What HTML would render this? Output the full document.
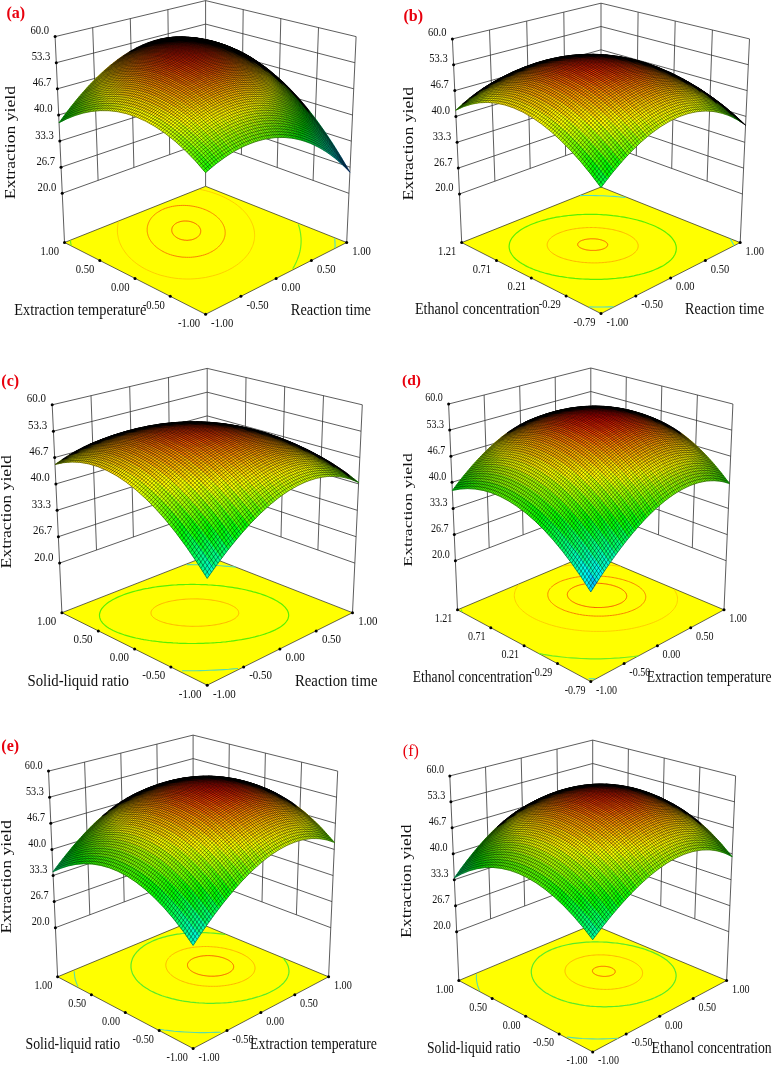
<!DOCTYPE html><html><head><meta charset="utf-8"><title>Response surfaces</title>
<style>html,body{margin:0;padding:0;background:#fff}svg{display:block;will-change:transform}text{font-family:"Liberation Serif",serif;fill:#111}</style></head><body>
<svg width="772" height="1065" viewBox="0 0 772 1065">
<rect width="772" height="1065" fill="#fff"/>
<g>
<path fill="none" stroke="#333" stroke-width=".8" d="M55.1,36.6L205.6,0.6 356.1,36.6M56.3,62.7L205.6,24.1 354.9,62.7M57.4,88.8L205.6,47.6 353.7,88.8M58.6,115L205.6,71.1 352.5,115M59.8,141.1L205.6,94.7 351.3,141.1M61,167.2L205.6,118.2 350.1,167.2M62.2,193.3L205.6,141.7 348.9,193.3M92.7,27.6L98.1,180.4M243.2,9.6L241.4,154.6M130.3,18.6L133.9,167.5M280.8,18.6L277.2,167.5M167.9,9.6L169.7,154.6M318.5,27.6L313.1,180.4M55.1,36.6L64.5,242.5M205.6,0.6L205.6,186.3M356.1,36.6L346.7,242.5"/>
<path fill="#ff0" stroke="#222" stroke-width=".7" d="M64.5,242.5 L205.6,314.3 346.7,242.5 205.6,186.3z"/>
<path fill="none" stroke="#f85a00" stroke-width="1.0" d="M198,225.5L197.7,225.2L197.5,225L197.2,224.7L196.8,224.5L196.5,224.3L196.1,224L195.8,223.8L195.4,223.5L194.9,223.3L194.5,223.1L194,222.8L193.5,222.6L193,222.4L192.4,222.2L191.8,222L191.2,221.8L190.5,221.6L189.9,221.5L189.2,221.3L188.5,221.2L187.7,221.1L187,221.1L186.2,221L185.5,221L184.7,221L183.9,221L183.2,221.1L182.4,221.2L181.7,221.3L181,221.4L180.3,221.6L179.7,221.8L179.1,222L178.5,222.2L177.9,222.4L177.4,222.6L176.9,222.9L176.4,223.1L175.9,223.4L175.5,223.7L175.2,223.9L174.8,224.2L174.5,224.5L174.2,224.8L173.9,225L173.7,225.3L173.4,225.6L173.2,225.8L173,226.1L172.8,226.4L172.7,226.6L172.5,226.9L172.4,227.1L172.3,227.4L172.2,227.6L172.1,227.9L172,228.1L172,228.4L171.9,228.6L171.9,228.8L171.8,229.1L171.8,229.3L171.8,229.5L171.7,229.7L171.7,230L171.7,230.2L171.7,230.4L171.8,230.6L171.8,230.8L171.8,231.1L171.9,231.3L171.9,231.5L171.9,231.7L172,231.9L172.1,232.2L172.2,232.4L172.2,232.6L172.3,232.8L172.4,233.1L172.5,233.3L172.7,233.5L172.8,233.7L172.9,234L173.1,234.2L173.3,234.4L173.4,234.7L173.6,234.9L173.8,235.2L174.1,235.4L174.3,235.6L174.5,235.9L174.8,236.1L175.1,236.4L175.4,236.6L175.8,236.9L176.1,237.2L176.5,237.4L176.9,237.7L177.3,237.9L177.8,238.2L178.3,238.4L178.8,238.6L179.3,238.9L179.9,239.1L180.5,239.3L181.2,239.5L181.8,239.7L182.5,239.8L183.2,239.9L184,240.1L184.7,240.2L185.5,240.2L186.3,240.3L187,240.3L187.8,240.3L188.6,240.2L189.4,240.1L190.1,240L190.9,239.9L191.6,239.8L192.3,239.6L192.9,239.4L193.5,239.2L194.1,239L194.7,238.7L195.2,238.5L195.7,238.2L196.2,238L196.6,237.7L197.1,237.4L197.4,237.1L197.8,236.9L198.1,236.6L198.4,236.3L198.7,236L198.9,235.8L199.1,235.5L199.3,235.2L199.5,234.9L199.7,234.7L199.9,234.4L200,234.2L200.1,233.9L200.2,233.7L200.3,233.4L200.4,233.2L200.5,232.9L200.6,232.7L200.6,232.4L200.6,232.2L200.7,232L200.7,231.7L200.7,231.5L200.7,231.3L200.7,231.1L200.7,230.8L200.7,230.6L200.7,230.4L200.7,230.2L200.6,230L200.6,229.7L200.5,229.5L200.5,229.3L200.4,229.1L200.3,228.9L200.2,228.7L200.1,228.4L200,228.2L199.9,228L199.8,227.8L199.7,227.6L199.5,227.3L199.4,227.1L199.2,226.9L199.1,226.6L198.9,226.4L198.7,226.2L198.5,225.9L198.2,225.7L198,225.5"/>
<path fill="none" stroke="#fa8200" stroke-width="1.0" d="M217.4,217.2L216.7,216.5L215.9,215.9L215.1,215.3L214.2,214.6L213.3,214L212.4,213.4L211.4,212.8L210.3,212.1L209.1,211.5L207.9,210.9L206.7,210.3L205.3,209.7L203.9,209.2L202.4,208.6L200.8,208.1L199.2,207.6L197.5,207.2L195.8,206.8L193.9,206.4L192.1,206.1L190.1,205.8L188.2,205.6L186.2,205.5L184.2,205.4L182.2,205.4L180.2,205.5L178.2,205.6L176.2,205.8L174.3,206.1L172.4,206.4L170.6,206.8L168.8,207.3L167.1,207.8L165.5,208.3L164,208.9L162.6,209.5L161.2,210.2L160,210.9L158.8,211.6L157.7,212.3L156.6,213L155.7,213.7L154.8,214.4L154,215.1L153.3,215.9L152.6,216.6L151.9,217.3L151.4,218L150.8,218.7L150.4,219.4L149.9,220.1L149.5,220.8L149.2,221.5L148.8,222.1L148.6,222.8L148.3,223.4L148.1,224.1L147.9,224.7L147.7,225.3L147.6,226L147.4,226.6L147.3,227.2L147.3,227.8L147.2,228.4L147.2,229L147.2,229.6L147.2,230.2L147.2,230.8L147.2,231.4L147.3,232L147.4,232.6L147.5,233.2L147.6,233.8L147.8,234.4L147.9,235L148.1,235.6L148.3,236.2L148.6,236.8L148.8,237.4L149.1,238L149.4,238.6L149.7,239.3L150.1,239.9L150.5,240.5L150.9,241.2L151.4,241.8L151.9,242.5L152.4,243.2L153,243.8L153.6,244.5L154.3,245.2L155,245.9L155.8,246.6L156.6,247.3L157.5,248L158.5,248.7L159.5,249.4L160.6,250.1L161.8,250.8L163,251.5L164.3,252.2L165.8,252.9L167.3,253.5L168.8,254.1L170.5,254.7L172.2,255.2L174.1,255.7L176,256.1L177.9,256.5L180,256.8L182,257.1L184.2,257.2L186.3,257.3L188.4,257.3L190.6,257.3L192.7,257.1L194.8,256.9L196.9,256.6L198.9,256.2L200.8,255.8L202.7,255.3L204.5,254.8L206.2,254.2L207.8,253.6L209.3,252.9L210.7,252.2L212.1,251.5L213.3,250.7L214.5,250L215.6,249.2L216.6,248.5L217.5,247.7L218.3,247L219.1,246.2L219.8,245.4L220.5,244.7L221.1,243.9L221.6,243.2L222.1,242.5L222.6,241.8L223,241L223.3,240.3L223.7,239.7L224,239L224.2,238.3L224.4,237.6L224.6,237L224.8,236.3L224.9,235.7L225,235.1L225.1,234.4L225.1,233.8L225.2,233.2L225.2,232.6L225.1,232L225.1,231.4L225.1,230.8L225,230.2L224.9,229.6L224.8,229L224.6,228.5L224.5,227.9L224.3,227.3L224.1,226.7L223.9,226.1L223.6,225.6L223.3,225L223.1,224.4L222.7,223.8L222.4,223.2L222,222.6L221.6,222L221.2,221.4L220.8,220.8L220.3,220.2L219.8,219.6L219.2,219L218.6,218.4L218,217.8L217.4,217.2"/>
<path fill="none" stroke="#ffc800" stroke-width="0.9" d="M240,207.4L238.7,206.4L237.4,205.3L236,204.2L234.5,203.2L232.9,202.1L231.2,201.1L229.4,200L227.5,199L225.5,197.9L223.4,196.9L221.2,195.9L218.9,194.9L216.5,194L213.9,193.1L211.2,192.2L208.4,191.4L205.5,190.6L202.5,189.9L199.4,189.3M118.6,221.4L118.3,222.5L118,223.6L117.8,224.7L117.7,225.8L117.6,226.8L117.5,227.9L117.4,228.9L117.4,230L117.4,231L117.4,232.1L117.5,233.1L117.6,234.2L117.8,235.2L118,236.3L118.2,237.3L118.4,238.4L118.7,239.5L119.1,240.6L119.4,241.6L119.8,242.7L120.3,243.8L120.8,245L121.3,246.1L121.9,247.2L122.6,248.4L123.3,249.5L124.1,250.7L124.9,251.9L125.8,253.1L126.8,254.4L127.8,255.6L129,256.9L130.2,258.1L131.6,259.4L133,260.7L134.6,262L136.2,263.3L138,264.6L140,265.9L142,267.2L144.3,268.5L146.6,269.7L149.2,270.9L151.9,272.1L154.7,273.2L157.7,274.3L160.9,275.3L164.2,276.1L167.6,276.9L171.2,277.6L174.9,278.2L178.6,278.6L182.5,278.9L186.3,279L190.2,279L194.1,278.8L197.9,278.5L201.7,278L205.4,277.5L208.9,276.7L212.4,275.9L215.7,275L218.9,274L221.9,272.9L224.7,271.7L227.4,270.5L229.9,269.2L232.3,267.9L234.4,266.5L236.5,265.2L238.4,263.8L240.1,262.4L241.7,261L243.2,259.7L244.5,258.3L245.8,256.9L246.9,255.6L247.9,254.3L248.9,253L249.7,251.7L250.5,250.4L251.1,249.1L251.7,247.9L252.3,246.6L252.8,245.4L253.2,244.2L253.5,243.1L253.8,241.9L254.1,240.8L254.3,239.6L254.4,238.5L254.5,237.4L254.6,236.3L254.6,235.3L254.6,234.2L254.5,233.1L254.4,232.1L254.3,231L254.1,230L253.9,229L253.7,227.9L253.4,226.9L253.1,225.9L252.7,224.9L252.3,223.9L251.9,222.9L251.4,221.9L250.9,220.8L250.4,219.8L249.8,218.8L249.2,217.8L248.5,216.8L247.8,215.8L247,214.7L246.2,213.7L245.3,212.7L244.3,211.6L243.4,210.6L242.3,209.5L241.2,208.5L240,207.4"/>
<path fill="none" stroke="#6ef01e" stroke-width="1.2" d="M70.4,240.3L70.6,242.1L70.9,243.9L71.3,245.8M292.7,268.7L294.1,266.4L295.2,264.2L296.3,262.1L297.2,259.9L298,257.8L298.8,255.8L299.4,253.7L299.9,251.7L300.3,249.7L300.6,247.8L300.8,245.9L301,244L301.1,242.1L301.1,240.3L301.1,238.5L300.9,236.7L300.7,234.9L300.5,233.1L300.2,231.4L299.8,229.6L299.4,227.9L298.9,226.2L298.3,224.5"/>
<path fill="none" stroke="#46dcd2" stroke-width="1.1" d="M335,248L335.1,245.6L335,243.2L334.9,240.8L334.6,238.5"/>
<defs><linearGradient id="a0" gradientUnits="userSpaceOnUse" x1="58.5" x2="213" y1="0" y2="0"><stop offset="0" stop-color="#00f510"/><stop offset=".025" stop-color="#00f510"/><stop offset=".05" stop-color="#0bf500"/><stop offset=".175" stop-color="#82f500"/><stop offset=".3" stop-color="#d1f800"/><stop offset=".425" stop-color="#fcfc00"/><stop offset=".525" stop-color="#fffa00"/><stop offset=".6" stop-color="#fbff00"/><stop offset=".75" stop-color="#c2ff00"/><stop offset=".875" stop-color="#6fff00"/><stop offset=".975" stop-color="#16ff00"/><stop offset="1" stop-color="#16ff00"/></linearGradient><linearGradient id="a1" gradientUnits="userSpaceOnUse" x1="65" x2="219.9" y1="0" y2="0"><stop offset="0" stop-color="#24f900"/><stop offset=".025" stop-color="#25f900"/><stop offset=".15" stop-color="#a1f800"/><stop offset=".275" stop-color="#f5f900"/><stop offset=".45" stop-color="#ffdc00"/><stop offset=".55" stop-color="#ffde00"/><stop offset=".7" stop-color="#fbff00"/><stop offset=".85" stop-color="#9eff00"/><stop offset=".975" stop-color="#2eff00"/><stop offset="1" stop-color="#2eff00"/></linearGradient><linearGradient id="a2" gradientUnits="userSpaceOnUse" x1="71.6" x2="226.8" y1="0" y2="0"><stop offset="0" stop-color="#5bfe00"/><stop offset=".025" stop-color="#5cfe00"/><stop offset=".1" stop-color="#a9fc00"/><stop offset=".2" stop-color="#f7fb00"/><stop offset=".35" stop-color="#feca00"/><stop offset=".475" stop-color="#febd00"/><stop offset=".6" stop-color="#ffcd00"/><stop offset=".725" stop-color="#fff600"/><stop offset=".75" stop-color="#fcff00"/><stop offset=".825" stop-color="#c9ff00"/><stop offset=".975" stop-color="#41ff00"/><stop offset="1" stop-color="#41ff00"/></linearGradient><linearGradient id="a3" gradientUnits="userSpaceOnUse" x1="78.1" x2="233.5" y1="0" y2="0"><stop offset="0" stop-color="#8dff00"/><stop offset=".025" stop-color="#8eff00"/><stop offset=".1" stop-color="#d9ff00"/><stop offset=".15" stop-color="#fffc00"/><stop offset=".3" stop-color="#fcb900"/><stop offset=".45" stop-color="#fba200"/><stop offset=".6" stop-color="#feb600"/><stop offset=".775" stop-color="#fffc00"/><stop offset=".85" stop-color="#caff00"/><stop offset=".975" stop-color="#51ff00"/><stop offset="1" stop-color="#51ff00"/></linearGradient><linearGradient id="a4" gradientUnits="userSpaceOnUse" x1="84.5" x2="240.2" y1="0" y2="0"><stop offset="0" stop-color="#baff00"/><stop offset=".025" stop-color="#bcff00"/><stop offset=".1" stop-color="#fffb00"/><stop offset=".25" stop-color="#f9ab00"/><stop offset=".4" stop-color="#f78a00"/><stop offset=".5" stop-color="#f98d00"/><stop offset=".625" stop-color="#fda900"/><stop offset=".8" stop-color="#fffc00"/><stop offset=".9" stop-color="#acff00"/><stop offset=".975" stop-color="#5cfd00"/><stop offset="1" stop-color="#5bfd00"/></linearGradient><linearGradient id="a5" gradientUnits="userSpaceOnUse" x1="91" x2="246.8" y1="0" y2="0"><stop offset="0" stop-color="#e4ff00"/><stop offset=".025" stop-color="#e5ff00"/><stop offset=".05" stop-color="#feff00"/><stop offset=".075" stop-color="#fe0"/><stop offset=".15" stop-color="#f9bc00"/><stop offset=".225" stop-color="#f39800"/><stop offset=".325" stop-color="#f27b00"/><stop offset=".4" stop-color="#f37000"/><stop offset=".475" stop-color="#f57300"/><stop offset=".625" stop-color="#fb9900"/><stop offset=".825" stop-color="#fcff00"/><stop offset=".975" stop-color="#63fc00"/><stop offset="1" stop-color="#62fc00"/></linearGradient><linearGradient id="a6" gradientUnits="userSpaceOnUse" x1="97.4" x2="253.3" y1="0" y2="0"><stop offset="0" stop-color="#fff700"/><stop offset=".025" stop-color="#fff600"/><stop offset=".125" stop-color="#f1aa00"/><stop offset=".25" stop-color="#ec7400"/><stop offset=".35" stop-color="#ed5a00"/><stop offset=".425" stop-color="#f05600"/><stop offset=".525" stop-color="#f46800"/><stop offset=".65" stop-color="#fa9700"/><stop offset=".825" stop-color="#fffb00"/><stop offset=".875" stop-color="#d5fe00"/><stop offset=".975" stop-color="#66fa00"/><stop offset="1" stop-color="#65fa00"/></linearGradient><linearGradient id="a7" gradientUnits="userSpaceOnUse" x1="103.7" x2="259.7" y1="0" y2="0"><stop offset="0" stop-color="#f6d400"/><stop offset=".025" stop-color="#f6d300"/><stop offset=".1" stop-color="#e79b00"/><stop offset=".225" stop-color="#e46100"/><stop offset=".325" stop-color="#e74600"/><stop offset=".4" stop-color="#ea4100"/><stop offset=".475" stop-color="#ef4a00"/><stop offset=".575" stop-color="#f46a00"/><stop offset=".7" stop-color="#fca700"/><stop offset=".825" stop-color="#fef600"/><stop offset=".85" stop-color="#f0fd00"/><stop offset=".975" stop-color="#64f900"/><stop offset="1" stop-color="#63f900"/></linearGradient><linearGradient id="a8" gradientUnits="userSpaceOnUse" x1="110.1" x2="266.1" y1="0" y2="0"><stop offset="0" stop-color="#dcaa00"/><stop offset=".025" stop-color="#dca900"/><stop offset=".075" stop-color="#d78a00"/><stop offset=".225" stop-color="#da4900"/><stop offset=".375" stop-color="#e42f00"/><stop offset=".45" stop-color="#e93600"/><stop offset=".55" stop-color="#f05500"/><stop offset=".7" stop-color="#fba200"/><stop offset=".825" stop-color="#fdf400"/><stop offset=".85" stop-color="#effc00"/><stop offset=".975" stop-color="#60f700"/><stop offset="1" stop-color="#5ef700"/></linearGradient><linearGradient id="a9" gradientUnits="userSpaceOnUse" x1="116.4" x2="272.3" y1="0" y2="0"><stop offset="0" stop-color="#b67e00"/><stop offset=".025" stop-color="#b67e00"/><stop offset=".25" stop-color="#d22f00"/><stop offset=".325" stop-color="#da2400"/><stop offset=".425" stop-color="#e32700"/><stop offset=".5" stop-color="#ea3a00"/><stop offset=".575" stop-color="#f05a00"/><stop offset=".75" stop-color="#fec200"/><stop offset=".825" stop-color="#fbf500"/><stop offset=".875" stop-color="#cef900"/><stop offset=".975" stop-color="#57f600"/><stop offset="1" stop-color="#55f600"/></linearGradient><linearGradient id="a10" gradientUnits="userSpaceOnUse" x1="122.7" x2="278.5" y1="0" y2="0"><stop offset="0" stop-color="#754900"/><stop offset=".025" stop-color="#774a00"/><stop offset=".075" stop-color="#9b4f00"/><stop offset=".15" stop-color="#b43a00"/><stop offset=".325" stop-color="#d21900"/><stop offset=".45" stop-color="#e12500"/><stop offset=".575" stop-color="#ee5700"/><stop offset=".725" stop-color="#fcb400"/><stop offset=".825" stop-color="#faf900"/><stop offset=".975" stop-color="#4bf400"/><stop offset="1" stop-color="#48f400"/></linearGradient><linearGradient id="a11" gradientUnits="userSpaceOnUse" x1="128.9" x2="284.6" y1="0" y2="0"><stop offset="0" stop-color="#000"/><stop offset=".025" stop-color="#000"/><stop offset=".05" stop-color="#3f2100"/><stop offset=".075" stop-color="#662d00"/><stop offset=".125" stop-color="#8e2d00"/><stop offset=".175" stop-color="#a42400"/><stop offset=".3" stop-color="#c51300"/><stop offset=".425" stop-color="#da1d00"/><stop offset=".55" stop-color="#ea4b00"/><stop offset=".725" stop-color="#fcba00"/><stop offset=".8" stop-color="#faed00"/><stop offset=".825" stop-color="#eff800"/><stop offset=".975" stop-color="#3bf300"/><stop offset="1" stop-color="#37f300"/></linearGradient><linearGradient id="a12" gradientUnits="userSpaceOnUse" x1="135" x2="290.6" y1="0" y2="0"><stop offset="0" stop-color="#000"/><stop offset=".05" stop-color="#000"/><stop offset=".075" stop-color="#0c0500"/><stop offset=".1" stop-color="#3f1500"/><stop offset=".125" stop-color="#5f1a00"/><stop offset=".2" stop-color="#951700"/><stop offset=".3" stop-color="#b90f00"/><stop offset=".425" stop-color="#d41d00"/><stop offset=".55" stop-color="#e85000"/><stop offset=".725" stop-color="#fdc300"/><stop offset=".8" stop-color="#f9f700"/><stop offset=".875" stop-color="#a6f500"/><stop offset=".975" stop-color="#27f200"/><stop offset="1" stop-color="#24f200"/></linearGradient><linearGradient id="a13" gradientUnits="userSpaceOnUse" x1="141.2" x2="296.5" y1="0" y2="0"><stop offset="0" stop-color="#000"/><stop offset=".1" stop-color="#000"/><stop offset=".125" stop-color="#180600"/><stop offset=".175" stop-color="#5e1000"/><stop offset=".225" stop-color="#861000"/><stop offset=".3" stop-color="#aa0f00"/><stop offset=".425" stop-color="#ce2100"/><stop offset=".525" stop-color="#e24a00"/><stop offset=".7" stop-color="#fcbd00"/><stop offset=".775" stop-color="#f9f100"/><stop offset=".8" stop-color="#e8f800"/><stop offset=".875" stop-color="#92f400"/><stop offset=".975" stop-color="#10f100"/><stop offset="1" stop-color="#0cf100"/></linearGradient><linearGradient id="a14" gradientUnits="userSpaceOnUse" x1="147.3" x2="302.3" y1="0" y2="0"><stop offset="0" stop-color="#000"/><stop offset=".15" stop-color="#000"/><stop offset=".2" stop-color="#420a00"/><stop offset=".25" stop-color="#750d00"/><stop offset=".325" stop-color="#a31300"/><stop offset=".425" stop-color="#c72800"/><stop offset=".525" stop-color="#e05600"/><stop offset=".7" stop-color="#fdcc00"/><stop offset=".75" stop-color="#faee00"/><stop offset=".775" stop-color="#eef800"/><stop offset=".85" stop-color="#99f500"/><stop offset=".95" stop-color="#19f100"/><stop offset=".975" stop-color="#00f008"/><stop offset="1" stop-color="#00f00c"/></linearGradient><linearGradient id="a15" gradientUnits="userSpaceOnUse" x1="153.3" x2="308" y1="0" y2="0"><stop offset="0" stop-color="#000"/><stop offset=".2" stop-color="#000"/><stop offset=".25" stop-color="#470a00"/><stop offset=".3" stop-color="#7a1200"/><stop offset=".4" stop-color="#b52800"/><stop offset=".5" stop-color="#d75600"/><stop offset=".675" stop-color="#fdcb00"/><stop offset=".75" stop-color="#f1fa00"/><stop offset=".95" stop-color="#00f005"/><stop offset=".975" stop-color="#00ef23"/><stop offset="1" stop-color="#00ef26"/></linearGradient><linearGradient id="a16" gradientUnits="userSpaceOnUse" x1="159.3" x2="313.6" y1="0" y2="0"><stop offset="0" stop-color="#000"/><stop offset=".25" stop-color="#040100"/><stop offset=".325" stop-color="#6b1700"/><stop offset=".4" stop-color="#a73100"/><stop offset=".5" stop-color="#d46600"/><stop offset=".6" stop-color="#f1a600"/><stop offset=".675" stop-color="#ffe100"/><stop offset=".725" stop-color="#f2fc00"/><stop offset=".925" stop-color="#00f103"/><stop offset=".975" stop-color="#00ef3f"/><stop offset="1" stop-color="#00ef43"/></linearGradient><linearGradient id="a17" gradientUnits="userSpaceOnUse" x1="165.2" x2="319.2" y1="0" y2="0"><stop offset="0" stop-color="#000"/><stop offset=".3" stop-color="#050100"/><stop offset=".375" stop-color="#772900"/><stop offset=".425" stop-color="#a54600"/><stop offset=".525" stop-color="#dc8700"/><stop offset=".65" stop-color="#ffe600"/><stop offset=".675" stop-color="#fff800"/><stop offset=".7" stop-color="#f0ff00"/><stop offset=".9" stop-color="#00f104"/><stop offset=".975" stop-color="#00ee5e"/><stop offset="1" stop-color="#00ee63"/></linearGradient><linearGradient id="a18" gradientUnits="userSpaceOnUse" x1="171.1" x2="324.6" y1="0" y2="0"><stop offset="0" stop-color="#000"/><stop offset=".35" stop-color="#030100"/><stop offset=".4" stop-color="#683200"/><stop offset=".45" stop-color="#a75e00"/><stop offset=".525" stop-color="#d90"/><stop offset=".6" stop-color="#fddb00"/><stop offset=".625" stop-color="#ffed00"/><stop offset=".65" stop-color="#ff0"/><stop offset=".7" stop-color="#ceff00"/><stop offset=".85" stop-color="#19f400"/><stop offset=".875" stop-color="#00f308"/><stop offset=".975" stop-color="#00ed80"/><stop offset="1" stop-color="#00ed85"/></linearGradient><linearGradient id="a19" gradientUnits="userSpaceOnUse" x1="180.7" x2="330" y1="0" y2="0"><stop offset="0" stop-color="#000"/><stop offset=".375" stop-color="#000"/><stop offset=".4" stop-color="#2d1b00"/><stop offset=".425" stop-color="#734800"/><stop offset=".45" stop-color="#a16c00"/><stop offset=".475" stop-color="#c18a00"/><stop offset=".525" stop-color="#ebc000"/><stop offset=".575" stop-color="#fe0"/><stop offset=".6" stop-color="#fffe00"/><stop offset=".675" stop-color="#bf0"/><stop offset=".825" stop-color="#0cf700"/><stop offset=".85" stop-color="#00f512"/><stop offset=".975" stop-color="#00eda6"/><stop offset="1" stop-color="#00ecab"/></linearGradient><linearGradient id="a20" gradientUnits="userSpaceOnUse" x1="194.6" x2="335.2" y1="0" y2="0"><stop offset="0" stop-color="#000"/><stop offset=".4" stop-color="#000"/><stop offset=".425" stop-color="#a07e00"/><stop offset=".45" stop-color="#d9b400"/><stop offset=".475" stop-color="#f9db00"/><stop offset=".5" stop-color="#ffed00"/><stop offset=".525" stop-color="#fffc00"/><stop offset=".575" stop-color="#dcff00"/><stop offset=".675" stop-color="#7fff00"/><stop offset=".775" stop-color="#0ffe00"/><stop offset=".8" stop-color="#00fa0d"/><stop offset=".975" stop-color="#00ebcf"/><stop offset="1" stop-color="#00ebd2"/></linearGradient><linearGradient id="a21" gradientUnits="userSpaceOnUse" x1="208.5" x2="340.4" y1="0" y2="0"><stop offset="0" stop-color="#000"/><stop offset=".425" stop-color="#000"/><stop offset=".45" stop-color="#faff00"/><stop offset=".6" stop-color="#85ff00"/><stop offset=".725" stop-color="#08ff00"/><stop offset=".75" stop-color="#0f1"/><stop offset=".95" stop-color="#00eadd"/><stop offset=".975" stop-color="#00d6e8"/><stop offset="1" stop-color="#00d4e8"/></linearGradient><linearGradient id="a22" gradientUnits="userSpaceOnUse" x1="222.5" x2="345.4" y1="0" y2="0"><stop offset="0" stop-color="#000"/><stop offset=".475" stop-color="#000"/><stop offset=".5" stop-color="#92ff00"/><stop offset=".65" stop-color="#0eff00"/><stop offset=".675" stop-color="#00ff09"/><stop offset=".775" stop-color="#00fe65"/><stop offset=".9" stop-color="#00e8d6"/><stop offset=".925" stop-color="#00dde6"/><stop offset=".975" stop-color="#009de2"/><stop offset="1" stop-color="#009ce2"/></linearGradient><linearGradient id="a23" gradientUnits="userSpaceOnUse" x1="236.5" x2="350.4" y1="0" y2="0"><stop offset="0" stop-color="#000"/><stop offset=".625" stop-color="#000"/><stop offset=".65" stop-color="#00ff36"/><stop offset=".725" stop-color="#0f7"/><stop offset=".775" stop-color="#00e796"/><stop offset=".85" stop-color="#00d8cc"/><stop offset=".875" stop-color="#00cad5"/><stop offset=".975" stop-color="#005dcc"/><stop offset="1" stop-color="#005dcc"/></linearGradient></defs>
<g stroke-width=".7">
<path fill="url(#a0)" stroke="url(#a0)" d="M205.6,172.7Q185.2,147.9 164.7,133Q145.5,119 126.5,113.7Q108.8,108.8 91.2,111.5Q75,113.9 59,122.8L60.6,120.5L62.3,118.2L63.9,116L65.5,113.8Q81.7,105.3 97.9,103.2Q115.6,100.9 133.4,106.2Q152.5,111.8 171.7,126.2Q192.1,141.5 212.5,166.6L210.8,168.1L209.1,169.6L207.3,171.1z"/>
<path fill="url(#a1)" stroke="url(#a1)" d="M212.5,166.6Q192.1,141.5 171.7,126.2Q152.5,111.8 133.4,106.2Q115.6,100.9 97.9,103.2Q81.7,105.3 65.5,113.8L67.2,111.6L68.8,109.5L70.4,107.3L72.1,105.3Q88.3,97.1 104.6,95.4Q122.4,93.5 140.2,99.1Q159.4,105.2 178.6,120Q199.1,135.7 219.4,161.2L217.7,162.5L216,163.8L214.3,165.2z"/>
<path fill="url(#a2)" stroke="url(#a2)" d="M219.4,161.2Q199.1,135.7 178.6,120Q159.4,105.2 140.2,99.1Q122.4,93.5 104.6,95.4Q88.3,97.1 72.1,105.3L73.7,103.2L75.3,101.2L76.9,99.2L78.6,97.3Q94.9,89.5 111.3,88.1Q129.1,86.7 147,92.7Q166.2,99.2 185.4,114.3Q205.9,130.5 226.3,156.3L224.6,157.5L222.9,158.7L221.2,159.9z"/>
<path fill="url(#a3)" stroke="url(#a3)" d="M226.3,156.3Q205.9,130.5 185.4,114.3Q166.2,99.2 147,92.7Q129.1,86.7 111.3,88.1Q94.9,89.5 78.6,97.3L80.2,95.4L81.8,93.5L83.4,91.7L85,89.8Q101.4,82.4 117.9,81.4Q135.8,80.4 153.7,86.8Q173,93.7 192.2,109.3Q212.7,125.8 233,152L231.3,153L229.7,154.1L228,155.2z"/>
<path fill="url(#a4)" stroke="url(#a4)" d="M233,152Q212.7,125.8 192.2,109.3Q173,93.7 153.7,86.8Q135.8,80.4 117.9,81.4Q101.4,82.4 85,89.8L86.6,88.1L88.2,86.3L89.9,84.6L91.5,82.9Q108,75.9 124.5,75.3Q142.4,74.6 160.4,81.5Q179.7,88.8 198.9,104.8Q219.4,121.7 239.7,148.3L238,149.2L236.4,150.1L234.7,151z"/>
<path fill="url(#a5)" stroke="url(#a5)" d="M239.7,148.3Q219.4,121.7 198.9,104.8Q179.7,88.8 160.4,81.5Q142.4,74.6 124.5,75.3Q108,75.9 91.5,82.9L93.1,81.2L94.7,79.6L96.3,78L97.9,76.5Q114.5,69.9 131.1,69.7Q149,69.4 167,76.7Q186.3,84.5 205.6,100.8Q226,118.2 246.3,145.2L244.7,145.9L243,146.7L241.4,147.5z"/>
<path fill="url(#a6)" stroke="url(#a6)" d="M246.3,145.2Q226,118.2 205.6,100.8Q186.3,84.5 167,76.7Q149,69.4 131.1,69.7Q114.5,69.9 97.9,76.5L99.5,74.9L101.1,73.4L102.7,72L104.2,70.5Q120.9,64.4 137.6,64.6Q155.6,64.8 173.6,72.5Q192.9,80.7 212.2,97.4Q232.6,115.2 252.8,142.6L251.2,143.2L249.6,143.8L247.9,144.5z"/>
<path fill="url(#a7)" stroke="url(#a7)" d="M252.8,142.6Q232.6,115.2 212.2,97.4Q192.9,80.7 173.6,72.5Q155.6,64.8 137.6,64.6Q120.9,64.4 104.2,70.5L105.8,69.1L107.4,67.8L109,66.4L110.6,65.1Q127.3,59.4 144,60Q162.1,60.7 180.1,68.7Q199.5,77.4 218.7,94.6Q239.1,112.8 259.2,140.5L257.6,141L256,141.5L254.4,142z"/>
<path fill="url(#a8)" stroke="url(#a8)" d="M259.2,140.5Q239.1,112.8 218.7,94.6Q199.5,77.4 180.1,68.7Q162.1,60.7 144,60Q127.3,59.4 110.6,65.1L112.2,63.9L113.7,62.6L115.3,61.4L116.9,60.2Q133.7,54.9 150.4,55.9Q168.5,57 186.6,65.6Q205.9,74.7 225.1,92.3Q245.5,110.9 265.6,139L264,139.3L262.4,139.7L260.8,140.1z"/>
<path fill="url(#a9)" stroke="url(#a9)" d="M265.6,139Q245.5,110.9 225.1,92.3Q205.9,74.7 186.6,65.6Q168.5,57 150.4,55.9Q133.7,54.9 116.9,60.2L118.5,59.1L120,57.9L121.6,56.8L123.2,55.8Q140,50.9 156.8,52.4Q174.9,53.9 193,62.9Q212.3,72.5 231.5,90.5Q251.8,109.5 271.8,138L270.3,138.2L268.7,138.4L267.2,138.7z"/>
<path fill="url(#a10)" stroke="url(#a10)" d="M271.8,138Q251.8,109.5 231.5,90.5Q212.3,72.5 193,62.9Q174.9,53.9 156.8,52.4Q140,50.9 123.2,55.8L124.7,54.8L126.3,53.8L127.8,52.8L129.4,51.8Q146.3,47.4 163.1,49.3Q181.3,51.4 199.3,60.7Q218.6,70.8 237.8,89.2Q258.1,108.7 278,137.5L276.5,137.5L274.9,137.6L273.4,137.8z"/>
<path fill="url(#a11)" stroke="url(#a11)" d="M278,137.5Q258.1,108.7 237.8,89.2Q218.6,70.8 199.3,60.7Q181.3,51.4 163.1,49.3Q146.3,47.4 129.4,51.8L130.9,50.9L132.5,50.1L134,49.2L135.5,48.4Q152.5,44.4 169.3,46.8Q187.5,49.3 205.6,59.1Q224.9,69.6 244,88.4Q264.2,108.3 284.1,137.5L282.6,137.4L281.1,137.4L279.5,137.4z"/>
<path fill="url(#a12)" stroke="url(#a12)" d="M284.1,137.5Q264.2,108.3 244,88.4Q224.9,69.6 205.6,59.1Q187.5,49.3 169.3,46.8Q152.5,44.4 135.5,48.4L137.1,47.6L138.6,46.8L140.1,46.1L141.7,45.4Q158.7,41.9 175.5,44.7Q193.7,47.7 211.8,57.9Q231.1,68.9 250.1,88.1Q270.3,108.4 290.1,137.9L288.6,137.8L287.1,137.6L285.6,137.5z"/>
<path fill="url(#a13)" stroke="url(#a13)" d="M290.1,137.9Q270.3,108.4 250.1,88.1Q231.1,68.9 211.8,57.9Q193.7,47.7 175.5,44.7Q158.7,41.9 141.7,45.4L143.2,44.7L144.7,44.1L146.2,43.5L147.8,42.9Q164.8,39.9 181.7,43.1Q199.9,46.5 217.9,57.2Q237.2,68.7 256.2,88.3Q276.3,109.1 296,138.9L294.5,138.6L293,138.4L291.6,138.1z"/>
<path fill="url(#a14)" stroke="url(#a14)" d="M296,138.9Q276.3,109.1 256.2,88.3Q237.2,68.7 217.9,57.2Q199.9,46.5 181.7,43.1Q164.8,39.9 147.8,42.9L149.3,42.3L150.8,41.8L152.3,41.3L153.8,40.8Q170.8,38.3 187.7,41.9Q205.9,45.9 224,57Q243.2,68.9 262.1,88.9Q282.2,110.1 301.8,140.3L300.4,139.9L298.9,139.6L297.4,139.2z"/>
<path fill="url(#a15)" stroke="url(#a15)" d="M301.8,140.3Q282.2,110.1 262.1,88.9Q243.2,68.9 224,57Q205.9,45.9 187.7,41.9Q170.8,38.3 153.8,40.8L155.3,40.4L156.8,40L158.3,39.6L159.8,39.2Q176.8,37.1 193.8,41.3Q211.9,45.7 229.9,57.3Q249.1,69.6 268,90.1Q288,111.7 307.5,142.2L306.1,141.7L304.7,141.2L303.2,140.8z"/>
<path fill="url(#a16)" stroke="url(#a16)" d="M307.5,142.2Q288,111.7 268,90.1Q249.1,69.6 229.9,57.3Q211.9,45.7 193.8,41.3Q176.8,37.1 159.8,39.2L161.3,38.9L162.7,38.6L164.2,38.3L165.7,38.1Q182.8,36.5 199.7,41Q217.9,46 235.8,58Q255,70.8 273.8,91.6Q293.7,113.7 313.1,144.5L311.7,143.9L310.3,143.3L308.9,142.8z"/>
<path fill="url(#a17)" stroke="url(#a17)" d="M313.1,144.5Q293.7,113.7 273.8,91.6Q255,70.8 235.8,58Q217.9,46 199.7,41Q182.8,36.5 165.7,38.1L167.2,37.8L168.6,37.6L170.1,37.5L171.6,37.3Q188.7,36.2 205.6,41.3Q223.8,46.7 241.7,59.1Q260.8,72.4 279.5,93.6Q299.4,116.1 318.7,147.3L317.3,146.6L315.9,145.9L314.5,145.2z"/>
<path fill="url(#a18)" stroke="url(#a18)" d="M318.7,147.3Q299.4,116.1 279.5,93.6Q260.8,72.4 241.7,59.1Q223.8,46.7 205.6,41.3Q188.7,36.2 171.6,37.3L173,37.2L174.5,37.1L177.7,37L181.2,37Q197.9,37 214.4,42.9Q232.1,49.2 249.5,62.2Q268.1,76 286.3,97.3Q305.4,119.8 324.1,150.5L322.8,149.6L321.4,148.8L320,148z"/>
<path fill="url(#a19)" stroke="url(#a19)" d="M324.1,150.5Q305.4,119.8 286.3,97.3Q268.1,76 249.5,62.2Q232.1,49.2 214.4,42.9Q197.9,37 181.2,37L184.6,37L188.1,37.2L191.6,37.5L195.1,37.8Q210.9,39.7 226.6,46.8Q243.3,54.4 259.7,67.9Q277.1,82.2 294.1,103Q312,125 329.5,154L328.1,153.1L326.8,152.2L325.5,151.3z"/>
<path fill="url(#a20)" stroke="url(#a20)" d="M329.5,154Q312,125 294.1,103Q277.1,82.2 259.7,67.9Q243.3,54.4 226.6,46.8Q210.9,39.7 195.1,37.8L198.5,38.3L202,38.8L205.5,39.5L209,40.3Q229.2,44.9 249,58.1Q270.3,72.3 291.1,96.2Q313.3,121.7 334.7,158L333.4,157L332.1,156L330.8,155z"/>
<path fill="url(#a21)" stroke="url(#a21)" d="M334.7,158Q313.3,121.7 291.1,96.2Q270.3,72.3 249,58.1Q229.2,44.9 209,40.3L212.5,41.1L216,42.1L219.5,43.2L223,44.3Q241.9,50.9 260.4,65Q280.2,80 299.6,103.4Q320,128.2 339.9,162.4L338.6,161.2L337.3,160.1L336,159.1z"/>
<path fill="url(#a22)" stroke="url(#a22)" d="M339.9,162.4Q320,128.2 299.6,103.4Q280.2,80 260.4,65Q241.9,50.9 223,44.3L226.5,45.6L230,47L233.5,48.5L237,50Q254.6,58.2 271.8,72.9Q290.1,88.5 307.9,111.3Q326.7,135.2 344.9,167.1L343.7,165.9L342.4,164.7L341.1,163.5z"/>
<path fill="url(#a23)" stroke="url(#a23)" d="M344.9,167.1Q326.7,135.2 307.9,111.3Q290.1,88.5 271.8,72.9Q254.6,58.2 237,50L240.5,51.7L244,53.5L247.5,55.4L251.1,57.4Q267.2,67 283.1,82Q299.8,97.8 316.2,119.7Q333.3,142.7 349.9,172.2L348.7,170.9L347.4,169.6L346.2,168.3z"/>
</g>
<path fill="none" stroke="#000" stroke-width="0.42" d="M205.6,172.7Q185.2,147.9 164.7,133Q145.5,119 126.5,113.7Q108.8,108.8 91.2,111.5Q75,113.9 59,122.8M207.7,170.8Q187.3,146 166.8,130.9Q147.6,116.8 128.6,111.4Q110.8,106.4 93.2,108.9Q77,111.3 61,120M209.8,169Q189.4,144 168.9,128.9Q149.7,114.6 130.6,109.1Q112.9,104 95.3,106.4Q79,108.7 62.9,117.3M211.9,167.2Q191.4,142.1 171,126.9Q151.8,112.5 132.7,106.9Q114.9,101.7 97.3,104Q81,106.1 64.9,114.7M213.9,165.5Q193.5,140.3 173.1,124.9Q153.9,110.5 134.7,104.7Q116.9,99.4 99.3,101.6Q83,103.6 66.8,112M216,163.8Q195.6,138.5 175.1,123Q155.9,108.5 136.8,102.6Q119,97.1 101.3,99.2Q85,101.1 68.8,109.5M218.1,162.2Q197.7,136.8 177.2,121.2Q158,106.5 138.8,100.5Q121,94.9 103.3,96.9Q87,98.7 70.8,106.9M220.1,160.7Q199.7,135.2 179.3,119.4Q160,104.6 140.9,98.5Q123,92.8 105.3,94.6Q89,96.3 72.7,104.5M222.2,159.2Q201.8,133.5 181.3,117.7Q162.1,102.7 142.9,96.5Q125.1,90.7 107.3,92.4Q90.9,94 74.7,102M224.2,157.7Q203.9,132 183.4,116Q164.1,100.9 145,94.6Q127.1,88.6 109.3,90.2Q92.9,91.7 76.6,99.6M226.3,156.3Q205.9,130.5 185.4,114.3Q166.2,99.2 147,92.7Q129.1,86.7 111.3,88.1Q94.9,89.5 78.6,97.3M228.3,155Q208,129 187.5,112.8Q168.2,97.5 149,90.9Q131.1,84.7 113.3,86.1Q96.9,87.3 80.5,95M230.3,153.7Q210,127.6 189.5,111.2Q170.3,95.9 151,89.1Q133.1,82.8 115.3,84.1Q98.8,85.2 82.4,92.8M232.4,152.4Q212,126.3 191.5,109.8Q172.3,94.3 153.1,87.4Q135.1,81 117.3,82.1Q100.8,83.1 84.4,90.6M234.4,151.2Q214,125 193.6,108.3Q174.3,92.7 155.1,85.7Q137.1,79.2 119.3,80.2Q102.7,81.1 86.3,88.4M236.4,150.1Q216.1,123.7 195.6,107Q176.3,91.2 157.1,84.1Q139.1,77.4 121.2,78.3Q104.7,79.1 88.2,86.3M238.4,149Q218.1,122.5 197.6,105.6Q178.3,89.8 159.1,82.5Q141.1,75.7 123.2,76.5Q106.7,77.2 90.2,84.2M240.4,148Q220.1,121.4 199.6,104.4Q180.4,88.4 161.1,81Q143.1,74.1 125.2,74.7Q108.6,75.3 92.1,82.2M242.3,147Q222.1,120.3 201.6,103.1Q182.4,87 163.1,79.5Q145.1,72.5 127.2,73Q110.6,73.4 94,80.3M244.3,146Q224.1,119.2 203.6,102Q184.4,85.7 165.1,78.1Q147.1,70.9 129.1,71.3Q112.5,71.6 96,78.3M246.3,145.2Q226,118.2 205.6,100.8Q186.3,84.5 167,76.7Q149,69.4 131.1,69.7Q114.5,69.9 97.9,76.5M248.3,144.3Q228,117.3 207.6,99.8Q188.3,83.3 169,75.4Q151,68 133,68.1Q116.4,68.2 99.8,74.6M250.2,143.5Q230,116.4 209.5,98.7Q190.3,82.1 171,74.1Q153,66.6 135,66.5Q118.3,66.5 101.7,72.9M252.2,142.8Q232,115.5 211.5,97.8Q192.3,81 173,72.9Q154.9,65.2 136.9,65.1Q120.3,64.9 103.6,71.1M254.1,142.1Q233.9,114.7 213.5,96.8Q194.2,80 174.9,71.7Q156.9,63.9 138.9,63.6Q122.2,63.3 105.5,69.4M256,141.5Q235.9,114 215.4,95.9Q196.2,79 176.9,70.5Q158.9,62.7 140.8,62.2Q124.1,61.8 107.4,67.8M258,140.9Q237.8,113.3 217.4,95.1Q198.2,78 178.8,69.4Q160.8,61.4 142.7,60.9Q126,60.3 109.3,66.2M259.9,140.3Q239.7,112.6 219.3,94.3Q200.1,77.1 180.8,68.4Q162.7,60.3 144.7,59.6Q128,58.9 111.2,64.6M261.8,139.8Q241.7,112 221.3,93.6Q202.1,76.3 182.7,67.4Q164.7,59.1 146.6,58.3Q129.9,57.5 113.1,63.1M263.7,139.4Q243.6,111.4 223.2,92.9Q204,75.5 184.7,66.5Q166.6,58.1 148.5,57.1Q131.8,56.2 115,61.6M265.6,139Q245.5,110.9 225.1,92.3Q205.9,74.7 186.6,65.6Q168.5,57 150.4,55.9Q133.7,54.9 116.9,60.2M267.5,138.6Q247.4,110.4 227,91.7Q207.8,74 188.5,64.7Q170.5,56.1 152.4,54.8Q135.6,53.6 118.8,58.8M269.3,138.3Q249.3,110 228.9,91.1Q209.8,73.3 190.4,63.9Q172.4,55.1 154.3,53.7Q137.5,52.4 120.7,57.5M271.2,138Q251.2,109.7 230.8,90.6Q211.7,72.7 192.4,63.1Q174.3,54.2 156.2,52.7Q139.4,51.3 122.5,56.2M273.1,137.8Q253.1,109.3 232.7,90.2Q213.6,72.1 194.3,62.4Q176.2,53.4 158.1,51.7Q141.3,50.2 124.4,55M274.9,137.6Q255,109 234.6,89.7Q215.5,71.6 196.2,61.8Q178.1,52.6 160,50.8Q143.1,49.1 126.3,53.8M276.8,137.5Q256.8,108.8 236.5,89.4Q217.4,71.1 198.1,61.1Q180,51.8 161.8,49.9Q145,48.1 128.1,52.6M278.6,137.4Q258.7,108.6 238.4,89.1Q219.3,70.6 199.9,60.5Q181.9,51.1 163.7,49Q146.9,47.1 130,51.5M280.5,137.4Q260.5,108.5 240.3,88.8Q221.1,70.2 201.8,60Q183.8,50.5 165.6,48.2Q148.8,46.2 131.8,50.4M282.3,137.4Q262.4,108.4 242.1,88.6Q223,69.9 203.7,59.5Q185.6,49.8 167.5,47.5Q150.6,45.3 133.7,49.4M284.1,137.5Q264.2,108.3 244,88.4Q224.9,69.6 205.6,59.1Q187.5,49.3 169.3,46.8Q152.5,44.4 135.5,48.4M285.9,137.6Q266.1,108.3 245.8,88.2Q226.7,69.3 207.4,58.7Q189.4,48.7 171.2,46.1Q154.3,43.6 137.4,47.4M287.7,137.7Q267.9,108.3 247.7,88.1Q228.6,69.1 209.3,58.3Q191.3,48.2 173.1,45.4Q156.2,42.9 139.2,46.5M289.5,137.9Q269.7,108.4 249.5,88.1Q230.4,68.9 211.2,58Q193.1,47.8 174.9,44.9Q158,42.1 141.1,45.7M291.3,138.1Q271.5,108.5 251.3,88.1Q232.3,68.8 213,57.7Q195,47.4 176.8,44.3Q159.9,41.5 142.9,44.9M293,138.4Q273.3,108.7 253.1,88.1Q234.1,68.7 214.8,57.5Q196.8,47 178.6,43.8Q161.7,40.8 144.7,44.1M294.8,138.7Q275.1,108.9 255,88.2Q235.9,68.7 216.7,57.3Q198.6,46.7 180.4,43.4Q163.6,40.2 146.5,43.3M296.6,139Q276.9,109.1 256.8,88.3Q237.8,68.7 218.5,57.2Q200.5,46.4 182.3,42.9Q165.4,39.7 148.4,42.7M298.3,139.4Q278.7,109.4 258.6,88.5Q239.6,68.7 220.3,57.1Q202.3,46.2 184.1,42.6Q167.2,39.2 150.2,42M300.1,139.9Q280.4,109.8 260.3,88.7Q241.4,68.8 222.1,57Q204.1,46 185.9,42.2Q169,38.7 152,41.4M301.8,140.3Q282.2,110.1 262.1,88.9Q243.2,68.9 224,57Q205.9,45.9 187.7,41.9Q170.8,38.3 153.8,40.8M303.5,140.9Q283.9,110.6 263.9,89.2Q245,69.1 225.8,57Q207.7,45.8 189.6,41.7Q172.6,37.9 155.6,40.3M305.2,141.4Q285.7,111 265.7,89.5Q246.8,69.3 227.6,57.1Q209.6,45.7 191.4,41.5Q174.4,37.5 157.4,39.8M306.9,142Q287.4,111.5 267.4,89.9Q248.5,69.5 229.3,57.2Q211.3,45.7 193.2,41.3Q176.2,37.2 159.2,39.4M308.6,142.6Q289.2,112 269.2,90.3Q250.3,69.8 231.1,57.4Q213.1,45.7 194.9,41.2Q178,37 161,38.9M310.3,143.3Q290.9,112.6 270.9,90.8Q252.1,70.1 232.9,57.6Q214.9,45.8 196.7,41.1Q179.8,36.8 162.7,38.6M312,144Q292.6,113.2 272.7,91.3Q253.8,70.5 234.7,57.8Q216.7,45.9 198.5,41Q181.6,36.6 164.5,38.2M313.7,144.8Q294.3,113.9 274.4,91.8Q255.6,70.9 236.4,58.1Q218.5,46 200.3,41Q183.4,36.4 166.3,38M315.4,145.6Q296,114.6 276.1,92.4Q257.3,71.4 238.2,58.4Q220.2,46.2 202.1,41.1Q185.2,36.3 168.1,37.7M317,146.4Q297.7,115.3 277.8,93Q259.1,71.9 239.9,58.7Q222,46.4 203.8,41.1Q186.9,36.3 169.8,37.5M318.7,147.3Q299.4,116.1 279.5,93.6Q260.8,72.4 241.7,59.1Q223.8,46.7 205.6,41.3Q188.7,36.2 171.6,37.3M320.3,148.2Q301,116.9 281.2,94.3Q262.5,73 243.4,59.5Q225.5,47 207.3,41.4Q190.4,36.2 173.3,37.2M321.9,149.1Q302.8,117.9 283.1,95.2Q264.4,73.8 245.4,60.2Q227.6,47.5 209.5,41.7Q192.7,36.4 175.6,37.1M323.6,150.1Q304.8,119.3 285.5,96.8Q267.2,75.5 248.5,61.7Q231,48.8 213.2,42.6Q196.6,36.9 179.8,37M325.2,151.1Q306.8,120.8 287.8,98.4Q269.9,77.2 251.6,63.3Q234.3,50.2 216.8,43.6Q200.5,37.5 183.9,37M326.8,152.2Q308.8,122.3 290.2,100.1Q272.6,79 254.6,65Q237.7,51.7 220.5,44.7Q204.4,38.2 188.1,37.2M328.4,153.3Q310.7,123.9 292.6,101.9Q275.3,80.9 257.7,66.7Q241.1,53.3 224.2,45.9Q208.3,39 192.3,37.5M330,154.4Q312.7,125.5 294.9,103.6Q278,82.8 260.7,68.5Q244.4,54.9 227.8,47.3Q212.2,40 196.5,38M331.6,155.6Q314.6,127.2 297.3,105.5Q280.7,84.8 263.8,70.4Q247.8,56.7 231.5,48.7Q216.2,41.1 200.6,38.6M333.1,156.8Q311.2,119.8 288.6,94.2Q267.3,70.1 245.5,56.3Q225.4,43.4 204.8,39.4M334.7,158Q313.3,121.7 291.1,96.2Q270.3,72.3 249,58.1Q229.2,44.9 209,40.3M336.3,159.3Q315.3,123.6 293.7,98.3Q273.3,74.5 252.4,60.1Q233,46.6 213.2,41.3M337.8,160.6Q317.3,125.6 296.2,100.4Q276.3,76.8 255.9,62.1Q236.8,48.4 217.4,42.5M339.4,161.9Q319.4,127.6 298.7,102.7Q279.2,79.2 259.3,64.2Q240.6,50.3 221.6,43.8M340.9,163.3Q321.4,129.6 301.3,104.9Q282.2,81.6 262.7,66.5Q244.4,52.3 225.8,45.3M342.4,164.7Q323.4,131.7 303.8,107.3Q285.2,84.1 266.1,68.8Q248.2,54.4 230,47M343.9,166.1Q325.4,133.8 306.3,109.6Q288.1,86.7 269.5,71.2Q252,56.7 234.2,48.8M345.4,167.6Q327.4,136 308.8,112.1Q291.1,89.4 272.9,73.8Q255.8,59.1 238.4,50.7M346.9,169.1Q329.4,138.2 311.2,114.6Q294,92.1 276.3,76.4Q259.6,61.6 242.6,52.8M348.4,170.6Q331.3,140.4 313.7,117.1Q296.9,94.9 279.7,79.1Q263.4,64.2 246.8,55M349.9,172.2Q333.3,142.7 316.2,119.7Q299.8,97.8 283.1,82Q267.2,67 251.1,57.4M205.6,172.7Q226.2,154 246.3,145.2Q265.6,136.7 284.1,137.5Q301.8,138.2 318.7,147.3Q334.7,156 349.9,172.2M203.5,170.1Q224.1,151.3 244.2,142.4Q263.5,133.9 282.1,134.5Q299.8,135.1 316.7,144.1Q332.8,152.7 348,168.8M201.4,167.7Q222,148.8 242.1,139.7Q261.4,131.1 280,131.6Q297.8,132.1 314.7,141Q330.8,149.5 346.1,165.5M199.3,165.3Q220,146.3 240.1,137.1Q259.4,128.3 278,128.7Q295.8,129.1 312.7,137.9Q328.9,146.3 344.2,162.2M197.2,162.9Q217.9,143.8 238,134.5Q257.3,125.6 276,125.9Q293.8,126.2 310.8,134.9Q327,143.2 342.3,159M195.1,160.7Q215.8,141.4 235.9,132Q255.3,123 273.9,123.2Q291.8,123.4 308.8,132Q325,140.1 340.4,155.9M193.1,158.4Q213.7,139.1 233.9,129.6Q253.2,120.4 271.9,120.5Q289.8,120.6 306.8,129Q323.1,137.1 338.5,152.8M191,156.3Q211.7,136.8 231.8,127.2Q251.2,117.9 269.9,117.9Q287.8,117.8 304.9,126.2Q321.2,134.2 336.6,149.7M188.9,154.2Q209.6,134.6 229.8,124.8Q249.2,115.5 267.9,115.3Q285.8,115.1 302.9,123.4Q319.2,131.2 334.7,146.7M186.9,152.1Q207.6,132.4 227.7,122.5Q247.1,113 265.9,112.8Q283.8,112.5 300.9,120.6Q317.3,128.4 332.8,143.7M184.8,150.1Q205.5,130.3 225.7,120.3Q245.1,110.7 263.9,110.3Q281.8,109.9 299,117.9Q315.4,125.6 330.9,140.8M182.8,148.1Q203.5,128.2 223.7,118.1Q243.1,108.4 261.9,107.9Q279.8,107.4 297,115.3Q313.4,122.8 329,137.9M180.8,146.2Q201.4,126.2 221.6,116Q241.1,106.1 259.8,105.5Q277.8,104.9 295.1,112.7Q311.5,120.1 327.1,135.1M178.7,144.4Q199.4,124.2 219.6,113.9Q239,103.9 257.9,103.2Q275.9,102.4 293.1,110.1Q309.6,117.4 325.2,132.3M176.7,142.6Q197.4,122.3 217.6,111.9Q237,101.8 255.9,100.9Q273.9,100.1 291.2,107.6Q307.7,114.8 323.3,129.6M174.7,140.9Q195.4,120.5 215.6,109.9Q235,99.7 253.9,98.7Q271.9,97.7 289.2,105.2Q305.7,112.3 321.4,126.9M172.7,139.2Q193.3,118.7 213.6,108Q233,97.7 251.9,96.5Q269.9,95.4 287.3,102.8Q303.8,109.7 319.6,124.3M170.7,137.6Q191.3,117 211.6,106.1Q231,95.7 249.9,94.4Q268,93.2 285.3,100.4Q301.9,107.3 317.7,121.7M168.7,136Q189.3,115.3 209.6,104.3Q229,93.8 247.9,92.4Q266,91 283.4,98.1Q300,104.8 315.8,119.2M166.7,134.5Q187.3,113.6 207.6,102.5Q227,91.9 245.9,90.3Q264.1,88.9 281.5,95.8Q298.1,102.5 313.9,116.7M164.7,133Q185.3,112 205.6,100.8Q225.1,90 244,88.4Q262.1,86.8 279.5,93.6Q296.2,100.1 312,114.3M162.7,131.6Q183.4,110.5 203.6,99.2Q223.1,88.2 242,86.5Q260.2,84.8 277.6,91.5Q294.3,97.9 310.2,111.9M160.8,130.2Q181.4,109 201.6,97.6Q221.1,86.5 240.1,84.6Q258.2,82.8 275.7,89.4Q292.4,95.6 308.3,109.5M158.8,128.9Q179.4,107.6 199.6,96Q219.1,84.8 238.1,82.8Q256.3,80.8 273.8,87.3Q290.5,93.4 306.4,107.2M156.8,127.6Q177.4,106.2 197.7,94.5Q217.2,83.2 236.1,81Q254.3,78.9 271.8,85.3Q288.6,91.3 304.5,105M154.9,126.4Q175.5,104.9 195.7,93Q215.2,81.6 234.2,79.3Q252.4,77.1 269.9,83.3Q286.7,89.2 302.7,102.7M152.9,125.2Q173.5,103.6 193.8,91.6Q213.3,80.1 232.3,77.6Q250.5,75.3 268,81.4Q284.8,87.2 300.8,100.6M151,124.1Q171.6,102.3 191.8,90.2Q211.3,78.6 230.3,76Q248.5,73.6 266.1,79.5Q282.9,85.2 299,98.4M149.1,123Q169.6,101.2 189.9,88.9Q209.4,77.1 228.4,74.4Q246.6,71.9 264.2,77.7Q281,83.2 297.1,96.4M147.2,122Q167.7,100 187.9,87.7Q207.4,75.7 226.5,72.9Q244.7,70.2 262.3,75.9Q279.1,81.3 295.2,94.3M145.2,121Q165.8,98.9 186,86.4Q205.5,74.4 224.5,71.4Q242.8,68.6 260.4,74.1Q277.3,79.4 293.4,92.3M143.3,120.1Q163.9,97.9 184.1,85.3Q203.6,73.1 222.6,70Q240.9,67 258.5,72.4Q275.4,77.6 291.5,90.4M141.4,119.2Q161.9,96.9 182.2,84.1Q201.7,71.8 220.7,68.6Q239,65.5 256.6,70.8Q273.5,75.8 289.7,88.5M139.5,118.4Q160,95.9 180.3,83Q199.8,70.6 218.8,67.3Q237.1,64 254.7,69.2Q271.6,74.1 287.9,86.6M137.7,117.6Q158.1,95 178.3,82Q197.8,69.5 216.9,66Q235.2,62.6 252.9,67.6Q269.8,72.4 286,84.8M135.8,116.8Q156.2,94.1 176.4,81Q195.9,68.3 215,64.7Q233.3,61.2 251,66.1Q267.9,70.7 284.2,83M133.9,116.1Q154.4,93.3 174.6,80.1Q194,67.3 213.1,63.5Q231.4,59.9 249.1,64.6Q266.1,69.1 282.3,81.3M132,115.5Q152.5,92.5 172.7,79.2Q192.2,66.2 211.2,62.3Q229.5,58.6 247.3,63.2Q264.2,67.6 280.5,79.6M130.2,114.9Q150.6,91.8 170.8,78.3Q190.3,65.2 209.3,61.2Q227.6,57.3 245.4,61.8Q262.4,66 278.7,77.9M128.3,114.3Q148.7,91.1 168.9,77.5Q188.4,64.3 207.5,60.1Q225.8,56.1 243.5,60.4Q260.5,64.6 276.9,76.3M126.5,113.7Q146.9,90.5 167,76.7Q186.5,63.4 205.6,59.1Q223.9,54.9 241.7,59.1Q258.7,63.1 275,74.7M124.6,113.3Q145,89.9 165.2,76Q184.6,62.5 203.7,58.1Q222,53.8 239.8,57.8Q256.8,61.7 273.2,73.2M122.8,112.8Q143.2,89.3 163.3,75.3Q182.8,61.7 201.9,57.1Q220.2,52.7 238,56.6Q255,60.4 271.4,71.7M121,112.4Q141.3,88.8 161.5,74.6Q180.9,61 200,56.2Q218.3,51.7 236.1,55.4Q253.2,59 269.6,70.2M119.2,112Q139.5,88.3 159.6,74Q179.1,60.2 198.1,55.4Q216.5,50.7 234.3,54.3Q251.4,57.8 267.8,68.8M117.4,111.7Q137.7,87.9 157.8,73.5Q177.2,59.5 196.3,54.5Q214.6,49.7 232.5,53.2Q249.5,56.5 266,67.5M115.6,111.4Q135.9,87.5 156,72.9Q175.4,58.9 194.5,53.7Q212.8,48.8 230.6,52.1Q247.7,55.3 264.2,66.1M113.8,111.2Q134.1,87.1 154.1,72.5Q173.6,58.3 192.6,53Q211,47.9 228.8,51.1Q245.9,54.2 262.4,64.8M112,111Q132.2,86.8 152.3,72Q171.7,57.7 190.8,52.3Q209.2,47.1 227,50.1Q244.1,53.1 260.6,63.6M110.2,110.8Q130.5,86.6 150.5,71.6Q169.9,57.2 189,51.6Q207.3,46.3 225.2,49.2Q242.3,52 258.8,62.3M108.5,110.7Q128.7,86.3 148.7,71.2Q168.1,56.7 187.2,51Q205.5,45.5 223.4,48.3Q240.5,50.9 257,61.2M106.7,110.6Q126.9,86.1 146.9,70.9Q166.3,56.2 185.4,50.4Q203.7,44.8 221.6,47.4Q238.7,49.9 255.3,60M105,110.6Q125.1,86 145.1,70.6Q164.5,55.8 183.6,49.8Q201.9,44.1 219.8,46.6Q236.9,49 253.5,58.9M103.2,110.6Q123.3,85.8 143.4,70.4Q162.7,55.4 181.8,49.3Q200.1,43.4 218,45.8Q235.1,48 251.7,57.8M101.5,110.6Q121.5,85.9 141.4,70.3Q160.6,55.3 179.6,49Q197.8,42.9 215.6,45Q232.7,46.9 249.3,56.4M99.7,110.7Q119.6,86 139.3,70.4Q158.3,55.3 177.1,48.8Q195.3,42.4 213,44.2Q229.9,45.8 246.4,54.8M98,110.8Q117.6,86.2 137.2,70.6Q156.1,55.4 174.7,48.6Q192.7,42.1 210.3,43.4Q227.2,44.7 243.5,53.3M96.3,110.9Q115.7,86.5 135.1,70.7Q153.8,55.5 172.3,48.5Q190.2,41.7 207.6,42.7Q224.4,43.7 240.6,51.8M94.6,111.1Q113.8,86.8 133,71Q151.6,55.6 169.9,48.4Q187.6,41.5 204.9,42.1Q221.6,42.7 237.8,50.4M92.9,111.3Q111.9,87.1 130.9,71.2Q149.3,55.8 167.5,48.4Q185.1,41.2 202.3,41.5Q218.8,41.8 234.9,49.1M91.2,111.5Q110.1,87.4 128.9,71.5Q147.1,56.1 165.1,48.4Q182.5,41.1 199.6,41Q216,41 232,47.8M89.5,111.8Q108.2,87.8 126.8,71.8Q144.9,56.4 162.7,48.5Q180,41 196.9,40.6Q213.2,40.3 229.1,46.6M87.9,112.1Q106.3,88.2 124.7,72.2Q142.6,56.7 160.3,48.7Q177.5,40.9 194.3,40.2Q210.5,39.6 226.2,45.5M86.2,112.4Q104.5,88.7 122.7,72.6Q140.4,57.1 158,48.8Q174.9,40.9 191.6,39.9Q207.7,38.9 223.4,44.5M84.5,112.8Q102.6,89.2 120.7,73.1Q138.2,57.5 155.6,49.1Q172.4,40.9 189,39.6Q204.9,38.4 220.5,43.5M82.9,113.2Q100.8,89.7 118.6,73.6Q136,57.9 153.2,49.4Q169.9,41 186.3,39.4Q202.1,37.9 217.6,42.6M81.2,113.6Q98.9,90.3 116.6,74.1Q133.8,58.4 150.9,49.7Q167.4,41.2 183.7,39.3Q199.4,37.4 214.7,41.7M79.6,114.1Q97.1,90.9 114.6,74.7Q131.6,59 148.5,50.1Q164.9,41.4 181,39.2Q196.6,37 211.8,41M78,114.6Q101,83.9 123.9,65.5Q146,47.7 167.8,41.5Q188.7,35.5 209,40.3M76.3,115.1Q99.1,84.6 121.8,66.1Q143.7,48.2 165.3,41.7Q185.9,35.4 206.1,39.6M74.7,115.7Q97.2,85.4 119.7,66.8Q141.3,48.8 162.7,41.9Q183.2,35.4 203.2,39.1M73.1,116.3Q95.3,86.1 117.6,67.4Q139,49.4 160.2,42.2Q180.5,35.4 200.4,38.6M71.5,116.9Q93.5,86.9 115.5,68.2Q136.7,50.1 157.7,42.6Q177.8,35.4 197.5,38.1M69.9,117.5Q91.7,87.8 113.4,69Q134.4,50.8 155.2,43Q175.1,35.5 194.6,37.8M68.3,118.2Q89.8,88.6 111.3,69.8Q132.1,51.5 152.7,43.5Q172.4,35.7 191.8,37.5M66.8,118.9Q88,89.5 109.2,70.6Q129.8,52.3 150.1,44Q169.7,36 188.9,37.2M65.2,119.6Q86.2,90.5 107.2,71.5Q127.5,53.1 147.7,44.5Q167,36.3 186.1,37.1M63.6,120.4Q84.4,91.4 105.1,72.4Q125.2,54 145.2,45.1Q164.4,36.6 183.2,37M62.1,121.2Q82.6,92.4 103.1,73.4Q123,54.9 142.7,45.8Q161.7,37 180.4,37M60.5,122Q80.8,93.4 101,74.4Q120.7,55.9 140.2,46.5Q159,37.5 177.5,37M59,122.8Q79,94.5 99,75.4Q118.4,56.9 137.7,47.3Q156.4,38 174.7,37.1"/>
<path fill="none" stroke="#000" stroke-width="0.8" stroke-linejoin="round" d="M174.7,37.1L178.4,37L181.2,37L183.9,37L186.1,37.1L189.5,37.3L191.8,37.5L195.1,37.8L197.5,38.1L200.6,38.6L203.2,39.1L206.2,39.6L209,40.3L211.8,40.9L214.6,41.7L216.6,42.3L220.2,43.4L222.4,44.1L225.8,45.3L228.2,46.2L231.4,47.6L233.9,48.6L237,50L239.7,51.3L242.6,52.8L245.4,54.3L248.3,55.8L251.1,57.4"/>
<circle cx="55.1" cy="36.6" r="1.5"/><circle cx="56.3" cy="62.7" r="1.5"/><circle cx="57.4" cy="88.8" r="1.5"/><circle cx="58.6" cy="115" r="1.5"/><circle cx="59.8" cy="141.1" r="1.5"/><circle cx="61" cy="167.2" r="1.5"/><circle cx="62.2" cy="193.3" r="1.5"/><circle cx="205.6" cy="314.3" r="1.5"/><circle cx="170.3" cy="296.3" r="1.5"/><circle cx="135" cy="278.4" r="1.5"/><circle cx="99.8" cy="260.4" r="1.5"/><circle cx="64.5" cy="242.5" r="1.5"/><circle cx="240.9" cy="296.3" r="1.5"/><circle cx="276.1" cy="278.4" r="1.5"/><circle cx="311.4" cy="260.4" r="1.5"/><circle cx="346.7" cy="242.5" r="1.5"/>
<text transform="translate(49.1,34) scale(0.8880,1)" text-anchor="end" font-size="12.0">60.0</text>
<text transform="translate(50.3,60.1) scale(0.8880,1)" text-anchor="end" font-size="12.0">53.3</text>
<text transform="translate(51.4,86.2) scale(0.8880,1)" text-anchor="end" font-size="12.0">46.7</text>
<text transform="translate(52.6,112.4) scale(0.8880,1)" text-anchor="end" font-size="12.0">40.0</text>
<text transform="translate(53.8,138.5) scale(0.8880,1)" text-anchor="end" font-size="12.0">33.3</text>
<text transform="translate(55,164.6) scale(0.8880,1)" text-anchor="end" font-size="12.0">26.7</text>
<text transform="translate(56.2,190.7) scale(0.8880,1)" text-anchor="end" font-size="12.0">20.0</text>
<text transform="translate(200.1,326.6) scale(0.8880,1)" text-anchor="end" font-size="12.0">-1.00</text>
<text transform="translate(164.8,308.6) scale(0.8880,1)" text-anchor="end" font-size="12.0">-0.50</text>
<text transform="translate(129.5,290.7) scale(0.8880,1)" text-anchor="end" font-size="12.0">0.00</text>
<text transform="translate(94.3,272.7) scale(0.8880,1)" text-anchor="end" font-size="12.0">0.50</text>
<text transform="translate(59,254.8) scale(0.8880,1)" text-anchor="end" font-size="12.0">1.00</text>
<text transform="translate(211.1,326.6) scale(0.8880,1)" text-anchor="start" font-size="12.0">-1.00</text>
<text transform="translate(246.4,308.6) scale(0.8880,1)" text-anchor="start" font-size="12.0">-0.50</text>
<text transform="translate(281.6,290.7) scale(0.8880,1)" text-anchor="start" font-size="12.0">0.00</text>
<text transform="translate(316.9,272.7) scale(0.8880,1)" text-anchor="start" font-size="12.0">0.50</text>
<text transform="translate(352.2,254.8) scale(0.8880,1)" text-anchor="start" font-size="12.0">1.00</text>
<text transform="translate(80.3,314.9) scale(0.8124,1)" text-anchor="middle" font-size="17.7">Extraction temperature</text>
<text transform="translate(330.9,314.9) scale(0.8124,1)" text-anchor="middle" font-size="17.7">Reaction time</text>
<text transform="translate(14.6,142.6) rotate(-90) scale(1.2309,1)" text-anchor="middle" font-size="14.38">Extraction yield</text>
<text x="6.5" y="17.8" font-size="16" font-weight="bold" style="fill:#e8000d">(a)</text>
</g>
<g>
<path fill="none" stroke="#333" stroke-width=".8" d="M452.4,38.9L601,3.2 749.5,38.9M453.6,64.7L601,26.5 748.3,64.7M454.8,90.6L601,49.8 747.2,90.6M455.9,116.4L601,73 746,116.4M457.1,142.3L601,96.3 744.8,142.3M458.3,168.1L601,119.6 743.6,168.1M459.5,194L601,142.8 742.4,194M489.5,30L494.9,181.2M638.1,12.2L636.3,155.6M526.7,21.1L530.2,168.4M675.2,21.1L671.7,168.4M563.8,12.2L565.6,155.6M712.4,30L707.1,181.2M452.4,38.9L461.7,242.6M601,3.2L601,187M749.5,38.9L740.2,242.6"/>
<path fill="#ff0" stroke="#222" stroke-width=".7" d="M461.7,242.6 L601,313.6 740.2,242.6 601,187z"/>
<path fill="none" stroke="#f85a00" stroke-width="1.0" d="M602.3,240.3L601.9,240.1L601.5,240L601.1,239.9L600.7,239.8L600.3,239.7L599.9,239.6L599.5,239.5L599.1,239.4L598.6,239.3L598.2,239.3L597.8,239.2L597.4,239.1L596.9,239.1L596.5,239L596.1,239L595.6,238.9L595.2,238.9L594.8,238.9L594.3,238.8L593.9,238.8L593.4,238.8L593,238.8L592.5,238.8L592.1,238.8L591.6,238.8L591.2,238.8L590.7,238.8L590.3,238.8L589.8,238.9L589.4,238.9L588.9,238.9L588.5,239L588,239L587.6,239.1L587.2,239.1L586.7,239.2L586.3,239.3L585.8,239.4L585.4,239.4L585,239.5L584.5,239.6L584.1,239.7L583.7,239.9L583.3,240L582.9,240.1L582.5,240.2L582.1,240.4L581.7,240.5L581.3,240.7L581,240.8L580.6,241L580.3,241.2L580,241.4L579.7,241.6L579.4,241.7L579.1,241.9L578.9,242.2L578.7,242.4L578.5,242.6L578.3,242.8L578.1,243L578,243.3L577.9,243.5L577.8,243.7L577.7,244L577.7,244.2L577.7,244.4L577.7,244.7L577.7,244.9L577.8,245.1L577.8,245.4L578,245.6L578.1,245.8L578.2,246L578.4,246.3L578.6,246.5L578.8,246.7L579,246.9L579.3,247.1L579.5,247.3L579.8,247.5L580.1,247.7L580.4,247.8L580.7,248L581.1,248.2L581.4,248.3L581.8,248.5L582.1,248.6L582.5,248.8L582.9,248.9L583.3,249L583.7,249.2L584.1,249.3L584.5,249.4L584.9,249.5L585.3,249.6L585.7,249.7L586.1,249.8L586.6,249.9L587,249.9L587.4,250L587.9,250.1L588.3,250.1L588.7,250.2L589.2,250.2L589.6,250.3L590.1,250.3L590.5,250.4L591,250.4L591.4,250.4L591.9,250.4L592.3,250.4L592.8,250.4L593.3,250.4L593.7,250.4L594.2,250.4L594.6,250.4L595.1,250.4L595.6,250.4L596,250.3L596.5,250.3L596.9,250.3L597.4,250.2L597.9,250.1L598.3,250.1L598.8,250L599.2,249.9L599.7,249.9L600.1,249.8L600.6,249.7L601,249.6L601.4,249.5L601.9,249.3L602.3,249.2L602.7,249.1L603.1,248.9L603.5,248.8L603.9,248.6L604.2,248.5L604.6,248.3L604.9,248.1L605.2,248L605.6,247.8L605.8,247.6L606.1,247.4L606.4,247.2L606.6,247L606.8,246.7L607,246.5L607.2,246.3L607.3,246.1L607.4,245.8L607.5,245.6L607.6,245.4L607.6,245.1L607.7,244.9L607.7,244.7L607.6,244.4L607.6,244.2L607.5,244L607.4,243.7L607.3,243.5L607.1,243.3L607,243.1L606.8,242.8L606.6,242.6L606.4,242.4L606.1,242.2L605.9,242L605.6,241.8L605.3,241.7L605,241.5L604.7,241.3L604.4,241.1L604.1,241L603.7,240.8L603.4,240.7L603,240.5L602.6,240.4L602.3,240.3"/>
<path fill="none" stroke="#ffb400" stroke-width="1.0" d="M621.1,231.8L620,231.5L618.8,231.1L617.6,230.8L616.4,230.5L615.2,230.2L614,229.9L612.8,229.6L611.6,229.4L610.3,229.2L609.1,229L607.8,228.8L606.5,228.6L605.3,228.4L604,228.3L602.7,228.1L601.4,228L600.1,227.9L598.8,227.8L597.5,227.7L596.2,227.6L594.9,227.6L593.6,227.6L592.3,227.5L591,227.5L589.6,227.6L588.3,227.6L587,227.6L585.7,227.7L584.3,227.8L583,227.9L581.7,228L580.3,228.1L579,228.2L577.7,228.4L576.4,228.6L575,228.8L573.7,229L572.4,229.2L571.1,229.5L569.8,229.7L568.6,230L567.3,230.3L566,230.6L564.8,231L563.6,231.4L562.4,231.8L561.2,232.2L560.1,232.6L559,233.1L557.9,233.5L556.8,234L555.8,234.5L554.9,235.1L553.9,235.6L553.1,236.2L552.2,236.8L551.4,237.4L550.7,238L550.1,238.7L549.5,239.3L548.9,240L548.5,240.7L548.1,241.4L547.8,242.1L547.5,242.8L547.3,243.5L547.2,244.2L547.2,244.9L547.2,245.6L547.3,246.3L547.5,247L547.8,247.7L548.1,248.4L548.5,249.1L549,249.8L549.5,250.5L550.1,251.1L550.8,251.8L551.5,252.4L552.3,253L553.1,253.6L554,254.2L554.9,254.7L555.8,255.2L556.8,255.8L557.9,256.3L558.9,256.8L560,257.2L561.2,257.7L562.3,258.1L563.5,258.5L564.7,258.9L566,259.2L567.2,259.6L568.5,259.9L569.7,260.2L571,260.5L572.4,260.8L573.7,261.1L575,261.3L576.4,261.5L577.7,261.7L579.1,261.9L580.4,262.1L581.8,262.3L583.2,262.4L584.6,262.5L586,262.6L587.4,262.7L588.8,262.8L590.2,262.8L591.7,262.9L593.1,262.9L594.5,262.9L595.9,262.9L597.4,262.9L598.8,262.8L600.2,262.7L601.7,262.7L603.1,262.6L604.5,262.4L606,262.3L607.4,262.1L608.8,262L610.3,261.8L611.7,261.6L613.1,261.3L614.5,261.1L615.8,260.8L617.2,260.5L618.6,260.1L619.9,259.8L621.2,259.4L622.5,259L623.7,258.6L624.9,258.2L626.1,257.7L627.3,257.2L628.4,256.7L629.5,256.2L630.5,255.6L631.5,255.1L632.4,254.5L633.2,253.9L634,253.2L634.8,252.6L635.4,251.9L636,251.3L636.6,250.6L637,249.9L637.4,249.2L637.7,248.5L637.9,247.8L638.1,247.1L638.2,246.3L638.2,245.6L638.1,244.9L638,244.2L637.7,243.5L637.4,242.8L637.1,242.1L636.7,241.4L636.2,240.7L635.6,240.1L635,239.4L634.4,238.8L633.7,238.2L632.9,237.6L632.1,237L631.3,236.5L630.4,235.9L629.5,235.4L628.5,234.9L627.6,234.4L626.5,233.9L625.5,233.5L624.4,233L623.4,232.6L622.2,232.2L621.1,231.8"/>
<path fill="none" stroke="#5af000" stroke-width="1.2" d="M643.5,221.8L641.4,221.2L639.3,220.6L637.2,220L635.1,219.5L632.9,219L630.7,218.5L628.5,218L626.3,217.6L624.1,217.2L621.9,216.8L619.6,216.5L617.4,216.1L615.1,215.8L612.8,215.6L610.5,215.3L608.2,215.1L605.9,214.9L603.6,214.8L601.3,214.6L599,214.5L596.7,214.4L594.3,214.4L592,214.3L589.6,214.3L587.3,214.4L584.9,214.4L582.6,214.5L580.2,214.6L577.8,214.7L575.5,214.9L573.1,215.1L570.7,215.3L568.4,215.5L566,215.8L563.7,216.1L561.3,216.5L559,216.8L556.6,217.2L554.3,217.7L552,218.1L549.7,218.7L547.4,219.2L545.2,219.8L543,220.4L540.8,221L538.6,221.7L536.5,222.4L534.4,223.2L532.3,224L530.4,224.8L528.4,225.7L526.5,226.6L524.7,227.5L523,228.5L521.3,229.5L519.8,230.6L518.3,231.7L516.9,232.8L515.6,233.9L514.4,235.1L513.3,236.3L512.3,237.5L511.5,238.7L510.8,240L510.2,241.3L509.7,242.6L509.4,243.9L509.2,245.2L509.1,246.5L509.2,247.8L509.4,249.1L509.8,250.4L510.2,251.7L510.9,253L511.6,254.3L512.5,255.5L513.5,256.8L514.6,258L515.9,259.2L517.2,260.3L518.7,261.4L520.2,262.5L521.8,263.6L523.6,264.6L525.4,265.6L527.3,266.6L529.2,267.5L531.3,268.4L533.4,269.3L535.5,270.1L537.7,270.8L539.9,271.6L542.2,272.3L544.6,273L546.9,273.6L549.3,274.2L551.8,274.8L554.2,275.3L556.7,275.8L559.3,276.3L561.8,276.7L564.4,277.1L566.9,277.5L569.5,277.8L572.1,278.1L574.8,278.4L577.4,278.6L580,278.8L582.7,279L585.4,279.1L588.1,279.2L590.8,279.3L593.5,279.3L596.2,279.4L598.9,279.3L601.6,279.3L604.3,279.2L607,279.1L609.8,278.9L612.5,278.7L615.2,278.5L617.9,278.2L620.6,277.9L623.3,277.6L626,277.2L628.6,276.8L631.3,276.3L633.9,275.8L636.5,275.2L639.1,274.7L641.6,274L644.1,273.4L646.5,272.6L648.9,271.9L651.2,271.1L653.5,270.2L655.7,269.3L657.8,268.4L659.8,267.4L661.8,266.4L663.6,265.4L665.4,264.3L667,263.1L668.5,262L669.9,260.8L671.2,259.6L672.3,258.3L673.3,257.1L674.1,255.8L674.9,254.5L675.4,253.1L675.9,251.8L676.1,250.5L676.3,249.2L676.3,247.8L676.2,246.5L675.9,245.2L675.5,243.9L675,242.6L674.3,241.3L673.5,240.1L672.6,238.8L671.7,237.6L670.6,236.5L669.4,235.3L668.1,234.2L666.7,233.1L665.3,232L663.8,231L662.2,230L660.5,229L658.8,228.1L657.1,227.2L655.2,226.3L653.4,225.5L651.5,224.7L649.5,224L647.5,223.2L645.5,222.5L643.5,221.8"/>
<path fill="none" stroke="#50dcc8" stroke-width="1.1" d="M625.4,197.4L621.7,197.1L618,196.7L614.2,196.4L610.5,196.2L606.7,196L602.9,195.8L599.1,195.7L595.4,195.6L591.6,195.5L587.7,195.5L583.9,195.5L580.1,195.6M589.2,306.9L594.1,307L598.9,307L603.8,307L608.7,306.9L613.6,306.7M733.9,245.6L732.9,243.4L731.7,241.3L730.3,239.1"/>
<defs><linearGradient id="b0" gradientUnits="userSpaceOnUse" x1="455.2" x2="608.3" y1="0" y2="0"><stop offset="0" stop-color="#57ff00"/><stop offset=".025" stop-color="#58ff00"/><stop offset=".125" stop-color="#beff00"/><stop offset=".225" stop-color="#feff00"/><stop offset=".3" stop-color="#feea00"/><stop offset=".375" stop-color="#ffe300"/><stop offset=".45" stop-color="#ffe600"/><stop offset=".55" stop-color="#fffb00"/><stop offset=".6" stop-color="#ef0"/><stop offset=".7" stop-color="#b3ff00"/><stop offset=".8" stop-color="#6f0"/><stop offset=".9" stop-color="#07ff00"/><stop offset=".975" stop-color="#00ff3f"/><stop offset="1" stop-color="#00ff3f"/></linearGradient><linearGradient id="b1" gradientUnits="userSpaceOnUse" x1="461.8" x2="615.1" y1="0" y2="0"><stop offset="0" stop-color="#000"/><stop offset=".025" stop-color="#000"/><stop offset=".05" stop-color="#97ff00"/><stop offset=".125" stop-color="#dcf900"/><stop offset=".175" stop-color="#f8f300"/><stop offset=".275" stop-color="#fbd000"/><stop offset=".375" stop-color="#ffc400"/><stop offset=".525" stop-color="#ffd400"/><stop offset=".65" stop-color="#feff00"/><stop offset=".8" stop-color="#93ff00"/><stop offset=".95" stop-color="#0f0"/><stop offset=".975" stop-color="#00ff17"/><stop offset="1" stop-color="#00ff17"/></linearGradient><linearGradient id="b2" gradientUnits="userSpaceOnUse" x1="468.3" x2="621.9" y1="0" y2="0"><stop offset="0" stop-color="#000"/><stop offset=".05" stop-color="#000"/><stop offset=".075" stop-color="#d0ff00"/><stop offset=".1" stop-color="#d6ea00"/><stop offset=".125" stop-color="#eaea00"/><stop offset=".275" stop-color="#f6b200"/><stop offset=".35" stop-color="#faa800"/><stop offset=".45" stop-color="#ffab00"/><stop offset=".55" stop-color="#ffbd00"/><stop offset=".7" stop-color="#fff900"/><stop offset=".725" stop-color="#f6ff00"/><stop offset=".825" stop-color="#a7ff00"/><stop offset=".975" stop-color="#10ff00"/><stop offset="1" stop-color="#10ff00"/></linearGradient><linearGradient id="b3" gradientUnits="userSpaceOnUse" x1="474.9" x2="628.5" y1="0" y2="0"><stop offset="0" stop-color="#000"/><stop offset=".075" stop-color="#000"/><stop offset=".1" stop-color="#adab00"/><stop offset=".125" stop-color="#ccbc00"/><stop offset=".2" stop-color="#e5ac00"/><stop offset=".35" stop-color="#f58d00"/><stop offset=".5" stop-color="#ff9800"/><stop offset=".625" stop-color="#fb0"/><stop offset=".75" stop-color="#fff700"/><stop offset=".775" stop-color="#f6ff00"/><stop offset=".875" stop-color="#9fff00"/><stop offset=".975" stop-color="#37ff00"/><stop offset="1" stop-color="#37ff00"/></linearGradient><linearGradient id="b4" gradientUnits="userSpaceOnUse" x1="481.4" x2="635.1" y1="0" y2="0"><stop offset="0" stop-color="#000"/><stop offset=".1" stop-color="#000"/><stop offset=".125" stop-color="#4c4000"/><stop offset=".15" stop-color="#b08900"/><stop offset=".175" stop-color="#c89100"/><stop offset=".225" stop-color="#dc8a00"/><stop offset=".375" stop-color="#f27200"/><stop offset=".475" stop-color="#fa7800"/><stop offset=".6" stop-color="#ff9a00"/><stop offset=".725" stop-color="#ffd000"/><stop offset=".8" stop-color="#fffc00"/><stop offset=".875" stop-color="#c1ff00"/><stop offset=".975" stop-color="#5bff00"/><stop offset="1" stop-color="#5aff00"/></linearGradient><linearGradient id="b5" gradientUnits="userSpaceOnUse" x1="489" x2="641.7" y1="0" y2="0"><stop offset="0" stop-color="#000"/><stop offset=".125" stop-color="#000"/><stop offset=".15" stop-color="#412e00"/><stop offset=".175" stop-color="#9e6700"/><stop offset=".2" stop-color="#bb7000"/><stop offset=".25" stop-color="#d46e00"/><stop offset=".35" stop-color="#e95900"/><stop offset=".425" stop-color="#f25600"/><stop offset=".55" stop-color="#fb7100"/><stop offset=".725" stop-color="#fb0"/><stop offset=".825" stop-color="#fff600"/><stop offset=".85" stop-color="#f5ff00"/><stop offset=".875" stop-color="#dfff00"/><stop offset=".975" stop-color="#7aff00"/><stop offset="1" stop-color="#7aff00"/></linearGradient><linearGradient id="b6" gradientUnits="userSpaceOnUse" x1="499.7" x2="648.2" y1="0" y2="0"><stop offset="0" stop-color="#000"/><stop offset=".15" stop-color="#000"/><stop offset=".175" stop-color="#7c4500"/><stop offset=".2" stop-color="#a65400"/><stop offset=".225" stop-color="#bc5500"/><stop offset=".275" stop-color="#d24c00"/><stop offset=".4" stop-color="#eb3f00"/><stop offset=".475" stop-color="#f34700"/><stop offset=".575" stop-color="#fb6600"/><stop offset=".725" stop-color="#ffac00"/><stop offset=".85" stop-color="#fff500"/><stop offset=".875" stop-color="#f6ff00"/><stop offset=".975" stop-color="#95ff00"/><stop offset="1" stop-color="#95ff00"/></linearGradient><linearGradient id="b7" gradientUnits="userSpaceOnUse" x1="510.6" x2="654.6" y1="0" y2="0"><stop offset="0" stop-color="#000"/><stop offset=".15" stop-color="#000"/><stop offset=".175" stop-color="#542600"/><stop offset=".2" stop-color="#8e3800"/><stop offset=".225" stop-color="#ab3b00"/><stop offset=".275" stop-color="#c83600"/><stop offset=".375" stop-color="#e22d00"/><stop offset=".475" stop-color="#ef3700"/><stop offset=".55" stop-color="#f64c00"/><stop offset=".775" stop-color="#ffba00"/><stop offset=".875" stop-color="#fff700"/><stop offset=".9" stop-color="#f3ff00"/><stop offset=".975" stop-color="#acff00"/><stop offset="1" stop-color="#acff00"/></linearGradient><linearGradient id="b8" gradientUnits="userSpaceOnUse" x1="521.7" x2="660.9" y1="0" y2="0"><stop offset="0" stop-color="#000"/><stop offset=".15" stop-color="#000"/><stop offset=".175" stop-color="#250d00"/><stop offset=".2" stop-color="#722300"/><stop offset=".225" stop-color="#982800"/><stop offset=".3" stop-color="#c82300"/><stop offset=".4" stop-color="#e12200"/><stop offset=".475" stop-color="#ec2b00"/><stop offset=".575" stop-color="#f64b00"/><stop offset=".775" stop-color="#ffb100"/><stop offset=".9" stop-color="#fffc00"/><stop offset=".975" stop-color="#bfff00"/><stop offset="1" stop-color="#bfff00"/></linearGradient><linearGradient id="b9" gradientUnits="userSpaceOnUse" x1="532.9" x2="667.2" y1="0" y2="0"><stop offset="0" stop-color="#000"/><stop offset=".175" stop-color="#000"/><stop offset=".2" stop-color="#511300"/><stop offset=".225" stop-color="#821900"/><stop offset=".25" stop-color="#9e1b00"/><stop offset=".3" stop-color="#be1900"/><stop offset=".4" stop-color="#dc1a00"/><stop offset=".5" stop-color="#eb2b00"/><stop offset=".6" stop-color="#f55000"/><stop offset=".9" stop-color="#fff300"/><stop offset=".925" stop-color="#f9ff00"/><stop offset=".975" stop-color="#ceff00"/><stop offset="1" stop-color="#ceff00"/></linearGradient><linearGradient id="b10" gradientUnits="userSpaceOnUse" x1="544.3" x2="673.4" y1="0" y2="0"><stop offset="0" stop-color="#000"/><stop offset=".175" stop-color="#000"/><stop offset=".2" stop-color="#290700"/><stop offset=".225" stop-color="#671000"/><stop offset=".25" stop-color="#8b1300"/><stop offset=".3" stop-color="#b31300"/><stop offset=".4" stop-color="#d61700"/><stop offset=".55" stop-color="#ed3a00"/><stop offset=".775" stop-color="#ffa800"/><stop offset=".925" stop-color="#fffd00"/><stop offset=".975" stop-color="#d9ff00"/><stop offset="1" stop-color="#d9ff00"/></linearGradient><linearGradient id="b11" gradientUnits="userSpaceOnUse" x1="555.9" x2="679.5" y1="0" y2="0"><stop offset="0" stop-color="#000"/><stop offset=".2" stop-color="#020000"/><stop offset=".225" stop-color="#450900"/><stop offset=".25" stop-color="#740e00"/><stop offset=".275" stop-color="#910f00"/><stop offset=".35" stop-color="#c01300"/><stop offset=".425" stop-color="#d61c00"/><stop offset=".575" stop-color="#ed4700"/><stop offset=".8" stop-color="#ffb500"/><stop offset=".925" stop-color="#fffa00"/><stop offset=".975" stop-color="#dffe00"/><stop offset="1" stop-color="#dffe00"/></linearGradient><linearGradient id="b12" gradientUnits="userSpaceOnUse" x1="567.7" x2="685.5" y1="0" y2="0"><stop offset="0" stop-color="#000"/><stop offset=".2" stop-color="#000"/><stop offset=".225" stop-color="#1b0400"/><stop offset=".25" stop-color="#560b00"/><stop offset=".275" stop-color="#7c0f00"/><stop offset=".3" stop-color="#961200"/><stop offset=".35" stop-color="#b61700"/><stop offset=".45" stop-color="#d62700"/><stop offset=".6" stop-color="#ed5900"/><stop offset=".825" stop-color="#ffc500"/><stop offset=".925" stop-color="#fefa00"/><stop offset=".975" stop-color="#e0fd00"/><stop offset="1" stop-color="#e0fd00"/></linearGradient><linearGradient id="b13" gradientUnits="userSpaceOnUse" x1="579.7" x2="691.5" y1="0" y2="0"><stop offset="0" stop-color="#000"/><stop offset=".225" stop-color="#000"/><stop offset=".275" stop-color="#600f00"/><stop offset=".325" stop-color="#991900"/><stop offset=".375" stop-color="#b72200"/><stop offset=".45" stop-color="#d13200"/><stop offset=".55" stop-color="#e45100"/><stop offset=".85" stop-color="#ffd800"/><stop offset=".925" stop-color="#fdfc00"/><stop offset=".975" stop-color="#dffc00"/><stop offset="1" stop-color="#dffc00"/></linearGradient><linearGradient id="b14" gradientUnits="userSpaceOnUse" x1="591.8" x2="697.3" y1="0" y2="0"><stop offset="0" stop-color="#000"/><stop offset=".25" stop-color="#000"/><stop offset=".3" stop-color="#661600"/><stop offset=".35" stop-color="#9b2500"/><stop offset=".4" stop-color="#b83300"/><stop offset=".5" stop-color="#d75000"/><stop offset=".75" stop-color="#f7b000"/><stop offset=".85" stop-color="#fee000"/><stop offset=".925" stop-color="#f5fd00"/><stop offset=".975" stop-color="#d7fc00"/><stop offset="1" stop-color="#d7fc00"/></linearGradient><linearGradient id="b15" gradientUnits="userSpaceOnUse" x1="604.2" x2="703.1" y1="0" y2="0"><stop offset="0" stop-color="#000"/><stop offset=".275" stop-color="#000"/><stop offset=".325" stop-color="#682100"/><stop offset=".375" stop-color="#9c3600"/><stop offset=".425" stop-color="#b94900"/><stop offset=".525" stop-color="#d86d00"/><stop offset=".675" stop-color="#efa000"/><stop offset=".875" stop-color="#fef800"/><stop offset=".975" stop-color="#cdfb00"/><stop offset="1" stop-color="#cdfb00"/></linearGradient><linearGradient id="b16" gradientUnits="userSpaceOnUse" x1="616.7" x2="708.8" y1="0" y2="0"><stop offset="0" stop-color="#000"/><stop offset=".3" stop-color="#000"/><stop offset=".35" stop-color="#652e00"/><stop offset=".4" stop-color="#9c4d00"/><stop offset=".475" stop-color="#c46d00"/><stop offset=".575" stop-color="#df8f00"/><stop offset=".85" stop-color="#fdfc00"/><stop offset=".95" stop-color="#c7fc00"/><stop offset="1" stop-color="#befb00"/></linearGradient><linearGradient id="b17" gradientUnits="userSpaceOnUse" x1="629.5" x2="714.4" y1="0" y2="0"><stop offset="0" stop-color="#000"/><stop offset=".325" stop-color="#000"/><stop offset=".35" stop-color="#1b0f00"/><stop offset=".375" stop-color="#5b3500"/><stop offset=".4" stop-color="#824e00"/><stop offset=".425" stop-color="#9b6000"/><stop offset=".475" stop-color="#bc7b00"/><stop offset=".6" stop-color="#e2ad00"/><stop offset=".8" stop-color="#f9fb00"/><stop offset=".95" stop-color="#b2fd00"/><stop offset="1" stop-color="#acfc00"/></linearGradient><linearGradient id="b18" gradientUnits="userSpaceOnUse" x1="642.5" x2="719.9" y1="0" y2="0"><stop offset="0" stop-color="#000"/><stop offset=".375" stop-color="#000"/><stop offset=".425" stop-color="#775800"/><stop offset=".475" stop-color="#ae8700"/><stop offset=".55" stop-color="#d3b100"/><stop offset=".675" stop-color="#efe500"/><stop offset=".725" stop-color="#f1f500"/><stop offset=".825" stop-color="#d3ff00"/><stop offset=".95" stop-color="#9aff00"/><stop offset="1" stop-color="#97fe00"/></linearGradient><linearGradient id="b19" gradientUnits="userSpaceOnUse" x1="655.7" x2="725.3" y1="0" y2="0"><stop offset="0" stop-color="#000"/><stop offset=".425" stop-color="#000"/><stop offset=".45" stop-color="#2f2900"/><stop offset=".475" stop-color="#928500"/><stop offset=".5" stop-color="#b3a600"/><stop offset=".55" stop-color="#d3cc00"/><stop offset=".6" stop-color="#e1e400"/><stop offset=".75" stop-color="#c9fe00"/><stop offset=".95" stop-color="#7cff00"/><stop offset="1" stop-color="#7aff00"/></linearGradient><linearGradient id="b20" gradientUnits="userSpaceOnUse" x1="669.1" x2="730.6" y1="0" y2="0"><stop offset="0" stop-color="#000"/><stop offset=".5" stop-color="#000"/><stop offset=".525" stop-color="#dfff00"/><stop offset=".725" stop-color="#a7ff00"/><stop offset=".95" stop-color="#5aff00"/><stop offset="1" stop-color="#5aff00"/></linearGradient><linearGradient id="b21" gradientUnits="userSpaceOnUse" x1="682.8" x2="735.9" y1="0" y2="0"><stop offset="0" stop-color="#000"/><stop offset=".625" stop-color="#000"/><stop offset=".65" stop-color="#89ff00"/><stop offset=".925" stop-color="#3aff00"/><stop offset="1" stop-color="#35ff00"/></linearGradient><linearGradient id="b22" gradientUnits="userSpaceOnUse" x1="696.8" x2="741" y1="0" y2="0"><stop offset="0" stop-color="#000"/><stop offset=".775" stop-color="#000"/><stop offset=".8" stop-color="#2dff00"/><stop offset=".925" stop-color="#0dff00"/><stop offset="1" stop-color="#0bff00"/></linearGradient><linearGradient id="b23" gradientUnits="userSpaceOnUse" x1="711" x2="746.1" y1="0" y2="0"><stop offset="0" stop-color="#000"/><stop offset="1" stop-color="#000"/></linearGradient></defs>
<g stroke-width=".7">
<path fill="url(#b0)" stroke="url(#b0)" d="M601,187.6Q580.4,159.3 560.7,140.4Q541.2,121.7 522.8,112.1Q504.7,102.8 487.7,102.4Q471.1,102 455.7,110.3L457.3,108.7L459,107.2L460.6,105.7L462.3,104.2Q477.8,95.7 494.4,95.7Q511.5,95.7 529.6,104.7Q548.1,113.9 567.5,132.2Q587.2,150.7 607.8,178.5L606.1,180.7L604.4,183L602.7,185.2z"/>
<path fill="url(#b1)" stroke="url(#b1)" d="M607.8,178.5Q587.2,150.7 567.5,132.2Q548.1,113.9 529.6,104.7Q511.5,95.7 494.4,95.7Q477.8,95.7 462.3,104.2L463.9,102.8L465.6,101.4L467.2,100L468.8,98.7Q484.4,89.8 501.1,89.5Q518.2,89.2 536.4,97.8Q554.9,106.6 574.3,124.6Q594,142.7 614.6,170.1L612.9,172.1L611.2,174.2L609.5,176.4z"/>
<path fill="url(#b2)" stroke="url(#b2)" d="M614.6,170.1Q594,142.7 574.3,124.6Q554.9,106.6 536.4,97.8Q518.2,89.2 501.1,89.5Q484.4,89.8 468.8,98.7L470.5,97.4L472.1,96.1L473.8,94.8L475.4,93.6Q491,84.5 507.7,83.9Q524.9,83.2 543.1,91.5Q561.6,99.9 581.1,117.5Q600.8,135.2 621.4,162.2L619.7,164.1L618,166.1L616.3,168z"/>
<path fill="url(#b3)" stroke="url(#b3)" d="M621.4,162.2Q600.8,135.2 581.1,117.5Q561.6,99.9 543.1,91.5Q524.9,83.2 507.7,83.9Q491,84.5 475.4,93.6L477,92.4L478.6,91.3L480.3,90.2L481.9,89.1Q497.5,79.7 514.3,78.7Q531.5,77.8 549.7,85.7Q568.3,93.8 587.8,110.9Q607.5,128.3 628,154.9L626.4,156.6L624.7,158.4L623,160.3z"/>
<path fill="url(#b4)" stroke="url(#b4)" d="M628,154.9Q607.5,128.3 587.8,110.9Q568.3,93.8 549.7,85.7Q531.5,77.8 514.3,78.7Q497.5,79.7 481.9,89.1L483.5,88L485.1,87L486.8,85.9L489.5,84.3Q505.1,75 521.8,74.1Q538.9,73.1 557,80.8Q575.4,88.6 594.7,105.3Q614.3,122.2 634.6,148.1L633,149.7L631.3,151.4L629.7,153.1z"/>
<path fill="url(#b5)" stroke="url(#b5)" d="M634.6,148.1Q614.3,122.2 594.7,105.3Q575.4,88.6 557,80.8Q538.9,73.1 521.8,74.1Q505.1,75 489.5,84.3L492.1,82.8L494.8,81.2L497.5,79.7L500.2,78.3Q515.5,70.2 531.9,69.8Q548.5,69.4 566.1,77.1Q584,84.9 602.7,101Q621.6,117.3 641.2,141.9L639.6,143.4L637.9,144.9L636.3,146.5z"/>
<path fill="url(#b6)" stroke="url(#b6)" d="M641.2,141.9Q621.6,117.3 602.7,101Q584,84.9 566.1,77.1Q548.5,69.4 531.9,69.8Q515.5,70.2 500.2,78.3L502.9,76.9L505.6,75.5L508.4,74.1L511.1,72.8Q526.1,65.9 542,66.1Q558.2,66.3 575.2,74Q592.5,81.8 610.6,97.3Q628.8,113 647.7,136.3L646.1,137.7L644.4,139.1L642.8,140.5z"/>
<path fill="url(#b7)" stroke="url(#b7)" d="M647.7,136.3Q628.8,113 610.6,97.3Q592.5,81.8 575.2,74Q558.2,66.3 542,66.1Q526.1,65.9 511.1,72.8L513.9,71.6L516.6,70.4L519.4,69.2L522.2,68Q536.8,62.2 552.2,63Q567.9,63.8 584.4,71.5Q601.1,79.3 618.4,94.2Q636,109.2 654.1,131.3L652.5,132.5L650.9,133.7L649.3,135z"/>
<path fill="url(#b8)" stroke="url(#b8)" d="M654.1,131.3Q636,109.2 618.4,94.2Q601.1,79.3 584.4,71.5Q567.9,63.8 552.2,63Q536.8,62.2 522.2,68L525,67L527.8,65.9L530.6,64.9L533.4,63.9Q552.4,57.6 572.7,62.1Q593.4,66.8 615.2,82.8Q637.3,99.1 660.4,126.8L658.8,127.9L657.3,129L655.7,130.1z"/>
<path fill="url(#b9)" stroke="url(#b9)" d="M660.4,126.8Q637.3,99.1 615.2,82.8Q593.4,66.8 572.7,62.1Q552.4,57.6 533.4,63.9L536.3,63L539.1,62.1L542,61.3L544.8,60.5Q563.2,55.5 582.7,60.6Q602.6,65.7 623.5,81.2Q644.7,96.8 666.7,122.9L665.1,123.8L663.6,124.8L662,125.8z"/>
<path fill="url(#b10)" stroke="url(#b10)" d="M666.7,122.9Q644.7,96.8 623.5,81.2Q602.6,65.7 582.7,60.6Q563.2,55.5 544.8,60.5L547.7,59.7L550.6,59L553.5,58.4L556.4,57.8Q574.1,54.2 592.9,59.7Q611.9,65.2 631.8,80.1Q652,95.1 672.9,119.6L671.3,120.3L669.8,121.2L668.2,122z"/>
<path fill="url(#b11)" stroke="url(#b11)" d="M672.9,119.6Q652,95.1 631.8,80.1Q611.9,65.2 592.9,59.7Q574.1,54.2 556.4,57.8L559.4,57.2L562.3,56.7L565.2,56.2L568.2,55.8Q585.2,53.6 603,59.4Q621.2,65.3 640.1,79.6Q659.2,94 679,116.8L677.5,117.4L675.9,118.1L674.4,118.8z"/>
<path fill="url(#b12)" stroke="url(#b12)" d="M679,116.8Q659.2,94 640.1,79.6Q621.2,65.3 603,59.4Q585.2,53.6 568.2,55.8L571.2,55.4L574.2,55.1L577.2,54.9L580.2,54.6Q596.4,53.6 613.3,59.8Q630.5,66 648.4,79.6Q666.4,93.4 685,114.5L683.5,115L682,115.6L680.5,116.2z"/>
<path fill="url(#b13)" stroke="url(#b13)" d="M685,114.5Q666.4,93.4 648.4,79.6Q630.5,66 613.3,59.8Q596.4,53.6 580.2,54.6L583.2,54.5L586.2,54.4L589.3,54.3L592.3,54.3Q607.7,54.4 623.7,60.9Q639.9,67.4 656.6,80.3Q673.6,93.3 691,112.9L689.5,113.2L688,113.6L686.5,114.1z"/>
<path fill="url(#b14)" stroke="url(#b14)" d="M691,112.9Q673.6,93.3 656.6,80.3Q639.9,67.4 623.7,60.9Q607.7,54.4 592.3,54.3L595.4,54.4L598.5,54.5L601.5,54.6L604.7,54.9Q626.4,56.6 649.3,70.7Q672.6,84.9 696.8,111.7L695.4,112L693.9,112.2L692.4,112.5z"/>
<path fill="url(#b15)" stroke="url(#b15)" d="M696.8,111.7Q672.6,84.9 649.3,70.7Q626.4,56.6 604.7,54.9L607.8,55.1L610.9,55.5L614,55.9L617.2,56.3Q637.5,59.4 658.8,73Q680.3,86.8 702.6,111.1L701.2,111.2L699.7,111.4L698.3,111.5z"/>
<path fill="url(#b16)" stroke="url(#b16)" d="M702.6,111.1Q680.3,86.8 658.8,73Q637.5,59.4 617.2,56.3L620.4,56.8L623.6,57.4L626.8,58L630,58.7Q648.7,63 668.2,76Q687.9,89.1 708.3,111.1L706.9,111L705.4,111L704,111.1z"/>
<path fill="url(#b17)" stroke="url(#b17)" d="M708.3,111.1Q687.9,89.1 668.2,76Q648.7,63 630,58.7L633.2,59.5L636.4,60.3L639.7,61.2L643,62.2Q660,67.4 677.7,79.6Q695.5,92 713.9,111.6L712.5,111.4L711.1,111.3L709.7,111.2z"/>
<path fill="url(#b18)" stroke="url(#b18)" d="M713.9,111.6Q695.5,92 677.7,79.6Q660,67.4 643,62.2L646.2,63.2L649.5,64.3L652.8,65.5L656.2,66.7Q671.5,72.5 687.2,83.9Q703.1,95.4 719.4,112.6L718,112.3L716.6,112L715.3,111.8z"/>
<path fill="url(#b19)" stroke="url(#b19)" d="M719.4,112.6Q703.1,95.4 687.2,83.9Q671.5,72.5 656.2,66.7L659.5,68L662.9,69.4L666.2,70.8L669.6,72.3Q696.6,84.8 724.8,114.1L723.5,113.7L722.1,113.3L720.8,112.9z"/>
<path fill="url(#b20)" stroke="url(#b20)" d="M724.8,114.1Q696.6,84.8 669.6,72.3L673,73.9L676.4,75.6L679.9,77.4L683.3,79.2Q706.3,91.6 730.1,116.1L728.8,115.6L727.5,115L726.2,114.5z"/>
<path fill="url(#b21)" stroke="url(#b21)" d="M730.1,116.1Q706.3,91.6 683.3,79.2L686.8,81.1L690.3,83.1L693.7,85.2L697.3,87.3Q716.1,99 735.4,118.7L734.1,118L732.8,117.3L731.5,116.7z"/>
<path fill="url(#b22)" stroke="url(#b22)" d="M735.4,118.7Q716.1,99 697.3,87.3L700.8,89.5L704.3,91.9L707.9,94.3L711.5,96.8Q725.9,107 740.5,121.7L739.2,120.9L738,120.1L736.7,119.4z"/>
<path fill="url(#b23)" stroke="url(#b23)" d="M740.5,121.7Q725.9,107 711.5,96.8L715.1,99.4L718.7,102L722.3,104.8L726,107.7Q735.7,115.4 745.6,125.2L744.3,124.3L743.1,123.4L741.8,122.5z"/>
</g>
<path fill="none" stroke="#000" stroke-width="0.42" d="M601,187.6Q580.4,159.3 560.7,140.4Q541.2,121.7 522.8,112.1Q504.7,102.8 487.7,102.4Q471.1,102 455.7,110.3M603,184.8Q582.4,156.7 562.8,137.9Q543.3,119.3 524.9,109.9Q506.7,100.6 489.7,100.3Q473.1,100.1 457.7,108.4M605.1,182.1Q584.5,154.1 564.8,135.4Q545.3,116.9 526.9,107.6Q508.8,98.5 491.7,98.3Q475.1,98.2 459.6,106.6M607.1,179.4Q586.6,151.6 566.9,133Q547.4,114.6 528.9,105.4Q510.8,96.4 493.8,96.3Q477.1,96.3 461.6,104.8M609.2,176.8Q588.6,149.1 568.9,130.6Q549.4,112.4 531,103.3Q512.8,94.4 495.8,94.4Q479.1,94.5 463.6,103.1M611.2,174.2Q590.6,146.6 570.9,128.3Q551.5,110.2 533,101.2Q514.8,92.4 497.8,92.6Q481.1,92.7 465.6,101.4M613.3,171.7Q592.7,144.3 573,126Q553.5,108 535,99.2Q516.8,90.5 499.8,90.7Q483.1,91 467.5,99.7M615.3,169.3Q594.7,141.9 575,123.8Q555.5,105.9 537,97.2Q518.9,88.6 501.8,88.9Q485.1,89.3 469.5,98.1M617.3,166.8Q596.7,139.6 577,121.7Q557.6,103.9 539.1,95.3Q520.9,86.8 503.8,87.2Q487,87.6 471.5,96.6M619.3,164.5Q598.8,137.4 579.1,119.5Q559.6,101.9 541.1,93.4Q522.9,85 505.8,85.5Q489,86 473.4,95.1M621.4,162.2Q600.8,135.2 581.1,117.5Q561.6,99.9 543.1,91.5Q524.9,83.2 507.7,83.9Q491,84.5 475.4,93.6M623.4,159.9Q602.8,133.1 583.1,115.5Q563.6,98 545.1,89.7Q526.9,81.6 509.7,82.3Q493,83 477.3,92.2M625.4,157.7Q604.8,131 585.1,113.5Q565.6,96.2 547.1,88Q528.9,79.9 511.7,80.7Q494.9,81.5 479.3,90.8M627.4,155.6Q606.8,129 587.1,111.6Q567.6,94.4 549.1,86.3Q530.8,78.3 513.7,79.2Q496.9,80.1 481.2,89.5M629.4,153.5Q608.8,127 589.1,109.7Q569.6,92.6 551.1,84.6Q532.8,76.8 515.7,77.8Q498.8,78.8 483.2,88.2M631.3,151.4Q610.8,125.1 591.1,107.9Q571.6,90.9 553,83Q534.8,75.3 517.6,76.4Q500.8,77.4 485.1,87M633.3,149.4Q612.8,123.2 593.2,106.2Q573.7,89.4 555.2,81.5Q537,73.9 519.8,75Q503,76.1 487.3,85.6M635.3,147.5Q615,121.7 595.5,104.8Q576.3,88.2 557.9,80.4Q539.9,72.7 522.8,73.6Q506.1,74.5 490.5,83.7M637.3,145.6Q617.2,120.2 597.9,103.5Q578.8,87 560.6,79.2Q542.7,71.5 525.8,72.3Q509.2,73 493.7,81.8M639.2,143.7Q619.4,118.7 600.3,102.2Q581.4,86 563.4,78.1Q545.6,70.4 528.8,71Q512.4,71.6 497,80M641.2,141.9Q621.6,117.3 602.7,101Q584,84.9 566.1,77.1Q548.5,69.4 531.9,69.8Q515.5,70.2 500.2,78.3M643.1,140.2Q623.7,115.9 605,99.9Q586.5,83.9 568.8,76.1Q551.4,68.4 534.9,68.6Q518.7,68.8 503.5,76.6M645.1,138.5Q625.9,114.6 607.4,98.7Q589.1,83 571.6,75.2Q554.3,67.5 537.9,67.5Q521.9,67.5 506.7,74.9M647,136.9Q628.1,113.4 609.8,97.7Q591.7,82.1 574.3,74.3Q557.2,66.6 541,66.4Q525,66.3 510,73.4M649,135.3Q630.2,112.2 612.1,96.7Q594.2,81.3 577.1,73.5Q560.1,65.8 544,65.4Q528.2,65.1 513.3,71.8M650.9,133.7Q632.4,111 614.5,95.7Q596.8,80.5 579.8,72.7Q563.1,65 547.1,64.5Q531.4,63.9 516.6,70.4M652.8,132.2Q634.5,109.9 616.9,94.8Q599.4,79.8 582.6,72Q566,64.3 550.2,63.6Q534.7,62.9 520,69M654.7,130.8Q636.7,108.8 619.2,93.9Q601.9,79.1 585.3,71.3Q568.9,63.6 553.3,62.7Q537.9,61.9 523.3,67.6M656.6,129.4Q632.9,100.7 610.2,84.1Q587.8,67.7 566.7,63.4Q546,59.1 526.7,66.3M658.5,128.1Q635.1,99.8 612.7,83.4Q590.6,67.2 569.7,62.7Q549.2,58.3 530,65.1M660.4,126.8Q637.3,99.1 615.2,82.8Q593.4,66.8 572.7,62.1Q552.4,57.6 533.4,63.9M662.3,125.6Q639.5,98.3 617.7,82.3Q596.1,66.4 575.7,61.6Q555.6,56.9 536.8,62.8M664.2,124.4Q641.7,97.6 620.2,81.8Q598.9,66.1 578.7,61.1Q558.9,56.3 540.3,61.8M666.1,123.3Q643.9,97 622.7,81.3Q601.7,65.8 581.7,60.7Q562.1,55.7 543.7,60.8M667.9,122.2Q646.1,96.4 625.2,80.9Q604.5,65.6 584.8,60.4Q565.4,55.2 547.1,59.9M669.8,121.2Q648.3,95.9 627.7,80.6Q607.2,65.4 587.8,60Q568.7,54.8 550.6,59M671.6,120.2Q650.5,95.4 630.1,80.3Q610,65.3 590.8,59.8Q571.9,54.4 554.1,58.2M673.5,119.3Q652.7,95 632.6,80Q612.8,65.2 593.9,59.6Q575.2,54.1 557.6,57.5M675.3,118.4Q654.9,94.6 635.1,79.8Q615.6,65.2 596.9,59.5Q578.5,53.9 561.1,56.9M677.2,117.5Q657,94.3 637.6,79.7Q618.4,65.2 600,59.4Q581.9,53.7 564.7,56.3M679,116.8Q659.2,94 640.1,79.6Q621.2,65.3 603,59.4Q585.2,53.6 568.2,55.8M680.8,116Q661.4,93.7 642.6,79.5Q624,65.5 606.1,59.4Q588.5,53.5 571.8,55.4M682.6,115.4Q663.5,93.6 645.1,79.5Q626.8,65.7 609.2,59.6Q591.9,53.5 575.4,55M684.4,114.7Q665.7,93.4 647.5,79.6Q629.6,65.9 612.3,59.7Q595.2,53.6 579,54.7M686.2,114.2Q667.8,93.3 650,79.7Q632.4,66.3 615.4,60Q598.6,53.7 582.6,54.5M688,113.6Q670,93.3 652.5,79.9Q635.2,66.6 618.5,60.2Q602,53.9 586.2,54.4M689.8,113.2Q672.1,93.3 655,80.1Q638,67 621.6,60.6Q605.4,54.2 589.9,54.3M691.5,112.7Q674.3,93.4 657.5,80.4Q640.8,67.5 624.7,61Q608.8,54.6 593.5,54.3M693.3,112.3Q676.4,93.5 659.9,80.7Q643.6,68.1 627.8,61.5Q612.2,55 597.2,54.4M695.1,112Q670.3,84.5 646.5,70.1Q623.1,55.9 600.9,54.6M696.8,111.7Q672.6,84.9 649.3,70.7Q626.4,56.6 604.7,54.9M698.6,111.5Q674.9,85.4 652.2,71.3Q629.7,57.4 608.4,55.2M700.3,111.3Q677.2,86 655,72Q633.1,58.2 612.2,55.6M702,111.2Q679.5,86.5 657.8,72.7Q636.4,59.1 615.9,56.1M703.7,111.1Q681.8,87.2 660.6,73.5Q639.7,60.1 619.7,56.7M705.4,111Q684.1,87.9 663.5,74.4Q643.1,61.1 623.6,57.4M707.2,111.1Q686.4,88.6 666.3,75.3Q646.5,62.2 627.4,58.2M708.8,111.1Q688.7,89.4 669.2,76.3Q649.8,63.4 631.3,59M710.5,111.2Q691,90.2 672,77.4Q653.2,64.7 635.1,60M712.2,111.4Q693.3,91.1 674.8,78.5Q656.6,66 639,61M713.9,111.6Q695.5,92 677.7,79.6Q660,67.4 643,62.2M715.5,111.8Q697.8,93 680.6,80.8Q663.5,68.8 646.9,63.4M717.2,112.1Q700.1,94 683.4,82.1Q666.9,70.4 650.9,64.8M718.8,112.4Q702.4,95.1 686.3,83.5Q670.3,72 654.8,66.2M720.5,112.8Q704.6,96.2 689.1,84.9Q673.8,73.7 658.8,67.7M722.1,113.3Q706.9,97.3 692,86.3Q677.3,75.4 662.9,69.4M723.7,113.7Q694.7,83.4 666.9,71.1M725.4,114.3Q697.6,85.4 671,73M727,114.8Q700.5,87.4 675.1,74.9M728.6,115.5Q703.4,89.5 679.2,77M730.1,116.1Q706.3,91.6 683.3,79.2M731.7,116.8Q709.2,93.8 687.5,81.5M733.3,117.6Q712.2,96 691.6,83.9M734.9,118.4Q715.1,98.3 695.9,86.4M736.4,119.2Q718,100.6 700.1,89.1M738,120.1Q721,102.9 704.3,91.9M739.5,121Q723.9,105.3 708.6,94.8M741,122Q726.8,107.8 712.9,97.8M742.5,123Q729.8,110.3 717.2,101M744.1,124.1Q732.8,112.8 721.6,104.3M745.6,125.2Q735.7,115.4 726,107.7M601,187.6Q621.5,159.7 641.2,141.9Q660.6,124.4 679,116.8Q697,109.3 713.9,111.6Q730.4,113.8 745.6,125.2M598.9,184.7Q619.5,157 639.1,139.4Q658.6,121.9 676.9,114.4Q695,107.1 711.9,109.4Q728.4,111.7 743.6,123.3M596.8,182Q617.4,154.4 637.1,136.9Q656.5,119.5 674.9,112.2Q693,104.9 709.9,107.4Q726.4,109.7 741.6,121.4M594.8,179.3Q615.4,151.8 635,134.4Q654.5,117.2 672.9,109.9Q691,102.8 707.9,105.3Q724.4,107.8 739.7,119.5M592.7,176.6Q613.3,149.3 633,132Q652.4,114.9 670.8,107.7Q688.9,100.7 705.9,103.3Q722.4,105.9 737.7,117.7M590.7,174Q611.3,146.8 631,129.6Q650.4,112.6 668.8,105.6Q686.9,98.6 703.9,101.4Q720.4,104 735.7,115.9M588.7,171.4Q609.2,144.3 628.9,127.3Q648.4,110.4 666.8,103.5Q684.9,96.6 701.9,99.5Q718.4,102.2 733.8,114.2M586.6,168.9Q607.2,141.9 626.9,125Q646.4,108.2 664.8,101.4Q682.9,94.7 699.9,97.6Q716.5,100.5 731.8,112.5M584.6,166.4Q605.2,139.6 624.9,122.8Q644.3,106.1 662.8,99.4Q680.9,92.8 697.9,95.8Q714.5,98.7 729.9,110.8M582.6,164Q603.1,137.3 622.8,120.6Q642.3,104 660.8,97.4Q678.9,90.9 695.9,94Q712.5,97 727.9,109.2M580.6,161.6Q601.1,135 620.8,118.4Q640.3,102 658.8,95.5Q676.9,89.1 693.9,92.3Q710.6,95.4 726,107.7M578.6,159.3Q598.9,133 618.5,116.6Q637.8,100.4 656.1,93.8Q674.2,87.4 691.1,90.4Q707.6,93.4 723,105.3M576.5,157Q596.8,131.1 616.1,114.8Q635.3,98.8 653.5,92.2Q671.4,85.8 688.2,88.6Q704.7,91.4 720,103M574.5,154.7Q594.6,129.2 613.8,113.1Q632.8,97.2 650.9,90.7Q668.7,84.2 685.4,86.9Q701.8,89.5 717,100.8M572.6,152.5Q592.4,127.4 611.5,111.4Q630.3,95.7 648.3,89.1Q665.9,82.7 682.6,85.2Q698.8,87.6 714,98.6M570.6,150.4Q590.2,125.6 609.1,109.8Q627.8,94.2 645.6,87.7Q663.2,81.2 679.7,83.5Q695.9,85.8 711,96.4M568.6,148.3Q588.1,123.8 606.8,108.2Q625.3,92.8 643,86.2Q660.4,79.8 676.8,81.9Q692.9,84 707.9,94.3M566.6,146.3Q585.9,122.1 604.5,106.7Q622.9,91.4 640.4,84.9Q657.6,78.4 674,80.3Q689.9,82.2 704.9,92.2M564.6,144.3Q583.7,120.4 602.1,105.2Q620.4,90.1 637.8,83.5Q654.9,77 671.1,78.8Q687,80.5 701.8,90.2M562.7,142.3Q581.6,118.8 599.8,103.8Q617.9,88.8 635.1,82.2Q652.1,75.7 668.2,77.3Q684,78.9 698.8,88.3M560.7,140.4Q579.4,117.3 597.5,102.4Q615.4,87.6 632.5,81Q649.3,74.5 665.3,75.9Q681,77.3 695.7,86.3M558.7,138.5Q577.3,115.7 595.2,101Q612.9,86.4 629.8,79.8Q646.5,73.3 662.4,74.5Q678,75.8 692.6,84.5M556.8,136.7Q575.1,114.3 592.9,99.7Q610.4,85.3 627.2,78.6Q643.8,72.1 659.5,73.2Q674.9,74.3 689.5,82.7M554.9,134.9Q573,112.9 590.5,98.4Q607.9,84.2 624.6,77.5Q641,71 656.6,71.9Q671.9,72.8 686.4,80.9M552.9,133.2Q576.8,104.3 599.7,88.6Q622.1,73.2 643.3,71Q664,68.8 683.3,79.2M551,131.6Q574.6,103 597.2,87.6Q619.5,72.3 640.5,69.9Q661,67.5 680.1,77.5M549.1,129.9Q572.4,101.9 594.8,86.5Q616.8,71.4 637.6,68.9Q658,66.3 677,75.9M547.2,128.4Q570.3,100.7 592.4,85.6Q614.2,70.6 634.8,67.9Q655,65.2 673.8,74.3M545.2,126.8Q568.1,99.7 590,84.6Q611.5,69.8 631.9,66.9Q651.9,64.1 670.6,72.8M543.3,125.3Q565.9,98.6 587.5,83.7Q608.9,69 629.1,66Q648.9,63.1 667.4,71.4M541.4,123.9Q563.7,97.6 585.1,82.9Q606.2,68.4 626.2,65.2Q645.8,62.1 664.2,70M539.5,122.5Q561.6,96.7 582.7,82.1Q603.5,67.7 623.4,64.4Q642.8,61.2 661,68.6M537.7,121.2Q559.4,95.8 580.3,81.4Q600.9,67.1 620.5,63.7Q639.7,60.3 657.8,67.3M535.8,119.9Q557.2,94.9 577.9,80.7Q598.2,66.6 617.6,63Q636.6,59.5 654.6,66.1M533.9,118.6Q555.1,94.1 575.4,80Q595.6,66 614.7,62.3Q633.6,58.7 651.3,64.9M532,117.4Q552.9,93.4 573,79.4Q592.9,65.6 611.8,61.7Q630.5,58 648,63.8M530.2,116.3Q550.8,92.7 570.6,78.8Q590.2,65.2 609,61.2Q627.4,57.3 644.8,62.7M528.3,115.2Q548.6,92 568.2,78.3Q587.6,64.8 606.1,60.7Q624.3,56.7 641.5,61.7M526.5,114.1Q546.5,91.4 565.8,77.9Q584.9,64.5 603.2,60.3Q621.1,56.1 638.2,60.8M524.7,113.1Q544.3,90.8 563.4,77.5Q582.2,64.3 600.3,59.9Q618,55.6 634.9,59.9M522.8,112.1Q542.2,90.3 561,77.1Q579.5,64 597.3,59.6Q614.9,55.2 631.5,59.1M521,111.2Q540.1,89.8 558.6,76.8Q576.9,63.9 594.4,59.3Q611.7,54.8 628.2,58.4M519.2,110.3Q538,89.4 556.2,76.5Q574.2,63.8 591.5,59.1Q608.6,54.4 624.8,57.7M517.4,109.5Q535.9,89 553.8,76.3Q571.5,63.7 588.6,58.9Q605.4,54.2 621.5,57M515.6,108.7Q533.7,88.6 551.4,76.1Q568.8,63.7 585.7,58.8Q602.2,53.9 618.1,56.5M513.8,108Q531.6,88.3 549,75.9Q566.2,63.7 582.7,58.7Q599.1,53.8 614.7,56M512,107.3Q529.5,88.1 546.6,75.9Q563.5,63.8 579.8,58.7Q595.9,53.7 611.3,55.5M510.2,106.7Q527.4,87.8 544.2,75.8Q560.8,63.9 576.8,58.7Q592.7,53.6 607.9,55.1M508.4,106.1Q533.7,78.5 558,65.7Q581.9,53.1 604.4,54.8M506.7,105.5Q531.5,78.6 555.3,65.9Q578.8,53.3 601,54.6M504.9,105Q529.3,78.7 552.6,66.1Q575.7,53.6 597.5,54.4M503.1,104.5Q527,78.9 550,66.3Q572.6,53.9 594,54.3M501.4,104.1Q524.8,79.1 547.3,66.7Q569.5,54.3 590.6,54.3M499.7,103.7Q522.5,79.4 544.6,67Q566.3,54.8 587,54.3M497.9,103.4Q520.3,79.7 541.9,67.4Q563.2,55.3 583.5,54.5M496.2,103.1Q518.1,80.1 539.2,67.9Q560.1,55.9 580,54.7M494.5,102.9Q515.9,80.5 536.5,68.4Q556.9,56.6 576.4,54.9M492.8,102.7Q513.6,80.9 533.8,69Q553.8,57.3 572.9,55.2M491.1,102.6Q511.4,81.4 531.1,69.6Q550.6,58 569.3,55.7M489.4,102.5Q509.2,81.9 528.4,70.3Q547.4,58.8 565.7,56.1M487.7,102.4Q507,82.5 525.7,71Q544.2,59.7 562.1,56.7M486,102.4Q504.8,83.1 523,71.8Q541.1,60.6 558.5,57.4M484.4,102.4Q502.6,83.8 520.3,72.7Q537.9,61.6 554.8,58.1M482.7,102.5Q500.4,84.5 517.6,73.5Q534.7,62.7 551.2,58.9M481,102.6Q498.2,85.2 514.9,74.5Q531.5,63.8 547.5,59.8M479.4,102.8Q496,86 512.2,75.5Q528.2,65 543.8,60.7M477.8,103Q493.8,86.8 509.5,76.5Q525,66.3 540.1,61.8M476.1,103.2Q491.6,87.7 506.8,77.6Q521.8,67.6 536.4,62.9M474.5,103.5Q504.3,73.8 532.7,64.2M472.9,103.8Q501.5,75.4 528.9,65.5M471.3,104.2Q498.8,77 525.2,66.9M469.7,104.6Q496.1,78.6 521.4,68.4M468.1,105.1Q493.3,80.3 517.6,69.9M466.5,105.6Q490.6,82.1 513.8,71.6M464.9,106.1Q487.8,83.9 510,73.4M463.4,106.7Q485.1,85.7 506.1,75.3M461.8,107.3Q482.3,87.5 502.3,77.2M460.3,108Q479.6,89.4 498.4,79.3M458.7,108.7Q476.8,91.4 494.5,81.4M457.2,109.5Q474.1,93.4 490.6,83.7M455.7,110.3Q471.3,95.4 486.6,86"/>
<path fill="none" stroke="#000" stroke-width="0.8" stroke-linejoin="round" d="M486.6,86L489.3,84.5L491.6,83.1L493.7,81.8L495.9,80.6L498,79.4L500.2,78.3L502.3,77.2L504.6,76L506.7,74.9L508.9,73.9L511.1,72.8L513.3,71.8L515.5,70.8L517.6,69.9L520,69L522.2,68L524.4,67.2L526.7,66.3L528.9,65.5L531.2,64.7L533.4,63.9L535.7,63.2L538,62.5L540.1,61.8L542.5,61.1L544.8,60.5L547.1,59.9L549.5,59.3L551.8,58.8L554.1,58.2L556.4,57.8L558.8,57.3L561.1,56.9L563.5,56.5L565.8,56.1L568.2,55.8L570.6,55.5L573,55.2L575.4,55L577.8,54.8L580.2,54.6L582.6,54.5L585,54.4L587.4,54.3L589.9,54.3L592.3,54.3L594.8,54.3L597.2,54.4L599.7,54.5L602.1,54.7L604.4,54.8L606.7,55L609,55.3L611.3,55.5L613.6,55.8L615.8,56.1L618.1,56.5L620.4,56.8L622.6,57.2L624.8,57.7L627.1,58.1L629.3,58.6L631.5,59.1L633.8,59.6L636,60.2L638.2,60.8L640.3,61.4L642.6,62.1L644.8,62.7L647,63.4L649.1,64.2L651.3,64.9L653.5,65.7L655.6,66.5L657.8,67.3L660,68.2L662.1,69.1L664.2,69.9L666.4,70.9L668.5,71.8L670.6,72.8L672.7,73.8L674.9,74.8L677,75.9L679.1,77L681.2,78.1L683.3,79.2L685.3,80.3L687.4,81.5L689.5,82.7L691.6,83.9L693.6,85.1L695.7,86.3L697.8,87.6L699.8,88.9L701.8,90.2L703.9,91.6L705.9,92.9L707.9,94.3L710,95.7L712,97.1L714,98.6L716,100L718,101.5L720.1,103.1L723.1,105.4L726,107.7"/>
<circle cx="452.4" cy="38.9" r="1.5"/><circle cx="453.6" cy="64.7" r="1.5"/><circle cx="454.8" cy="90.6" r="1.5"/><circle cx="455.9" cy="116.4" r="1.5"/><circle cx="457.1" cy="142.3" r="1.5"/><circle cx="458.3" cy="168.1" r="1.5"/><circle cx="459.5" cy="194" r="1.5"/><circle cx="601" cy="313.6" r="1.5"/><circle cx="566.1" cy="295.9" r="1.5"/><circle cx="531.3" cy="278.1" r="1.5"/><circle cx="496.5" cy="260.4" r="1.5"/><circle cx="461.7" cy="242.6" r="1.5"/><circle cx="635.8" cy="295.9" r="1.5"/><circle cx="670.6" cy="278.1" r="1.5"/><circle cx="705.4" cy="260.4" r="1.5"/><circle cx="740.2" cy="242.6" r="1.5"/>
<text transform="translate(446.5,36.3) scale(0.8764,1)" text-anchor="end" font-size="12.0">60.0</text>
<text transform="translate(447.7,62.1) scale(0.8764,1)" text-anchor="end" font-size="12.0">53.3</text>
<text transform="translate(448.8,88) scale(0.8764,1)" text-anchor="end" font-size="12.0">46.7</text>
<text transform="translate(450,113.8) scale(0.8764,1)" text-anchor="end" font-size="12.0">40.0</text>
<text transform="translate(451.2,139.7) scale(0.8764,1)" text-anchor="end" font-size="12.0">33.3</text>
<text transform="translate(452.4,165.5) scale(0.8764,1)" text-anchor="end" font-size="12.0">26.7</text>
<text transform="translate(453.6,191.4) scale(0.8764,1)" text-anchor="end" font-size="12.0">20.0</text>
<text transform="translate(595.5,325.9) scale(0.8764,1)" text-anchor="end" font-size="12.0">-0.79</text>
<text transform="translate(560.7,308.2) scale(0.8764,1)" text-anchor="end" font-size="12.0">-0.29</text>
<text transform="translate(525.9,290.4) scale(0.8764,1)" text-anchor="end" font-size="12.0">0.21</text>
<text transform="translate(491.1,272.7) scale(0.8764,1)" text-anchor="end" font-size="12.0">0.71</text>
<text transform="translate(456.3,254.9) scale(0.8764,1)" text-anchor="end" font-size="12.0">1.21</text>
<text transform="translate(606.4,325.9) scale(0.8764,1)" text-anchor="start" font-size="12.0">-1.00</text>
<text transform="translate(641.2,308.2) scale(0.8764,1)" text-anchor="start" font-size="12.0">-0.50</text>
<text transform="translate(676,290.4) scale(0.8764,1)" text-anchor="start" font-size="12.0">0.00</text>
<text transform="translate(710.8,272.7) scale(0.8764,1)" text-anchor="start" font-size="12.0">0.50</text>
<text transform="translate(745.6,254.9) scale(0.8764,1)" text-anchor="start" font-size="12.0">1.00</text>
<text transform="translate(477.3,314.2) scale(0.8017,1)" text-anchor="middle" font-size="17.7">Ethanol concentration</text>
<text transform="translate(724.6,314.2) scale(0.8017,1)" text-anchor="middle" font-size="17.7">Reaction time</text>
<text transform="translate(412.8,143.7) rotate(-90) scale(1.2472,1)" text-anchor="middle" font-size="14.19">Extraction yield</text>
<text x="403.5" y="20.5" font-size="16" font-weight="bold" style="fill:#e8000d">(b)</text>
</g>
<g>
<path fill="none" stroke="#333" stroke-width=".8" d="M52.2,404.8L207.2,368.4 362.3,404.8M53.4,431.2L207.2,392.2 361,431.2M54.7,457.5L207.2,415.9 359.8,457.5M55.9,483.9L207.2,439.7 358.6,483.9M57.1,510.3L207.2,463.4 357.3,510.3M58.4,536.7L207.2,487.2 356.1,536.7M59.6,563.1L207.2,510.9 354.9,563.1M91,395.7L96.5,550M246,377.5L244.1,523.9M129.7,386.6L133.4,537M284.7,386.6L281,537M168.5,377.5L170.3,523.9M323.5,395.7L317.9,550M52.2,404.8L61.9,612.7M207.2,368.4L207.2,555.9M362.3,404.8L352.5,612.7"/>
<path fill="#ff0" stroke="#222" stroke-width=".7" d="M61.9,612.7 L207.2,685.2 352.5,612.7 207.2,555.9z"/>
<path fill="none" stroke="#ffb400" stroke-width="1.0" d="M219.8,601.5L218.7,601.3L217.6,601L216.5,600.8L215.4,600.6L214.2,600.4L213.1,600.3L212,600.1L210.9,599.9L209.8,599.8L208.8,599.7L207.7,599.6L206.6,599.5L205.5,599.4L204.4,599.3L203.4,599.2L202.3,599.1L201.2,599.1L200.2,599L199.1,599L198,598.9L197,598.9L195.9,598.9L194.9,598.9L193.8,598.9L192.7,598.9L191.6,598.9L190.6,598.9L189.5,599L188.4,599L187.3,599.1L186.2,599.1L185.1,599.2L184,599.3L182.9,599.4L181.8,599.5L180.7,599.6L179.5,599.7L178.4,599.9L177.2,600L176.1,600.2L174.9,600.4L173.8,600.6L172.6,600.8L171.4,601L170.3,601.3L169.1,601.5L167.9,601.8L166.7,602.1L165.6,602.4L164.4,602.8L163.3,603.1L162.2,603.5L161.1,603.9L160,604.4L158.9,604.8L157.9,605.3L157,605.8L156.1,606.3L155.2,606.9L154.4,607.5L153.7,608.1L153,608.7L152.5,609.3L152,609.9L151.6,610.6L151.3,611.2L151.1,611.9L151,612.6L151,613.3L151.1,613.9L151.3,614.6L151.6,615.3L152,615.9L152.5,616.5L153.1,617.2L153.8,617.8L154.6,618.3L155.4,618.9L156.3,619.4L157.3,619.9L158.3,620.4L159.3,620.9L160.4,621.3L161.5,621.7L162.6,622.1L163.8,622.5L165,622.8L166.2,623.2L167.4,623.5L168.6,623.7L169.8,624L171,624.2L172.2,624.5L173.4,624.7L174.6,624.9L175.8,625.1L177,625.2L178.2,625.4L179.3,625.5L180.5,625.6L181.7,625.8L182.8,625.9L184,625.9L185.1,626L186.3,626.1L187.4,626.2L188.6,626.2L189.7,626.3L190.8,626.3L191.9,626.3L193.1,626.3L194.2,626.3L195.3,626.3L196.4,626.3L197.6,626.3L198.7,626.3L199.8,626.2L200.9,626.2L202.1,626.1L203.2,626.1L204.4,626L205.5,625.9L206.7,625.8L207.8,625.7L209,625.6L210.2,625.5L211.4,625.4L212.6,625.2L213.7,625L214.9,624.9L216.2,624.7L217.4,624.4L218.6,624.2L219.8,624L221,623.7L222.2,623.4L223.4,623.1L224.6,622.8L225.8,622.5L227,622.1L228.1,621.7L229.3,621.3L230.4,620.9L231.4,620.4L232.4,619.9L233.4,619.4L234.3,618.9L235.2,618.3L235.9,617.7L236.6,617.1L237.2,616.5L237.7,615.9L238.1,615.2L238.4,614.6L238.7,613.9L238.8,613.2L238.7,612.6L238.6,611.9L238.4,611.3L238.1,610.6L237.7,610L237.2,609.3L236.6,608.7L236,608.1L235.2,607.5L234.4,607L233.6,606.5L232.7,606L231.7,605.5L230.7,605L229.7,604.6L228.7,604.1L227.6,603.7L226.5,603.4L225.4,603L224.3,602.7L223.2,602.3L222.1,602.1L221,601.8L219.8,601.5"/>
<path fill="none" stroke="#5af000" stroke-width="1.2" d="M246.3,590L244,589.5L241.7,589L239.4,588.6L237.1,588.2L234.8,587.8L232.5,587.4L230.2,587.1L227.9,586.8L225.7,586.5L223.4,586.2L221.2,585.9L219,585.7L216.7,585.5L214.5,585.3L212.3,585.1L210.1,585L207.9,584.9L205.7,584.7L203.5,584.6L201.2,584.6L199,584.5L196.8,584.5L194.6,584.4L192.4,584.4L190.2,584.4L187.9,584.5L185.7,584.5L183.4,584.6L181.2,584.6L178.9,584.7L176.6,584.9L174.3,585L172,585.2L169.7,585.4L167.3,585.6L164.9,585.8L162.6,586.1L160.2,586.4L157.8,586.7L155.4,587L152.9,587.4L150.5,587.8L148,588.3L145.6,588.7L143.1,589.2L140.6,589.8L138.1,590.4L135.7,591L133.2,591.7L130.8,592.4L128.4,593.1L126,593.9L123.6,594.8L121.3,595.7L119,596.6L116.8,597.6L114.7,598.7L112.6,599.8L110.7,600.9L108.9,602.1L107.2,603.3L105.6,604.6L104.2,605.9L102.9,607.3L101.8,608.7L100.9,610.1L100.3,611.5L99.8,613L99.5,614.4L99.5,615.9L99.7,617.4L100.1,618.8L100.7,620.3L101.6,621.7L102.7,623.1L104,624.4L105.5,625.7L107.1,627L109,628.2L110.9,629.3L113.1,630.5L115.3,631.5L117.6,632.5L120.1,633.4L122.6,634.3L125.1,635.2L127.7,635.9L130.4,636.7L133.1,637.3L135.8,638L138.5,638.5L141.2,639.1L143.9,639.6L146.6,640L149.3,640.5L152,640.9L154.7,641.2L157.3,641.5L160,641.8L162.6,642.1L165.2,642.3L167.8,642.6L170.4,642.7L173,642.9L175.5,643L178.1,643.2L180.6,643.3L183.1,643.4L185.6,643.4L188.1,643.5L190.6,643.5L193.1,643.5L195.6,643.5L198.1,643.4L200.6,643.4L203.1,643.3L205.6,643.2L208.1,643.1L210.6,643L213.1,642.8L215.6,642.7L218.1,642.5L220.7,642.3L223.2,642L225.8,641.8L228.4,641.5L231,641.2L233.6,640.8L236.2,640.4L238.9,640L241.5,639.6L244.2,639.1L246.8,638.6L249.5,638.1L252.2,637.5L254.8,636.9L257.4,636.2L260.1,635.5L262.6,634.7L265.2,633.9L267.7,633L270.1,632.1L272.4,631.1L274.7,630.1L276.8,629L278.8,627.9L280.7,626.7L282.4,625.5L283.9,624.2L285.3,622.9L286.4,621.5L287.3,620.1L288,618.7L288.4,617.3L288.7,615.8L288.6,614.4L288.4,613L287.9,611.5L287.2,610.1L286.3,608.8L285.2,607.4L283.9,606.1L282.5,604.8L280.9,603.6L279.2,602.4L277.4,601.3L275.5,600.2L273.5,599.1L271.4,598.1L269.3,597.2L267.1,596.3L264.8,595.4L262.6,594.6L260.3,593.8L258,593.1L255.7,592.4L253.3,591.8L251,591.1L248.7,590.6L246.3,590"/>
<path fill="none" stroke="#5adcaa" stroke-width="1.1" d="M235.7,567.1L231.9,566.7L228.2,566.4L224.4,566.1L220.6,565.8L216.9,565.5L213.1,565.3L209.4,565.1L205.6,565L201.8,564.8L198.1,564.7L194.3,564.7L190.5,564.6L186.7,564.6M182,670.8L186.7,670.8L191.4,670.8L196.1,670.7L200.7,670.6L205.4,670.5L210,670.3L214.7,670.1L219.3,669.9L224,669.6L228.7,669.3L233.3,668.9L238,668.5"/>
<defs><linearGradient id="c0" gradientUnits="userSpaceOnUse" x1="54.5" x2="214.8" y1="0" y2="0"><stop offset="0" stop-color="#8fbd00"/><stop offset=".025" stop-color="#8fbd00"/><stop offset=".075" stop-color="#ccdf00"/><stop offset=".125" stop-color="#ebe500"/><stop offset=".275" stop-color="#fbd400"/><stop offset=".375" stop-color="#ffdf00"/><stop offset=".475" stop-color="#fffa00"/><stop offset=".525" stop-color="#eaff00"/><stop offset=".6" stop-color="#b8ff00"/><stop offset=".675" stop-color="#7aff00"/><stop offset=".8" stop-color="#00ff07"/><stop offset=".975" stop-color="#00fdc7"/><stop offset="1" stop-color="#00fdc7"/></linearGradient><linearGradient id="c1" gradientUnits="userSpaceOnUse" x1="61.5" x2="221.9" y1="0" y2="0"><stop offset="0" stop-color="#000"/><stop offset=".025" stop-color="#000"/><stop offset=".05" stop-color="#a2af00"/><stop offset=".075" stop-color="#cbca00"/><stop offset=".15" stop-color="#e7c500"/><stop offset=".275" stop-color="#f7ba00"/><stop offset=".4" stop-color="#ffc900"/><stop offset=".55" stop-color="#fffc00"/><stop offset=".575" stop-color="#f3ff00"/><stop offset=".7" stop-color="#90ff00"/><stop offset=".825" stop-color="#0cff00"/><stop offset=".85" stop-color="#00ff0f"/><stop offset=".975" stop-color="#00fd9a"/><stop offset="1" stop-color="#00fd9a"/></linearGradient><linearGradient id="c2" gradientUnits="userSpaceOnUse" x1="68.4" x2="228.9" y1="0" y2="0"><stop offset="0" stop-color="#000"/><stop offset=".05" stop-color="#000"/><stop offset=".075" stop-color="#a19500"/><stop offset=".1" stop-color="#c2aa00"/><stop offset=".125" stop-color="#d2ae00"/><stop offset=".2" stop-color="#e8a600"/><stop offset=".3" stop-color="#f5a200"/><stop offset=".425" stop-color="#ffb400"/><stop offset=".5" stop-color="#ffca00"/><stop offset=".6" stop-color="#fff700"/><stop offset=".625" stop-color="#f7ff00"/><stop offset=".75" stop-color="#8bff00"/><stop offset=".875" stop-color="#0f0"/><stop offset=".975" stop-color="#00fe70"/><stop offset="1" stop-color="#00fe70"/></linearGradient><linearGradient id="c3" gradientUnits="userSpaceOnUse" x1="75.3" x2="235.8" y1="0" y2="0"><stop offset="0" stop-color="#000"/><stop offset=".075" stop-color="#000"/><stop offset=".1" stop-color="#917700"/><stop offset=".125" stop-color="#b88d00"/><stop offset=".15" stop-color="#cb9200"/><stop offset=".225" stop-color="#e48f00"/><stop offset=".325" stop-color="#f38d00"/><stop offset=".475" stop-color="#ffa900"/><stop offset=".575" stop-color="#ffcf00"/><stop offset=".65" stop-color="#fff700"/><stop offset=".675" stop-color="#f6ff00"/><stop offset=".775" stop-color="#9bff00"/><stop offset=".9" stop-color="#0eff00"/><stop offset=".925" stop-color="#00ff0f"/><stop offset=".975" stop-color="#00ff48"/><stop offset="1" stop-color="#00ff48"/></linearGradient><linearGradient id="c4" gradientUnits="userSpaceOnUse" x1="82.2" x2="242.7" y1="0" y2="0"><stop offset="0" stop-color="#000"/><stop offset=".1" stop-color="#000"/><stop offset=".125" stop-color="#805c00"/><stop offset=".15" stop-color="#ae7400"/><stop offset=".2" stop-color="#d17c00"/><stop offset=".375" stop-color="#f47c00"/><stop offset=".525" stop-color="#ffa300"/><stop offset=".6" stop-color="#ffc200"/><stop offset=".7" stop-color="#fffb00"/><stop offset=".8" stop-color="#a8ff00"/><stop offset=".95" stop-color="#00ff06"/><stop offset=".975" stop-color="#0f2"/><stop offset="1" stop-color="#00ff23"/></linearGradient><linearGradient id="c5" gradientUnits="userSpaceOnUse" x1="88.9" x2="249.5" y1="0" y2="0"><stop offset="0" stop-color="#000"/><stop offset=".125" stop-color="#000"/><stop offset=".15" stop-color="#6a4300"/><stop offset=".175" stop-color="#a15e00"/><stop offset=".225" stop-color="#ca6900"/><stop offset=".3" stop-color="#e26300"/><stop offset=".4" stop-color="#f26700"/><stop offset=".55" stop-color="#ff9700"/><stop offset=".75" stop-color="#faff00"/><stop offset=".85" stop-color="#97ff00"/><stop offset=".975" stop-color="#0f0"/><stop offset="1" stop-color="#0f0"/></linearGradient><linearGradient id="c6" gradientUnits="userSpaceOnUse" x1="99.5" x2="256.3" y1="0" y2="0"><stop offset="0" stop-color="#000"/><stop offset=".125" stop-color="#000"/><stop offset=".15" stop-color="#351e00"/><stop offset=".175" stop-color="#884700"/><stop offset=".2" stop-color="#ab5100"/><stop offset=".25" stop-color="#cc5200"/><stop offset=".4" stop-color="#ef5400"/><stop offset=".475" stop-color="#f76800"/><stop offset=".575" stop-color="#ff9200"/><stop offset=".65" stop-color="#ffb400"/><stop offset=".775" stop-color="#fdff00"/><stop offset=".875" stop-color="#9aff00"/><stop offset=".975" stop-color="#25ff00"/><stop offset="1" stop-color="#25ff00"/></linearGradient><linearGradient id="c7" gradientUnits="userSpaceOnUse" x1="110.8" x2="263" y1="0" y2="0"><stop offset="0" stop-color="#000"/><stop offset=".15" stop-color="#060300"/><stop offset=".175" stop-color="#713100"/><stop offset=".2" stop-color="#9c3d00"/><stop offset=".25" stop-color="#c44100"/><stop offset=".325" stop-color="#de3f00"/><stop offset=".4" stop-color="#eb4500"/><stop offset=".5" stop-color="#f76200"/><stop offset=".575" stop-color="#fd8600"/><stop offset=".675" stop-color="#ffb400"/><stop offset=".8" stop-color="#fdff00"/><stop offset=".875" stop-color="#b5ff00"/><stop offset=".975" stop-color="#46ff00"/><stop offset="1" stop-color="#46ff00"/></linearGradient><linearGradient id="c8" gradientUnits="userSpaceOnUse" x1="122.4" x2="269.6" y1="0" y2="0"><stop offset="0" stop-color="#000"/><stop offset=".15" stop-color="#000"/><stop offset=".175" stop-color="#541f00"/><stop offset=".2" stop-color="#8b2d00"/><stop offset=".225" stop-color="#a83100"/><stop offset=".3" stop-color="#d13200"/><stop offset=".45" stop-color="#ef4500"/><stop offset=".675" stop-color="#ffa900"/><stop offset=".825" stop-color="#faff00"/><stop offset=".975" stop-color="#64ff00"/><stop offset="1" stop-color="#64ff00"/></linearGradient><linearGradient id="c9" gradientUnits="userSpaceOnUse" x1="134.1" x2="276.1" y1="0" y2="0"><stop offset="0" stop-color="#000"/><stop offset=".15" stop-color="#000"/><stop offset=".175" stop-color="#310f00"/><stop offset=".2" stop-color="#752000"/><stop offset=".225" stop-color="#9a2700"/><stop offset=".25" stop-color="#b02900"/><stop offset=".325" stop-color="#d32b00"/><stop offset=".475" stop-color="#ef4600"/><stop offset=".675" stop-color="#ffa100"/><stop offset=".825" stop-color="#fff600"/><stop offset=".85" stop-color="#f5ff00"/><stop offset=".975" stop-color="#7eff00"/><stop offset="1" stop-color="#7eff00"/></linearGradient><linearGradient id="c10" gradientUnits="userSpaceOnUse" x1="145.9" x2="282.6" y1="0" y2="0"><stop offset="0" stop-color="#000"/><stop offset=".15" stop-color="#000"/><stop offset=".175" stop-color="#0a0300"/><stop offset=".2" stop-color="#5b1600"/><stop offset=".225" stop-color="#881e00"/><stop offset=".25" stop-color="#a32100"/><stop offset=".325" stop-color="#cc2600"/><stop offset=".45" stop-color="#e83b00"/><stop offset=".525" stop-color="#f15400"/><stop offset=".675" stop-color="#fd9b00"/><stop offset=".85" stop-color="#fffc00"/><stop offset=".975" stop-color="#94ff00"/><stop offset="1" stop-color="#94ff00"/></linearGradient><linearGradient id="c11" gradientUnits="userSpaceOnUse" x1="158" x2="289" y1="0" y2="0"><stop offset="0" stop-color="#000"/><stop offset=".175" stop-color="#000"/><stop offset=".225" stop-color="#731800"/><stop offset=".25" stop-color="#941d00"/><stop offset=".325" stop-color="#c52400"/><stop offset=".425" stop-color="#e03500"/><stop offset=".575" stop-color="#f46a00"/><stop offset=".85" stop-color="#fff400"/><stop offset=".875" stop-color="#f9ff00"/><stop offset=".975" stop-color="#a6ff00"/><stop offset="1" stop-color="#a6ff00"/></linearGradient><linearGradient id="c12" gradientUnits="userSpaceOnUse" x1="170.3" x2="295.3" y1="0" y2="0"><stop offset="0" stop-color="#000"/><stop offset=".175" stop-color="#000"/><stop offset=".2" stop-color="#120400"/><stop offset=".225" stop-color="#571200"/><stop offset=".25" stop-color="#811a00"/><stop offset=".275" stop-color="#9c1f00"/><stop offset=".35" stop-color="#c72a00"/><stop offset=".45" stop-color="#e03f00"/><stop offset=".7" stop-color="#fba300"/><stop offset=".875" stop-color="#fffe00"/><stop offset=".975" stop-color="#b4ff00"/><stop offset="1" stop-color="#b4ff00"/></linearGradient><linearGradient id="c13" gradientUnits="userSpaceOnUse" x1="182.7" x2="301.5" y1="0" y2="0"><stop offset="0" stop-color="#000"/><stop offset=".2" stop-color="#000"/><stop offset=".25" stop-color="#681800"/><stop offset=".3" stop-color="#a22500"/><stop offset=".375" stop-color="#c83400"/><stop offset=".45" stop-color="#dc4700"/><stop offset=".675" stop-color="#f79a00"/><stop offset=".875" stop-color="#fffb00"/><stop offset=".975" stop-color="#beff00"/><stop offset="1" stop-color="#beff00"/></linearGradient><linearGradient id="c14" gradientUnits="userSpaceOnUse" x1="195.3" x2="307.7" y1="0" y2="0"><stop offset="0" stop-color="#000"/><stop offset=".225" stop-color="#050100"/><stop offset=".25" stop-color="#451300"/><stop offset=".275" stop-color="#732000"/><stop offset=".3" stop-color="#912900"/><stop offset=".375" stop-color="#c03d00"/><stop offset=".475" stop-color="#dc5900"/><stop offset=".725" stop-color="#f9b400"/><stop offset=".875" stop-color="#fffc00"/><stop offset=".975" stop-color="#c3ff00"/><stop offset="1" stop-color="#c3ff00"/></linearGradient><linearGradient id="c15" gradientUnits="userSpaceOnUse" x1="208.2" x2="313.8" y1="0" y2="0"><stop offset="0" stop-color="#000"/><stop offset=".225" stop-color="#000"/><stop offset=".25" stop-color="#130700"/><stop offset=".275" stop-color="#511c00"/><stop offset=".3" stop-color="#792b00"/><stop offset=".325" stop-color="#943500"/><stop offset=".4" stop-color="#c14f00"/><stop offset=".5" stop-color="#dc6f00"/><stop offset=".7" stop-color="#f4b100"/><stop offset=".875" stop-color="#feff00"/><stop offset=".95" stop-color="#d0ff00"/><stop offset="1" stop-color="#c5fe00"/></linearGradient><linearGradient id="c16" gradientUnits="userSpaceOnUse" x1="221.2" x2="319.8" y1="0" y2="0"><stop offset="0" stop-color="#000"/><stop offset=".25" stop-color="#000"/><stop offset=".275" stop-color="#190b00"/><stop offset=".3" stop-color="#552600"/><stop offset=".325" stop-color="#7b3800"/><stop offset=".35" stop-color="#954600"/><stop offset=".425" stop-color="#c16400"/><stop offset=".525" stop-color="#dc8300"/><stop offset=".65" stop-color="#edaa00"/><stop offset=".85" stop-color="#fdfb00"/><stop offset=".95" stop-color="#cbff00"/><stop offset="1" stop-color="#c1fe00"/></linearGradient><linearGradient id="c17" gradientUnits="userSpaceOnUse" x1="234.5" x2="325.7" y1="0" y2="0"><stop offset="0" stop-color="#000"/><stop offset=".275" stop-color="#000"/><stop offset=".3" stop-color="#120a00"/><stop offset=".325" stop-color="#512d00"/><stop offset=".35" stop-color="#794400"/><stop offset=".4" stop-color="#a76200"/><stop offset=".475" stop-color="#c98000"/><stop offset=".575" stop-color="#e0a000"/><stop offset=".825" stop-color="#f9f900"/><stop offset=".95" stop-color="#c1ff00"/><stop offset="1" stop-color="#bbfe00"/></linearGradient><linearGradient id="c18" gradientUnits="userSpaceOnUse" x1="248" x2="331.5" y1="0" y2="0"><stop offset="0" stop-color="#000"/><stop offset=".325" stop-color="#000"/><stop offset=".35" stop-color="#422b00"/><stop offset=".375" stop-color="#714b00"/><stop offset=".4" stop-color="#8f6100"/><stop offset=".475" stop-color="#be8a00"/><stop offset=".575" stop-color="#dbb000"/><stop offset=".775" stop-color="#f3f400"/><stop offset=".95" stop-color="#b4ff00"/><stop offset="1" stop-color="#afff00"/></linearGradient><linearGradient id="c19" gradientUnits="userSpaceOnUse" x1="261.6" x2="337.2" y1="0" y2="0"><stop offset="0" stop-color="#000"/><stop offset=".35" stop-color="#000"/><stop offset=".375" stop-color="#0b0900"/><stop offset=".4" stop-color="#594600"/><stop offset=".425" stop-color="#826800"/><stop offset=".45" stop-color="#9b7f00"/><stop offset=".525" stop-color="#c5ab00"/><stop offset=".65" stop-color="#e3db00"/><stop offset=".725" stop-color="#e2ed00"/><stop offset=".95" stop-color="#a0fd00"/><stop offset="1" stop-color="#9efe00"/></linearGradient><linearGradient id="c20" gradientUnits="userSpaceOnUse" x1="275.6" x2="342.8" y1="0" y2="0"><stop offset="0" stop-color="#000"/><stop offset=".425" stop-color="#000"/><stop offset=".45" stop-color="#5b5500"/><stop offset=".475" stop-color="#888100"/><stop offset=".525" stop-color="#b3b100"/><stop offset=".575" stop-color="#c5ca00"/><stop offset=".7" stop-color="#c4e600"/><stop offset=".95" stop-color="#8afc00"/><stop offset="1" stop-color="#89fd00"/></linearGradient><linearGradient id="c21" gradientUnits="userSpaceOnUse" x1="289.7" x2="348.3" y1="0" y2="0"><stop offset="0" stop-color="#000"/><stop offset=".5" stop-color="#000"/><stop offset=".525" stop-color="#677a00"/><stop offset=".55" stop-color="#86a100"/><stop offset=".6" stop-color="#9bc500"/><stop offset=".75" stop-color="#99eb00"/><stop offset=".95" stop-color="#70fc00"/><stop offset="1" stop-color="#70fc00"/></linearGradient><linearGradient id="c22" gradientUnits="userSpaceOnUse" x1="304" x2="353.8" y1="0" y2="0"><stop offset="0" stop-color="#000"/><stop offset=".6" stop-color="#000"/><stop offset=".625" stop-color="#78cc00"/><stop offset=".775" stop-color="#70f100"/><stop offset=".925" stop-color="#55fe00"/><stop offset="1" stop-color="#53ff00"/></linearGradient><linearGradient id="c23" gradientUnits="userSpaceOnUse" x1="318.6" x2="359.1" y1="0" y2="0"><stop offset="0" stop-color="#000"/><stop offset=".75" stop-color="#000"/><stop offset=".775" stop-color="#4aff00"/><stop offset=".925" stop-color="#30ff00"/><stop offset="1" stop-color="#30ff00"/></linearGradient></defs>
<g stroke-width=".7">
<path fill="url(#c0)" stroke="url(#c0)" d="M207.2,578.4Q186,544 165.4,519.7Q145.2,495.9 125.8,481.9Q106.9,468.2 88.8,463.9Q71.4,459.8 55,464.5L56.8,463.2L58.5,462L60.2,460.8L62,459.6Q78.5,454.5 95.9,458Q113.9,461.7 132.8,474.7Q152.3,488 172.5,511.1Q193.1,534.7 214.3,568.2L212.6,570.7L210.8,573.2L209,575.8z"/>
<path fill="url(#c1)" stroke="url(#c1)" d="M214.3,568.2Q193.1,534.7 172.5,511.1Q152.3,488 132.8,474.7Q113.9,461.7 95.9,458Q78.5,454.5 62,459.6L63.7,458.5L65.5,457.3L67.2,456.2L68.9,455.2Q85.4,449.5 102.9,452.5Q121,455.6 139.9,468Q159.4,480.7 179.5,503Q200.2,525.9 221.4,558.6L219.6,560.9L217.9,563.3L216.1,565.8z"/>
<path fill="url(#c2)" stroke="url(#c2)" d="M221.4,558.6Q200.2,525.9 179.5,503Q159.4,480.7 139.9,468Q121,455.6 102.9,452.5Q85.4,449.5 68.9,455.2L70.6,454.1L72.4,453.1L74.1,452.1L75.8,451.2Q92.4,445 109.9,447.5Q128,450 146.9,461.7Q166.4,473.8 186.6,495.4Q207.2,517.5 228.4,549.4L226.6,551.7L224.9,554L223.1,556.3z"/>
<path fill="url(#c3)" stroke="url(#c3)" d="M228.4,549.4Q207.2,517.5 186.6,495.4Q166.4,473.8 146.9,461.7Q128,450 109.9,447.5Q92.4,445 75.8,451.2L77.5,450.2L79.2,449.3L80.9,448.4L82.7,447.6Q99.3,441 116.8,442.9Q134.9,444.9 153.8,456Q173.3,467.4 193.5,488.2Q214.2,509.7 235.3,540.8L233.6,542.9L231.9,545.1L230.1,547.2z"/>
<path fill="url(#c4)" stroke="url(#c4)" d="M235.3,540.8Q214.2,509.7 193.5,488.2Q173.3,467.4 153.8,456Q134.9,444.9 116.8,442.9Q99.3,441 82.7,447.6L84.4,446.7L86.1,445.9L87.8,445.1L89.4,444.4Q106.1,437.4 123.6,438.8Q141.8,440.2 160.7,450.7Q180.2,461.4 200.4,481.6Q221.1,502.3 242.2,532.7L240.5,534.7L238.8,536.7L237.1,538.7z"/>
<path fill="url(#c5)" stroke="url(#c5)" d="M242.2,532.7Q221.1,502.3 200.4,481.6Q180.2,461.4 160.7,450.7Q141.8,440.2 123.6,438.8Q106.1,437.4 89.4,444.4L91.6,443.5L94.3,442.3L97.2,441.2L100,440.1Q116.3,433.7 133.5,435.3Q151.3,437 169.8,447.1Q188.8,457.4 208.4,476.7Q228.5,496.4 249,525.1L247.3,527L245.6,528.9L243.9,530.8z"/>
<path fill="url(#c6)" stroke="url(#c6)" d="M249,525.1Q228.5,496.4 208.4,476.7Q188.8,457.4 169.8,447.1Q151.3,437 133.5,435.3Q116.3,433.7 100,440.1L102.8,439L105.6,438L108.5,436.9L111.3,435.9Q127.3,430.5 144.1,432.4Q161.3,434.3 179.2,444.1Q197.7,454.2 216.6,472.4Q236,491 255.8,518.1L254.1,519.8L252.4,521.5L250.7,523.3z"/>
<path fill="url(#c7)" stroke="url(#c7)" d="M255.8,518.1Q236,491 216.6,472.4Q197.7,454.2 179.2,444.1Q161.3,434.3 144.1,432.4Q127.3,430.5 111.3,435.9L114.2,435L117.1,434L120,433.1L122.9,432.3Q138.4,427.7 154.7,429.9Q171.4,432.2 188.8,441.7Q206.5,451.4 224.8,468.6Q243.5,486.2 262.5,511.6L260.8,513.1L259.1,514.7L257.4,516.4z"/>
<path fill="url(#c8)" stroke="url(#c8)" d="M262.5,511.6Q243.5,486.2 224.8,468.6Q206.5,451.4 188.8,441.7Q171.4,432.2 154.7,429.9Q138.4,427.7 122.9,432.3L125.8,431.4L128.7,430.6L131.6,429.9L134.6,429.1Q154.9,424.1 176.2,430.3Q198.3,436.8 221.2,455.2Q244.9,474.2 269.1,505.6L267.4,507L265.8,508.5L264.1,510z"/>
<path fill="url(#c9)" stroke="url(#c9)" d="M269.1,505.6Q244.9,474.2 221.2,455.2Q198.3,436.8 176.2,430.3Q154.9,424.1 134.6,429.1L137.5,428.4L140.5,427.7L143.5,427.1L146.4,426.5Q166.1,422.6 186.6,429Q207.9,435.5 229.9,453Q252.5,470.9 275.6,500.1L274,501.5L272.4,502.8L270.7,504.2z"/>
<path fill="url(#c10)" stroke="url(#c10)" d="M275.6,500.1Q252.5,470.9 229.9,453Q207.9,435.5 186.6,429Q166.1,422.6 146.4,426.5L149.4,425.9L152.5,425.4L155.5,424.9L158.5,424.4Q177.4,421.6 197.2,428.1Q217.5,434.8 238.5,451.2Q260.1,468.2 282.1,495.3L280.5,496.4L278.9,497.6L277.2,498.9z"/>
<path fill="url(#c11)" stroke="url(#c11)" d="M282.1,495.3Q260.1,468.2 238.5,451.2Q217.5,434.8 197.2,428.1Q177.4,421.6 158.5,424.4L161.6,424L164.6,423.6L167.7,423.2L170.8,422.9Q188.9,421.2 207.8,427.7Q227.2,434.5 247.1,450Q267.6,465.9 288.5,490.9L286.9,492L285.3,493L283.7,494.1z"/>
<path fill="url(#c12)" stroke="url(#c12)" d="M288.5,490.9Q267.6,465.9 247.1,450Q227.2,434.5 207.8,427.7Q188.9,421.2 170.8,422.9L173.9,422.6L177,422.4L180.1,422.2L183.2,422Q200.5,421.3 218.5,427.9Q236.9,434.7 255.8,449.3Q275.1,464.2 294.8,487.2L293.2,488L291.7,489L290.1,489.9z"/>
<path fill="url(#c13)" stroke="url(#c13)" d="M294.8,487.2Q275.1,464.2 255.8,449.3Q236.9,434.7 218.5,427.9Q200.5,421.3 183.2,422L186.3,421.9L189.5,421.9L192.7,421.8L195.8,421.8Q212.3,422 229.2,428.6Q246.6,435.5 264.4,449.1Q282.6,463 301,483.9L299.5,484.7L297.9,485.5L296.4,486.3z"/>
<path fill="url(#c14)" stroke="url(#c14)" d="M301,483.9Q282.6,463 264.4,449.1Q246.6,435.5 229.2,428.6Q212.3,422 195.8,421.8L199,421.9L202.2,422L205.5,422.1L208.7,422.3Q232.1,423.8 256.4,438.1Q281.5,453 307.2,481.3L305.7,481.9L304.1,482.5L302.6,483.2z"/>
<path fill="url(#c15)" stroke="url(#c15)" d="M307.2,481.3Q281.5,453 256.4,438.1Q232.1,423.8 208.7,422.3L211.9,422.5L215.2,422.8L218.4,423.1L221.7,423.5Q243.6,426.1 266.2,439.7Q289.5,453.7 313.3,479.2L311.8,479.7L310.2,480.2L308.7,480.7z"/>
<path fill="url(#c16)" stroke="url(#c16)" d="M313.3,479.2Q289.5,453.7 266.2,439.7Q243.6,426.1 221.7,423.5L225,423.9L228.3,424.4L231.7,424.9L235,425.5Q255.3,429.1 276.1,441.8Q297.5,455 319.3,477.6L317.8,478L316.3,478.3L314.8,478.7z"/>
<path fill="url(#c17)" stroke="url(#c17)" d="M319.3,477.6Q297.5,455 276.1,441.8Q255.3,429.1 235,425.5L238.3,426.1L241.7,426.8L245.1,427.5L248.5,428.3Q267,432.6 286,444.5Q305.4,456.7 325.2,476.7L323.7,476.9L322.2,477.1L320.7,477.3z"/>
<path fill="url(#c18)" stroke="url(#c18)" d="M325.2,476.7Q305.4,456.7 286,444.5Q267,432.6 248.5,428.3L251.9,429.1L255.3,430L258.7,430.9L262.1,431.9Q278.9,436.8 295.9,447.8Q313.3,458.9 331,476.3L329.5,476.3L328.1,476.4L326.6,476.5z"/>
<path fill="url(#c19)" stroke="url(#c19)" d="M331,476.3Q313.3,458.9 295.9,447.8Q278.9,436.8 262.1,431.9L265.6,432.9L269.1,434L272.6,435.2L276.1,436.4Q306,447.1 336.7,476.4L335.3,476.3L333.8,476.3L332.4,476.2z"/>
<path fill="url(#c20)" stroke="url(#c20)" d="M336.7,476.4Q306,447.1 276.1,436.4L279.6,437.7L283.1,439L286.6,440.4L290.2,441.9Q316,452.7 342.3,477.1L340.9,476.9L339.5,476.7L338.1,476.5z"/>
<path fill="url(#c21)" stroke="url(#c21)" d="M342.3,477.1Q316,452.7 290.2,441.9L293.8,443.4L297.3,445L300.9,446.7L304.5,448.4Q326,458.7 347.8,478.4L346.5,478L345.1,477.7L343.7,477.4z"/>
<path fill="url(#c22)" stroke="url(#c22)" d="M347.8,478.4Q326,458.7 304.5,448.4L308.2,450.1L311.8,452L315.5,453.9L319.1,455.9Q336.1,465.2 353.3,480.2L351.9,479.7L350.6,479.2L349.2,478.8z"/>
<path fill="url(#c23)" stroke="url(#c23)" d="M353.3,480.2Q336.1,465.2 319.1,455.9L322.8,457.9L326.5,460L330.2,462.2L333.9,464.5Q346.2,472 358.6,482.5L357.3,481.9L356,481.3L354.6,480.7z"/>
</g>
<path fill="none" stroke="#000" stroke-width="0.42" d="M207.2,578.4Q186,544 165.4,519.7Q145.2,495.9 125.8,481.9Q106.9,468.2 88.8,463.9Q71.4,459.8 55,464.5M209.4,575.3Q188.2,541.2 167.5,517.1Q147.3,493.5 127.9,479.7Q109,466.2 91,462.1Q73.5,458.2 57.1,463M211.5,572.2Q190.3,538.4 169.6,514.5Q149.5,491.1 130,477.5Q111.1,464.3 93.1,460.3Q75.6,456.5 59.2,461.5M213.6,569.2Q192.4,535.6 171.8,511.9Q151.6,488.8 132.1,475.4Q113.2,462.3 95.2,458.6Q77.8,455 61.3,460.1M215.8,566.3Q194.6,532.9 173.9,509.4Q153.7,486.5 134.3,473.3Q115.4,460.5 97.3,456.9Q79.9,453.4 63.4,458.7M217.9,563.3Q196.7,530.2 176,507Q155.8,484.3 136.4,471.3Q117.5,458.6 99.4,455.2Q81.9,451.9 65.5,457.3M220,560.5Q198.8,527.6 178.1,504.6Q158,482.1 138.5,469.3Q119.6,456.8 101.5,453.6Q84,450.5 67.5,456M222.1,557.6Q200.9,525 180.2,502.2Q160.1,479.9 140.6,467.3Q121.7,455.1 103.6,452Q86.1,449.1 69.6,454.8M224.2,554.9Q203,522.5 182.4,499.9Q162.2,477.8 142.7,465.4Q123.8,453.3 105.7,450.5Q88.2,447.7 71.7,453.5M226.3,552.1Q205.1,520 184.5,497.6Q164.3,475.8 144.8,463.5Q125.9,451.7 107.8,449Q90.3,446.3 73.7,452.3M228.4,549.4Q207.2,517.5 186.6,495.4Q166.4,473.8 146.9,461.7Q128,450 109.9,447.5Q92.4,445 75.8,451.2M230.5,546.8Q209.3,515.1 188.6,493.2Q168.5,471.8 149,459.9Q130,448.4 111.9,446.1Q94.4,443.8 77.9,450M232.6,544.2Q211.4,512.7 190.7,491Q170.6,469.9 151.1,458.2Q132.1,446.9 114,444.7Q96.5,442.5 79.9,448.9M234.6,541.7Q213.5,510.4 192.8,488.9Q172.6,468 153.1,456.5Q134.2,445.4 116.1,443.3Q98.6,441.4 82,447.9M236.7,539.2Q215.6,508.2 194.9,486.9Q174.7,466.1 155.2,454.9Q136.3,443.9 118.1,442Q100.6,440.2 84,446.9M238.8,536.7Q217.6,505.9 197,484.9Q176.8,464.3 157.3,453.3Q138.3,442.5 120.2,440.8Q102.7,439.1 86.1,445.9M240.8,534.3Q219.7,503.8 199,482.9Q178.9,462.6 159.3,451.7Q140.4,441.1 122.3,439.6Q104.7,438.1 88.1,445M242.9,531.9Q221.8,501.6 201.1,481Q180.9,460.9 161.4,450.2Q142.5,439.8 124.3,438.4Q106.8,437 90.1,444.1M244.9,529.6Q224,499.8 203.5,479.5Q183.5,459.6 164.1,449Q145.3,438.8 127.2,437.3Q109.8,435.9 93.2,442.8M247,527.3Q226.2,498 205.9,478Q186.1,458.5 166.9,448Q148.3,437.9 130.4,436.3Q113.1,434.8 96.6,441.4M249,525.1Q228.5,496.4 208.4,476.7Q188.8,457.4 169.8,447.1Q151.3,437 133.5,435.3Q116.3,433.7 100,440.1M251.1,523Q230.8,494.7 210.9,475.3Q191.4,456.4 172.6,446.1Q154.3,436.1 136.7,434.4Q119.6,432.7 103.4,438.8M253.1,520.8Q233,493.1 213.3,474Q194.1,455.4 175.4,445.2Q157.3,435.3 139.8,433.5Q122.9,431.7 106.8,437.5M255.1,518.8Q235.3,491.6 215.8,472.8Q196.8,454.5 178.3,444.4Q160.3,434.6 143,432.7Q126.2,430.8 110.2,436.3M257.1,516.7Q237.5,490 218.2,471.6Q199.4,453.6 181.1,443.6Q163.3,433.9 146.2,431.8Q129.5,429.9 113.6,435.2M259.1,514.7Q239.7,488.6 220.7,470.4Q202.1,452.7 184,442.8Q166.4,433.2 149.4,431.1Q132.9,429 117.1,434M261.1,512.8Q242,487.2 223.2,469.3Q204.8,451.9 186.9,442.1Q169.4,432.6 152.6,430.4Q136.2,428.2 120.5,433M263.1,510.9Q244.2,485.8 225.6,468.3Q207.4,451.1 189.7,441.4Q172.5,432 155.8,429.7Q139.6,427.4 124,431.9M265.1,509.1Q246.4,484.5 228.1,467.2Q210.1,450.4 192.6,440.8Q175.5,431.4 159,429Q142.9,426.7 127.5,430.9M267.1,507.3Q242.6,475.2 218.6,455.9Q195.4,437.2 173.1,430.8Q151.5,424.7 131,430M269.1,505.6Q244.9,474.2 221.2,455.2Q198.3,436.8 176.2,430.3Q154.9,424.1 134.6,429.1M271,503.9Q247.2,473.1 223.8,454.5Q201.2,436.3 179.3,429.9Q158.2,423.6 138.1,428.3M273,502.3Q249.4,472.1 226.4,453.8Q204,436 182.4,429.4Q161.6,423.1 141.7,427.5M275,500.7Q251.7,471.2 229,453.2Q206.9,435.6 185.6,429.1Q165,422.7 145.3,426.7M276.9,499.1Q254,470.3 231.6,452.6Q209.8,435.3 188.7,428.7Q168.3,422.4 148.8,426M278.9,497.6Q256.3,469.5 234.2,452Q212.7,435.1 191.9,428.5Q171.7,422 152.5,425.4M280.8,496.2Q258.6,468.7 236.8,451.5Q215.6,434.9 195,428.2Q175.2,421.8 156.1,424.8M282.7,494.8Q260.8,467.9 239.4,451.1Q218.5,434.7 198.2,428Q178.6,421.5 159.7,424.2M284.7,493.5Q263.1,467.2 242,450.7Q221.4,434.6 201.4,427.9Q182,421.4 163.4,423.7M286.6,492.2Q265.4,466.6 244.6,450.3Q224.3,434.5 204.6,427.8Q185.5,421.2 167.1,423.3M288.5,490.9Q267.6,465.9 247.1,450Q227.2,434.5 207.8,427.7Q188.9,421.2 170.8,422.9M290.4,489.7Q269.9,465.4 249.7,449.7Q230.1,434.5 211,427.7Q192.4,421.1 174.5,422.6M292.3,488.6Q272.1,464.9 252.3,449.5Q233,434.6 214.2,427.8Q195.9,421.2 178.2,422.3M294.2,487.5Q274.4,464.4 254.9,449.3Q235.9,434.7 217.4,427.9Q199.4,421.2 182,422.1M296.1,486.5Q276.6,463.9 257.5,449.2Q238.8,434.8 220.6,428Q202.9,421.4 185.7,421.9M297.9,485.5Q278.9,463.6 260.1,449.1Q241.8,435 223.8,428.2Q206.4,421.6 189.5,421.9M299.8,484.5Q281.1,463.2 262.7,449.1Q244.7,435.3 227.1,428.5Q209.9,421.8 193.3,421.8M301.7,483.6Q283.3,462.9 265.3,449.1Q247.6,435.6 230.3,428.8Q213.5,422.1 197.1,421.8M303.5,482.8Q285.6,462.7 267.9,449.1Q250.5,435.9 233.6,429.1Q217,422.4 201,421.9M305.4,482Q287.8,462.5 270.4,449.2Q253.5,436.3 236.8,429.5Q220.6,422.8 204.8,422.1M307.2,481.3Q281.5,453 256.4,438.1Q232.1,423.8 208.7,422.3M309,480.6Q283.9,453.1 259.3,438.6Q235.6,424.5 212.6,422.6M310.8,480Q286.3,453.4 262.3,439Q239,425.1 216.5,422.9M312.7,479.4Q288.7,453.6 265.2,439.5Q242.5,425.9 220.4,423.4M314.5,478.8Q291.1,453.9 268.2,440.1Q245.9,426.7 224.4,423.8M316.3,478.3Q293.5,454.3 271.1,440.7Q249.4,427.5 228.3,424.4M318.1,477.9Q295.9,454.7 274.1,441.4Q252.9,428.4 232.3,425M319.8,477.5Q298.3,455.1 277.1,442.1Q256.4,429.4 236.3,425.7M321.6,477.2Q300.7,455.6 280,442.8Q259.9,430.4 240.3,426.5M323.4,476.9Q303,456.1 283,443.7Q263.5,431.5 244.4,427.3M325.2,476.7Q305.4,456.7 286,444.5Q267,432.6 248.5,428.3M326.9,476.5Q307.8,457.3 289,445.4Q270.6,433.8 252.5,429.3M328.7,476.3Q310.2,458 291.9,446.4Q274.1,435.1 256.6,430.3M330.4,476.3Q312.5,458.7 294.9,447.4Q277.7,436.4 260.8,431.5M332.1,476.2Q314.9,459.4 297.9,448.5Q281.3,437.8 264.9,432.7M333.8,476.3Q317.3,460.2 300.9,449.6Q284.9,439.2 269.1,434M335.5,476.3Q319.6,461 303.9,450.8Q288.5,440.7 273.3,435.4M337.2,476.4Q307,447.6 277.5,436.9M338.9,476.6Q310,449.3 281.7,438.5M340.6,476.8Q313,451 285.9,440.2M342.3,477.1Q316,452.7 290.2,441.9M344,477.4Q319,454.5 294.5,443.7M345.6,477.8Q322,456.3 298.8,445.7M347.3,478.2Q325,458.1 303.1,447.7M348.9,478.7Q328.1,460 307.4,449.8M350.6,479.2Q331.1,461.9 311.8,452M352.2,479.8Q334.1,463.9 316.2,454.3M353.8,480.4Q337.1,465.9 320.6,456.7M355.4,481.1Q340.2,467.9 325,459.2M357,481.8Q343.2,469.9 329.5,461.8M358.6,482.5Q346.2,472 333.9,464.5M207.2,578.4Q228.8,546.9 249,525.1Q269.5,503 288.5,490.9Q307.6,478.8 325.2,476.7Q342.7,474.6 358.6,482.5M205.1,574.9Q226.7,543.7 246.9,522.2Q267.4,500.3 286.4,488.4Q305.5,476.5 323.1,474.6Q340.6,472.7 356.5,480.8M203,571.5Q224.6,540.6 244.8,519.3Q265.2,497.6 284.2,485.9Q303.4,474.2 321,472.5Q338.5,470.8 354.5,479.1M200.8,568.2Q222.4,537.5 242.6,516.4Q263.1,495 282.1,483.5Q301.2,472 318.9,470.5Q336.4,469 352.4,477.4M198.7,564.9Q220.3,534.4 240.5,513.6Q261,492.4 280,481.2Q299.1,469.8 316.8,468.5Q334.3,467.2 350.3,475.8M196.6,561.7Q218.2,531.5 238.4,510.8Q258.9,489.9 277.9,478.8Q297,467.7 314.7,466.6Q332.2,465.5 348.3,474.3M194.5,558.5Q216.1,528.5 236.3,508.1Q256.8,487.4 275.8,476.6Q295,465.7 312.6,464.7Q330.2,463.8 346.2,472.7M192.4,555.4Q214,525.6 234.2,505.4Q254.7,485 273.7,474.3Q292.9,463.6 310.5,462.9Q328.1,462.1 344.2,471.3M190.3,552.4Q211.9,522.8 232.1,502.8Q252.6,482.6 271.6,472.2Q290.8,461.7 308.4,461.1Q326,460.5 342.1,469.8M188.2,549.3Q209.8,520 230,500.3Q250.5,480.3 269.5,470Q288.7,459.7 306.4,459.4Q324,459 340.1,468.4M186.1,546.4Q207.7,517.3 227.9,497.8Q248.4,478 267.5,467.9Q286.6,457.9 304.3,457.7Q321.9,457.5 338,467.1M184,543.5Q205.6,514.6 225.8,495.3Q246.3,475.7 265.4,465.9Q284.5,456 302.2,456Q319.9,456 336,465.8M181.9,540.6Q203.5,512 223.7,492.9Q244.2,473.6 263.3,463.9Q282.5,454.3 300.2,454.4Q317.8,454.6 333.9,464.5M179.8,537.8Q201.2,509.7 221.3,490.9Q241.6,471.9 260.5,462.3Q279.6,452.8 297.2,452.8Q314.7,452.9 330.8,462.5M177.7,535.1Q199,507.5 218.8,488.9Q239,470.2 257.8,460.8Q276.7,451.3 294.2,451.3Q311.6,451.3 327.6,460.7M175.6,532.4Q196.7,505.2 216.4,487Q236.4,468.6 255,459.3Q273.8,449.9 291.1,449.8Q308.5,449.7 324.4,458.8M173.6,529.7Q194.4,503.1 214,485.2Q233.8,467 252.3,457.8Q270.9,448.6 288.1,448.4Q305.3,448.2 321.2,457M171.5,527.1Q192.2,501 211.5,483.3Q231.2,465.5 249.5,456.4Q268,447.2 285.1,447Q302.2,446.7 318,455.2M169.5,524.6Q189.9,498.9 209.1,481.5Q228.6,464 246.8,455Q265.1,446 282.1,445.6Q299.1,445.2 314.7,453.5M167.4,522.1Q187.7,496.9 206.7,479.8Q226,462.5 244,453.7Q262.2,444.7 279.1,444.3Q295.9,443.8 311.5,451.8M165.4,519.7Q185.4,494.9 204.3,478.1Q223.4,461.1 241.3,452.4Q259.3,443.5 276,443Q292.8,442.5 308.3,450.2M163.3,517.3Q183.2,493 201.8,476.5Q220.8,459.8 238.5,451.1Q256.3,442.4 273,441.8Q289.6,441.1 305,448.6M161.3,515Q180.9,491.1 199.4,474.9Q218.1,458.5 235.7,449.9Q253.4,441.3 269.9,440.6Q286.4,439.8 301.7,447M159.3,512.7Q178.7,489.3 197,473.3Q215.5,457.2 233,448.7Q250.5,440.2 266.9,439.4Q283.3,438.6 298.5,445.5M157.3,510.5Q176.5,487.5 194.6,471.8Q212.9,456 230.2,447.6Q247.6,439.2 263.8,438.3Q280.1,437.4 295.2,444M155.2,508.3Q174.2,485.8 192.2,470.4Q210.3,454.8 227.5,446.5Q244.7,438.2 260.8,437.2Q276.9,436.2 291.9,442.6M153.2,506.2Q178.3,476.7 201.6,459.6Q225.2,442.3 246.9,437.7Q268.7,433.1 288.6,441.2M151.2,504.1Q176,475.2 199.1,458.4Q222.4,441.3 244,436.7Q265.5,432.1 285.3,439.9M149.2,502.1Q173.8,473.7 196.5,457.2Q219.6,440.4 241,435.8Q262.4,431.1 281.9,438.6M147.2,500.1Q171.5,472.4 194,456.1Q216.9,439.6 238,434.9Q259.2,430.2 278.6,437.4M145.2,498.2Q169.2,471 191.5,455Q214.1,438.8 235,434.1Q256,429.4 275.3,436.1M143.3,496.3Q166.9,469.7 189,454Q211.3,438.1 232,433.3Q252.8,428.5 271.9,435M141.3,494.5Q164.7,468.5 186.4,453Q208.5,437.3 229,432.6Q249.6,427.8 268.5,433.9M139.3,492.8Q162.4,467.3 183.9,452.1Q205.7,436.7 226,431.9Q246.4,427 265.2,432.8M137.4,491.1Q160.1,466.1 181.4,451.2Q203,436 223,431.2Q243.2,426.3 261.8,431.8M135.4,489.4Q157.9,465 178.9,450.3Q200.2,435.5 220,430.6Q239.9,425.7 258.4,430.8M133.5,487.8Q155.6,463.9 176.4,449.5Q197.4,434.9 217,430Q236.7,425.1 255,429.9M131.5,486.2Q153.4,462.9 173.9,448.7Q194.6,434.4 214,429.5Q233.5,424.5 251.5,429M129.6,484.7Q151.1,461.9 171.3,448Q191.8,433.9 211,429Q230.2,424 248.1,428.2M127.7,483.3Q148.9,461 168.8,447.3Q189,433.5 208,428.5Q226.9,423.5 244.6,427.4M125.8,481.9Q146.7,460.1 166.3,446.7Q186.2,433.2 204.9,428.1Q223.7,423.1 241.2,426.7M123.8,480.5Q144.4,459.3 163.8,446.1Q183.5,432.8 201.9,427.8Q220.4,422.7 237.7,426M121.9,479.2Q142.2,458.5 161.3,445.6Q180.7,432.5 198.9,427.5Q217.1,422.4 234.2,425.4M120,477.9Q140,457.7 158.8,445.1Q177.9,432.3 195.8,427.2Q213.8,422.1 230.7,424.8M118.1,476.7Q137.8,457 156.3,444.6Q175.1,432.1 192.8,427Q210.5,421.8 227.2,424.2M116.3,475.6Q135.6,456.4 153.8,444.2Q172.3,431.9 189.7,426.8Q207.2,421.6 223.7,423.8M114.4,474.5Q133.3,455.7 151.3,443.8Q169.5,431.8 186.7,426.6Q203.9,421.5 220.2,423.3M112.5,473.4Q131.1,455.2 148.8,443.5Q166.7,431.7 183.6,426.5Q200.6,421.4 216.6,423M110.6,472.4Q128.9,454.6 146.3,443.2Q163.9,431.6 180.5,426.5Q197.3,421.3 213.1,422.6M108.8,471.4Q126.8,454.2 143.8,443Q161.1,431.6 177.5,426.5Q193.9,421.3 209.5,422.4M106.9,470.5Q133.5,445.3 158,433.2Q182.9,420.9 205.9,422.1M105.1,469.6Q131.1,445.1 155.2,433.2Q179.7,421.1 202.3,422M103.3,468.8Q128.7,445 152.4,433.3Q176.4,421.4 198.7,421.9M101.4,468Q126.4,444.9 149.7,433.4Q173.2,421.7 195,421.8M99.6,467.3Q124,444.9 146.9,433.5Q169.9,422 191.4,421.8M97.8,466.6Q121.7,444.9 144,433.7Q166.7,422.4 187.7,421.9M96,466Q119.4,444.9 141.2,434Q163.4,422.8 184,422M94.2,465.4Q117,445 138.4,434.2Q160.1,423.3 180.4,422.2M92.4,464.9Q114.7,445.2 135.6,434.6Q156.8,423.8 176.7,422.4M90.6,464.4Q112.4,445.3 132.8,434.9Q153.5,424.4 172.9,422.7M88.8,463.9Q110,445.5 130,435.3Q150.2,425 169.2,423.1M87.1,463.5Q107.7,445.8 127.2,435.8Q146.9,425.7 165.4,423.5M85.3,463.2Q105.4,446.1 124.4,436.3Q143.6,426.4 161.7,424M83.6,462.9Q103.1,446.4 121.5,436.8Q140.2,427.1 157.9,424.5M81.8,462.6Q100.8,446.8 118.7,437.4Q136.9,427.9 154.1,425.1M80.1,462.4Q98.4,447.2 115.9,438Q133.5,428.8 150.2,425.8M78.4,462.2Q96.1,447.6 113,438.7Q130.1,429.7 146.4,426.5M76.6,462.1Q93.8,448.1 110.2,439.4Q126.8,430.6 142.5,427.3M74.9,462Q91.5,448.6 107.4,440.2Q123.4,431.6 138.7,428.1M73.2,462Q89.2,449.2 104.5,441Q120,432.7 134.8,429.1M71.5,462Q102.5,437.5 130.8,430.1M69.8,462.1Q99.5,438.7 126.9,431.1M68.2,462.2Q96.6,440 123,432.3M66.5,462.3Q93.7,441.3 119,433.5M64.8,462.5Q90.8,442.6 115,434.7M63.2,462.7Q87.9,444 111,436.1M61.5,463Q84.9,445.4 106.9,437.5M59.9,463.3Q82,446.8 102.8,439M58.2,463.6Q79.1,448.3 98.8,440.6M56.6,464Q76.1,449.8 94.6,442.2M55,464.5Q73.2,451.3 90.5,443.9"/>
<path fill="none" stroke="#000" stroke-width="0.8" stroke-linejoin="round" d="M90.5,443.9L93.2,442.8L95.5,441.9L97.7,441L100,440.1L102.2,439.2L104.5,438.4L106.8,437.5L109,436.7L111.3,435.9L113.6,435.2L115.9,434.4L118.2,433.7L120.3,433L122.9,432.3L125.2,431.6L127.5,430.9L129.9,430.3L132.2,429.7L134.6,429.1L136.9,428.5L139.3,428L141.7,427.5L143.8,427L146.4,426.5L148.8,426L151.3,425.6L153.7,425.2L156.1,424.8L158.5,424.4L160.9,424.1L163.4,423.7L165.8,423.4L168.3,423.2L170.8,422.9L173.2,422.7L175.7,422.5L178.2,422.3L180.7,422.2L183.2,422L185.7,421.9L188.2,421.9L190.8,421.8L193.3,421.8L195.8,421.8L198.4,421.9L201,421.9L203.5,422L205.9,422.1L208.3,422.3L210.7,422.4L213.1,422.6L215.4,422.8L217.8,423.1L220.2,423.3L222.5,423.6L224.9,423.9L227,424.2L229.6,424.6L231.9,425L234.2,425.4L236.6,425.8L238.9,426.2L241.2,426.7L243.5,427.2L245.7,427.6L248.1,428.2L250.4,428.7L252.7,429.3L255,429.9L257.2,430.5L259.4,431.1L261.8,431.8L264,432.5L266.3,433.2L268.5,433.9L270.8,434.6L273,435.4L275.3,436.1L277.5,436.9L279.7,437.8L281.9,438.6L284.2,439.5L286.4,440.3L288.6,441.2L290.8,442.2L293,443.1L295.2,444L297.4,445L299.6,446L301.7,447L303.9,448.1L306.1,449.1L308.3,450.2L310.4,451.2L312.6,452.4L314.7,453.5L316.9,454.7L319,455.8L321.2,457L323.3,458.2L325.4,459.4L327.6,460.7L329.7,461.9L331.8,463.2L333.9,464.5L333.9,464.5"/>
<circle cx="52.2" cy="404.8" r="1.5"/><circle cx="53.4" cy="431.2" r="1.5"/><circle cx="54.7" cy="457.5" r="1.5"/><circle cx="55.9" cy="483.9" r="1.5"/><circle cx="57.1" cy="510.3" r="1.5"/><circle cx="58.4" cy="536.7" r="1.5"/><circle cx="59.6" cy="563.1" r="1.5"/><circle cx="207.2" cy="685.2" r="1.5"/><circle cx="170.9" cy="667.1" r="1.5"/><circle cx="134.6" cy="649" r="1.5"/><circle cx="98.3" cy="630.9" r="1.5"/><circle cx="61.9" cy="612.7" r="1.5"/><circle cx="243.6" cy="667.1" r="1.5"/><circle cx="279.9" cy="649" r="1.5"/><circle cx="316.2" cy="630.9" r="1.5"/><circle cx="352.5" cy="612.7" r="1.5"/>
<text transform="translate(46,402.2) scale(0.9145,1)" text-anchor="end" font-size="12.0">60.0</text>
<text transform="translate(47.3,428.6) scale(0.9145,1)" text-anchor="end" font-size="12.0">53.3</text>
<text transform="translate(48.5,454.9) scale(0.9145,1)" text-anchor="end" font-size="12.0">46.7</text>
<text transform="translate(49.7,481.3) scale(0.9145,1)" text-anchor="end" font-size="12.0">40.0</text>
<text transform="translate(51,507.7) scale(0.9145,1)" text-anchor="end" font-size="12.0">33.3</text>
<text transform="translate(52.2,534.1) scale(0.9145,1)" text-anchor="end" font-size="12.0">26.7</text>
<text transform="translate(53.4,560.5) scale(0.9145,1)" text-anchor="end" font-size="12.0">20.0</text>
<text transform="translate(201.6,697.5) scale(0.9145,1)" text-anchor="end" font-size="12.0">-1.00</text>
<text transform="translate(165.2,679.4) scale(0.9145,1)" text-anchor="end" font-size="12.0">-0.50</text>
<text transform="translate(128.9,661.3) scale(0.9145,1)" text-anchor="end" font-size="12.0">0.00</text>
<text transform="translate(92.6,643.2) scale(0.9145,1)" text-anchor="end" font-size="12.0">0.50</text>
<text transform="translate(56.3,625) scale(0.9145,1)" text-anchor="end" font-size="12.0">1.00</text>
<text transform="translate(212.9,697.5) scale(0.9145,1)" text-anchor="start" font-size="12.0">-1.00</text>
<text transform="translate(249.2,679.4) scale(0.9145,1)" text-anchor="start" font-size="12.0">-0.50</text>
<text transform="translate(285.5,661.3) scale(0.9145,1)" text-anchor="start" font-size="12.0">0.00</text>
<text transform="translate(321.9,643.2) scale(0.9145,1)" text-anchor="start" font-size="12.0">0.50</text>
<text transform="translate(358.2,625) scale(0.9145,1)" text-anchor="start" font-size="12.0">1.00</text>
<text transform="translate(78.2,685.8) scale(0.8366,1)" text-anchor="middle" font-size="17.7">Solid-liquid ratio</text>
<text transform="translate(336.2,685.8) scale(0.8366,1)" text-anchor="middle" font-size="17.7">Reaction time</text>
<text transform="translate(10.6,511.8) rotate(-90) scale(1.1952,1)" text-anchor="middle" font-size="14.81">Extraction yield</text>
<text x="1.3" y="385.5" font-size="16" font-weight="bold" style="fill:#e8000d">(c)</text>
</g>
<g>
<path fill="none" stroke="#333" stroke-width=".8" d="M448.6,404L590.8,368 732.9,404M449.7,430.1L590.8,391.5 731.8,430.1M450.9,456.2L590.8,415 730.7,456.2M452,482.3L590.8,438.5 729.5,482.3M453.1,508.4L590.8,462 728.4,508.4M454.3,534.6L590.8,485.5 727.3,534.6M455.4,560.7L590.8,509 726.1,560.7M484.1,395L489.2,547.8M626.3,377L624.6,521.9M519.7,386L523.1,534.8M661.8,386L658.5,534.8M555.2,377L556.9,521.9M697.4,395L692.3,547.8M448.6,404L457.5,609.8M590.8,368L590.8,553.6M732.9,404L724,609.8"/>
<path fill="#ff0" stroke="#222" stroke-width=".7" d="M457.5,609.8 L590.8,681.6 724,609.8 590.8,553.6z"/>
<path fill="none" stroke="#f85a00" stroke-width="1.0" d="M615.8,586.4L615,586.1L614.3,585.9L613.5,585.7L612.7,585.4L612,585.2L611.2,585L610.4,584.8L609.5,584.7L608.7,584.5L607.9,584.3L607.1,584.2L606.2,584L605.4,583.9L604.5,583.8L603.7,583.7L602.8,583.6L601.9,583.5L601,583.4L600.2,583.4L599.3,583.3L598.4,583.3L597.5,583.2L596.6,583.2L595.7,583.2L594.8,583.2L593.9,583.2L593,583.2L592.1,583.2L591.2,583.3L590.3,583.3L589.4,583.4L588.4,583.5L587.5,583.6L586.6,583.7L585.7,583.8L584.8,583.9L583.9,584.1L583,584.3L582.2,584.4L581.3,584.6L580.4,584.8L579.6,585L578.7,585.3L577.9,585.5L577.1,585.8L576.3,586.1L575.5,586.4L574.8,586.7L574.1,587L573.4,587.4L572.7,587.7L572.1,588.1L571.5,588.5L570.9,588.9L570.4,589.3L569.9,589.7L569.5,590.1L569,590.5L568.7,591L568.4,591.4L568.1,591.9L567.8,592.4L567.6,592.8L567.5,593.3L567.4,593.8L567.3,594.3L567.3,594.7L567.4,595.2L567.5,595.7L567.6,596.2L567.8,596.7L568,597.1L568.2,597.6L568.5,598L568.8,598.5L569.2,598.9L569.6,599.4L570.1,599.8L570.5,600.2L571,600.6L571.6,601L572.1,601.4L572.7,601.8L573.4,602.1L574,602.5L574.7,602.8L575.3,603.2L576.1,603.5L576.8,603.8L577.5,604.1L578.3,604.4L579.1,604.6L579.9,604.9L580.7,605.1L581.5,605.4L582.3,605.6L583.2,605.8L584,606L584.9,606.2L585.8,606.4L586.7,606.5L587.6,606.7L588.5,606.8L589.4,607L590.3,607.1L591.2,607.2L592.2,607.3L593.1,607.3L594,607.4L595,607.5L595.9,607.5L596.9,607.5L597.8,607.5L598.8,607.5L599.8,607.5L600.7,607.5L601.7,607.5L602.6,607.4L603.6,607.4L604.5,607.3L605.5,607.2L606.4,607.1L607.4,607L608.3,606.9L609.2,606.7L610.2,606.5L611.1,606.4L612,606.2L612.9,606L613.8,605.8L614.6,605.5L615.5,605.3L616.3,605L617.1,604.7L617.9,604.4L618.7,604.1L619.4,603.8L620.1,603.5L620.8,603.1L621.5,602.8L622.1,602.4L622.7,602L623.3,601.6L623.8,601.2L624.3,600.8L624.7,600.3L625.1,599.9L625.5,599.5L625.8,599L626.1,598.5L626.3,598.1L626.5,597.6L626.6,597.1L626.7,596.7L626.7,596.2L626.7,595.7L626.7,595.2L626.6,594.8L626.4,594.3L626.3,593.8L626,593.4L625.8,592.9L625.4,592.5L625.1,592L624.7,591.6L624.3,591.2L623.9,590.8L623.4,590.4L622.9,590L622.3,589.6L621.8,589.2L621.2,588.9L620.6,588.5L619.9,588.2L619.3,587.8L618.6,587.5L617.9,587.2L617.2,586.9L616.5,586.7L615.8,586.4"/>
<path fill="none" stroke="#fa8200" stroke-width="1.0" d="M627.3,581.1L626.1,580.7L624.9,580.3L623.6,579.9L622.3,579.5L621.1,579.2L619.8,578.9L618.5,578.6L617.1,578.3L615.8,578L614.5,577.8L613.1,577.5L611.8,577.3L610.4,577.1L609,576.9L607.6,576.7L606.2,576.6L604.8,576.4L603.4,576.3L602,576.2L600.6,576.1L599.1,576L597.7,576L596.2,575.9L594.8,575.9L593.3,575.9L591.9,575.9L590.4,575.9L588.9,576L587.4,576L586,576.1L584.5,576.2L583,576.3L581.5,576.5L580,576.6L578.6,576.8L577.1,577L575.6,577.3L574.2,577.5L572.7,577.8L571.3,578.1L569.9,578.4L568.5,578.8L567.1,579.2L565.7,579.6L564.4,580L563.1,580.4L561.8,580.9L560.6,581.4L559.4,581.9L558.2,582.5L557.1,583.1L556,583.7L555,584.3L554.1,584.9L553.2,585.6L552.3,586.3L551.6,587L550.9,587.7L550.2,588.4L549.6,589.1L549.2,589.9L548.7,590.7L548.4,591.4L548.1,592.2L547.9,593L547.8,593.8L547.8,594.6L547.8,595.4L547.9,596.2L548.1,597L548.3,597.7L548.6,598.5L549,599.3L549.5,600.1L550,600.8L550.6,601.6L551.2,602.3L551.9,603L552.7,603.7L553.5,604.4L554.4,605.1L555.3,605.7L556.2,606.3L557.2,607L558.3,607.6L559.4,608.1L560.5,608.7L561.7,609.2L562.9,609.8L564.1,610.3L565.4,610.8L566.7,611.2L568,611.7L569.4,612.1L570.8,612.5L572.2,612.9L573.6,613.2L575,613.6L576.5,613.9L578,614.2L579.5,614.5L581,614.7L582.5,615L584,615.2L585.6,615.4L587.1,615.5L588.7,615.7L590.3,615.8L591.9,615.9L593.5,616L595.1,616.1L596.7,616.1L598.3,616.1L599.9,616.1L601.5,616.1L603.1,616.1L604.7,616L606.3,615.9L607.9,615.8L609.5,615.6L611.1,615.5L612.7,615.3L614.3,615.1L615.8,614.9L617.4,614.6L618.9,614.3L620.4,614L621.9,613.7L623.4,613.4L624.8,613L626.3,612.6L627.7,612.2L629,611.7L630.4,611.2L631.7,610.7L632.9,610.2L634.1,609.7L635.3,609.1L636.4,608.5L637.5,607.9L638.5,607.3L639.5,606.6L640.4,606L641.2,605.3L642,604.6L642.7,603.8L643.3,603.1L643.9,602.4L644.4,601.6L644.8,600.8L645.2,600.1L645.4,599.3L645.6,598.5L645.7,597.7L645.8,596.9L645.7,596.2L645.6,595.4L645.4,594.6L645.1,593.8L644.8,593.1L644.4,592.3L643.9,591.6L643.4,590.9L642.8,590.1L642.1,589.4L641.4,588.8L640.7,588.1L639.9,587.4L639,586.8L638.1,586.2L637.2,585.6L636.2,585L635.2,584.5L634.2,583.9L633.1,583.4L632,582.9L630.8,582.4L629.7,581.9L628.5,581.5L627.3,581.1"/>
<path fill="none" stroke="#ffc800" stroke-width="0.9" d="M620.6,566.5L618.4,566.2L616.2,565.9L614,565.6L611.7,565.4L609.4,565.1L607.2,564.9L604.9,564.7L602.6,564.6L600.3,564.5L598,564.4L595.6,564.3L593.3,564.2L591,564.2L588.6,564.2L586.2,564.2L583.8,564.3L581.4,564.4L579,564.5L576.6,564.6L574.2,564.8L571.8,565L569.4,565.3L567,565.6L564.6,565.9L562.1,566.2M519.2,584L518.2,585.3L517.3,586.5L516.5,587.8L515.8,589.1L515.3,590.4L514.9,591.7L514.6,593L514.4,594.3L514.3,595.7L514.4,597L514.6,598.3L514.9,599.6L515.4,601L515.9,602.3L516.6,603.6L517.4,604.8L518.2,606.1L519.2,607.4L520.3,608.6L521.5,609.8L522.8,611L524.2,612.1L525.7,613.3L527.3,614.4L528.9,615.5L530.6,616.5L532.4,617.5L534.3,618.5L536.3,619.5L538.3,620.4L540.3,621.3L542.5,622.1L544.7,622.9L546.9,623.7L549.2,624.5L551.6,625.2L554,625.9L556.4,626.5L558.9,627.1L561.4,627.7L564,628.2L566.5,628.7L569.1,629.1L571.8,629.5L574.4,629.9L577.1,630.2L579.8,630.5L582.5,630.8L585.3,631L588,631.1L590.8,631.3L593.5,631.4L596.3,631.4L599.1,631.4L601.8,631.4L604.6,631.4L607.4,631.2L610.1,631.1L612.9,630.9L615.6,630.7L618.3,630.4L621,630.1L623.7,629.8L626.4,629.4L629,629L631.6,628.5L634.2,628L636.8,627.4L639.3,626.9L641.7,626.2L644.2,625.6L646.5,624.8L648.8,624.1L651.1,623.3L653.3,622.5L655.4,621.6L657.5,620.7L659.5,619.7L661.4,618.8L663.2,617.8L664.9,616.7L666.6,615.6L668.1,614.5L669.6,613.4L670.9,612.2L672.1,611L673.2,609.8L674.2,608.5L675,607.3L675.8,606L676.4,604.7L676.9,603.4L677.2,602.1L677.4,600.8L677.5,599.5L677.5,598.2L677.4,596.9L677.1,595.6L676.7,594.4L676.1,593.1L675.5,591.8L674.8,590.6L673.9,589.4"/>
<path fill="none" stroke="#6ef01e" stroke-width="1.2" d="M461.1,609.5L462.1,611.7M538.7,653.4L543.2,654.3L547.8,655.1L552.4,655.8L557.1,656.4L561.9,657L566.6,657.5L571.4,657.9L576.2,658.2L581,658.5L585.9,658.7L590.7,658.8L595.6,658.8L600.4,658.8L605.3,658.7L610.1,658.5L614.9,658.2L619.7,657.9L624.4,657.5L629.1,657L633.8,656.5L638.4,655.8"/>
<path fill="none" stroke="#46dcd2" stroke-width="1.1" d="M588.7,678.8L595.1,678.8"/>
<defs><linearGradient id="d0" gradientUnits="userSpaceOnUse" x1="451.9" x2="597.8" y1="0" y2="0"><stop offset="0" stop-color="#00f315"/><stop offset=".025" stop-color="#00f315"/><stop offset=".05" stop-color="#00f305"/><stop offset=".075" stop-color="#0bf300"/><stop offset=".2" stop-color="#47f500"/><stop offset=".325" stop-color="#5af900"/><stop offset=".4" stop-color="#54fb00"/><stop offset=".475" stop-color="#40fd00"/><stop offset=".6" stop-color="#02ff00"/><stop offset=".675" stop-color="#00ff2a"/><stop offset=".775" stop-color="#00ff73"/><stop offset=".925" stop-color="#00fcfb"/><stop offset=".975" stop-color="#00c1fb"/><stop offset="1" stop-color="#00c1fb"/></linearGradient><linearGradient id="d1" gradientUnits="userSpaceOnUse" x1="458.1" x2="604.2" y1="0" y2="0"><stop offset="0" stop-color="#18f600"/><stop offset=".025" stop-color="#18f600"/><stop offset=".1" stop-color="#4df400"/><stop offset=".175" stop-color="#72f500"/><stop offset=".25" stop-color="#88f700"/><stop offset=".325" stop-color="#8ff900"/><stop offset=".425" stop-color="#85fc00"/><stop offset=".5" stop-color="#6dff00"/><stop offset=".575" stop-color="#49ff00"/><stop offset=".675" stop-color="#06ff00"/><stop offset=".725" stop-color="#00ff1d"/><stop offset=".825" stop-color="#00fe6e"/><stop offset=".975" stop-color="#00f6fc"/><stop offset="1" stop-color="#00f6fc"/></linearGradient><linearGradient id="d2" gradientUnits="userSpaceOnUse" x1="464.2" x2="610.6" y1="0" y2="0"><stop offset="0" stop-color="#47f900"/><stop offset=".025" stop-color="#47f900"/><stop offset=".1" stop-color="#7df600"/><stop offset=".2" stop-color="#abf700"/><stop offset=".3" stop-color="#c0f900"/><stop offset=".375" stop-color="#bffc00"/><stop offset=".475" stop-color="#abff00"/><stop offset=".55" stop-color="#8bff00"/><stop offset=".625" stop-color="#5fff00"/><stop offset=".75" stop-color="#00ff03"/><stop offset=".85" stop-color="#00ff58"/><stop offset=".975" stop-color="#00fcd6"/><stop offset="1" stop-color="#00fcd6"/></linearGradient><linearGradient id="d3" gradientUnits="userSpaceOnUse" x1="470.4" x2="616.9" y1="0" y2="0"><stop offset="0" stop-color="#75ff00"/><stop offset=".025" stop-color="#76ff00"/><stop offset=".1" stop-color="#aaf900"/><stop offset=".2" stop-color="#d9f800"/><stop offset=".275" stop-color="#ecfa00"/><stop offset=".375" stop-color="#f0fc00"/><stop offset=".475" stop-color="#dbff00"/><stop offset=".6" stop-color="#a0ff00"/><stop offset=".7" stop-color="#59ff00"/><stop offset=".8" stop-color="#00ff02"/><stop offset=".975" stop-color="#00fdad"/><stop offset="1" stop-color="#00fdad"/></linearGradient><linearGradient id="d4" gradientUnits="userSpaceOnUse" x1="476.5" x2="623.2" y1="0" y2="0"><stop offset="0" stop-color="#9eff00"/><stop offset=".025" stop-color="#9fff00"/><stop offset=".075" stop-color="#c7fe00"/><stop offset=".175" stop-color="#faf900"/><stop offset=".25" stop-color="#fbe800"/><stop offset=".35" stop-color="#fde300"/><stop offset=".5" stop-color="#fffe00"/><stop offset=".6" stop-color="#ceff00"/><stop offset=".675" stop-color="#9bff00"/><stop offset=".825" stop-color="#13ff00"/><stop offset=".85" stop-color="#00ff07"/><stop offset=".975" stop-color="#00fe86"/><stop offset="1" stop-color="#00fe86"/></linearGradient><linearGradient id="d5" gradientUnits="userSpaceOnUse" x1="482.6" x2="629.4" y1="0" y2="0"><stop offset="0" stop-color="#c3ff00"/><stop offset=".025" stop-color="#c4ff00"/><stop offset=".1" stop-color="#feff00"/><stop offset=".2" stop-color="#fdd600"/><stop offset=".325" stop-color="#fec400"/><stop offset=".45" stop-color="#ffd100"/><stop offset=".575" stop-color="#fff900"/><stop offset=".6" stop-color="#f9ff00"/><stop offset=".7" stop-color="#b3ff00"/><stop offset=".775" stop-color="#71ff00"/><stop offset=".875" stop-color="#08ff00"/><stop offset=".9" stop-color="#00ff12"/><stop offset=".975" stop-color="#00fe62"/><stop offset="1" stop-color="#00fe63"/></linearGradient><linearGradient id="d6" gradientUnits="userSpaceOnUse" x1="488.7" x2="635.6" y1="0" y2="0"><stop offset="0" stop-color="#e5ff00"/><stop offset=".025" stop-color="#e6ff00"/><stop offset=".05" stop-color="#fbfe00"/><stop offset=".175" stop-color="#fbc100"/><stop offset=".325" stop-color="#ffa800"/><stop offset=".475" stop-color="#ffb900"/><stop offset=".55" stop-color="#ffd000"/><stop offset=".65" stop-color="#fffe00"/><stop offset=".775" stop-color="#9f0"/><stop offset=".9" stop-color="#13ff00"/><stop offset=".925" stop-color="#00ff0a"/><stop offset=".975" stop-color="#00ff40"/><stop offset="1" stop-color="#00ff41"/></linearGradient><linearGradient id="d7" gradientUnits="userSpaceOnUse" x1="494.7" x2="641.7" y1="0" y2="0"><stop offset="0" stop-color="#f3f000"/><stop offset=".025" stop-color="#f3ef00"/><stop offset=".1" stop-color="#f0c000"/><stop offset=".175" stop-color="#f4a400"/><stop offset=".325" stop-color="#fc8c00"/><stop offset=".5" stop-color="#ffa400"/><stop offset=".6" stop-color="#ffc900"/><stop offset=".7" stop-color="#ff0"/><stop offset=".825" stop-color="#8cff00"/><stop offset=".95" stop-color="#00ff05"/><stop offset=".975" stop-color="#00ff21"/><stop offset="1" stop-color="#0f2"/></linearGradient><linearGradient id="d8" gradientUnits="userSpaceOnUse" x1="500.7" x2="647.7" y1="0" y2="0"><stop offset="0" stop-color="#ccb900"/><stop offset=".025" stop-color="#cab700"/><stop offset=".125" stop-color="#e59900"/><stop offset=".275" stop-color="#f47300"/><stop offset=".375" stop-color="#fb6f00"/><stop offset=".55" stop-color="#ff9c00"/><stop offset=".625" stop-color="#ffbc00"/><stop offset=".725" stop-color="#fff600"/><stop offset=".75" stop-color="#f5ff00"/><stop offset=".825" stop-color="#adff00"/><stop offset=".975" stop-color="#00ff05"/><stop offset="1" stop-color="#00ff06"/></linearGradient><linearGradient id="d9" gradientUnits="userSpaceOnUse" x1="506.6" x2="653.7" y1="0" y2="0"><stop offset="0" stop-color="#000"/><stop offset=".025" stop-color="#000"/><stop offset=".075" stop-color="#ad7a00"/><stop offset=".125" stop-color="#d17c00"/><stop offset=".325" stop-color="#f25000"/><stop offset=".425" stop-color="#fa5800"/><stop offset=".5" stop-color="#ff7000"/><stop offset=".625" stop-color="#ffa600"/><stop offset=".775" stop-color="#fcff00"/><stop offset=".875" stop-color="#94ff00"/><stop offset=".975" stop-color="#18ff00"/><stop offset="1" stop-color="#17ff00"/></linearGradient><linearGradient id="d10" gradientUnits="userSpaceOnUse" x1="512.6" x2="659.7" y1="0" y2="0"><stop offset="0" stop-color="#000"/><stop offset=".075" stop-color="#000"/><stop offset=".1" stop-color="#814c00"/><stop offset=".125" stop-color="#ab5c00"/><stop offset=".175" stop-color="#cc5600"/><stop offset=".275" stop-color="#e53d00"/><stop offset=".35" stop-color="#ef3600"/><stop offset=".425" stop-color="#f63e00"/><stop offset=".525" stop-color="#fe5f00"/><stop offset=".7" stop-color="#fb0"/><stop offset=".8" stop-color="#feff00"/><stop offset=".875" stop-color="#aeff00"/><stop offset=".975" stop-color="#3f0"/><stop offset="1" stop-color="#31ff00"/></linearGradient><linearGradient id="d11" gradientUnits="userSpaceOnUse" x1="518.4" x2="665.5" y1="0" y2="0"><stop offset="0" stop-color="#000"/><stop offset=".1" stop-color="#000"/><stop offset=".15" stop-color="#8d3a00"/><stop offset=".175" stop-color="#ac3c00"/><stop offset=".225" stop-color="#ca3300"/><stop offset=".325" stop-color="#e32300"/><stop offset=".4" stop-color="#ee2400"/><stop offset=".5" stop-color="#f83d00"/><stop offset=".575" stop-color="#fe6200"/><stop offset=".725" stop-color="#ffba00"/><stop offset=".825" stop-color="#fbff00"/><stop offset=".975" stop-color="#49ff00"/><stop offset="1" stop-color="#47ff00"/></linearGradient><linearGradient id="d12" gradientUnits="userSpaceOnUse" x1="524.3" x2="671.3" y1="0" y2="0"><stop offset="0" stop-color="#000"/><stop offset=".15" stop-color="#000"/><stop offset=".175" stop-color="#661e00"/><stop offset=".2" stop-color="#942400"/><stop offset=".25" stop-color="#be1f00"/><stop offset=".325" stop-color="#d91400"/><stop offset=".4" stop-color="#e71400"/><stop offset=".475" stop-color="#f12300"/><stop offset=".55" stop-color="#f94000"/><stop offset=".725" stop-color="#ffac00"/><stop offset=".825" stop-color="#fff400"/><stop offset=".85" stop-color="#f3ff00"/><stop offset=".975" stop-color="#5cfe00"/><stop offset="1" stop-color="#59fe00"/></linearGradient><linearGradient id="d13" gradientUnits="userSpaceOnUse" x1="533.2" x2="677" y1="0" y2="0"><stop offset="0" stop-color="#000"/><stop offset=".15" stop-color="#000"/><stop offset=".175" stop-color="#120400"/><stop offset=".2" stop-color="#661200"/><stop offset=".225" stop-color="#901300"/><stop offset=".275" stop-color="#ba0e00"/><stop offset=".4" stop-color="#e10a00"/><stop offset=".475" stop-color="#ed1900"/><stop offset=".55" stop-color="#f63700"/><stop offset=".75" stop-color="#ffb500"/><stop offset=".85" stop-color="#feff00"/><stop offset=".975" stop-color="#69fc00"/><stop offset="1" stop-color="#67fc00"/></linearGradient><linearGradient id="d14" gradientUnits="userSpaceOnUse" x1="544.5" x2="682.7" y1="0" y2="0"><stop offset="0" stop-color="#000"/><stop offset=".175" stop-color="#000"/><stop offset=".2" stop-color="#450700"/><stop offset=".225" stop-color="#7a0900"/><stop offset=".275" stop-color="#ae0500"/><stop offset=".35" stop-color="#d00200"/><stop offset=".45" stop-color="#e60f00"/><stop offset=".575" stop-color="#f74400"/><stop offset=".85" stop-color="#fefc00"/><stop offset=".975" stop-color="#72fb00"/><stop offset="1" stop-color="#71fb00"/></linearGradient><linearGradient id="d15" gradientUnits="userSpaceOnUse" x1="555.9" x2="688.2" y1="0" y2="0"><stop offset="0" stop-color="#000"/><stop offset=".175" stop-color="#000"/><stop offset=".2" stop-color="#210200"/><stop offset=".225" stop-color="#610300"/><stop offset=".25" stop-color="#880200"/><stop offset=".3" stop-color="#b20000"/><stop offset=".35" stop-color="#c90100"/><stop offset=".45" stop-color="#e31200"/><stop offset=".6" stop-color="#f85600"/><stop offset=".85" stop-color="#fcf900"/><stop offset=".975" stop-color="#77fa00"/><stop offset="1" stop-color="#76fa00"/></linearGradient><linearGradient id="d16" gradientUnits="userSpaceOnUse" x1="567.5" x2="693.7" y1="0" y2="0"><stop offset="0" stop-color="#000"/><stop offset=".2" stop-color="#020000"/><stop offset=".225" stop-color="#430200"/><stop offset=".25" stop-color="#730200"/><stop offset=".3" stop-color="#a70100"/><stop offset=".4" stop-color="#d40c00"/><stop offset=".525" stop-color="#ed3700"/><stop offset=".675" stop-color="#fe9000"/><stop offset=".85" stop-color="#fafb00"/><stop offset=".975" stop-color="#79f800"/><stop offset="1" stop-color="#79f800"/></linearGradient><linearGradient id="d17" gradientUnits="userSpaceOnUse" x1="579.3" x2="699.2" y1="0" y2="0"><stop offset="0" stop-color="#000"/><stop offset=".2" stop-color="#000"/><stop offset=".225" stop-color="#1d0100"/><stop offset=".25" stop-color="#590300"/><stop offset=".275" stop-color="#800500"/><stop offset=".3" stop-color="#9b0700"/><stop offset=".35" stop-color="#bb0c00"/><stop offset=".5" stop-color="#e73900"/><stop offset=".65" stop-color="#fb8d00"/><stop offset=".825" stop-color="#faf000"/><stop offset=".85" stop-color="#f0f900"/><stop offset=".975" stop-color="#76f700"/><stop offset="1" stop-color="#76f700"/></linearGradient><linearGradient id="d18" gradientUnits="userSpaceOnUse" x1="591.2" x2="704.5" y1="0" y2="0"><stop offset="0" stop-color="#000"/><stop offset=".225" stop-color="#000"/><stop offset=".275" stop-color="#6a0a00"/><stop offset=".3" stop-color="#8b0f00"/><stop offset=".35" stop-color="#b41900"/><stop offset=".475" stop-color="#e04100"/><stop offset=".65" stop-color="#fb9b00"/><stop offset=".825" stop-color="#f7f900"/><stop offset=".975" stop-color="#70f500"/><stop offset="1" stop-color="#70f500"/></linearGradient><linearGradient id="d19" gradientUnits="userSpaceOnUse" x1="603.3" x2="709.8" y1="0" y2="0"><stop offset="0" stop-color="#000"/><stop offset=".25" stop-color="#040100"/><stop offset=".275" stop-color="#4a0d00"/><stop offset=".3" stop-color="#781700"/><stop offset=".325" stop-color="#962000"/><stop offset=".375" stop-color="#bb3000"/><stop offset=".5" stop-color="#e56500"/><stop offset=".65" stop-color="#fcaf00"/><stop offset=".8" stop-color="#f8f900"/><stop offset=".975" stop-color="#66f400"/><stop offset="1" stop-color="#66f400"/></linearGradient><linearGradient id="d20" gradientUnits="userSpaceOnUse" x1="615.5" x2="714.9" y1="0" y2="0"><stop offset="0" stop-color="#000"/><stop offset=".25" stop-color="#000"/><stop offset=".275" stop-color="#0e0400"/><stop offset=".3" stop-color="#591c00"/><stop offset=".325" stop-color="#852c00"/><stop offset=".375" stop-color="#b54600"/><stop offset=".425" stop-color="#cf5e00"/><stop offset=".5" stop-color="#e68000"/><stop offset=".65" stop-color="#fec700"/><stop offset=".75" stop-color="#faf300"/><stop offset=".775" stop-color="#f1f900"/><stop offset=".95" stop-color="#68f300"/><stop offset=".975" stop-color="#58f300"/><stop offset="1" stop-color="#58f300"/></linearGradient><linearGradient id="d21" gradientUnits="userSpaceOnUse" x1="627.8" x2="720" y1="0" y2="0"><stop offset="0" stop-color="#000"/><stop offset=".275" stop-color="#000"/><stop offset=".3" stop-color="#0b0500"/><stop offset=".325" stop-color="#673200"/><stop offset=".35" stop-color="#944c00"/><stop offset=".4" stop-color="#c26c00"/><stop offset=".5" stop-color="#e99c00"/><stop offset=".625" stop-color="#ffd800"/><stop offset=".725" stop-color="#f5fc00"/><stop offset=".95" stop-color="#53f200"/><stop offset=".975" stop-color="#45f200"/><stop offset="1" stop-color="#45f200"/></linearGradient><linearGradient id="d22" gradientUnits="userSpaceOnUse" x1="640.3" x2="725.1" y1="0" y2="0"><stop offset="0" stop-color="#000"/><stop offset=".325" stop-color="#000"/><stop offset=".35" stop-color="#7a4e00"/><stop offset=".375" stop-color="#ab7100"/><stop offset=".4" stop-color="#c58700"/><stop offset=".475" stop-color="#ebb400"/><stop offset=".575" stop-color="#ffe500"/><stop offset=".65" stop-color="#fbff00"/><stop offset=".95" stop-color="#39f200"/><stop offset="1" stop-color="#2ef100"/></linearGradient><linearGradient id="d23" gradientUnits="userSpaceOnUse" x1="652.9" x2="730" y1="0" y2="0"><stop offset="0" stop-color="#000"/><stop offset=".35" stop-color="#000"/><stop offset=".375" stop-color="#ffcf00"/><stop offset=".55" stop-color="#fbff00"/><stop offset=".725" stop-color="#a7ff00"/><stop offset=".95" stop-color="#1bf200"/><stop offset="1" stop-color="#14f100"/></linearGradient></defs>
<g stroke-width=".7">
<path fill="url(#d0)" stroke="url(#d0)" d="M590.8,591.9Q571.6,561.1 552.6,539.3Q534.4,518.4 516.6,506.1Q499.6,494.2 483.1,490.4Q467.4,486.8 452.4,490.4L453.9,488.3L455.5,486.2L457,484.2L458.6,482.2Q473.7,478.2 489.5,481.6Q506,485.2 523.1,496.8Q540.9,508.9 559.1,529.6Q578.1,551.1 597.3,581.8L595.6,584.3L594,586.8L592.4,589.4z"/>
<path fill="url(#d1)" stroke="url(#d1)" d="M597.3,581.8Q578.1,551.1 559.1,529.6Q540.9,508.9 523.1,496.8Q506,485.2 489.5,481.6Q473.7,478.2 458.6,482.2L460.1,480.2L461.7,478.2L463.2,476.3L464.7,474.4Q479.9,470.2 495.8,473.3Q512.3,476.6 529.4,487.9Q547.3,499.8 565.5,520.3Q584.5,541.6 603.7,572L602.1,574.4L600.5,576.8L598.9,579.3z"/>
<path fill="url(#d2)" stroke="url(#d2)" d="M603.7,572Q584.5,541.6 565.5,520.3Q547.3,499.8 529.4,487.9Q512.3,476.6 495.8,473.3Q479.9,470.2 464.7,474.4L466.3,472.5L467.8,470.7L469.4,468.9L470.9,467.1Q486.2,462.6 502,465.4Q518.6,468.4 535.8,479.5Q553.6,491.1 571.9,511.4Q590.9,532.5 610.1,562.7L608.5,565L606.9,567.3L605.3,569.6z"/>
<path fill="url(#d3)" stroke="url(#d3)" d="M610.1,562.7Q590.9,532.5 571.9,511.4Q553.6,491.1 535.8,479.5Q518.6,468.4 502,465.4Q486.2,462.6 470.9,467.1L472.4,465.3L474,463.6L475.5,461.9L477,460.2Q492.3,455.4 508.2,458Q524.9,460.8 542.1,471.6Q560,482.9 578.2,503Q597.2,523.9 616.4,553.9L614.8,556.1L613.2,558.3L611.7,560.5z"/>
<path fill="url(#d4)" stroke="url(#d4)" d="M616.4,553.9Q597.2,523.9 578.2,503Q560,482.9 542.1,471.6Q524.9,460.8 508.2,458Q492.3,455.4 477,460.2L478.5,458.6L480.1,456.9L481.6,455.4L483.1,453.8Q498.5,448.7 514.4,451.1Q531.1,453.6 548.3,464.2Q566.2,475.3 584.5,495.1Q603.5,515.7 622.7,545.5L621.1,547.6L619.6,549.7L618,551.8z"/>
<path fill="url(#d5)" stroke="url(#d5)" d="M622.7,545.5Q603.5,515.7 584.5,495.1Q566.2,475.3 548.3,464.2Q531.1,453.6 514.4,451.1Q498.5,448.7 483.1,453.8L484.6,452.3L486.1,450.8L487.7,449.3L489.2,447.9Q504.6,442.5 520.6,444.6Q537.3,446.8 554.5,457.2Q572.5,468 590.8,487.7Q609.8,508 628.9,537.7L627.4,539.6L625.8,541.5L624.2,543.5z"/>
<path fill="url(#d6)" stroke="url(#d6)" d="M628.9,537.7Q609.8,508 590.8,487.7Q572.5,468 554.5,457.2Q537.3,446.8 520.6,444.6Q504.6,442.5 489.2,447.9L490.7,446.4L492.2,445.1L493.7,443.7L495.2,442.4Q510.7,436.8 526.7,438.6Q543.5,440.6 560.7,450.7Q578.7,461.3 597,480.7Q615.9,500.9 635.1,530.3L633.5,532.1L632,533.9L630.5,535.8z"/>
<path fill="url(#d7)" stroke="url(#d7)" d="M635.1,530.3Q615.9,500.9 597,480.7Q578.7,461.3 560.7,450.7Q543.5,440.6 526.7,438.6Q510.7,436.8 495.2,442.4L496.7,441.1L498.2,439.8L499.7,438.6L501.2,437.4Q516.7,431.5 532.7,433.2Q549.6,434.9 566.8,444.8Q584.8,455.1 603.1,474.3Q622.1,494.2 641.2,523.4L639.7,525.1L638.1,526.8L636.6,528.5z"/>
<path fill="url(#d8)" stroke="url(#d8)" d="M641.2,523.4Q622.1,494.2 603.1,474.3Q584.8,455.1 566.8,444.8Q549.6,434.9 532.7,433.2Q516.7,431.5 501.2,437.4L502.7,436.2L504.2,435.1L505.7,434L507.1,432.9Q522.7,426.8 538.8,428.2Q555.6,429.6 572.9,439.3Q590.9,449.4 609.2,468.3Q628.1,488 647.2,517L645.7,518.5L644.2,520.1L642.7,521.7z"/>
<path fill="url(#d9)" stroke="url(#d9)" d="M647.2,517Q628.1,488 609.2,468.3Q590.9,449.4 572.9,439.3Q555.6,429.6 538.8,428.2Q522.7,426.8 507.1,432.9L508.6,431.8L510.1,430.8L511.6,429.8L513.1,428.9Q528.7,422.5 544.8,423.7Q561.6,424.9 578.9,434.3Q596.9,444.2 615.2,462.9Q634.2,482.3 653.2,511.1L651.7,512.5L650.2,514L648.7,515.5z"/>
<path fill="url(#d10)" stroke="url(#d10)" d="M653.2,511.1Q634.2,482.3 615.2,462.9Q596.9,444.2 578.9,434.3Q561.6,424.9 544.8,423.7Q528.7,422.5 513.1,428.9L514.5,428L516,427.1L517.5,426.2L518.9,425.4Q534.6,418.8 550.7,419.7Q567.6,420.6 584.9,429.9Q602.9,439.5 621.2,458Q640.1,477.2 659.2,505.7L657.7,507L656.2,508.3L654.7,509.7z"/>
<path fill="url(#d11)" stroke="url(#d11)" d="M659.2,505.7Q640.1,477.2 621.2,458Q602.9,439.5 584.9,429.9Q567.6,420.6 550.7,419.7Q534.6,418.8 518.9,425.4L520.4,424.6L521.9,423.8L523.3,423.1L524.8,422.3Q540.4,415.5 556.6,416.2Q573.5,416.9 590.8,425.9Q608.8,435.3 627.1,453.6Q646,472.5 665,500.8L663.6,502L662.1,503.2L660.6,504.4z"/>
<path fill="url(#d12)" stroke="url(#d12)" d="M665,500.8Q646,472.5 627.1,453.6Q608.8,435.3 590.8,425.9Q573.5,416.9 556.6,416.2Q540.4,415.5 524.8,422.3L526.2,421.7L528.1,420.8L530.9,419.6L533.7,418.5Q549.1,412.3 564.9,413.4Q581.5,414.5 598.4,423.4Q616,432.8 633.8,450.6Q652.3,469.1 670.8,496.5L669.4,497.5L667.9,498.6L666.5,499.7z"/>
<path fill="url(#d13)" stroke="url(#d13)" d="M670.8,496.5Q652.3,469.1 633.8,450.6Q616,432.8 598.4,423.4Q581.5,414.5 564.9,413.4Q549.1,412.3 533.7,418.5L536.5,417.4L539.3,416.3L542.1,415.3L545,414.4Q559.9,409.5 575.2,411.3Q591.2,413.1 607.4,422.2Q624.3,431.7 641.3,448.9Q658.9,466.7 676.5,492.6L675.1,493.5L673.7,494.5L672.2,495.5z"/>
<path fill="url(#d14)" stroke="url(#d14)" d="M676.5,492.6Q658.9,466.7 641.3,448.9Q624.3,431.7 607.4,422.2Q591.2,413.1 575.2,411.3Q559.9,409.5 545,414.4L547.8,413.5L550.7,412.6L553.6,411.8L556.4,411Q570.8,407.4 585.5,409.9Q600.8,412.4 616.4,421.6Q632.5,431.2 648.7,447.8Q665.4,464.9 682.2,489.3L680.8,490.1L679.3,490.9L677.9,491.8z"/>
<path fill="url(#d15)" stroke="url(#d15)" d="M682.2,489.3Q665.4,464.9 648.7,447.8Q632.5,431.2 616.4,421.6Q600.8,412.4 585.5,409.9Q570.8,407.4 556.4,411L559.3,410.3L562.2,409.7L565.1,409.1L568,408.5Q586.6,405.2 605.6,412Q625.5,419.1 645.7,437.2Q666.7,456 687.7,486.6L686.3,487.2L685,487.9L683.6,488.6z"/>
<path fill="url(#d16)" stroke="url(#d16)" d="M687.7,486.6Q666.7,456 645.7,437.2Q625.5,419.1 605.6,412Q586.6,405.2 568,408.5L571,408L573.9,407.6L576.8,407.2L579.8,406.9Q597.5,405.1 615.6,412.4Q634.5,420.1 653.6,437.6Q673.4,455.7 693.2,484.3L691.9,484.8L690.5,485.4L689.1,485.9z"/>
<path fill="url(#d17)" stroke="url(#d17)" d="M693.2,484.3Q673.4,455.7 653.6,437.6Q634.5,420.1 615.6,412.4Q597.5,405.1 579.8,406.9L582.8,406.6L585.7,406.4L588.7,406.3L591.7,406.2Q608.5,405.8 625.7,413.6Q643.5,421.7 661.5,438.5Q680.1,456 698.7,482.6L697.3,483L696,483.4L694.6,483.8z"/>
<path fill="url(#d18)" stroke="url(#d18)" d="M698.7,482.6Q680.1,456 661.5,438.5Q643.5,421.7 625.7,413.6Q608.5,405.8 591.7,406.2L594.7,406.1L597.7,406.2L600.7,406.3L603.8,406.4Q619.7,407.4 635.8,415.5Q652.5,424 669.3,440.1Q686.7,456.8 704,481.4L702.7,481.7L701.3,482L700,482.3z"/>
<path fill="url(#d19)" stroke="url(#d19)" d="M704,481.4Q686.7,456.8 669.3,440.1Q652.5,424 635.8,415.5Q619.7,407.4 603.8,406.4L606.8,406.6L609.8,406.9L612.9,407.3L616,407.7Q630.9,409.8 645.9,418.3Q661.5,427 677.1,442.3Q693.2,458.1 709.3,480.8L708,480.9L706.6,481L705.3,481.2z"/>
<path fill="url(#d20)" stroke="url(#d20)" d="M709.3,480.8Q693.2,458.1 677.1,442.3Q661.5,427 645.9,418.3Q630.9,409.8 616,407.7L619,408.2L622.1,408.7L625.2,409.3L628.3,410Q649.3,414.9 670.4,432Q692.5,449.8 714.4,480.7L713.2,480.7L711.9,480.7L710.6,480.7z"/>
<path fill="url(#d21)" stroke="url(#d21)" d="M714.4,480.7Q692.5,449.8 670.4,432Q649.3,414.9 628.3,410L631.4,410.8L634.5,411.6L637.7,412.5L640.8,413.5Q660,419.7 679.4,436.1Q699.5,453.2 719.5,481.1L718.3,481L717,480.9L715.7,480.8z"/>
<path fill="url(#d22)" stroke="url(#d22)" d="M719.5,481.1Q699.5,453.2 679.4,436.1Q660,419.7 640.8,413.5L644,414.5L647.1,415.6L650.3,416.8L653.4,418.1Q670.9,425.3 688.4,440.9Q706.5,457.1 724.6,482.1L723.3,481.8L722.1,481.6L720.8,481.3z"/>
<path fill="url(#d23)" stroke="url(#d23)" d="M724.6,482.1Q706.5,457.1 688.4,440.9Q670.9,425.3 653.4,418.1L656.6,419.5L659.8,420.9L663,422.4L666.2,424Q681.8,431.9 697.4,446.5Q713.5,461.6 729.5,483.6L728.3,483.2L727,482.8L725.8,482.4z"/>
</g>
<path fill="none" stroke="#000" stroke-width="0.42" d="M590.8,591.9Q571.6,561.1 552.6,539.3Q534.4,518.4 516.6,506.1Q499.6,494.2 483.1,490.4Q467.4,486.8 452.4,490.4M592.7,588.8Q573.5,558.1 554.6,536.4Q536.4,515.5 518.6,503.2Q501.5,491.5 485,487.7Q469.3,484.2 454.2,487.9M594.7,585.8Q575.5,555.1 556.5,533.4Q538.3,512.6 520.5,500.4Q503.4,488.7 486.9,485.1Q471.2,481.6 456.1,485.4M596.6,582.8Q577.4,552.1 558.5,530.5Q540.2,509.8 522.4,497.7Q505.4,486.1 488.8,482.5Q473.1,479.1 457.9,483M598.5,579.8Q579.3,549.2 560.4,527.7Q542.2,507 524.3,495Q507.3,483.4 490.7,479.9Q475,476.6 459.8,480.6M600.5,576.8Q581.3,546.3 562.3,524.9Q544.1,504.2 526.2,492.3Q509.2,480.8 492.6,477.4Q476.8,474.2 461.7,478.2M602.4,573.9Q583.2,543.4 564.2,522.1Q546,501.5 528.2,489.6Q511.1,478.3 494.5,474.9Q478.7,471.8 463.5,475.9M604.3,571.1Q585.1,540.6 566.2,519.4Q547.9,498.9 530.1,487.1Q513,475.7 496.4,472.5Q480.6,469.4 465.4,473.7M606.2,568.2Q587.1,537.9 568.1,516.7Q549.8,496.2 532,484.5Q514.9,473.3 498.3,470.1Q482.4,467.1 467.2,471.4M608.2,565.5Q589,535.2 570,514Q551.7,493.7 533.9,482Q516.7,470.8 500.1,467.7Q484.3,464.8 469,469.2M610.1,562.7Q590.9,532.5 571.9,511.4Q553.6,491.1 535.8,479.5Q518.6,468.4 502,465.4Q486.2,462.6 470.9,467.1M612,560Q592.8,529.8 573.8,508.8Q555.5,488.6 537.7,477.1Q520.5,466.1 503.9,463.2Q488,460.4 472.7,465M613.9,557.4Q594.7,527.2 575.7,506.3Q557.4,486.2 539.5,474.7Q522.4,463.8 505.7,460.9Q489.9,458.2 474.6,462.9M615.8,554.8Q596.6,524.7 577.6,503.8Q559.3,483.7 541.4,472.4Q524.3,461.5 507.6,458.7Q491.7,456.1 476.4,460.9M617.7,552.2Q598.5,522.2 579.5,501.4Q561.2,481.4 543.3,470.1Q526.1,459.3 509.5,456.6Q493.6,454 478.2,458.9M619.6,549.7Q600.4,519.7 581.4,499Q563.1,479 545.2,467.8Q528,457.1 511.3,454.5Q495.4,452 480.1,456.9M621.4,547.2Q602.3,517.3 583.3,496.6Q565,476.8 547.1,465.6Q529.9,455 513.2,452.4Q497.3,450 481.9,455M623.3,544.7Q604.1,514.9 585.2,494.3Q566.9,474.5 548.9,463.5Q531.7,452.9 515,450.4Q499.1,448.1 483.7,453.2M625.2,542.3Q606,512.6 587,492.1Q568.7,472.3 550.8,461.3Q533.6,450.8 516.9,448.4Q500.9,446.2 485.5,451.4M627.1,540Q607.9,510.3 588.9,489.8Q570.6,470.2 552.7,459.3Q535.5,448.8 518.7,446.5Q502.8,444.3 487.4,449.6M628.9,537.7Q609.8,508 590.8,487.7Q572.5,468 554.5,457.2Q537.3,446.8 520.6,444.6Q504.6,442.5 489.2,447.9M630.8,535.4Q611.6,505.8 592.6,485.5Q574.3,466 556.4,455.2Q539.2,444.9 522.4,442.8Q506.4,440.7 491,446.2M632.6,533.2Q613.5,503.7 594.5,483.4Q576.2,464 558.2,453.3Q541,443 524.2,441Q508.2,439 492.8,444.5M634.5,531Q615.3,501.6 596.3,481.4Q578,462 560.1,451.4Q542.8,441.2 526.1,439.2Q510.1,437.3 494.6,442.9M636.3,528.9Q617.2,499.5 598.2,479.4Q579.9,460 561.9,449.5Q544.7,439.4 527.9,437.5Q511.9,435.7 496.4,441.4M638.1,526.8Q619,497.5 600,477.4Q581.7,458.2 563.7,447.7Q546.5,437.7 529.7,435.8Q513.7,434.1 498.2,439.8M640,524.7Q620.9,495.5 601.9,475.5Q583.6,456.3 565.6,445.9Q548.3,436 531.5,434.2Q515.5,432.5 500,438.4M641.8,522.7Q622.7,493.5 603.7,473.7Q585.4,454.5 567.4,444.2Q550.2,434.3 533.4,432.6Q517.3,431 501.8,436.9M643.6,520.8Q624.5,491.6 605.5,471.8Q587.2,452.8 569.2,442.5Q552,432.7 535.2,431.1Q519.1,429.6 503.6,435.5M645.4,518.8Q626.3,489.8 607.3,470.1Q589.1,451 571.1,440.9Q553.8,431.1 537,429.6Q520.9,428.2 505.4,434.2M647.2,517Q628.1,488 609.2,468.3Q590.9,449.4 572.9,439.3Q555.6,429.6 538.8,428.2Q522.7,426.8 507.1,432.9M649,515.2Q630,486.2 611,466.6Q592.7,447.8 574.7,437.7Q557.4,428.1 540.6,426.8Q524.5,425.4 508.9,431.6M650.8,513.4Q631.8,484.5 612.8,465Q594.5,446.2 576.5,436.3Q559.2,426.7 542.4,425.4Q526.3,424.2 510.7,430.4M652.6,511.6Q633.6,482.9 614.6,463.4Q596.3,444.7 578.3,434.8Q561,425.3 544.2,424.1Q528.1,422.9 512.5,429.3M654.4,510Q635.4,481.2 616.4,461.9Q598.1,443.2 580.1,433.4Q562.8,424 545.9,422.8Q529.8,421.7 514.2,428.1M656.2,508.3Q637.1,479.7 618.2,460.4Q599.9,441.8 581.9,432Q564.6,422.7 547.7,421.6Q531.6,420.6 516,427.1M658,506.7Q638.9,478.1 620,458.9Q601.7,440.4 583.7,430.7Q566.4,421.5 549.5,420.4Q533.4,419.5 517.8,426M659.7,505.2Q640.7,476.7 621.7,457.5Q603.5,439 585.4,429.4Q568.2,420.3 551.3,419.3Q535.1,418.4 519.5,425M661.5,503.7Q642.5,475.2 623.5,456.1Q605.3,437.7 587.2,428.2Q569.9,419.1 553,418.2Q536.9,417.4 521.3,424.1M663.3,502.2Q644.2,473.8 625.3,454.8Q607,436.5 589,427.1Q571.7,418 554.8,417.2Q538.7,416.4 523,423.2M665,500.8Q646,472.5 627.1,453.6Q608.8,435.3 590.8,425.9Q573.5,416.9 556.6,416.2Q540.4,415.5 524.8,422.3M666.8,499.5Q647.8,471.2 628.8,452.3Q610.6,434.1 592.5,424.8Q575.2,415.9 558.3,415.3Q542.2,414.6 526.5,421.5M668.5,498.1Q649.7,470.2 630.9,451.5Q612.7,433.4 594.8,424.1Q577.7,415.2 560.9,414.4Q544.8,413.6 529.2,420.3M670.2,496.9Q651.6,469.4 633.1,450.8Q615.2,432.9 597.5,423.6Q580.6,414.6 563.9,413.6Q548,412.6 532.6,418.9M671.9,495.7Q653.6,468.6 635.3,450.2Q617.7,432.5 600.2,423.1Q583.4,414.1 567,412.9Q551.3,411.7 535.9,417.6M673.7,494.5Q655.6,467.8 637.6,449.7Q620.1,432.2 602.9,422.8Q586.3,413.7 570.1,412.2Q554.5,410.8 539.3,416.3M675.4,493.4Q657.6,467.1 639.8,449.2Q622.6,431.9 605.6,422.4Q589.2,413.3 573.1,411.6Q557.7,410 542.7,415.1M677.1,492.3Q659.5,466.5 642,448.8Q625.1,431.6 608.3,422.1Q592.1,413 576.2,411.1Q561,409.2 546.1,414M678.8,491.2Q661.5,465.9 644.2,448.4Q627.5,431.4 611,421.9Q595,412.8 579.3,410.6Q564.3,408.5 549.5,412.9M680.5,490.3Q663.5,465.4 646.5,448Q630,431.3 613.7,421.8Q597.9,412.6 582.4,410.2Q567.5,407.9 553,411.9M682.2,489.3Q665.4,464.9 648.7,447.8Q632.5,431.2 616.4,421.6Q600.8,412.4 585.5,409.9Q570.8,407.4 556.4,411M683.8,488.4Q662,456.6 640.1,437.3Q619.2,418.8 598.6,412.1Q579,405.8 559.9,410.2M685.5,487.6Q664,456.3 642.5,437.2Q621.9,418.9 601.6,412Q582.3,405.5 563.4,409.4M687.2,486.8Q666,456.1 644.9,437.2Q624.6,419 604.6,412Q585.5,405.3 566.9,408.7M688.8,486.1Q668.1,455.9 647.3,437.2Q627.3,419.2 607.6,412Q588.8,405.1 570.4,408.1M690.5,485.4Q670.1,455.8 649.6,437.3Q630,419.5 610.6,412.1Q592,405.1 573.9,407.6M692.1,484.7Q672.1,455.7 652,437.4Q632.7,419.8 613.6,412.3Q595.3,405.1 577.4,407.1M693.8,484.1Q674.1,455.7 654.4,437.6Q635.4,420.2 616.6,412.5Q598.6,405.1 581,406.8M695.4,483.6Q676.1,455.8 656.7,437.9Q638.1,420.6 619.6,412.8Q601.9,405.3 584.5,406.5M697,483.1Q678.1,455.8 659.1,438.2Q640.8,421.1 622.6,413.2Q605.2,405.5 588.1,406.3M698.7,482.6Q680.1,456 661.5,438.5Q643.5,421.7 625.7,413.6Q608.5,405.8 591.7,406.2M700.3,482.2Q682.1,456.2 663.8,438.9Q646.2,422.3 628.7,414.1Q611.9,406.2 595.3,406.1M701.9,481.8Q684,456.4 666.2,439.4Q648.9,423 631.7,414.7Q615.2,406.7 598.9,406.2M703.5,481.5Q686,456.7 668.5,439.9Q651.6,423.7 634.8,415.3Q618.5,407.2 602.6,406.3M705.1,481.3Q688,457 670.9,440.5Q654.3,424.5 637.8,416Q621.9,407.8 606.2,406.6M706.6,481Q690,457.4 673.2,441.1Q657,425.4 640.8,416.8Q625.2,408.5 609.8,406.9M708.2,480.9Q691.9,457.8 675.6,441.8Q659.7,426.3 643.9,417.7Q628.6,409.3 613.5,407.3M709.8,480.8Q693.9,458.3 677.9,442.5Q662.4,427.3 646.9,418.6Q632,410.1 617.2,407.9M711.3,480.7Q688.2,448 665,429.8Q642.8,412.4 620.9,408.5M712.9,480.7Q690.3,448.9 667.7,430.9Q646,413.6 624.6,409.2M714.4,480.7Q692.5,449.8 670.4,432Q649.3,414.9 628.3,410M716,480.8Q694.6,450.7 673.1,433.1Q652.5,416.2 632.1,410.9M717.5,480.9Q696.7,451.8 675.8,434.3Q655.7,417.6 635.8,411.9M719,481.1Q698.8,452.8 678.5,435.6Q659,419.1 639.6,413.1M720.5,481.3Q700.9,453.9 681.2,437Q662.2,420.7 643.3,414.3M722.1,481.6Q703,455.1 683.9,438.4Q665.5,422.4 647.1,415.6M723.6,481.9Q705.1,456.3 686.6,439.9Q668.7,424.1 650.9,417.1M725,482.2Q707.2,457.5 689.3,441.5Q672,425.9 654.7,418.6M726.5,482.7Q709.3,458.8 692,443.1Q675.3,427.9 658.5,420.3M728,483.1Q711.4,460.2 694.7,444.8Q678.5,429.8 662.4,422.1M729.5,483.6Q713.5,461.6 697.4,446.5Q681.8,431.9 666.2,424M590.8,591.9Q610.6,560.3 628.9,537.7Q647.7,514.6 665,500.8Q682.6,486.9 698.7,482.6Q714.8,478.3 729.5,483.6M588.8,588.8Q608.6,557.2 627,534.7Q645.7,511.6 663.1,498Q680.6,484.1 696.8,479.9Q712.9,475.7 727.6,481.1M586.9,585.8Q606.7,554.2 625,531.7Q643.8,508.8 661.2,495.2Q678.7,481.4 694.9,477.2Q711,473.1 725.7,478.6M584.9,582.8Q604.7,551.3 623.1,528.9Q641.9,505.9 659.2,492.4Q676.8,478.7 693,474.6Q709.1,470.6 723.9,476.1M583,579.8Q602.8,548.4 621.2,526Q639.9,503.2 657.3,489.7Q674.9,476.1 691.1,472.1Q707.3,468.1 722,473.7M581.1,576.9Q600.9,545.5 619.2,523.3Q638,500.5 655.4,487.1Q673,473.5 689.2,469.6Q705.4,465.7 720.2,471.4M579.1,574.1Q598.9,542.7 617.3,520.5Q636.1,497.8 653.5,484.5Q671.1,471 687.3,467.2Q703.5,463.3 718.3,469.1M577.2,571.3Q597,540 615.4,517.9Q634.2,495.2 651.6,482Q669.2,468.6 685.4,464.8Q701.6,461 716.4,466.8M575.3,568.5Q595.1,537.3 613.5,515.2Q632.3,492.6 649.7,479.5Q667.3,466.1 683.5,462.4Q699.8,458.7 714.6,464.6M573.4,565.8Q593.2,534.7 611.5,512.7Q630.3,490.1 647.8,477Q665.4,463.8 681.6,460.1Q697.9,456.5 712.7,462.5M571.5,563.1Q591.2,532.1 609.6,510.1Q628.4,487.7 645.9,474.6Q663.5,461.5 679.7,457.9Q696,454.3 710.9,460.4M569.6,560.5Q589.3,529.6 607.7,507.7Q626.5,485.3 644,472.3Q661.6,459.2 677.9,455.7Q694.2,452.2 709,458.3M567.7,558Q587.4,527.1 605.8,505.2Q624.6,482.9 642.1,470Q659.7,457 676,453.5Q692.3,450.1 707.2,456.3M565.8,555.5Q585.5,524.6 603.9,502.9Q622.7,480.6 640.2,467.8Q657.8,454.8 674.1,451.5Q690.4,448.1 705.4,454.4M563.9,553Q583.6,522.2 602,500.5Q620.8,478.4 638.3,465.6Q656,452.7 672.2,449.4Q688.6,446.1 703.5,452.5M562,550.6Q581.8,519.9 600.1,498.3Q618.9,476.2 636.4,463.5Q654.1,450.6 670.4,447.4Q686.7,444.2 701.7,450.7M560.1,548.3Q579.9,517.6 598.3,496.1Q617.1,474 634.5,461.4Q652.2,448.6 668.5,445.5Q684.9,442.3 699.9,448.8M558.2,546Q578,515.4 596.4,493.9Q615.2,471.9 632.7,459.4Q650.3,446.7 666.7,443.6Q683,440.5 698,447.1M556.4,543.7Q576.1,513.2 594.5,491.8Q613.3,469.9 630.8,457.4Q648.5,444.7 664.8,441.7Q681.2,438.7 696.2,445.4M554.5,541.5Q574.2,511 592.6,489.7Q611.4,467.9 628.9,455.4Q646.6,442.9 663,439.9Q679.3,437 694.4,443.7M552.6,539.3Q572.4,509 590.8,487.7Q609.6,465.9 627.1,453.6Q644.7,441.1 661.1,438.2Q677.5,435.3 692.5,442.1M550.8,537.2Q570.5,506.9 588.9,485.7Q607.7,464 625.2,451.7Q642.9,439.3 659.3,436.5Q675.7,433.7 690.7,440.6M548.9,535.2Q568.7,504.9 587,483.8Q605.8,462.1 623.3,449.9Q641,437.6 657.4,434.9Q673.8,432.1 688.9,439.1M547.1,533.2Q566.8,503 585.2,481.9Q604,460.3 621.5,448.2Q639.2,435.9 655.6,433.3Q672,430.6 687.1,437.6M545.3,531.2Q565,501.1 583.4,480.1Q602.1,458.6 619.6,446.5Q637.4,434.3 653.8,431.7Q670.2,429.1 685.3,436.2M543.4,529.3Q563.1,499.2 581.5,478.3Q600.3,456.9 617.8,444.9Q635.5,432.7 651.9,430.2Q668.4,427.7 683.5,434.8M541.6,527.4Q561.3,497.4 579.7,476.5Q598.5,455.2 616,443.3Q633.7,431.2 650.1,428.8Q666.6,426.3 681.7,433.5M539.8,525.6Q559.5,495.7 577.8,474.9Q596.6,453.6 614.1,441.7Q631.9,429.7 648.3,427.3Q664.7,425 679.9,432.2M538,523.8Q557.6,494 576,473.2Q594.8,452 612.3,440.2Q630,428.3 646.5,426Q662.9,423.7 678.1,431M536.2,522.1Q555.8,492.3 574.2,471.6Q593,450.5 610.5,438.8Q628.2,426.9 644.6,424.7Q661.1,422.4 676.3,429.8M534.4,520.4Q554,490.7 572.4,470.1Q591.2,449 608.7,437.4Q626.4,425.6 642.8,423.4Q659.3,421.2 674.5,428.7M532.6,518.7Q552.2,489.1 570.6,468.6Q589.3,447.6 606.9,436Q624.6,424.3 641,422.2Q657.5,420.1 672.7,427.6M530.8,517.2Q550.4,487.6 568.8,467.1Q587.5,446.2 605.1,434.7Q622.8,423.1 639.2,421Q655.7,419 670.9,426.5M529,515.6Q548.6,486.1 567,465.7Q585.7,444.9 603.2,433.5Q621,421.9 637.4,419.9Q653.9,417.9 669.2,425.5M527.2,514.1Q546.8,484.7 565.2,464.4Q583.9,443.6 601.5,432.2Q619.2,420.7 635.6,418.8Q652.2,416.9 667.4,424.6M525.4,512.7Q545,483.4 563.3,463.2Q582,442.6 599.4,431.2Q617.1,419.8 633.5,417.8Q650,415.9 665.2,423.5M523.7,511.2Q543,482.4 561.1,462.3Q579.6,441.9 597,430.5Q614.5,419.1 630.8,416.9Q647.2,414.8 662.3,422.1M521.9,509.9Q541,481.4 559,461.5Q577.3,441.2 594.5,429.9Q611.9,418.4 628.1,416.1Q644.3,413.8 659.4,420.7M520.1,508.6Q539.1,480.4 556.9,460.7Q575,440.6 592,429.3Q609.3,417.9 625.3,415.4Q641.5,412.9 656.4,419.4M518.4,507.3Q537.1,479.5 554.7,460Q572.7,440.1 589.6,428.8Q606.7,417.3 622.6,414.7Q638.6,412 653.5,418.1M516.6,506.1Q535.2,478.6 552.6,459.3Q570.4,439.6 587.1,428.3Q604,416.9 619.9,414Q635.7,411.1 650.5,416.9M514.9,504.9Q533.2,477.8 550.5,458.7Q568.1,439.1 584.7,427.9Q601.4,416.4 617.1,413.4Q632.9,410.4 647.5,415.8M513.2,503.7Q531.3,477 548.4,458.1Q565.8,438.7 582.2,427.5Q598.8,416 614.4,412.9Q630,409.6 644.6,414.7M511.5,502.6Q529.4,476.3 546.3,457.5Q563.5,438.4 579.8,427.1Q596.2,415.7 611.6,412.4Q627.1,409 641.6,413.7M509.7,501.6Q527.4,475.6 544.2,457Q561.2,438.1 577.3,426.8Q593.6,415.4 608.9,411.9Q624.2,408.4 638.6,412.8M508,500.6Q525.5,474.9 542.1,456.5Q558.9,437.8 574.9,426.6Q591,415.2 606.1,411.5Q621.4,407.8 635.6,411.9M506.3,499.6Q523.6,474.3 540,456.1Q556.7,437.6 572.4,426.4Q588.4,415 603.4,411.2Q618.5,407.4 632.6,411.1M504.6,498.7Q521.7,473.7 537.9,455.7Q554.4,437.4 570,426.2Q585.8,414.9 600.6,410.9Q615.6,406.9 629.6,410.3M502.9,497.8Q525.5,464.9 546.5,444.1Q568,422.9 587.9,414.3Q608.1,405.5 626.6,409.6M501.2,496.9Q523.5,464.5 544.3,444Q565.5,422.9 585.3,414.2Q605.2,405.3 623.6,409M499.6,496.1Q521.6,464.2 542.1,443.8Q563.1,423 582.6,414.1Q602.3,405.2 620.5,408.4M497.9,495.4Q519.6,464 539.9,443.8Q560.6,423.1 579.9,414.1Q599.5,405.1 617.5,407.9M496.2,494.7Q517.7,463.7 537.7,443.7Q558.2,423.3 577.3,414.2Q596.6,405 614.5,407.5M494.6,494Q515.7,463.5 535.5,443.7Q555.7,423.5 574.6,414.3Q593.7,405.1 611.4,407.1M492.9,493.4Q513.8,463.4 533.3,443.8Q553.3,423.7 572,414.5Q590.8,405.1 608.4,406.8M491.3,492.8Q511.8,463.3 531.1,443.9Q550.8,424 569.3,414.7Q588,405.3 605.3,406.5M489.6,492.2Q509.9,463.2 529,444Q548.4,424.4 566.6,415Q585.1,405.4 602.3,406.3M488,491.7Q508,463.1 526.8,444.2Q546,424.8 564,415.3Q582.2,405.7 599.2,406.2M486.4,491.2Q506.1,463.2 524.6,444.4Q543.5,425.2 561.3,415.6Q579.3,406 596.1,406.1M484.8,490.8Q504.1,463.2 522.4,444.6Q541.1,425.7 558.7,416.1Q576.4,406.3 593,406.1M483.1,490.4Q502.2,463.3 520.3,444.9Q538.7,426.2 556,416.5Q573.5,406.7 590,406.2M481.5,490.1Q500.3,463.4 518.1,445.3Q536.2,426.8 553.3,417Q570.6,407.2 586.9,406.3M479.9,489.7Q498.4,463.6 516,445.6Q533.8,427.4 550.7,417.6Q567.7,407.7 583.8,406.5M478.3,489.5Q496.6,463.8 513.8,446.1Q531.4,428 548,418.2Q564.8,408.3 580.7,406.8M476.8,489.2Q494.7,464 511.7,446.5Q529,428.7 545.4,418.9Q561.9,408.9 577.6,407.1M475.2,489Q492.8,464.3 509.5,447Q526.5,429.5 542.7,419.6Q559,409.6 574.5,407.5M473.6,488.9Q490.9,464.6 507.4,447.6Q524.1,430.2 540,420.3Q556.1,410.4 571.3,408M472,488.7Q489.1,465 505.2,448.2Q521.7,431.1 537.4,421.2Q553.2,411.1 568.2,408.5M470.5,488.6Q487.2,465.3 503.1,448.8Q519.3,431.9 534.7,422Q550.3,412 565.1,409.1M468.9,488.6Q485.3,465.8 501,449.5Q516.9,432.8 532.1,422.9Q547.4,412.9 562,409.7M467.4,488.6Q483.5,466.2 498.9,450.2Q514.5,433.8 529.4,423.9Q544.5,413.9 558.8,410.4M465.9,488.6Q489.6,455.7 511.9,436.4Q534.6,416.7 555.7,411.2M464.3,488.7Q487.7,456.4 509.5,437.4Q531.8,417.9 552.5,412.1M462.8,488.8Q485.7,457.2 507.1,438.4Q529,419.1 549.4,413M461.3,488.9Q483.7,458.1 504.7,439.4Q526.1,420.4 546.2,414M459.8,489.1Q481.7,459 502.3,440.5Q523.3,421.7 543.1,415M458.3,489.3Q479.7,459.9 499.9,441.7Q520.5,423.1 539.9,416.1M456.8,489.5Q477.8,460.8 497.6,442.9Q517.7,424.5 536.7,417.3M455.3,489.8Q475.8,461.8 495.2,444.1Q514.9,426 533.6,418.5M453.8,490.1Q473.9,462.8 492.8,445.4Q512.1,427.5 530.4,419.8M452.4,490.4Q471.9,463.9 490.4,446.7Q509.3,429.1 527.2,421.2"/>
<path fill="none" stroke="#000" stroke-width="0.8" stroke-linejoin="round" d="M527.2,421.2L529.2,420.3L531.4,419.4L533.6,418.5L535.7,417.7L537.8,416.9L539.9,416.1L542,415.4L544.1,414.7L546.2,414L548.3,413.3L550.4,412.7L552.5,412.1L554.6,411.5L556.7,411L558.7,410.5L560.9,410L563,409.5L565.1,409.1L567.2,408.7L569.3,408.3L571.3,408L573.4,407.7L575.5,407.4L577.6,407.1L579.6,406.9L581.7,406.7L583.8,406.5L585.8,406.4L587.9,406.3L590,406.2L592,406.2L594.1,406.1L596.1,406.1L598.2,406.2L600.2,406.2L602.3,406.3L604.3,406.4L606.3,406.6L608.4,406.8L610.4,407L612.4,407.2L614.5,407.5L616.5,407.8L618.5,408.1L620.5,408.4L622.6,408.8L624.6,409.2L626.6,409.6L628.6,410.1L630.6,410.6L632.6,411.1L634.6,411.6L638.3,412.7L640.6,413.4L643.3,414.3L645.9,415.2L648.4,416.1L650.5,416.9L653.4,418.1L656,419.2L658.4,420.2L661.1,421.5L663.7,422.7L666.2,424L666.2,424"/>
<circle cx="448.6" cy="404" r="1.5"/><circle cx="449.7" cy="430.1" r="1.5"/><circle cx="450.9" cy="456.2" r="1.5"/><circle cx="452" cy="482.3" r="1.5"/><circle cx="453.1" cy="508.4" r="1.5"/><circle cx="454.3" cy="534.6" r="1.5"/><circle cx="455.4" cy="560.7" r="1.5"/><circle cx="590.8" cy="681.6" r="1.5"/><circle cx="557.5" cy="663.6" r="1.5"/><circle cx="524.1" cy="645.7" r="1.5"/><circle cx="490.8" cy="627.8" r="1.5"/><circle cx="457.5" cy="609.8" r="1.5"/><circle cx="624.1" cy="663.6" r="1.5"/><circle cx="657.4" cy="645.7" r="1.5"/><circle cx="690.7" cy="627.8" r="1.5"/><circle cx="724" cy="609.8" r="1.5"/>
<text transform="translate(442.9,401.4) scale(0.8386,1)" text-anchor="end" font-size="12.0">60.0</text>
<text transform="translate(444.1,427.5) scale(0.8386,1)" text-anchor="end" font-size="12.0">53.3</text>
<text transform="translate(445.2,453.6) scale(0.8386,1)" text-anchor="end" font-size="12.0">46.7</text>
<text transform="translate(446.3,479.7) scale(0.8386,1)" text-anchor="end" font-size="12.0">40.0</text>
<text transform="translate(447.5,505.8) scale(0.8386,1)" text-anchor="end" font-size="12.0">33.3</text>
<text transform="translate(448.6,532) scale(0.8386,1)" text-anchor="end" font-size="12.0">26.7</text>
<text transform="translate(449.7,558.1) scale(0.8386,1)" text-anchor="end" font-size="12.0">20.0</text>
<text transform="translate(585.6,693.9) scale(0.8386,1)" text-anchor="end" font-size="12.0">-0.79</text>
<text transform="translate(552.3,675.9) scale(0.8386,1)" text-anchor="end" font-size="12.0">-0.29</text>
<text transform="translate(519,658) scale(0.8386,1)" text-anchor="end" font-size="12.0">0.21</text>
<text transform="translate(485.6,640.1) scale(0.8386,1)" text-anchor="end" font-size="12.0">0.71</text>
<text transform="translate(452.3,622.1) scale(0.8386,1)" text-anchor="end" font-size="12.0">1.21</text>
<text transform="translate(596,693.9) scale(0.8386,1)" text-anchor="start" font-size="12.0">-1.00</text>
<text transform="translate(629.3,675.9) scale(0.8386,1)" text-anchor="start" font-size="12.0">-0.50</text>
<text transform="translate(662.6,658) scale(0.8386,1)" text-anchor="start" font-size="12.0">0.00</text>
<text transform="translate(695.9,640.1) scale(0.8386,1)" text-anchor="start" font-size="12.0">0.50</text>
<text transform="translate(729.2,622.1) scale(0.8386,1)" text-anchor="start" font-size="12.0">1.00</text>
<text transform="translate(472.5,682.2) scale(0.7672,1)" text-anchor="middle" font-size="17.7">Ethanol concentration</text>
<text transform="translate(709.1,682.2) scale(0.7672,1)" text-anchor="middle" font-size="17.7">Extraction temperature</text>
<text transform="translate(411.9,509.9) rotate(-90) scale(1.4811,1)" text-anchor="middle" font-size="11.95">Extraction yield</text>
<text x="402" y="384.8" font-size="15.5" font-weight="bold" style="fill:#e8000d">(d)</text>
</g>
<g>
<path fill="none" stroke="#333" stroke-width=".8" d="M48.5,771.1L193.1,735.1 337.7,771.1M49.6,797.2L193.1,758.6 336.6,797.2M50.8,823.3L193.1,782.1 335.4,823.3M51.9,849.4L193.1,805.6 334.3,849.4M53.1,875.5L193.1,829.1 333.1,875.5M54.2,901.6L193.1,852.6 332,901.6M55.4,927.7L193.1,876.1 330.8,927.7M84.6,762.1L89.8,914.8M229.3,744.1L227.5,889M120.8,753.1L124.2,901.9M265.4,753.1L262,901.9M156.9,744.1L158.7,889M301.6,762.1L296.4,914.8M48.5,771.1L57.6,976.8M193.1,735.1L193.1,920.6M337.7,771.1L328.6,976.8"/>
<path fill="#ff0" stroke="#222" stroke-width=".7" d="M57.6,976.8 L193.1,1048.5 328.6,976.8 193.1,920.6z"/>
<path fill="none" stroke="#f85a00" stroke-width="1.0" d="M225.6,958.8L225.1,958.6L224.5,958.3L223.9,958.1L223.3,957.9L222.7,957.7L222.1,957.5L221.4,957.3L220.8,957.2L220.1,957L219.4,956.8L218.8,956.7L218.1,956.5L217.4,956.4L216.7,956.3L215.9,956.2L215.2,956.1L214.5,956L213.7,955.9L213,955.8L212.2,955.8L211.4,955.7L210.7,955.7L209.9,955.6L209.1,955.6L208.3,955.6L207.6,955.6L206.8,955.6L206,955.7L205.2,955.7L204.4,955.8L203.6,955.8L202.9,955.9L202.1,956L201.3,956.1L200.6,956.2L199.8,956.4L199.1,956.5L198.4,956.7L197.7,956.9L197,957.1L196.3,957.3L195.7,957.5L195,957.7L194.4,957.9L193.8,958.2L193.2,958.4L192.7,958.7L192.2,959L191.6,959.3L191.2,959.6L190.7,959.9L190.3,960.2L189.9,960.5L189.5,960.9L189.2,961.2L188.9,961.6L188.6,961.9L188.4,962.3L188.2,962.6L188,963L187.8,963.3L187.7,963.7L187.6,964.1L187.5,964.4L187.5,964.8L187.5,965.2L187.5,965.5L187.5,965.9L187.6,966.3L187.7,966.6L187.8,967L188,967.4L188.2,967.7L188.4,968.1L188.6,968.4L188.9,968.8L189.2,969.1L189.5,969.4L189.8,969.8L190.2,970.1L190.5,970.4L190.9,970.7L191.4,971L191.8,971.3L192.3,971.6L192.8,971.9L193.3,972.2L193.8,972.5L194.3,972.7L194.9,973L195.5,973.2L196.1,973.5L196.7,973.7L197.3,973.9L197.9,974.2L198.6,974.4L199.3,974.6L200,974.7L200.7,974.9L201.4,975.1L202.1,975.2L202.8,975.4L203.6,975.5L204.3,975.6L205.1,975.7L205.8,975.8L206.6,975.9L207.4,976L208.2,976.1L209,976.1L209.8,976.2L210.6,976.2L211.4,976.2L212.2,976.2L213,976.2L213.8,976.2L214.6,976.2L215.4,976.1L216.2,976L217,976L217.8,975.9L218.6,975.8L219.4,975.7L220.2,975.6L220.9,975.4L221.7,975.3L222.4,975.1L223.1,974.9L223.8,974.7L224.5,974.5L225.2,974.3L225.9,974.1L226.5,973.9L227.1,973.6L227.7,973.4L228.3,973.1L228.8,972.8L229.3,972.5L229.8,972.2L230.3,971.9L230.8,971.6L231.2,971.3L231.5,970.9L231.9,970.6L232.2,970.3L232.5,969.9L232.8,969.6L233,969.2L233.2,968.8L233.3,968.5L233.5,968.1L233.6,967.7L233.6,967.4L233.7,967L233.7,966.6L233.6,966.3L233.6,965.9L233.5,965.5L233.4,965.2L233.2,964.8L233.1,964.5L232.9,964.1L232.7,963.8L232.4,963.4L232.1,963.1L231.8,962.8L231.5,962.4L231.2,962.1L230.8,961.8L230.4,961.5L230,961.2L229.6,960.9L229.2,960.6L228.7,960.3L228.2,960L227.8,959.8L227.2,959.5L226.7,959.3L226.2,959L225.6,958.8"/>
<path fill="none" stroke="#ffb400" stroke-width="1.0" d="M239,952.6L237.9,952.2L236.8,951.8L235.7,951.4L234.5,951L233.4,950.6L232.2,950.2L231,949.9L229.8,949.6L228.5,949.3L227.2,949L226,948.7L224.7,948.4L223.3,948.1L222,947.9L220.6,947.7L219.3,947.5L217.9,947.3L216.5,947.1L215,947L213.6,946.9L212.2,946.8L210.7,946.7L209.2,946.6L207.8,946.5L206.3,946.5L204.8,946.5L203.3,946.5L201.8,946.6L200.3,946.7L198.8,946.8L197.3,946.9L195.8,947L194.4,947.2L192.9,947.4L191.4,947.6L190,947.9L188.6,948.1L187.2,948.4L185.9,948.8L184.5,949.1L183.2,949.5L182,949.9L180.7,950.3L179.5,950.8L178.4,951.3L177.3,951.8L176.2,952.3L175.2,952.8L174.2,953.4L173.3,954L172.4,954.5L171.6,955.1L170.8,955.8L170.1,956.4L169.5,957L168.8,957.7L168.3,958.4L167.8,959L167.4,959.7L167,960.4L166.7,961.1L166.4,961.8L166.2,962.5L166,963.2L165.9,963.9L165.8,964.7L165.8,965.4L165.9,966.1L166,966.8L166.1,967.5L166.4,968.2L166.6,968.9L166.9,969.6L167.3,970.3L167.7,971L168.2,971.7L168.7,972.3L169.2,973L169.8,973.6L170.5,974.3L171.2,974.9L172,975.6L172.8,976.2L173.6,976.8L174.5,977.4L175.4,977.9L176.4,978.5L177.4,979L178.4,979.6L179.5,980.1L180.7,980.6L181.8,981.1L183,981.5L184.3,982L185.5,982.4L186.8,982.8L188.1,983.2L189.5,983.6L190.9,983.9L192.3,984.2L193.7,984.5L195.2,984.8L196.7,985.1L198.1,985.3L199.7,985.5L201.2,985.7L202.7,985.9L204.3,986L205.8,986.1L207.4,986.2L209,986.3L210.6,986.3L212.1,986.3L213.7,986.3L215.3,986.3L216.9,986.3L218.5,986.2L220,986.1L221.6,985.9L223.1,985.8L224.7,985.6L226.2,985.4L227.7,985.2L229.2,984.9L230.7,984.6L232.1,984.3L233.6,984L235,983.7L236.3,983.3L237.7,982.9L239,982.5L240.2,982L241.5,981.6L242.6,981.1L243.8,980.6L244.9,980L245.9,979.5L247,978.9L247.9,978.3L248.8,977.7L249.6,977.1L250.4,976.5L251.2,975.9L251.8,975.2L252.4,974.5L253,973.8L253.5,973.2L253.9,972.5L254.2,971.8L254.5,971L254.7,970.3L254.9,969.6L255,968.9L255,968.2L255,967.5L254.9,966.8L254.8,966.1L254.6,965.4L254.3,964.7L254,964L253.6,963.3L253.2,962.6L252.7,962L252.2,961.3L251.7,960.7L251.1,960.1L250.4,959.5L249.7,958.9L249,958.3L248.3,957.7L247.5,957.1L246.6,956.6L245.8,956L244.9,955.5L244,955L243,954.5L242.1,954L241.1,953.5L240,953.1L239,952.6"/>
<path fill="none" stroke="#5aeb28" stroke-width="1.2" d="M225.4,934.5L223,934.2L220.6,933.9L218.2,933.6L215.7,933.4L213.3,933.2L210.8,933L208.2,932.8L205.7,932.7L203.1,932.7L200.6,932.6L198,932.6L195.4,932.7L192.8,932.8L190.2,932.9L187.6,933.1L185,933.3L182.4,933.5L179.8,933.9L177.3,934.2L174.7,934.6L172.3,935.1L169.8,935.6L167.4,936.2L165,936.8L162.7,937.4L160.5,938.1L158.3,938.8L156.2,939.6L154.2,940.4L152.2,941.3L150.3,942.2L148.5,943.1L146.8,944.1L145.1,945.1L143.6,946.1L142.1,947.2L140.7,948.2L139.4,949.4L138.3,950.5L137.1,951.6L136.1,952.8L135.2,954L134.4,955.2L133.6,956.4L133,957.6L132.4,958.8L132,960.1L131.6,961.3L131.3,962.6L131.1,963.8L131,965.1L131,966.4L131,967.6L131.2,968.9L131.4,970.2L131.8,971.4L132.2,972.7L132.7,973.9L133.3,975.2L134.1,976.4L134.9,977.7L135.7,978.9L136.7,980.1L137.8,981.3L139,982.5L140.2,983.6L141.6,984.8L143,985.9L144.5,987L146.1,988.1L147.8,989.1L149.6,990.2L151.5,991.2L153.5,992.1L155.5,993.1L157.6,994L159.8,994.9L162,995.7L164.4,996.5L166.7,997.2L169.2,997.9L171.7,998.6L174.2,999.2L176.9,999.8L179.5,1000.4L182.2,1000.9L184.9,1001.3L187.7,1001.7L190.5,1002.1L193.3,1002.4L196.1,1002.7L199,1002.9L201.8,1003L204.7,1003.2L207.6,1003.3L210.5,1003.3L213.4,1003.3L216.2,1003.2L219.1,1003.1L222,1003L224.8,1002.8L227.7,1002.6L230.5,1002.3L233.2,1002L236,1001.6L238.7,1001.2L241.4,1000.8L244.1,1000.3L246.7,999.8L249.3,999.2L251.8,998.6L254.3,997.9L256.7,997.2L259.1,996.5L261.4,995.7L263.6,994.9L265.8,994.1L267.9,993.2L269.9,992.3L271.8,991.3L273.7,990.3L275.5,989.3L277.1,988.2L278.7,987.2L280.2,986.1L281.5,984.9L282.8,983.8L283.9,982.6L284.9,981.4L285.9,980.2L286.7,978.9L287.3,977.7L287.9,976.4L288.3,975.2L288.7,973.9L288.9,972.6L289,971.3L288.9,970.1L288.8,968.8L288.5,967.6L288.2,966.3L287.7,965.1L287.2,963.9L286.5,962.7L285.8,961.5L284.9,960.4L284,959.2L283,958.1"/>
<path fill="none" stroke="#5adcaa" stroke-width="1.1" d="M74.3,971.2L74.3,973.3L74.6,975.5L74.9,977.8L75.5,980L76.2,982.2L77,984.4L78,986.6M159.2,1029.2L164.2,1030L169.3,1030.6L174.3,1031.2L179.5,1031.6L184.6,1032L189.8,1032.3L194.9,1032.5L200.1,1032.6L205.2,1032.6L210.4,1032.5L215.5,1032.4L220.6,1032.2"/>
<defs><linearGradient id="e0" gradientUnits="userSpaceOnUse" x1="52.4" x2="200.2" y1="0" y2="0"><stop offset="0" stop-color="#00f67a"/><stop offset=".025" stop-color="#00f67a"/><stop offset=".125" stop-color="#00f324"/><stop offset=".175" stop-color="#00f305"/><stop offset=".2" stop-color="#0af300"/><stop offset=".3" stop-color="#3af500"/><stop offset=".425" stop-color="#50f900"/><stop offset=".55" stop-color="#40fd00"/><stop offset=".675" stop-color="#0bff00"/><stop offset=".7" stop-color="#00ff04"/><stop offset=".775" stop-color="#00ff31"/><stop offset=".875" stop-color="#00ff7d"/><stop offset=".975" stop-color="#00fdd9"/><stop offset="1" stop-color="#00fdd9"/></linearGradient><linearGradient id="e1" gradientUnits="userSpaceOnUse" x1="58.7" x2="206.8" y1="0" y2="0"><stop offset="0" stop-color="#00fb51"/><stop offset=".025" stop-color="#00fb50"/><stop offset=".075" stop-color="#00f721"/><stop offset=".125" stop-color="#07f500"/><stop offset=".225" stop-color="#4bf500"/><stop offset=".3" stop-color="#6cf600"/><stop offset=".45" stop-color="#84fa00"/><stop offset=".575" stop-color="#6efe00"/><stop offset=".65" stop-color="#4eff00"/><stop offset=".75" stop-color="#0fff00"/><stop offset=".775" stop-color="#00ff04"/><stop offset=".825" stop-color="#00ff27"/><stop offset=".975" stop-color="#00fdac"/><stop offset="1" stop-color="#00fdac"/></linearGradient><linearGradient id="e2" gradientUnits="userSpaceOnUse" x1="65" x2="213.3" y1="0" y2="0"><stop offset="0" stop-color="#00ff27"/><stop offset=".025" stop-color="#00ff27"/><stop offset=".075" stop-color="#09fa00"/><stop offset=".15" stop-color="#4af700"/><stop offset=".225" stop-color="#7bf600"/><stop offset=".325" stop-color="#a4f800"/><stop offset=".425" stop-color="#b5fa00"/><stop offset=".525" stop-color="#adfd00"/><stop offset=".6" stop-color="#97ff00"/><stop offset=".725" stop-color="#53ff00"/><stop offset=".825" stop-color="#05ff00"/><stop offset=".875" stop-color="#00ff24"/><stop offset=".975" stop-color="#00fe80"/><stop offset="1" stop-color="#00fe80"/></linearGradient><linearGradient id="e3" gradientUnits="userSpaceOnUse" x1="71.2" x2="219.8" y1="0" y2="0"><stop offset="0" stop-color="#0f0"/><stop offset=".025" stop-color="#01ff00"/><stop offset=".1" stop-color="#4ffc00"/><stop offset=".2" stop-color="#9bf800"/><stop offset=".3" stop-color="#caf800"/><stop offset=".425" stop-color="#e3fb00"/><stop offset=".525" stop-color="#dcfe00"/><stop offset=".65" stop-color="#afff00"/><stop offset=".75" stop-color="#71ff00"/><stop offset=".875" stop-color="#05ff00"/><stop offset=".975" stop-color="#00ff59"/><stop offset="1" stop-color="#00ff59"/></linearGradient><linearGradient id="e4" gradientUnits="userSpaceOnUse" x1="77.4" x2="226.2" y1="0" y2="0"><stop offset="0" stop-color="#2cff00"/><stop offset=".025" stop-color="#2dff00"/><stop offset=".125" stop-color="#92fe00"/><stop offset=".2" stop-color="#c6fa00"/><stop offset=".275" stop-color="#ecfa00"/><stop offset=".325" stop-color="#faf700"/><stop offset=".45" stop-color="#fdee00"/><stop offset=".55" stop-color="#fffd00"/><stop offset=".625" stop-color="#e7ff00"/><stop offset=".725" stop-color="#afff00"/><stop offset=".825" stop-color="#62ff00"/><stop offset=".925" stop-color="#00ff02"/><stop offset=".975" stop-color="#00ff32"/><stop offset="1" stop-color="#00ff32"/></linearGradient><linearGradient id="e5" gradientUnits="userSpaceOnUse" x1="83.5" x2="232.6" y1="0" y2="0"><stop offset="0" stop-color="#54ff00"/><stop offset=".025" stop-color="#56ff00"/><stop offset=".15" stop-color="#cfff00"/><stop offset=".225" stop-color="#fcfb00"/><stop offset=".3" stop-color="#fce000"/><stop offset=".4" stop-color="#fdd000"/><stop offset=".525" stop-color="#ffd800"/><stop offset=".65" stop-color="#fffb00"/><stop offset=".7" stop-color="#e9ff00"/><stop offset=".8" stop-color="#a1ff00"/><stop offset=".95" stop-color="#0cff00"/><stop offset=".975" stop-color="#00ff0e"/><stop offset="1" stop-color="#00ff0f"/></linearGradient><linearGradient id="e6" gradientUnits="userSpaceOnUse" x1="89.7" x2="238.9" y1="0" y2="0"><stop offset="0" stop-color="#7aff00"/><stop offset=".025" stop-color="#7bff00"/><stop offset=".1" stop-color="#c9ff00"/><stop offset=".175" stop-color="#fffa00"/><stop offset=".3" stop-color="#fcc500"/><stop offset=".45" stop-color="#ffb400"/><stop offset=".6" stop-color="#fc0"/><stop offset=".725" stop-color="#ff0"/><stop offset=".85" stop-color="#9bff00"/><stop offset=".975" stop-color="#16ff00"/><stop offset="1" stop-color="#15ff00"/></linearGradient><linearGradient id="e7" gradientUnits="userSpaceOnUse" x1="95.7" x2="245.1" y1="0" y2="0"><stop offset="0" stop-color="#9bff00"/><stop offset=".025" stop-color="#9dff00"/><stop offset=".075" stop-color="#d3ff00"/><stop offset=".125" stop-color="#fbfa00"/><stop offset=".2" stop-color="#f6cc00"/><stop offset=".275" stop-color="#f7ae00"/><stop offset=".425" stop-color="#fc9800"/><stop offset=".5" stop-color="#ff9d00"/><stop offset=".6" stop-color="#ffb200"/><stop offset=".775" stop-color="#feff00"/><stop offset=".875" stop-color="#a6ff00"/><stop offset=".975" stop-color="#3aff00"/><stop offset="1" stop-color="#39ff00"/></linearGradient><linearGradient id="e8" gradientUnits="userSpaceOnUse" x1="101.8" x2="251.3" y1="0" y2="0"><stop offset="0" stop-color="#000"/><stop offset=".025" stop-color="#000"/><stop offset=".05" stop-color="#d7ff00"/><stop offset=".075" stop-color="#edfb00"/><stop offset=".15" stop-color="#ecc700"/><stop offset=".225" stop-color="#eea400"/><stop offset=".325" stop-color="#f38900"/><stop offset=".425" stop-color="#f87f00"/><stop offset=".525" stop-color="#fe8800"/><stop offset=".6" stop-color="#ff9a00"/><stop offset=".7" stop-color="#ffc000"/><stop offset=".8" stop-color="#fff700"/><stop offset=".85" stop-color="#deff00"/><stop offset=".975" stop-color="#5aff00"/><stop offset="1" stop-color="#59ff00"/></linearGradient><linearGradient id="e9" gradientUnits="userSpaceOnUse" x1="107.8" x2="257.4" y1="0" y2="0"><stop offset="0" stop-color="#000"/><stop offset=".05" stop-color="#000"/><stop offset=".075" stop-color="#e7de00"/><stop offset=".1" stop-color="#ccb600"/><stop offset=".2" stop-color="#e09300"/><stop offset=".325" stop-color="#ec6e00"/><stop offset=".45" stop-color="#f56000"/><stop offset=".525" stop-color="#fa6c00"/><stop offset=".675" stop-color="#ff9f00"/><stop offset=".85" stop-color="#faff00"/><stop offset=".975" stop-color="#7f0"/><stop offset="1" stop-color="#75ff00"/></linearGradient><linearGradient id="e10" gradientUnits="userSpaceOnUse" x1="113.8" x2="263.4" y1="0" y2="0"><stop offset="0" stop-color="#000"/><stop offset=".075" stop-color="#000"/><stop offset=".1" stop-color="#0f0c00"/><stop offset=".125" stop-color="#9a7400"/><stop offset=".15" stop-color="#b57e00"/><stop offset=".2" stop-color="#cd7800"/><stop offset=".3" stop-color="#e15b00"/><stop offset=".4" stop-color="#ec4700"/><stop offset=".525" stop-color="#f75100"/><stop offset=".6" stop-color="#fc6a00"/><stop offset=".725" stop-color="#ffa400"/><stop offset=".85" stop-color="#fff000"/><stop offset=".875" stop-color="#fbff00"/><stop offset=".975" stop-color="#90ff00"/><stop offset="1" stop-color="#8eff00"/></linearGradient><linearGradient id="e11" gradientUnits="userSpaceOnUse" x1="119.7" x2="269.4" y1="0" y2="0"><stop offset="0" stop-color="#000"/><stop offset=".125" stop-color="#000"/><stop offset=".15" stop-color="#5e3c00"/><stop offset=".175" stop-color="#935500"/><stop offset=".2" stop-color="#ac5b00"/><stop offset=".25" stop-color="#c65200"/><stop offset=".35" stop-color="#de3900"/><stop offset=".425" stop-color="#e83100"/><stop offset=".55" stop-color="#f54100"/><stop offset=".625" stop-color="#fb5e00"/><stop offset=".75" stop-color="#ffa100"/><stop offset=".875" stop-color="#fff200"/><stop offset=".9" stop-color="#f7ff00"/><stop offset=".975" stop-color="#a5ff00"/><stop offset="1" stop-color="#a3ff00"/></linearGradient><linearGradient id="e12" gradientUnits="userSpaceOnUse" x1="125.6" x2="275.3" y1="0" y2="0"><stop offset="0" stop-color="#000"/><stop offset=".15" stop-color="#000"/><stop offset=".175" stop-color="#110900"/><stop offset=".2" stop-color="#6a3200"/><stop offset=".225" stop-color="#923b00"/><stop offset=".25" stop-color="#a83b00"/><stop offset=".3" stop-color="#c33200"/><stop offset=".425" stop-color="#e12100"/><stop offset=".525" stop-color="#ee2a00"/><stop offset=".625" stop-color="#f84c00"/><stop offset=".8" stop-color="#ffb100"/><stop offset=".9" stop-color="#fff800"/><stop offset=".925" stop-color="#ef0"/><stop offset=".975" stop-color="#b6ff00"/><stop offset="1" stop-color="#b4ff00"/></linearGradient><linearGradient id="e13" gradientUnits="userSpaceOnUse" x1="132.2" x2="281.1" y1="0" y2="0"><stop offset="0" stop-color="#000"/><stop offset=".2" stop-color="#000"/><stop offset=".25" stop-color="#752200"/><stop offset=".275" stop-color="#952400"/><stop offset=".35" stop-color="#c21b00"/><stop offset=".475" stop-color="#e11600"/><stop offset=".55" stop-color="#ec2300"/><stop offset=".65" stop-color="#f74b00"/><stop offset=".9" stop-color="#fe0"/><stop offset=".925" stop-color="#fbff00"/><stop offset=".975" stop-color="#c3fe00"/><stop offset="1" stop-color="#c0fe00"/></linearGradient><linearGradient id="e14" gradientUnits="userSpaceOnUse" x1="144.1" x2="286.9" y1="0" y2="0"><stop offset="0" stop-color="#000"/><stop offset=".2" stop-color="#000"/><stop offset=".225" stop-color="#160500"/><stop offset=".25" stop-color="#561200"/><stop offset=".275" stop-color="#7e1500"/><stop offset=".3" stop-color="#981400"/><stop offset=".35" stop-color="#b71000"/><stop offset=".45" stop-color="#d70e00"/><stop offset=".525" stop-color="#e51900"/><stop offset=".625" stop-color="#f23d00"/><stop offset=".75" stop-color="#fe8900"/><stop offset=".9" stop-color="#ffea00"/><stop offset=".925" stop-color="#fefc00"/><stop offset=".975" stop-color="#cafd00"/><stop offset="1" stop-color="#c9fd00"/></linearGradient><linearGradient id="e15" gradientUnits="userSpaceOnUse" x1="156.3" x2="292.6" y1="0" y2="0"><stop offset="0" stop-color="#000"/><stop offset=".225" stop-color="#000"/><stop offset=".275" stop-color="#650b00"/><stop offset=".325" stop-color="#9b0b00"/><stop offset=".375" stop-color="#b80900"/><stop offset=".475" stop-color="#d71000"/><stop offset=".575" stop-color="#e92a00"/><stop offset=".625" stop-color="#f04000"/><stop offset=".875" stop-color="#ffd800"/><stop offset=".925" stop-color="#fdfa00"/><stop offset=".975" stop-color="#cdfb00"/><stop offset="1" stop-color="#cdfb00"/></linearGradient><linearGradient id="e16" gradientUnits="userSpaceOnUse" x1="168.7" x2="298.2" y1="0" y2="0"><stop offset="0" stop-color="#000"/><stop offset=".225" stop-color="#000"/><stop offset=".25" stop-color="#0f0200"/><stop offset=".275" stop-color="#460600"/><stop offset=".3" stop-color="#6f0800"/><stop offset=".35" stop-color="#9e0900"/><stop offset=".4" stop-color="#ba0b00"/><stop offset=".525" stop-color="#de2100"/><stop offset=".65" stop-color="#f15500"/><stop offset=".8" stop-color="#ffad00"/><stop offset=".925" stop-color="#fcfb00"/><stop offset=".975" stop-color="#cdfa00"/><stop offset="1" stop-color="#cdfa00"/></linearGradient><linearGradient id="e17" gradientUnits="userSpaceOnUse" x1="181.4" x2="303.7" y1="0" y2="0"><stop offset="0" stop-color="#000"/><stop offset=".25" stop-color="#000"/><stop offset=".275" stop-color="#210300"/><stop offset=".3" stop-color="#530600"/><stop offset=".35" stop-color="#8f0b00"/><stop offset=".425" stop-color="#bc1400"/><stop offset=".525" stop-color="#da2c00"/><stop offset=".625" stop-color="#ec5600"/><stop offset=".8" stop-color="#ffb600"/><stop offset=".925" stop-color="#f5fa00"/><stop offset=".975" stop-color="#c9f900"/><stop offset="1" stop-color="#c9f900"/></linearGradient><linearGradient id="e18" gradientUnits="userSpaceOnUse" x1="194.3" x2="309.1" y1="0" y2="0"><stop offset="0" stop-color="#000"/><stop offset=".275" stop-color="#000"/><stop offset=".325" stop-color="#5b0b00"/><stop offset=".35" stop-color="#7c1000"/><stop offset=".4" stop-color="#a61a00"/><stop offset=".475" stop-color="#c82c00"/><stop offset=".6" stop-color="#e75c00"/><stop offset=".8" stop-color="#ffc300"/><stop offset=".9" stop-color="#faf700"/><stop offset=".975" stop-color="#c0f800"/><stop offset="1" stop-color="#c0f800"/></linearGradient><linearGradient id="e19" gradientUnits="userSpaceOnUse" x1="207.5" x2="314.5" y1="0" y2="0"><stop offset="0" stop-color="#000"/><stop offset=".3" stop-color="#000"/><stop offset=".35" stop-color="#621500"/><stop offset=".4" stop-color="#992600"/><stop offset=".475" stop-color="#c43f00"/><stop offset=".6" stop-color="#e67500"/><stop offset=".775" stop-color="#fec700"/><stop offset=".875" stop-color="#faf700"/><stop offset=".975" stop-color="#b4f700"/><stop offset="1" stop-color="#b4f700"/></linearGradient><linearGradient id="e20" gradientUnits="userSpaceOnUse" x1="220.9" x2="319.8" y1="0" y2="0"><stop offset="0" stop-color="#000"/><stop offset=".325" stop-color="#000"/><stop offset=".375" stop-color="#662300"/><stop offset=".425" stop-color="#9f3e00"/><stop offset=".5" stop-color="#ca6200"/><stop offset=".65" stop-color="#f0a100"/><stop offset=".775" stop-color="#fd0"/><stop offset=".85" stop-color="#f9fc00"/><stop offset=".95" stop-color="#b1f700"/><stop offset=".975" stop-color="#a3f600"/><stop offset="1" stop-color="#a3f600"/></linearGradient><linearGradient id="e21" gradientUnits="userSpaceOnUse" x1="234.6" x2="324.9" y1="0" y2="0"><stop offset="0" stop-color="#000"/><stop offset=".35" stop-color="#000"/><stop offset=".375" stop-color="#1d0f00"/><stop offset=".4" stop-color="#663500"/><stop offset=".425" stop-color="#8e4d00"/><stop offset=".45" stop-color="#a85e00"/><stop offset=".55" stop-color="#dc9100"/><stop offset=".675" stop-color="#f8ca00"/><stop offset=".8" stop-color="#fcff00"/><stop offset=".95" stop-color="#9af700"/><stop offset="1" stop-color="#8ff600"/></linearGradient><linearGradient id="e22" gradientUnits="userSpaceOnUse" x1="248.4" x2="330" y1="0" y2="0"><stop offset="0" stop-color="#000"/><stop offset=".4" stop-color="#000"/><stop offset=".425" stop-color="#5c3e00"/><stop offset=".45" stop-color="#9c6c00"/><stop offset=".475" stop-color="#ba8500"/><stop offset=".55" stop-color="#e5b400"/><stop offset=".65" stop-color="#fde600"/><stop offset=".725" stop-color="#fcff00"/><stop offset=".95" stop-color="#7ff800"/><stop offset="1" stop-color="#76f800"/></linearGradient><linearGradient id="e23" gradientUnits="userSpaceOnUse" x1="262.5" x2="335.1" y1="0" y2="0"><stop offset="0" stop-color="#000"/><stop offset=".45" stop-color="#000"/><stop offset=".475" stop-color="#fd0"/><stop offset=".6" stop-color="#fffe00"/><stop offset=".775" stop-color="#b8ff00"/><stop offset=".95" stop-color="#5ffb00"/><stop offset="1" stop-color="#59fb00"/></linearGradient></defs>
<g stroke-width=".7">
<path fill="url(#e0)" stroke="url(#e0)" d="M193.1,945.4Q173.6,916.3 154.2,897.5Q135.8,879.7 117.7,871.2Q100.6,863.3 83.8,863.7Q68.2,864.1 52.9,871.8L54.5,869.7L56.1,867.5L57.6,865.5L59.2,863.4Q74.6,855.6 90.3,855.1Q107.1,854.5 124.2,862.2Q142.4,870.5 160.8,888Q180.3,906.6 199.7,935.4L198.1,937.9L196.4,940.3L194.8,942.9z"/>
<path fill="url(#e1)" stroke="url(#e1)" d="M199.7,935.4Q180.3,906.6 160.8,888Q142.4,870.5 124.2,862.2Q107.1,854.5 90.3,855.1Q74.6,855.6 59.2,863.4L60.8,861.4L62.3,859.3L63.9,857.4L65.5,855.4Q80.9,847.5 96.6,846.8Q113.5,846.1 130.7,853.7Q148.9,861.7 167.4,879Q186.8,897.3 206.3,925.8L204.7,928.2L203,930.6L201.4,933z"/>
<path fill="url(#e2)" stroke="url(#e2)" d="M206.3,925.8Q186.8,897.3 167.4,879Q148.9,861.7 130.7,853.7Q113.5,846.1 96.6,846.8Q80.9,847.5 65.5,855.4L67,853.5L68.6,851.5L70.1,849.7L71.7,847.8Q87.2,839.8 103,839Q119.9,838.2 137.1,845.5Q155.4,853.4 173.9,870.5Q193.4,888.5 212.8,916.7L211.2,919L209.6,921.2L207.9,923.5z"/>
<path fill="url(#e3)" stroke="url(#e3)" d="M212.8,916.7Q193.4,888.5 173.9,870.5Q155.4,853.4 137.1,845.5Q119.9,838.2 103,839Q87.2,839.8 71.7,847.8L73.2,846L74.8,844.1L76.3,842.4L77.9,840.6Q93.4,832.6 109.3,831.6Q126.3,830.7 143.5,837.9Q161.9,845.5 180.3,862.4Q199.8,880.2 219.3,908.1L217.7,910.2L216.1,912.3L214.4,914.5z"/>
<path fill="url(#e4)" stroke="url(#e4)" d="M219.3,908.1Q199.8,880.2 180.3,862.4Q161.9,845.5 143.5,837.9Q126.3,830.7 109.3,831.6Q93.4,832.6 77.9,840.6L79.4,838.9L81,837.2L82.5,835.5L84,833.8Q99.7,825.7 115.6,824.7Q132.6,823.6 149.9,830.6Q168.3,838.1 186.7,854.7Q206.3,872.3 225.7,899.9L224.1,901.9L222.5,903.9L220.9,906z"/>
<path fill="url(#e5)" stroke="url(#e5)" d="M225.7,899.9Q206.3,872.3 186.7,854.7Q168.3,838.1 149.9,830.6Q132.6,823.6 115.6,824.7Q99.7,825.7 84,833.8L85.6,832.2L87.1,830.6L88.6,829L90.2,827.5Q105.9,819.3 121.8,818.2Q138.9,817 156.2,823.8Q174.6,831.1 193.1,847.6Q212.6,864.9 232.1,892.2L230.5,894.1L228.9,896L227.3,897.9z"/>
<path fill="url(#e6)" stroke="url(#e6)" d="M232.1,892.2Q212.6,864.9 193.1,847.6Q174.6,831.1 156.2,823.8Q138.9,817 121.8,818.2Q105.9,819.3 90.2,827.5L91.7,825.9L93.2,824.4L94.7,823L96.2,821.5Q112,813.3 128,812.1Q145.2,810.8 162.5,817.5Q180.9,824.7 199.4,840.9Q218.9,858 238.4,885L236.8,886.7L235.2,888.5L233.6,890.4z"/>
<path fill="url(#e7)" stroke="url(#e7)" d="M238.4,885Q218.9,858 199.4,840.9Q180.9,824.7 162.5,817.5Q145.2,810.8 128,812.1Q112,813.3 96.2,821.5L97.8,820.1L99.3,818.7L100.8,817.4L102.3,816Q118.1,807.8 134.2,806.5Q151.4,805.1 168.7,811.7Q187.2,818.7 205.7,834.6Q225.2,851.5 244.6,878.3L243,879.9L241.5,881.6L239.9,883.3z"/>
<path fill="url(#e8)" stroke="url(#e8)" d="M244.6,878.3Q225.2,851.5 205.7,834.6Q187.2,818.7 168.7,811.7Q151.4,805.1 134.2,806.5Q118.1,807.8 102.3,816L103.8,814.7L105.3,813.5L106.8,812.2L108.3,811Q124.2,802.7 140.3,801.3Q157.5,799.8 174.9,806.3Q193.4,813.1 211.9,828.9Q231.4,845.6 250.8,872.1L249.2,873.6L247.7,875.1L246.1,876.7z"/>
<path fill="url(#e9)" stroke="url(#e9)" d="M250.8,872.1Q231.4,845.6 211.9,828.9Q193.4,813.1 174.9,806.3Q157.5,799.8 140.3,801.3Q124.2,802.7 108.3,811L109.8,809.8L111.3,808.7L112.8,807.5L114.3,806.4Q130.3,798.1 146.4,796.7Q163.6,795.1 181,801.4Q199.5,808.1 218,823.7Q237.5,840.2 256.9,866.3L255.4,867.7L253.8,869.1L252.3,870.6z"/>
<path fill="url(#e10)" stroke="url(#e10)" d="M256.9,866.3Q237.5,840.2 218,823.7Q199.5,808.1 181,801.4Q163.6,795.1 146.4,796.7Q130.3,798.1 114.3,806.4L115.8,805.3L117.3,804.3L118.8,803.3L120.2,802.3Q136.2,794 152.4,792.5Q169.7,790.8 187.1,797Q205.6,803.6 224.1,819Q243.6,835.2 262.9,861.1L261.4,862.4L259.9,863.7L258.4,865z"/>
<path fill="url(#e11)" stroke="url(#e11)" d="M262.9,861.1Q243.6,835.2 224.1,819Q205.6,803.6 187.1,797Q169.7,790.8 152.4,792.5Q136.2,794 120.2,802.3L121.7,801.3L123.2,800.4L124.7,799.5L126.1,798.6Q142.2,790.3 158.4,788.7Q175.7,787.1 193.1,793.1Q211.6,799.6 230.1,814.8Q249.6,830.8 268.9,856.5L267.4,857.6L265.9,858.7L264.4,859.9z"/>
<path fill="url(#e12)" stroke="url(#e12)" d="M268.9,856.5Q249.6,830.8 230.1,814.8Q211.6,799.6 193.1,793.1Q175.7,787.1 158.4,788.7Q142.2,790.3 126.1,798.6L127.6,797.8L129.1,797L130.5,796.2L132.7,795.1Q148.7,786.9 164.8,785.5Q182.1,783.9 199.4,789.9Q217.9,796.3 236.2,811.3Q255.6,827.1 274.8,852.3L273.3,853.3L271.9,854.3L270.4,855.4z"/>
<path fill="url(#e13)" stroke="url(#e13)" d="M274.8,852.3Q255.6,827.1 236.2,811.3Q217.9,796.3 199.4,789.9Q182.1,783.9 164.8,785.5Q148.7,786.9 132.7,795.1L135.6,793.6L138.6,792.2L141.6,790.8L144.6,789.5Q160.1,782.9 175.6,782.4Q192.2,781.9 208.8,788.3Q226.4,795.1 244,809.6Q262.4,824.9 280.6,848.7L279.2,849.6L277.7,850.5L276.3,851.4z"/>
<path fill="url(#e14)" stroke="url(#e14)" d="M280.6,848.7Q262.4,824.9 244,809.6Q226.4,795.1 208.8,788.3Q192.2,781.9 175.6,782.4Q160.1,782.9 144.6,789.5L147.6,788.3L150.6,787.1L153.7,785.9L156.8,784.8Q171.7,779.7 186.6,780.1Q202.5,780.6 218.3,787.4Q235,794.5 251.7,808.6Q269.1,823.3 286.4,845.7L284.9,846.4L283.5,847.1L282.1,847.9z"/>
<path fill="url(#e15)" stroke="url(#e15)" d="M286.4,845.7Q269.1,823.3 251.7,808.6Q235,794.5 218.3,787.4Q202.5,780.6 186.6,780.1Q171.7,779.7 156.8,784.8L159.8,783.8L162.9,782.8L166.1,781.9L169.2,781.1Q188.4,776.1 207.6,780.2Q228.2,784.7 248.7,799.6Q270.6,815.5 292.1,843.1L290.6,843.7L289.2,844.3L287.8,845z"/>
<path fill="url(#e16)" stroke="url(#e16)" d="M292.1,843.1Q270.6,815.5 248.7,799.6Q228.2,784.7 207.6,780.2Q188.4,776.1 169.2,781.1L172.3,780.3L175.5,779.6L178.7,778.9L181.9,778.3Q200.1,775.2 218.3,780.2Q237.7,785.5 257.1,800Q277.5,815.5 297.7,841.1L296.3,841.6L294.9,842.1L293.5,842.6z"/>
<path fill="url(#e17)" stroke="url(#e17)" d="M297.7,841.1Q277.5,815.5 257.1,800Q237.7,785.5 218.3,780.2Q200.1,775.2 181.9,778.3L185.1,777.8L188.3,777.4L191.5,777L194.8,776.7Q212,775.2 229.1,780.9Q247.3,787 265.4,801.1Q284.4,816 303.2,839.7L301.8,840L300.4,840.3L299.1,840.7z"/>
<path fill="url(#e18)" stroke="url(#e18)" d="M303.2,839.7Q284.4,816 265.4,801.1Q247.3,787 229.1,780.9Q212,775.2 194.8,776.7L198.1,776.4L201.4,776.3L204.7,776.2L208,776.2Q224.1,776.3 240.1,782.6Q257,789.3 273.7,802.8Q291.3,817.1 308.6,838.8L307.3,839L305.9,839.2L304.6,839.4z"/>
<path fill="url(#e19)" stroke="url(#e19)" d="M308.6,838.8Q291.3,817.1 273.7,802.8Q257,789.3 240.1,782.6Q224.1,776.3 208,776.2L211.3,776.2L214.7,776.4L218,776.6L221.4,776.9Q244,779.2 266.4,793.6Q290.5,809.2 314,838.5L312.7,838.5L311.3,838.6L310,838.7z"/>
<path fill="url(#e20)" stroke="url(#e20)" d="M314,838.5Q290.5,809.2 266.4,793.6Q244,779.2 221.4,776.9L224.8,777.3L228.2,777.8L231.6,778.3L235.1,779Q255.7,783 276.2,797.2Q297.9,812.3 319.3,838.7L317.9,838.6L316.6,838.5L315.3,838.5z"/>
<path fill="url(#e21)" stroke="url(#e21)" d="M319.3,838.7Q297.9,812.3 276.2,797.2Q255.7,783 235.1,779L238.5,779.7L242,780.5L245.5,781.4L248.9,782.4Q267.6,787.9 286,801.6Q305.4,816 324.4,839.5L323.2,839.2L321.9,839L320.6,838.8z"/>
<path fill="url(#e22)" stroke="url(#e22)" d="M324.4,839.5Q305.4,816 286,801.6Q267.6,787.9 248.9,782.4L252.5,783.5L256,784.7L259.5,785.9L263,787.3Q279.5,793.9 295.8,806.8Q312.8,820.3 329.5,840.8L328.3,840.4L327,840L325.7,839.7z"/>
<path fill="url(#e23)" stroke="url(#e23)" d="M329.5,840.8Q312.8,820.3 295.8,806.8Q279.5,793.9 263,787.3L266.6,788.8L270.2,790.3L273.7,792L277.3,793.8Q291.6,801 305.6,812.8Q320.2,825.2 334.6,842.6L333.3,842.1L332.1,841.6L330.8,841.2z"/>
</g>
<path fill="none" stroke="#000" stroke-width="0.42" d="M193.1,945.4Q173.6,916.3 154.2,897.5Q135.8,879.7 117.7,871.2Q100.6,863.3 83.8,863.7Q68.2,864.1 52.9,871.8M195.1,942.4Q175.6,913.3 156.2,894.6Q137.8,876.9 119.6,868.5Q102.5,860.6 85.8,861.1Q70.1,861.5 54.8,869.2M197.1,939.3Q177.6,910.4 158.2,891.8Q139.8,874.1 121.6,865.8Q104.5,858 87.7,858.5Q72,859 56.7,866.7M199.1,936.4Q179.6,907.6 160.1,889Q141.7,871.4 123.5,863.1Q106.4,855.4 89.6,855.9Q73.9,856.4 58.6,864.2M201,933.5Q181.6,904.7 162.1,886.2Q143.7,868.7 125.5,860.5Q108.4,852.8 91.5,853.4Q75.8,854 60.5,861.8M203,930.6Q183.5,901.9 164.1,883.5Q145.7,866 127.4,857.9Q110.3,850.3 93.5,850.9Q77.7,851.5 62.3,859.3M205,927.7Q185.5,899.2 166.1,880.8Q147.6,863.4 129.4,855.4Q112.2,847.8 95.4,848.5Q79.6,849.1 64.2,857M207,924.9Q187.5,896.4 168,878.2Q149.6,860.9 131.3,852.8Q114.2,845.3 97.3,846Q81.5,846.7 66.1,854.6M208.9,922.1Q189.4,893.8 170,875.6Q151.5,858.3 133.3,850.4Q116.1,842.9 99.2,843.7Q83.4,844.4 67.9,852.3M210.9,919.4Q191.4,891.1 171.9,873Q153.5,855.8 135.2,847.9Q118,840.5 101.1,841.3Q85.3,842.1 69.8,850M212.8,916.7Q193.4,888.5 173.9,870.5Q155.4,853.4 137.1,845.5Q119.9,838.2 103,839Q87.2,839.8 71.7,847.8M214.8,914.1Q195.3,886 175.8,868Q157.4,851 139.1,843.2Q121.9,835.9 104.9,836.8Q89.1,837.6 73.5,845.6M216.7,911.5Q197.2,883.5 177.8,865.6Q159.3,848.6 141,840.9Q123.8,833.6 106.8,834.5Q90.9,835.4 75.4,843.4M218.6,908.9Q199.2,881 179.7,863.2Q161.2,846.3 142.9,838.6Q125.7,831.4 108.7,832.4Q92.8,833.3 77.3,841.3M220.6,906.4Q201.1,878.6 181.6,860.8Q163.2,844 144.8,836.4Q127.6,829.2 110.6,830.2Q94.7,831.1 79.1,839.2M222.5,903.9Q203,876.2 183.5,858.5Q165.1,841.7 146.7,834.2Q129.5,827.1 112.5,828.1Q96.6,829.1 81,837.2M224.4,901.5Q205,873.8 185.5,856.2Q167,839.5 148.6,832Q131.4,825 114.3,826Q98.4,827 82.8,835.1M226.3,899.1Q206.9,871.5 187.4,854Q168.9,837.4 150.5,829.9Q133.3,822.9 116.2,824Q100.3,825 84.6,833.2M228.2,896.8Q208.8,869.3 189.3,851.8Q170.8,835.3 152.4,827.8Q135.2,820.9 118.1,822Q102.2,823.1 86.5,831.2M230.2,894.5Q210.7,867.1 191.2,849.7Q172.7,833.2 154.3,825.8Q137,818.9 120,820.1Q104,821.2 88.3,829.3M232.1,892.2Q212.6,864.9 193.1,847.6Q174.6,831.1 156.2,823.8Q138.9,817 121.8,818.2Q105.9,819.3 90.2,827.5M234,890Q214.5,862.8 195,845.5Q176.5,829.1 158.1,821.9Q140.8,815.1 123.7,816.3Q107.7,817.4 92,825.6M235.8,887.8Q216.4,860.7 196.9,843.5Q178.4,827.2 160,820Q142.7,813.2 125.6,814.5Q109.6,815.6 93.8,823.9M237.7,885.7Q218.3,858.6 198.8,841.5Q180.3,825.3 161.9,818.1Q144.6,811.4 127.4,812.7Q111.4,813.9 95.6,822.1M239.6,883.6Q220.2,856.6 200.7,839.6Q182.2,823.4 163.7,816.3Q146.4,809.6 129.3,810.9Q113.3,812.2 97.5,820.4M241.5,881.6Q222.1,854.7 202.5,837.7Q184.1,821.6 165.6,814.5Q148.3,807.9 131.1,809.2Q115.1,810.5 99.3,818.7M243.3,879.6Q223.9,852.8 204.4,835.8Q185.9,819.8 167.5,812.8Q150.1,806.2 133,807.6Q116.9,808.9 101.1,817.1M245.2,877.6Q225.8,850.9 206.3,834Q187.8,818.1 169.3,811.1Q152,804.5 134.8,805.9Q118.8,807.3 102.9,815.5M247.1,875.7Q227.7,849.1 208.1,832.3Q189.7,816.4 171.2,809.5Q153.8,802.9 136.6,804.4Q120.6,805.7 104.7,814M248.9,873.9Q229.5,847.3 210,830.6Q191.5,814.7 173,807.9Q155.7,801.4 138.5,802.8Q122.4,804.2 106.5,812.5M250.8,872.1Q231.4,845.6 211.9,828.9Q193.4,813.1 174.9,806.3Q157.5,799.8 140.3,801.3Q124.2,802.7 108.3,811M252.6,870.3Q233.2,843.9 213.7,827.3Q195.2,811.6 176.7,804.8Q159.4,798.4 142.1,799.9Q126,801.3 110.1,809.6M254.4,868.6Q235.1,842.3 215.5,825.7Q197.1,810.1 178.6,803.3Q161.2,796.9 144,798.5Q127.8,799.9 111.9,808.2M256.3,866.9Q236.9,840.7 217.4,824.2Q198.9,808.6 180.4,801.9Q163,795.6 145.8,797.1Q129.7,798.5 113.7,806.9M258.1,865.3Q238.7,839.1 219.2,822.7Q200.7,807.2 182.2,800.5Q164.9,794.2 147.6,795.8Q131.5,797.2 115.5,805.5M259.9,863.7Q240.6,837.6 221,821.3Q202.6,805.8 184.1,799.2Q166.7,792.9 149.4,794.5Q133.3,796 117.3,804.3M261.7,862.1Q242.4,836.2 222.9,819.9Q204.4,804.5 185.9,797.9Q168.5,791.6 151.2,793.3Q135.1,794.8 119.1,803.1M263.5,860.7Q244.2,834.8 224.7,818.5Q206.2,803.2 187.7,796.6Q170.3,790.4 153,792.1Q136.8,793.6 120.8,801.9M265.3,859.2Q246,833.4 226.5,817.2Q208,801.9 189.5,795.4Q172.1,789.3 154.8,790.9Q138.6,792.4 122.6,800.8M267.1,857.8Q247.8,832.1 228.3,816Q209.8,800.7 191.3,794.2Q173.9,788.1 156.6,789.8Q140.4,791.3 124.4,799.7M268.9,856.5Q249.6,830.8 230.1,814.8Q211.6,799.6 193.1,793.1Q175.7,787.1 158.4,788.7Q142.2,790.3 126.1,798.6M270.7,855.2Q251.4,829.6 231.9,813.6Q213.4,798.5 194.9,792.1Q177.5,786 160.2,787.7Q144,789.3 127.9,797.6M272.4,853.9Q253.2,828.4 233.7,812.5Q215.2,797.4 196.7,791Q179.3,785 161.9,786.7Q145.7,788.3 129.7,796.6M274.2,852.7Q255,827.3 235.5,811.5Q217,796.5 198.5,790.1Q181.1,784.1 163.8,785.8Q147.6,787.4 131.5,795.7M276,851.6Q257,826.6 237.8,810.9Q219.6,796 201.3,789.5Q184.1,783.4 167,784.8Q151,786.1 135,793.9M277.7,850.5Q259,825.9 240.1,810.4Q222.2,795.6 204.1,789Q187.2,782.8 170.2,783.8Q154.4,784.8 138.6,792.2M279.5,849.4Q261.1,825.3 242.4,809.9Q224.7,795.3 207,788.6Q190.2,782.2 173.5,783Q157.8,783.6 142.2,790.6M281.2,848.4Q263.1,824.7 244.7,809.5Q227.3,795 209.8,788.2Q193.3,781.7 176.7,782.1Q161.2,782.5 145.8,789M282.9,847.4Q265.1,824.2 247.1,809.1Q229.9,794.8 212.6,787.8Q196.3,781.3 180,781.4Q164.7,781.5 149.4,787.5M284.7,846.5Q267.1,823.7 249.4,808.8Q232.5,794.6 215.5,787.6Q199.4,780.9 183.3,780.7Q168.2,780.6 153.1,786.1M286.4,845.7Q269.1,823.3 251.7,808.6Q235,794.5 218.3,787.4Q202.5,780.6 186.6,780.1Q171.7,779.7 156.8,784.8M288.1,844.8Q271.2,822.9 254,808.3Q237.6,794.4 221.2,787.2Q205.5,780.4 189.9,779.6Q175.2,778.9 160.5,783.6M289.8,844.1Q267.8,815.7 245.4,799.6Q224.4,784.6 203.3,780.5Q183.7,776.7 164.2,782.5M291.5,843.3Q269.9,815.5 247.9,799.6Q227.3,784.6 206.5,780.3Q187.2,776.2 167.9,781.4M293.2,842.7Q272,815.5 250.4,799.6Q230.1,784.8 209.7,780.2Q190.7,775.8 171.7,780.4M294.9,842.1Q274.1,815.4 252.9,799.7Q233,785 212.9,780.1Q194.2,775.5 175.5,779.6M296.5,841.5Q276.1,815.4 255.4,799.9Q235.8,785.3 216.1,780.1Q197.7,775.3 179.3,778.8M298.2,841Q278.2,815.5 257.9,800.1Q238.7,785.6 219.4,780.2Q201.3,775.1 183.1,778.1M299.9,840.5Q280.3,815.6 260.4,800.4Q241.6,786 222.6,780.4Q204.8,775.1 187,777.5M301.5,840.1Q282.4,815.8 262.9,800.7Q244.4,786.5 225.9,780.6Q208.4,775.1 190.9,777.1M303.2,839.7Q284.4,816 265.4,801.1Q247.3,787 229.1,780.9Q212,775.2 194.8,776.7M304.8,839.4Q286.5,816.3 267.9,801.6Q250.2,787.6 232.4,781.4Q215.6,775.4 198.7,776.4M306.5,839.1Q288.6,816.6 270.4,802.1Q253.1,788.3 235.7,781.8Q219.2,775.7 202.7,776.2M308.1,838.9Q290.6,816.9 272.9,802.6Q256,789 239,782.4Q222.8,776.1 206.7,776.2M309.7,838.7Q292.7,817.4 275.4,803.3Q258.9,789.8 242.3,783.1Q226.5,776.6 210.7,776.2M311.3,838.6Q294.7,817.8 277.9,803.9Q261.8,790.7 245.6,783.8Q230.2,777.2 214.7,776.4M312.9,838.5Q296.8,818.3 280.4,804.7Q264.7,791.7 248.9,784.6Q233.8,777.9 218.7,776.7M314.5,838.5Q291.2,809.4 267.4,794Q245.2,779.5 222.8,777.1M316.1,838.5Q293.5,810.3 270.3,795Q248.7,780.6 226.8,777.6M317.7,838.6Q295.7,811.3 273.2,796.1Q252.2,781.8 230.9,778.2M319.3,838.7Q297.9,812.3 276.2,797.2Q255.7,783 235.1,779M320.8,838.9Q300.2,813.4 279.1,798.4Q259.3,784.4 239.2,779.8M322.4,839.1Q302.4,814.5 282,799.7Q262.8,785.8 243.4,780.8M323.9,839.3Q304.7,815.6 285,801.1Q266.4,787.4 247.5,782M325.5,839.7Q306.9,816.8 287.9,802.6Q269.9,789 251.7,783.3M327,840Q309.1,818.1 290.9,804.1Q273.5,790.8 256,784.7M328.5,840.5Q311.3,819.4 293.8,805.7Q277.1,792.6 260.2,786.2M330,840.9Q313.6,820.8 296.7,807.4Q280.7,794.5 264.5,787.9M331.6,841.5Q315.8,822.2 299.7,809.1Q284.3,796.6 268.7,789.7M333.1,842Q318,823.7 302.6,810.9Q287.9,798.7 273,791.7M334.6,842.6Q320.2,825.2 305.6,812.8Q291.6,801 277.3,793.8M193.1,945.4Q213.4,914.2 232.1,892.2Q251.3,869.6 268.9,856.5Q286.8,843.2 303.2,839.7Q319.7,836.2 334.6,842.6M191.1,942.4Q211.4,911.3 230.1,889.4Q249.3,866.9 266.9,853.9Q284.9,840.7 301.2,837.2Q317.7,833.8 332.6,840.3M189.1,939.6Q209.4,908.5 228.1,886.7Q247.3,864.3 264.9,851.3Q282.9,838.2 299.3,834.9Q315.8,831.5 330.7,838.1M187.1,936.7Q207.4,905.8 226.1,884.1Q245.3,861.7 263,848.8Q280.9,835.8 297.3,832.5Q313.9,829.2 328.8,835.9M185.2,934Q205.5,903.1 224.1,881.5Q243.3,859.2 261,846.4Q279,833.4 295.4,830.2Q311.9,827 326.9,833.7M183.2,931.2Q203.5,900.5 222.2,878.9Q241.4,856.7 259,844Q277,831.1 293.5,828Q310,824.9 325,831.6M181.2,928.6Q201.5,897.9 220.2,876.5Q239.4,854.3 257.1,841.7Q275.1,828.9 291.5,825.8Q308.1,822.8 323.1,829.6M179.3,926Q199.5,895.4 218.2,874Q237.4,852 255.1,839.4Q273.1,826.7 289.6,823.7Q306.2,820.7 321.2,827.6M177.3,923.5Q197.6,893 216.3,871.7Q235.5,849.7 253.2,837.2Q271.2,824.5 287.7,821.6Q304.2,818.7 319.3,825.6M175.3,921Q195.6,890.6 214.3,869.4Q233.5,847.5 251.2,835.1Q269.2,822.5 285.7,819.6Q302.3,816.7 317.4,823.7M173.4,918.6Q193.7,888.3 212.4,867.1Q231.6,845.3 249.3,833Q267.3,820.4 283.8,817.6Q300.4,814.8 315.5,821.9M171.5,916.2Q191.7,886 210.4,864.9Q229.6,843.2 247.4,830.9Q265.4,818.4 281.9,815.7Q298.5,812.9 313.6,820M169.5,913.9Q189.8,883.8 208.5,862.8Q227.7,841.1 245.4,828.9Q263.4,816.5 280,813.8Q296.6,811.1 311.7,818.3M167.6,911.6Q187.8,881.6 206.5,860.7Q225.8,839.1 243.5,827Q261.5,814.6 278.1,812Q294.7,809.4 309.8,816.6M165.7,909.5Q185.9,879.5 204.6,858.6Q223.8,837.1 241.6,825.1Q259.6,812.8 276.1,810.2Q292.8,807.6 308,814.9M163.7,907.3Q184,877.5 202.7,856.7Q221.9,835.2 239.6,823.2Q257.7,811 274.2,808.5Q290.9,806 306.1,813.3M161.8,905.2Q182.1,875.5 200.7,854.7Q220,833.4 237.7,821.4Q255.8,809.3 272.3,806.8Q289,804.4 304.2,811.7M159.9,903.2Q180.1,873.5 198.8,852.9Q218.1,831.6 235.8,819.7Q253.8,807.6 270.4,805.2Q287.1,802.8 302.3,810.2M158,901.2Q178.2,871.6 196.9,851Q216.1,829.8 233.9,818Q251.9,806 268.5,803.6Q285.2,801.3 300.5,808.7M156.1,899.3Q176.3,869.8 195,849.3Q214.2,828.1 232,816.4Q250,804.4 266.6,802.1Q283.4,799.8 298.6,807.2M154.2,897.5Q174.4,868 193.1,847.6Q212.3,826.5 230.1,814.8Q248.1,802.9 264.8,800.6Q281.5,798.3 296.7,805.8M152.3,895.7Q172.5,866.3 191.2,845.9Q210.4,824.9 228.2,813.3Q246.3,801.4 262.9,799.2Q279.6,797 294.9,804.5M150.4,893.9Q170.6,864.6 189.3,844.3Q208.5,823.4 226.3,811.8Q244.4,800 261,797.8Q277.7,795.6 293,803.2M148.6,892.2Q168.8,863 187.4,842.7Q206.6,821.9 224.4,810.3Q242.5,798.6 259.1,796.5Q275.9,794.3 291.2,801.9M146.7,890.6Q166.9,861.4 185.5,841.2Q204.8,820.4 222.5,808.9Q240.6,797.3 257.2,795.2Q274,793.1 289.3,800.7M144.8,889Q165,859.9 183.7,839.8Q202.9,819 220.6,807.6Q238.7,796 255.4,793.9Q272.1,791.9 287.5,799.5M143,887.4Q163.1,858.4 181.8,838.4Q201,817.7 218.8,806.3Q236.9,794.7 253.5,792.7Q270.3,790.7 285.6,798.4M141.1,886Q161.3,857 179.9,837Q199.1,816.4 216.9,805.1Q235,793.5 251.7,791.6Q268.4,789.6 283.8,797.3M139.3,884.5Q159.4,855.7 178.1,835.7Q197.3,815.2 215,803.9Q233.1,792.4 249.8,790.5Q266.6,788.5 282,796.2M137.4,883.1Q157.6,854.3 176.2,834.4Q195.4,814 213.2,802.7Q231.3,791.3 247.9,789.4Q264.8,787.5 280.1,795.2M135.6,881.8Q155.7,853.1 174.4,833.2Q193.6,812.8 211.3,801.6Q229.4,790.2 246.1,788.4Q262.9,786.5 278.3,794.3M133.8,880.5Q153.8,852 172.4,832.2Q191.5,811.9 209.2,800.7Q227.2,789.4 243.9,787.4Q260.6,785.5 276,793.1M132,879.3Q151.8,851.1 170.2,831.5Q189.2,811.3 206.8,800.1Q224.7,788.7 241.2,786.6Q257.9,784.5 273.2,791.7M130.2,878.1Q149.8,850.2 168.1,830.7Q186.9,810.7 204.3,799.5Q222.1,788.1 238.5,785.8Q255.1,783.5 270.3,790.4M128.4,877Q147.9,849.4 166,830.1Q184.6,810.2 201.9,799Q219.5,787.6 235.9,785.1Q252.3,782.6 267.5,789.2M126.6,875.9Q145.9,848.6 163.8,829.4Q182.3,809.7 199.5,798.5Q217,787.1 233.2,784.4Q249.6,781.7 264.6,788M124.8,874.9Q143.9,847.8 161.7,828.8Q180,809.3 197.1,798.1Q214.4,786.6 230.5,783.8Q246.8,780.9 261.8,786.8M123,873.9Q141.9,847.2 159.6,828.3Q177.7,808.9 194.6,797.7Q211.9,786.3 227.9,783.2Q244,780.2 258.9,785.7M121.2,872.9Q140,846.5 157.4,827.8Q175.4,808.6 192.2,797.4Q209.3,785.9 225.2,782.7Q241.2,779.5 256.1,784.7M119.4,872.1Q138,845.9 155.3,827.4Q173.2,808.3 189.8,797.1Q206.7,785.6 222.5,782.3Q238.4,778.9 253.2,783.7M117.7,871.2Q136.1,845.4 153.2,827Q170.9,808.1 187.4,796.8Q204.2,785.4 219.8,781.9Q235.6,778.3 250.3,782.8M115.9,870.4Q134.1,844.9 151.1,826.7Q168.6,807.9 185,796.6Q201.6,785.2 217.2,781.5Q232.9,777.8 247.4,781.9M114.2,869.7Q132.2,844.5 149,826.4Q166.3,807.7 182.6,796.5Q199.1,785 214.5,781.2Q230.1,777.3 244.5,781.2M112.4,869Q130.2,844.1 146.9,826.1Q164.1,807.6 180.1,796.4Q196.5,784.9 211.8,780.9Q227.3,776.9 241.7,780.4M110.7,868.3Q128.3,843.7 144.8,825.9Q161.8,807.6 177.7,796.3Q194,784.9 209.1,780.7Q224.5,776.5 238.8,779.7M108.9,867.7Q126.4,843.4 142.7,825.7Q159.6,807.6 175.3,796.3Q191.4,784.9 206.5,780.6Q221.7,776.2 235.9,779.1M107.2,867.1Q130.3,835 151.6,814.4Q173.5,793.3 193.7,784.3Q214.2,775.1 233,778.5M105.5,866.6Q128.4,834.8 149.4,814.5Q171.1,793.4 191.1,784.3Q211.4,775 230,778M103.8,866.1Q126.4,834.8 147.2,814.5Q168.7,793.6 188.5,784.4Q208.6,775 227.1,777.6M102.1,865.7Q124.4,834.7 145,814.6Q166.3,793.9 185.9,784.5Q205.9,775 224.2,777.2M100.4,865.3Q122.5,834.7 142.8,814.8Q163.9,794.2 183.3,784.7Q203.1,775.1 221.3,776.9M98.7,865Q120.5,834.8 140.7,815Q161.5,794.5 180.7,784.9Q200.3,775.2 218.4,776.6M97,864.7Q118.6,834.9 138.5,815.2Q159.1,794.9 178.1,785.2Q197.5,775.4 215.4,776.4M95.4,864.4Q116.6,835 136.4,815.5Q156.7,795.4 175.6,785.6Q194.8,775.6 212.5,776.3M93.7,864.2Q114.7,835.2 134.2,815.8Q154.3,795.8 173,785.9Q192,775.9 209.6,776.2M92,864Q112.8,835.4 132,816.2Q151.9,796.4 170.4,786.4Q189.2,776.2 206.6,776.2M90.4,863.9Q110.9,835.6 129.9,816.6Q149.5,796.9 167.8,786.9Q186.4,776.6 203.7,776.2M88.7,863.8Q109,835.9 127.8,817Q147.2,797.6 165.2,787.4Q183.6,777 200.7,776.3M87.1,863.7Q107,836.3 125.6,817.5Q144.8,798.2 162.6,788Q180.8,777.5 197.7,776.5M85.5,863.7Q105.1,836.6 123.5,818.1Q142.4,798.9 160,788.6Q178,778.1 194.8,776.7M83.8,863.7Q103.3,837.1 121.4,818.6Q140,799.7 157.5,789.3Q175.2,778.7 191.8,777M82.2,863.8Q101.4,837.5 119.2,819.3Q137.6,800.5 154.9,790Q172.4,779.3 188.8,777.3M80.6,863.9Q99.5,838 117.1,819.9Q135.3,801.3 152.3,790.8Q169.6,780.1 185.9,777.7M79,864Q97.6,838.5 115,820.6Q132.9,802.2 149.7,791.6Q166.8,780.8 182.9,778.2M77.4,864.2Q95.7,839.1 112.9,821.4Q130.6,803.1 147.1,792.5Q164,781.6 179.9,778.7M75.8,864.4Q93.9,839.7 110.8,822.1Q128.2,804.1 144.6,793.4Q161.2,782.5 176.9,779.3M74.3,864.6Q92,840.3 108.7,823Q125.8,805.1 142,794.4Q158.4,783.4 173.9,779.9M72.7,864.9Q90.2,841 106.6,823.8Q123.5,806.1 139.4,795.4Q155.6,784.4 170.9,780.6M71.1,865.3Q88.3,841.7 104.5,824.7Q121.1,807.2 136.8,796.4Q152.8,785.5 167.9,781.4M69.6,865.6Q86.5,842.5 102.4,825.7Q118.8,808.4 134.2,797.6Q150,786.5 164.9,782.3M68,866Q84.6,843.3 100.3,826.6Q116.4,809.5 131.7,798.7Q147.2,787.7 161.8,783.2M66.5,866.4Q82.8,844.1 98.2,827.7Q114.1,810.8 129.1,799.9Q144.4,788.9 158.8,784.1M64.9,866.9Q89.2,833.8 111.4,813.6Q134.5,792.6 155.8,785.2M63.4,867.4Q87.2,834.9 109.1,814.8Q131.8,794 152.8,786.3M61.9,867.9Q85.2,836 106.8,816.1Q129.1,795.5 149.7,787.4M60.4,868.5Q83.3,837.2 104.5,817.5Q126.4,797 146.7,788.6M58.9,869.1Q81.3,838.4 102.1,818.8Q123.7,798.6 143.6,789.9M57.4,869.7Q79.4,839.7 99.8,820.3Q120.9,800.2 140.6,791.3M55.9,870.4Q77.5,840.9 97.5,821.7Q118.2,801.9 137.5,792.7M54.4,871.1Q75.5,842.2 95.2,823.2Q115.5,803.6 134.4,794.2M52.9,871.8Q73.6,843.6 92.9,824.8Q112.8,805.4 131.3,795.8"/>
<path fill="none" stroke="#000" stroke-width="0.8" stroke-linejoin="round" d="M131.3,795.8L133.4,794.7L135.4,793.7L137.5,792.7L139.5,791.8L141.6,790.8L143.6,789.9L145.6,789.1L147.7,788.2L149.7,787.4L151.7,786.6L153.8,785.9L155.8,785.2L157.8,784.5L159.8,783.8L161.8,783.2L163.9,782.5L165.9,782L167.9,781.4L169.9,780.9L171.9,780.4L173.9,779.9L176.8,779.3L179.3,778.8L181.9,778.3L184.4,777.9L187,777.5L189.6,777.2L191.8,777L194.8,776.7L197.4,776.5L199.7,776.3L202.7,776.2L205.3,776.2L207.6,776.2L210.7,776.2L213.3,776.3L215.4,776.4L218.7,776.7L221.3,776.9L224.1,777.2L226.8,777.6L229.1,777.9L232.3,778.4L234.9,778.9L237.8,779.5L240.6,780.2L242.6,780.7L246.2,781.6L248.4,782.2L251.7,783.3L254.1,784L257.4,785.2L259.9,786.1L263,787.3L265.6,788.3L268.7,789.7L271.3,790.9L274.5,792.4L277,793.6L277.3,793.8"/>
<circle cx="48.5" cy="771.1" r="1.5"/><circle cx="49.6" cy="797.2" r="1.5"/><circle cx="50.8" cy="823.3" r="1.5"/><circle cx="51.9" cy="849.4" r="1.5"/><circle cx="53.1" cy="875.5" r="1.5"/><circle cx="54.2" cy="901.6" r="1.5"/><circle cx="55.4" cy="927.7" r="1.5"/><circle cx="193.1" cy="1048.5" r="1.5"/><circle cx="159.2" cy="1030.5" r="1.5"/><circle cx="125.3" cy="1012.6" r="1.5"/><circle cx="91.4" cy="994.7" r="1.5"/><circle cx="57.6" cy="976.8" r="1.5"/><circle cx="227" cy="1030.5" r="1.5"/><circle cx="260.9" cy="1012.6" r="1.5"/><circle cx="294.8" cy="994.7" r="1.5"/><circle cx="328.6" cy="976.8" r="1.5"/>
<text transform="translate(42.7,768.5) scale(0.8531,1)" text-anchor="end" font-size="12.0">60.0</text>
<text transform="translate(43.9,794.6) scale(0.8531,1)" text-anchor="end" font-size="12.0">53.3</text>
<text transform="translate(45,820.7) scale(0.8531,1)" text-anchor="end" font-size="12.0">46.7</text>
<text transform="translate(46.2,846.8) scale(0.8531,1)" text-anchor="end" font-size="12.0">40.0</text>
<text transform="translate(47.3,872.9) scale(0.8531,1)" text-anchor="end" font-size="12.0">33.3</text>
<text transform="translate(48.5,899) scale(0.8531,1)" text-anchor="end" font-size="12.0">26.7</text>
<text transform="translate(49.6,925.1) scale(0.8531,1)" text-anchor="end" font-size="12.0">20.0</text>
<text transform="translate(187.8,1060.8) scale(0.8531,1)" text-anchor="end" font-size="12.0">-1.00</text>
<text transform="translate(153.9,1042.8) scale(0.8531,1)" text-anchor="end" font-size="12.0">-0.50</text>
<text transform="translate(120,1024.9) scale(0.8531,1)" text-anchor="end" font-size="12.0">0.00</text>
<text transform="translate(86.2,1007) scale(0.8531,1)" text-anchor="end" font-size="12.0">0.50</text>
<text transform="translate(52.3,989.1) scale(0.8531,1)" text-anchor="end" font-size="12.0">1.00</text>
<text transform="translate(198.4,1060.8) scale(0.8531,1)" text-anchor="start" font-size="12.0">-1.00</text>
<text transform="translate(232.3,1042.8) scale(0.8531,1)" text-anchor="start" font-size="12.0">-0.50</text>
<text transform="translate(266.2,1024.9) scale(0.8531,1)" text-anchor="start" font-size="12.0">0.00</text>
<text transform="translate(300,1007) scale(0.8531,1)" text-anchor="start" font-size="12.0">0.50</text>
<text transform="translate(333.9,989.1) scale(0.8531,1)" text-anchor="start" font-size="12.0">1.00</text>
<text transform="translate(72.8,1049.1) scale(0.7804,1)" text-anchor="middle" font-size="17.7">Solid-liquid ratio</text>
<text transform="translate(313.5,1049.1) scale(0.7804,1)" text-anchor="middle" font-size="17.7">Extraction temperature</text>
<text transform="translate(10.7,876.9) rotate(-90) scale(1.2813,1)" text-anchor="middle" font-size="13.81">Extraction yield</text>
<text x="1.3" y="750.7" font-size="16" font-weight="bold" style="fill:#e8000d">(e)</text>
</g>
<g>
<path fill="none" stroke="#333" stroke-width=".8" d="M449.8,775.9L592.7,740.1 735.6,775.9M450.9,801.8L592.7,763.5 734.5,801.8M452.1,827.8L592.7,786.8 733.3,827.8M453.2,853.8L592.7,810.2 732.2,853.8M454.3,879.7L592.7,833.6 731.1,879.7M455.5,905.7L592.7,857 729.9,905.7M456.6,931.7L592.7,880.3 728.8,931.7M485.5,766.9L490.6,918.8M628.4,749L626.7,893.2M521.2,758L524.7,906M664.2,758L660.7,906M557,749L558.7,893.2M699.9,766.9L694.8,918.8M449.8,775.9L458.8,980.5M592.7,740.1L592.7,924.6M735.6,775.9L726.6,980.5"/>
<path fill="#ff0" stroke="#222" stroke-width=".7" d="M458.8,980.5 L592.7,1051.9 726.6,980.5 592.7,924.6z"/>
<path fill="none" stroke="#f85a00" stroke-width="1.0" d="M611.3,967.8L611.1,967.6L610.8,967.5L610.5,967.4L610.2,967.3L609.9,967.2L609.6,967.1L609.2,967.1L608.9,967L608.6,966.9L608.2,966.8L607.9,966.7L607.6,966.7L607.2,966.6L606.9,966.6L606.5,966.5L606.1,966.5L605.8,966.4L605.4,966.4L605,966.3L604.7,966.3L604.3,966.3L603.9,966.3L603.5,966.3L603.2,966.3L602.8,966.3L602.4,966.3L602,966.3L601.6,966.3L601.3,966.3L600.9,966.4L600.5,966.4L600.1,966.4L599.7,966.5L599.4,966.5L599,966.6L598.6,966.7L598.3,966.7L597.9,966.8L597.6,966.9L597.2,967L596.9,967.1L596.6,967.2L596.3,967.3L596,967.4L595.7,967.5L595.4,967.7L595.1,967.8L594.8,967.9L594.6,968.1L594.3,968.2L594.1,968.4L593.9,968.5L593.7,968.7L593.5,968.8L593.3,969L593.2,969.2L593,969.4L592.9,969.5L592.8,969.7L592.7,969.9L592.6,970.1L592.5,970.2L592.5,970.4L592.5,970.6L592.4,970.8L592.4,971L592.4,971.2L592.5,971.3L592.5,971.5L592.5,971.7L592.6,971.9L592.7,972.1L592.8,972.2L592.9,972.4L593,972.6L593.1,972.8L593.3,972.9L593.4,973.1L593.6,973.3L593.8,973.4L594,973.6L594.2,973.7L594.4,973.9L594.6,974L594.8,974.2L595.1,974.3L595.3,974.4L595.6,974.6L595.8,974.7L596.1,974.8L596.4,974.9L596.7,975.1L597,975.2L597.3,975.3L597.6,975.4L597.9,975.5L598.3,975.6L598.6,975.7L598.9,975.8L599.3,975.8L599.6,975.9L600,976L600.3,976L600.7,976.1L601.1,976.2L601.5,976.2L601.8,976.2L602.2,976.3L602.6,976.3L603,976.3L603.4,976.4L603.8,976.4L604.1,976.4L604.5,976.4L604.9,976.4L605.3,976.4L605.7,976.4L606.1,976.3L606.5,976.3L606.9,976.3L607.3,976.2L607.6,976.2L608,976.1L608.4,976.1L608.8,976L609.1,975.9L609.5,975.9L609.9,975.8L610.2,975.7L610.5,975.6L610.9,975.5L611.2,975.4L611.5,975.3L611.8,975.1L612.1,975L612.4,974.9L612.7,974.8L612.9,974.6L613.2,974.5L613.4,974.3L613.7,974.2L613.9,974L614.1,973.8L614.2,973.7L614.4,973.5L614.6,973.3L614.7,973.2L614.8,973L614.9,972.8L615,972.6L615.1,972.4L615.1,972.3L615.2,972.1L615.2,971.9L615.2,971.7L615.2,971.5L615.2,971.3L615.2,971.2L615.1,971L615.1,970.8L615,970.6L614.9,970.4L614.8,970.3L614.7,970.1L614.6,969.9L614.4,969.8L614.3,969.6L614.1,969.4L613.9,969.3L613.7,969.1L613.5,969L613.3,968.8L613.1,968.7L612.9,968.5L612.6,968.4L612.4,968.3L612.1,968.1L611.9,968L611.6,967.9L611.3,967.8"/>
<path fill="none" stroke="#ffb400" stroke-width="1.0" d="M628.6,959.7L627.7,959.4L626.7,959L625.7,958.7L624.7,958.4L623.7,958.1L622.6,957.8L621.6,957.5L620.5,957.2L619.4,956.9L618.3,956.7L617.2,956.5L616,956.3L614.9,956.1L613.7,955.9L612.6,955.7L611.4,955.5L610.2,955.4L609,955.3L607.8,955.2L606.6,955.1L605.3,955L604.1,954.9L602.9,954.9L601.6,954.9L600.4,954.9L599.1,954.9L597.8,954.9L596.6,954.9L595.3,955L594.1,955.1L592.8,955.2L591.5,955.3L590.3,955.5L589.1,955.6L587.8,955.8L586.6,956L585.4,956.2L584.2,956.5L583,956.8L581.9,957.1L580.8,957.4L579.7,957.7L578.6,958.1L577.5,958.4L576.5,958.8L575.5,959.2L574.6,959.7L573.7,960.1L572.8,960.6L572,961.1L571.2,961.6L570.4,962.1L569.7,962.6L569.1,963.1L568.4,963.7L567.9,964.3L567.4,964.8L566.9,965.4L566.5,966L566.1,966.6L565.8,967.2L565.6,967.8L565.4,968.5L565.2,969.1L565.1,969.7L565,970.3L565,970.9L565,971.6L565.1,972.2L565.2,972.8L565.4,973.4L565.6,974L565.9,974.6L566.2,975.3L566.6,975.9L567,976.4L567.4,977L567.9,977.6L568.4,978.2L569,978.8L569.6,979.3L570.2,979.9L570.9,980.4L571.6,980.9L572.4,981.4L573.2,981.9L574,982.4L574.9,982.9L575.8,983.4L576.7,983.8L577.7,984.3L578.7,984.7L579.7,985.1L580.8,985.5L581.9,985.9L583,986.2L584.1,986.6L585.3,986.9L586.5,987.2L587.7,987.5L588.9,987.8L590.2,988L591.5,988.2L592.8,988.4L594.1,988.6L595.4,988.8L596.7,989L598.1,989.1L599.4,989.2L600.8,989.3L602.2,989.3L603.5,989.4L604.9,989.4L606.3,989.4L607.7,989.4L609.1,989.3L610.4,989.3L611.8,989.2L613.2,989L614.5,988.9L615.9,988.7L617.2,988.6L618.5,988.4L619.8,988.1L621.1,987.9L622.3,987.6L623.6,987.3L624.8,987L626,986.7L627.2,986.3L628.3,986L629.4,985.6L630.5,985.2L631.5,984.7L632.5,984.3L633.5,983.8L634.4,983.3L635.3,982.8L636.1,982.3L636.9,981.8L637.6,981.3L638.3,980.7L639,980.1L639.6,979.6L640.1,979L640.6,978.4L641,977.8L641.4,977.2L641.8,976.6L642,975.9L642.3,975.3L642.4,974.7L642.5,974.1L642.6,973.4L642.6,972.8L642.5,972.2L642.4,971.6L642.3,970.9L642.1,970.3L641.8,969.7L641.5,969.1L641.2,968.5L640.8,967.9L640.3,967.4L639.8,966.8L639.3,966.2L638.8,965.7L638.2,965.2L637.5,964.6L636.9,964.1L636.2,963.6L635.4,963.2L634.7,962.7L633.9,962.2L633.1,961.8L632.2,961.3L631.4,960.9L630.5,960.5L629.6,960.1L628.6,959.7"/>
<path fill="none" stroke="#5aeb28" stroke-width="1.2" d="M648.4,950.6L646.6,949.9L644.9,949.3L643,948.7L641.2,948.2L639.3,947.6L637.4,947.1L635.5,946.6L633.6,946.1L631.6,945.7L629.6,945.3L627.6,944.9L625.6,944.5L623.5,944.1L621.5,943.8L619.4,943.5L617.3,943.2L615.2,943L613,942.8L610.9,942.6L608.7,942.4L606.5,942.2L604.3,942.1L602.1,942L599.8,942L597.6,941.9L595.4,941.9L593.1,941.9L590.8,942L588.5,942.1L586.3,942.2L584,942.4L581.7,942.6L579.4,942.8L577.2,943.1L574.9,943.4L572.7,943.7L570.5,944.1L568.3,944.5L566.1,945L564,945.5L561.9,946L559.8,946.6L557.8,947.2L555.9,947.9L554,948.6L552.1,949.3L550.3,950.1L548.6,950.9L546.9,951.7L545.4,952.6L543.9,953.5L542.4,954.4L541.1,955.4L539.8,956.3L538.6,957.3L537.5,958.4L536.5,959.4L535.6,960.5L534.8,961.6L534,962.7L533.4,963.8L532.8,964.9L532.4,966.1L532,967.2L531.7,968.4L531.4,969.5L531.3,970.7L531.3,971.8L531.3,973L531.5,974.2L531.7,975.3L532,976.5L532.4,977.6L532.8,978.8L533.4,979.9L534,981.1L534.7,982.2L535.5,983.4L536.4,984.5L537.3,985.6L538.4,986.7L539.5,987.7L540.7,988.8L541.9,989.8L543.3,990.9L544.7,991.9L546.2,992.9L547.8,993.8L549.4,994.8L551.2,995.7L553,996.6L554.8,997.4L556.8,998.3L558.8,999.1L560.9,999.9L563,1000.6L565.2,1001.3L567.5,1002L569.8,1002.6L572.1,1003.2L574.6,1003.7L577,1004.2L579.5,1004.7L582.1,1005.1L584.6,1005.5L587.2,1005.8L589.9,1006.1L592.5,1006.3L595.2,1006.5L597.9,1006.6L600.6,1006.7L603.3,1006.8L606,1006.8L608.7,1006.7L611.3,1006.6L614,1006.5L616.7,1006.3L619.3,1006.1L622,1005.8L624.6,1005.5L627.1,1005.2L629.7,1004.8L632.2,1004.3L634.6,1003.8L637.1,1003.3L639.4,1002.7L641.8,1002.1L644.1,1001.5L646.3,1000.8L648.5,1000.1L650.6,999.4L652.6,998.6L654.6,997.8L656.5,996.9L658.3,996L660.1,995.1L661.8,994.2L663.4,993.2L664.9,992.2L666.3,991.2L667.7,990.2L668.9,989.1L670.1,988L671.2,986.9L672.1,985.8L673,984.7L673.7,983.5L674.4,982.4L674.9,981.2L675.4,980L675.7,978.9L675.9,977.7L676.1,976.5L676.1,975.3L676,974.1L675.8,973L675.5,971.8L675.1,970.7L674.7,969.5L674.1,968.4L673.4,967.3L672.7,966.2L671.8,965.2L670.9,964.1L669.9,963.1L668.9,962.1L667.8,961.1L666.6,960.1L665.3,959.2L664,958.3L662.7,957.4L661.2,956.5L659.8,955.7L658.3,954.9L656.7,954.1L655.1,953.4L653.5,952.6L651.8,951.9L650.1,951.2L648.4,950.6"/>
<path fill="none" stroke="#5adcaa" stroke-width="1.1" d="M476.5,974.3L476.4,976.4L476.4,978.4L476.6,980.5L477,982.6L477.4,984.7L478,986.8L478.8,988.9L479.6,991M566.9,1037L571.9,1037.6L577,1038.1L582.1,1038.5L587.3,1038.7L592.4,1038.9L597.6,1039L602.7,1038.9L607.9,1038.8L613,1038.5L618,1038.2"/>
<defs><linearGradient id="f0" gradientUnits="userSpaceOnUse" x1="453.8" x2="599.8" y1="0" y2="0"><stop offset="0" stop-color="#00f484"/><stop offset=".025" stop-color="#00f484"/><stop offset=".125" stop-color="#00f127"/><stop offset=".175" stop-color="#00f105"/><stop offset=".2" stop-color="#0cf200"/><stop offset=".275" stop-color="#36f300"/><stop offset=".35" stop-color="#52f600"/><stop offset=".475" stop-color="#60fa00"/><stop offset=".6" stop-color="#4afe00"/><stop offset=".75" stop-color="#01ff00"/><stop offset=".85" stop-color="#00ff3d"/><stop offset=".975" stop-color="#00ff9f"/><stop offset="1" stop-color="#00ff9f"/></linearGradient><linearGradient id="f1" gradientUnits="userSpaceOnUse" x1="459.9" x2="606.3" y1="0" y2="0"><stop offset="0" stop-color="#00fb5b"/><stop offset=".025" stop-color="#00fb5a"/><stop offset=".1" stop-color="#00f40f"/><stop offset=".125" stop-color="#05f300"/><stop offset=".2" stop-color="#40f300"/><stop offset=".3" stop-color="#74f500"/><stop offset=".375" stop-color="#8bf700"/><stop offset=".45" stop-color="#93fa00"/><stop offset=".525" stop-color="#8efd00"/><stop offset=".6" stop-color="#7cff00"/><stop offset=".7" stop-color="#4fff00"/><stop offset=".825" stop-color="#00ff04"/><stop offset=".975" stop-color="#00ff79"/><stop offset="1" stop-color="#00ff79"/></linearGradient><linearGradient id="f2" gradientUnits="userSpaceOnUse" x1="466.1" x2="612.7" y1="0" y2="0"><stop offset="0" stop-color="#00ff30"/><stop offset=".025" stop-color="#00ff2f"/><stop offset=".075" stop-color="#05fa00"/><stop offset=".15" stop-color="#4cf500"/><stop offset=".25" stop-color="#8ef500"/><stop offset=".35" stop-color="#b6f800"/><stop offset=".45" stop-color="#c3fb00"/><stop offset=".55" stop-color="#bafe00"/><stop offset=".65" stop-color="#96ff00"/><stop offset=".75" stop-color="#5eff00"/><stop offset=".875" stop-color="#00ff03"/><stop offset=".975" stop-color="#00ff56"/><stop offset="1" stop-color="#00ff56"/></linearGradient><linearGradient id="f3" gradientUnits="userSpaceOnUse" x1="472.2" x2="619.1" y1="0" y2="0"><stop offset="0" stop-color="#00ff07"/><stop offset=".025" stop-color="#00ff06"/><stop offset=".125" stop-color="#66fa00"/><stop offset=".175" stop-color="#8ff800"/><stop offset=".25" stop-color="#bdf700"/><stop offset=".35" stop-color="#e3f900"/><stop offset=".45" stop-color="#f1fc00"/><stop offset=".55" stop-color="#e6ff00"/><stop offset=".675" stop-color="#b6ff00"/><stop offset=".775" stop-color="#78ff00"/><stop offset=".9" stop-color="#0fff00"/><stop offset=".925" stop-color="#00ff08"/><stop offset=".975" stop-color="#00ff34"/><stop offset="1" stop-color="#00ff34"/></linearGradient><linearGradient id="f4" gradientUnits="userSpaceOnUse" x1="478.4" x2="625.5" y1="0" y2="0"><stop offset="0" stop-color="#24ff00"/><stop offset=".025" stop-color="#26ff00"/><stop offset=".1" stop-color="#7cff00"/><stop offset=".175" stop-color="#bbfb00"/><stop offset=".275" stop-color="#f4f900"/><stop offset=".375" stop-color="#fbe700"/><stop offset=".45" stop-color="#fde500"/><stop offset=".6" stop-color="#fffe00"/><stop offset=".675" stop-color="#dfff00"/><stop offset=".775" stop-color="#a0ff00"/><stop offset=".875" stop-color="#4dff00"/><stop offset=".95" stop-color="#03ff00"/><stop offset=".975" stop-color="#00ff15"/><stop offset="1" stop-color="#00ff15"/></linearGradient><linearGradient id="f5" gradientUnits="userSpaceOnUse" x1="484.4" x2="631.7" y1="0" y2="0"><stop offset="0" stop-color="#4dff00"/><stop offset=".025" stop-color="#4fff00"/><stop offset=".1" stop-color="#a5ff00"/><stop offset=".2" stop-color="#f7fe00"/><stop offset=".325" stop-color="#fcd200"/><stop offset=".425" stop-color="#fec700"/><stop offset=".575" stop-color="#ffd900"/><stop offset=".675" stop-color="#fffb00"/><stop offset=".725" stop-color="#e7ff00"/><stop offset=".825" stop-color="#9dff00"/><stop offset=".975" stop-color="#0aff00"/><stop offset="1" stop-color="#0aff00"/></linearGradient><linearGradient id="f6" gradientUnits="userSpaceOnUse" x1="490.5" x2="637.9" y1="0" y2="0"><stop offset="0" stop-color="#72ff00"/><stop offset=".025" stop-color="#74ff00"/><stop offset=".125" stop-color="#e2ff00"/><stop offset=".15" stop-color="#f7ff00"/><stop offset=".175" stop-color="#fff600"/><stop offset=".225" stop-color="#fdd900"/><stop offset=".325" stop-color="#fcb700"/><stop offset=".45" stop-color="#ffad00"/><stop offset=".575" stop-color="#ffbe00"/><stop offset=".725" stop-color="#fff700"/><stop offset=".75" stop-color="#f8ff00"/><stop offset=".825" stop-color="#beff00"/><stop offset=".975" stop-color="#2aff00"/><stop offset="1" stop-color="#29ff00"/></linearGradient><linearGradient id="f7" gradientUnits="userSpaceOnUse" x1="496.5" x2="644.1" y1="0" y2="0"><stop offset="0" stop-color="#000"/><stop offset=".05" stop-color="#000"/><stop offset=".075" stop-color="#d0ff00"/><stop offset=".125" stop-color="#fffc00"/><stop offset=".175" stop-color="#f6d500"/><stop offset=".25" stop-color="#f5b000"/><stop offset=".325" stop-color="#f79b00"/><stop offset=".425" stop-color="#fb9100"/><stop offset=".6" stop-color="#ffac00"/><stop offset=".7" stop-color="#ffd300"/><stop offset=".775" stop-color="#fffb00"/><stop offset=".8" stop-color="#f1ff00"/><stop offset=".875" stop-color="#afff00"/><stop offset=".975" stop-color="#46ff00"/><stop offset="1" stop-color="#45ff00"/></linearGradient><linearGradient id="f8" gradientUnits="userSpaceOnUse" x1="502.5" x2="650.2" y1="0" y2="0"><stop offset="0" stop-color="#000"/><stop offset=".075" stop-color="#000"/><stop offset=".1" stop-color="#fff900"/><stop offset=".125" stop-color="#e7d000"/><stop offset=".2" stop-color="#e9a800"/><stop offset=".3" stop-color="#ef8700"/><stop offset=".425" stop-color="#f77600"/><stop offset=".5" stop-color="#fb7e00"/><stop offset=".625" stop-color="#ff9f00"/><stop offset=".725" stop-color="#ffca00"/><stop offset=".8" stop-color="#fff500"/><stop offset=".825" stop-color="#f7ff00"/><stop offset=".85" stop-color="#e1ff00"/><stop offset=".975" stop-color="#60ff00"/><stop offset="1" stop-color="#5fff00"/></linearGradient><linearGradient id="f9" gradientUnits="userSpaceOnUse" x1="508.5" x2="656.2" y1="0" y2="0"><stop offset="0" stop-color="#000"/><stop offset=".1" stop-color="#000"/><stop offset=".125" stop-color="#a38700"/><stop offset=".15" stop-color="#c09200"/><stop offset=".225" stop-color="#db8300"/><stop offset=".325" stop-color="#e96600"/><stop offset=".425" stop-color="#f25a00"/><stop offset=".55" stop-color="#fb6f00"/><stop offset=".7" stop-color="#ffab00"/><stop offset=".825" stop-color="#fff300"/><stop offset=".85" stop-color="#f8ff00"/><stop offset=".975" stop-color="#76ff00"/><stop offset="1" stop-color="#75ff00"/></linearGradient><linearGradient id="f10" gradientUnits="userSpaceOnUse" x1="514.4" x2="662.2" y1="0" y2="0"><stop offset="0" stop-color="#000"/><stop offset=".125" stop-color="#000"/><stop offset=".15" stop-color="#241900"/><stop offset=".175" stop-color="#945e00"/><stop offset=".2" stop-color="#b36800"/><stop offset=".25" stop-color="#cd6300"/><stop offset=".35" stop-color="#e34900"/><stop offset=".45" stop-color="#ef4300"/><stop offset=".55" stop-color="#f75700"/><stop offset=".75" stop-color="#ffb500"/><stop offset=".85" stop-color="#fff500"/><stop offset=".875" stop-color="#f4ff00"/><stop offset=".975" stop-color="#89ff00"/><stop offset="1" stop-color="#87ff00"/></linearGradient><linearGradient id="f11" gradientUnits="userSpaceOnUse" x1="522.5" x2="668" y1="0" y2="0"><stop offset="0" stop-color="#000"/><stop offset=".15" stop-color="#000"/><stop offset=".175" stop-color="#221300"/><stop offset=".2" stop-color="#7e4000"/><stop offset=".225" stop-color="#a24800"/><stop offset=".3" stop-color="#cd3d00"/><stop offset=".425" stop-color="#e63000"/><stop offset=".5" stop-color="#ef3800"/><stop offset=".575" stop-color="#f64f00"/><stop offset=".75" stop-color="#fa0"/><stop offset=".875" stop-color="#fffd00"/><stop offset=".975" stop-color="#98fe00"/><stop offset="1" stop-color="#96fe00"/></linearGradient><linearGradient id="f12" gradientUnits="userSpaceOnUse" x1="533.7" x2="673.9" y1="0" y2="0"><stop offset="0" stop-color="#000"/><stop offset=".175" stop-color="#000"/><stop offset=".2" stop-color="#562100"/><stop offset=".225" stop-color="#882c00"/><stop offset=".25" stop-color="#a32e00"/><stop offset=".3" stop-color="#c12900"/><stop offset=".4" stop-color="#d20"/><stop offset=".5" stop-color="#ec2e00"/><stop offset=".6" stop-color="#f65200"/><stop offset=".775" stop-color="#ffb400"/><stop offset=".875" stop-color="#fff700"/><stop offset=".9" stop-color="#f1ff00"/><stop offset=".975" stop-color="#a1fd00"/><stop offset="1" stop-color="#a0fd00"/></linearGradient><linearGradient id="f13" gradientUnits="userSpaceOnUse" x1="545" x2="679.6" y1="0" y2="0"><stop offset="0" stop-color="#000"/><stop offset=".175" stop-color="#000"/><stop offset=".2" stop-color="#2b0c00"/><stop offset=".225" stop-color="#6a1900"/><stop offset=".25" stop-color="#8e1c00"/><stop offset=".275" stop-color="#a51c00"/><stop offset=".35" stop-color="#ca1800"/><stop offset=".45" stop-color="#e11f00"/><stop offset=".6" stop-color="#f44f00"/><stop offset=".725" stop-color="#ff9800"/><stop offset=".875" stop-color="#fef300"/><stop offset=".9" stop-color="#f5fe00"/><stop offset=".975" stop-color="#a7fc00"/><stop offset="1" stop-color="#a7fc00"/></linearGradient><linearGradient id="f14" gradientUnits="userSpaceOnUse" x1="556.6" x2="685.3" y1="0" y2="0"><stop offset="0" stop-color="#000"/><stop offset=".2" stop-color="#040100"/><stop offset=".225" stop-color="#490d00"/><stop offset=".25" stop-color="#771200"/><stop offset=".275" stop-color="#941300"/><stop offset=".35" stop-color="#c11300"/><stop offset=".45" stop-color="#dd1e00"/><stop offset=".575" stop-color="#ef4600"/><stop offset=".725" stop-color="#fe9900"/><stop offset=".875" stop-color="#fdf300"/><stop offset=".9" stop-color="#f3fc00"/><stop offset=".975" stop-color="#aafa00"/><stop offset="1" stop-color="#aafa00"/></linearGradient><linearGradient id="f15" gradientUnits="userSpaceOnUse" x1="568.5" x2="690.9" y1="0" y2="0"><stop offset="0" stop-color="#000"/><stop offset=".2" stop-color="#000"/><stop offset=".225" stop-color="#210500"/><stop offset=".25" stop-color="#5a0b00"/><stop offset=".3" stop-color="#981000"/><stop offset=".375" stop-color="#c21600"/><stop offset=".475" stop-color="#de2a00"/><stop offset=".575" stop-color="#ee4f00"/><stop offset=".75" stop-color="#ffae00"/><stop offset=".875" stop-color="#fbf600"/><stop offset=".9" stop-color="#edfb00"/><stop offset=".975" stop-color="#a8f900"/><stop offset="1" stop-color="#a8f900"/></linearGradient><linearGradient id="f16" gradientUnits="userSpaceOnUse" x1="580.5" x2="696.4" y1="0" y2="0"><stop offset="0" stop-color="#000"/><stop offset=".225" stop-color="#000"/><stop offset=".275" stop-color="#670d00"/><stop offset=".325" stop-color="#9d1400"/><stop offset=".4" stop-color="#c52100"/><stop offset=".5" stop-color="#e03d00"/><stop offset=".75" stop-color="#ffb800"/><stop offset=".875" stop-color="#f9fa00"/><stop offset=".975" stop-color="#a3f700"/><stop offset="1" stop-color="#a3f700"/></linearGradient><linearGradient id="f17" gradientUnits="userSpaceOnUse" x1="592.8" x2="701.8" y1="0" y2="0"><stop offset="0" stop-color="#000"/><stop offset=".225" stop-color="#000"/><stop offset=".25" stop-color="#090200"/><stop offset=".275" stop-color="#450c00"/><stop offset=".3" stop-color="#701400"/><stop offset=".35" stop-color="#a22000"/><stop offset=".45" stop-color="#d03c00"/><stop offset=".6" stop-color="#ef7d00"/><stop offset=".725" stop-color="#fdb900"/><stop offset=".85" stop-color="#faf700"/><stop offset=".975" stop-color="#9af600"/><stop offset="1" stop-color="#9af600"/></linearGradient><linearGradient id="f18" gradientUnits="userSpaceOnUse" x1="605.3" x2="707.1" y1="0" y2="0"><stop offset="0" stop-color="#000"/><stop offset=".25" stop-color="#000"/><stop offset=".275" stop-color="#110400"/><stop offset=".3" stop-color="#4f1500"/><stop offset=".325" stop-color="#782100"/><stop offset=".375" stop-color="#a83500"/><stop offset=".475" stop-color="#d55b00"/><stop offset=".625" stop-color="#f39b00"/><stop offset=".725" stop-color="#fecc00"/><stop offset=".825" stop-color="#faf900"/><stop offset=".975" stop-color="#8cf500"/><stop offset="1" stop-color="#8cf500"/></linearGradient><linearGradient id="f19" gradientUnits="userSpaceOnUse" x1="618.1" x2="712.4" y1="0" y2="0"><stop offset="0" stop-color="#000"/><stop offset=".275" stop-color="#000"/><stop offset=".3" stop-color="#0e0500"/><stop offset=".325" stop-color="#520"/><stop offset=".35" stop-color="#803600"/><stop offset=".4" stop-color="#b05300"/><stop offset=".5" stop-color="#dc7f00"/><stop offset=".675" stop-color="#fccb00"/><stop offset=".775" stop-color="#fcf700"/><stop offset=".8" stop-color="#f2fb00"/><stop offset=".95" stop-color="#88f500"/><stop offset="1" stop-color="#7cf400"/></linearGradient><linearGradient id="f20" gradientUnits="userSpaceOnUse" x1="631" x2="717.6" y1="0" y2="0"><stop offset="0" stop-color="#000"/><stop offset=".325" stop-color="#000"/><stop offset=".35" stop-color="#563000"/><stop offset=".375" stop-color="#894f00"/><stop offset=".425" stop-color="#bc7400"/><stop offset=".5" stop-color="#df9b00"/><stop offset=".65" stop-color="#fee000"/><stop offset=".725" stop-color="#ff0"/><stop offset=".95" stop-color="#70f400"/><stop offset="1" stop-color="#66f400"/></linearGradient><linearGradient id="f21" gradientUnits="userSpaceOnUse" x1="644.2" x2="722.7" y1="0" y2="0"><stop offset="0" stop-color="#000"/><stop offset=".35" stop-color="#000"/><stop offset=".375" stop-color="#3f2d00"/><stop offset=".4" stop-color="#a07500"/><stop offset=".425" stop-color="#c09200"/><stop offset=".5" stop-color="#ebc300"/><stop offset=".6" stop-color="#fff200"/><stop offset=".675" stop-color="#efff00"/><stop offset=".8" stop-color="#affd00"/><stop offset=".95" stop-color="#54f500"/><stop offset="1" stop-color="#4df400"/></linearGradient><linearGradient id="f22" gradientUnits="userSpaceOnUse" x1="657.6" x2="727.7" y1="0" y2="0"><stop offset="0" stop-color="#000"/><stop offset=".4" stop-color="#000"/><stop offset=".425" stop-color="#ffe900"/><stop offset=".5" stop-color="#fffc00"/><stop offset=".55" stop-color="#f1ff00"/><stop offset=".75" stop-color="#9dff00"/><stop offset=".95" stop-color="#32f600"/><stop offset="1" stop-color="#2ef600"/></linearGradient><linearGradient id="f23" gradientUnits="userSpaceOnUse" x1="671.2" x2="732.6" y1="0" y2="0"><stop offset="0" stop-color="#000"/><stop offset=".475" stop-color="#000"/><stop offset=".5" stop-color="#c7ff00"/><stop offset=".75" stop-color="#6aff00"/><stop offset=".95" stop-color="#0dfb00"/><stop offset="1" stop-color="#0cfb00"/></linearGradient></defs>
<g stroke-width=".7">
<path fill="url(#f0)" stroke="url(#f0)" d="M592.7,939.7Q573.2,913.6 554.2,896.8Q535.8,880.6 518.1,873.3Q501,866.3 484.7,867.6Q469.1,868.9 454.3,877.9L455.8,875.7L457.4,873.5L458.9,871.4L460.4,869.2Q475.3,860.2 491,858.9Q507.4,857.5 524.6,864.5Q542.3,871.8 560.7,888Q579.8,904.8 599.3,931L597.6,933.1L596,935.3L594.3,937.5z"/>
<path fill="url(#f1)" stroke="url(#f1)" d="M599.3,931Q579.8,904.8 560.7,888Q542.3,871.8 524.6,864.5Q507.4,857.5 491,858.9Q475.3,860.2 460.4,869.2L462,867.1L463.5,865.1L465.1,863L466.6,861Q481.6,851.9 497.4,850.5Q513.8,849.1 531,856.1Q548.8,863.4 567.2,879.7Q586.3,896.5 605.8,922.7L604.1,924.7L602.5,926.8L600.9,928.9z"/>
<path fill="url(#f2)" stroke="url(#f2)" d="M605.8,922.7Q586.3,896.5 567.2,879.7Q548.8,863.4 531,856.1Q513.8,849.1 497.4,850.5Q481.6,851.9 466.6,861L468.1,859L469.7,857.1L471.2,855.2L472.7,853.3Q487.8,844.1 503.6,842.6Q520.1,841.2 537.4,848.2Q555.2,855.4 573.7,871.7Q592.7,888.5 612.2,914.7L610.6,916.7L609,918.6L607.4,920.6z"/>
<path fill="url(#f3)" stroke="url(#f3)" d="M612.2,914.7Q592.7,888.5 573.7,871.7Q555.2,855.4 537.4,848.2Q520.1,841.2 503.6,842.6Q487.8,844.1 472.7,853.3L474.3,851.4L475.8,849.5L477.3,847.7L478.9,846Q494,836.7 509.9,835.2Q526.4,833.7 543.7,840.7Q561.6,847.9 580.1,864.2Q599.1,881 618.6,907.2L617,909L615.4,910.9L613.8,912.8z"/>
<path fill="url(#f4)" stroke="url(#f4)" d="M618.6,907.2Q599.1,881 580.1,864.2Q561.6,847.9 543.7,840.7Q526.4,833.7 509.9,835.2Q494,836.7 478.9,846L480.4,844.2L481.9,842.5L483.4,840.8L484.9,839.1Q500.1,829.8 516.1,828.3Q532.7,826.7 550,833.6Q567.9,840.8 586.4,857.1Q605.5,873.9 625,900.1L623.4,901.8L621.8,903.6L620.2,905.4z"/>
<path fill="url(#f5)" stroke="url(#f5)" d="M625,900.1Q605.5,873.9 586.4,857.1Q567.9,840.8 550,833.6Q532.7,826.7 516.1,828.3Q500.1,829.8 484.9,839.1L486.5,837.5L488,835.9L489.5,834.3L491,832.8Q506.2,823.4 522.2,821.8Q538.9,820.2 556.2,827.1Q574.2,834.2 592.7,850.4Q611.8,867.2 631.2,893.4L629.7,895L628.1,896.7L626.5,898.4z"/>
<path fill="url(#f6)" stroke="url(#f6)" d="M631.2,893.4Q611.8,867.2 592.7,850.4Q574.2,834.2 556.2,827.1Q538.9,820.2 522.2,821.8Q506.2,823.4 491,832.8L492.5,831.3L494,829.8L495.5,828.4L497,826.9Q512.3,817.4 528.4,815.8Q545.1,814.1 562.4,821Q580.4,828.1 598.9,844.2Q618,860.9 637.4,887.1L635.9,888.7L634.3,890.2L632.8,891.8z"/>
<path fill="url(#f7)" stroke="url(#f7)" d="M637.4,887.1Q618,860.9 598.9,844.2Q580.4,828.1 562.4,821Q545.1,814.1 528.4,815.8Q512.3,817.4 497,826.9L498.5,825.6L500,824.2L501.5,822.9L503,821.6Q518.4,812 534.5,810.3Q551.2,808.5 568.6,815.3Q586.6,822.4 605.1,838.5Q624.2,855.2 643.6,881.3L642.1,882.7L640.5,884.2L639,885.7z"/>
<path fill="url(#f8)" stroke="url(#f8)" d="M643.6,881.3Q624.2,855.2 605.1,838.5Q586.6,822.4 568.6,815.3Q551.2,808.5 534.5,810.3Q518.4,812 503,821.6L504.5,820.4L506,819.1L507.5,818L509,816.8Q524.4,807.1 540.5,805.3Q557.3,803.5 574.7,810.2Q592.7,817.2 611.2,833.3Q630.3,849.9 649.7,876L648.2,877.3L646.7,878.6L645.1,880z"/>
<path fill="url(#f9)" stroke="url(#f9)" d="M649.7,876Q630.3,849.9 611.2,833.3Q592.7,817.2 574.7,810.2Q557.3,803.5 540.5,805.3Q524.4,807.1 509,816.8L510.4,815.7L511.9,814.6L513.4,813.5L514.9,812.5Q530.3,802.7 546.5,800.9Q563.3,799 580.8,805.6Q598.8,812.5 617.3,828.6Q636.4,845.1 655.7,871.1L654.2,872.3L652.7,873.5L651.2,874.7z"/>
<path fill="url(#f10)" stroke="url(#f10)" d="M655.7,871.1Q636.4,845.1 617.3,828.6Q598.8,812.5 580.8,805.6Q563.3,799 546.5,800.9Q530.3,802.7 514.9,812.5L516.3,811.5L517.8,810.6L520.3,809L523,807.4Q538.4,798.2 554.3,796.8Q570.9,795.3 588.1,802.1Q605.8,809.1 624,824.9Q642.7,841.2 661.7,866.7L660.2,867.8L658.7,868.9L657.2,870z"/>
<path fill="url(#f11)" stroke="url(#f11)" d="M661.7,866.7Q642.7,841.2 624,824.9Q605.8,809.1 588.1,802.1Q570.9,795.3 554.3,796.8Q538.4,798.2 523,807.4L525.8,805.7L528.6,804.2L531.4,802.7L534.2,801.2Q549.1,793.6 564.5,793.1Q580.6,792.6 597.1,799.8Q614.1,807.1 631.5,822.6Q649.4,838.5 667.5,862.8L666.1,863.7L664.6,864.7L663.1,865.7z"/>
<path fill="url(#f12)" stroke="url(#f12)" d="M667.5,862.8Q649.4,838.5 631.5,822.6Q614.1,807.1 597.1,799.8Q580.6,792.6 564.5,793.1Q549.1,793.6 534.2,801.2L537,799.8L539.8,798.4L542.7,797.1L545.5,795.9Q560,789.8 574.9,790.2Q590.3,790.7 606.1,798.1Q622.5,805.8 639.1,820.9Q656.1,836.3 673.4,859.4L671.9,860.2L670.5,861L669,861.9z"/>
<path fill="url(#f13)" stroke="url(#f13)" d="M673.4,859.4Q656.1,836.3 639.1,820.9Q622.5,805.8 606.1,798.1Q590.3,790.7 574.9,790.2Q560,789.8 545.5,795.9L548.4,794.7L551.3,793.6L554.2,792.5L557.1,791.5Q575.8,785.2 595.2,789.7Q615.3,794.4 636,810.7Q657.4,827.5 679.1,856.5L677.7,857.2L676.2,857.9L674.8,858.6z"/>
<path fill="url(#f14)" stroke="url(#f14)" d="M679.1,856.5Q657.4,827.5 636,810.7Q615.3,794.4 595.2,789.7Q575.8,785.2 557.1,791.5L560.1,790.5L563,789.6L566,788.8L569,788.1Q586.8,783.7 605.3,789Q624.5,794.5 644.1,810.4Q664.3,826.8 684.8,854.1L683.4,854.6L681.9,855.2L680.5,855.8z"/>
<path fill="url(#f15)" stroke="url(#f15)" d="M684.8,854.1Q664.3,826.8 644.1,810.4Q624.5,794.5 605.3,789Q586.8,783.7 569,788.1L572,787.4L575,786.7L578,786.2L581,785.7Q598,783 615.6,789.1Q633.7,795.4 652.1,810.8Q671.2,826.7 690.4,852.2L689,852.6L687.6,853.1L686.2,853.6z"/>
<path fill="url(#f16)" stroke="url(#f16)" d="M690.4,852.2Q671.2,826.7 652.1,810.8Q633.7,795.4 615.6,789.1Q598,783 581,785.7L584.1,785.2L587.2,784.9L590.2,784.6L593.3,784.3Q609.4,783.4 625.9,790.1Q642.9,796.9 660.2,811.9Q678,827.2 695.9,850.9L694.5,851.2L693.1,851.5L691.7,851.8z"/>
<path fill="url(#f17)" stroke="url(#f17)" d="M695.9,850.9Q678,827.2 660.2,811.9Q642.9,796.9 625.9,790.1Q609.4,783.4 593.3,784.3L596.4,784.2L599.6,784.1L602.7,784.1L605.8,784.2Q620.9,784.7 636.4,791.9Q652.2,799.3 668.3,813.6Q684.7,828.2 701.3,850.1L699.9,850.2L698.6,850.4L697.2,850.6z"/>
<path fill="url(#f18)" stroke="url(#f18)" d="M701.3,850.1Q684.7,828.2 668.3,813.6Q652.2,799.3 636.4,791.9Q620.9,784.7 605.8,784.2L609,784.3L612.2,784.6L615.4,784.9L618.6,785.3Q639.8,788.1 661.5,803.8Q684,820 706.6,849.8L705.3,849.8L704,849.9L702.6,849.9z"/>
<path fill="url(#f19)" stroke="url(#f19)" d="M706.6,849.8Q684,820 661.5,803.8Q639.8,788.1 618.6,785.3L621.8,785.7L625,786.3L628.3,786.9L631.5,787.6Q651,792.2 670.8,807.4Q691.3,823.1 711.9,850.1L710.6,849.9L709.3,849.9L708,849.8z"/>
<path fill="url(#f20)" stroke="url(#f20)" d="M711.9,850.1Q691.3,823.1 670.8,807.4Q651,792.2 631.5,787.6L634.8,788.4L638.1,789.3L641.4,790.3L644.7,791.4Q662.3,797.3 680.2,811.9Q698.6,826.9 717.1,850.9L715.8,850.6L714.5,850.4L713.2,850.2z"/>
<path fill="url(#f21)" stroke="url(#f21)" d="M717.1,850.9Q698.6,826.9 680.2,811.9Q662.3,797.3 644.7,791.4L648,792.5L651.4,793.8L654.7,795.1L658.1,796.5Q673.8,803.4 689.6,817.1Q705.9,831.2 722.2,852.3L720.9,851.9L719.6,851.5L718.3,851.2z"/>
<path fill="url(#f22)" stroke="url(#f22)" d="M722.2,852.3Q705.9,831.2 689.6,817.1Q673.8,803.4 658.1,796.5L661.5,798.1L664.8,799.7L668.2,801.4L671.7,803.2Q699.3,818.3 727.2,854.2L725.9,853.7L724.7,853.2L723.4,852.7z"/>
<path fill="url(#f23)" stroke="url(#f23)" d="M727.2,854.2Q699.3,818.3 671.7,803.2L675.1,805.1L678.5,807.1L682,809.3L685.4,811.5Q708.7,826.7 732.1,856.7L730.8,856L729.6,855.4L728.4,854.8z"/>
</g>
<path fill="none" stroke="#000" stroke-width="0.42" d="M592.7,939.7Q573.2,913.6 554.2,896.8Q535.8,880.6 518.1,873.3Q501,866.3 484.7,867.6Q469.1,868.9 454.3,877.9M594.7,937Q575.2,910.9 556.2,894.1Q537.8,877.9 520,870.6Q502.9,863.6 486.6,864.9Q470.9,866.2 456.1,875.3M596.6,934.4Q577.1,908.3 558.1,891.5Q539.7,875.3 522,868Q504.9,860.9 488.5,862.3Q472.8,863.6 458,872.7M598.6,931.8Q579.1,905.7 560.1,888.9Q541.7,872.6 523.9,865.4Q506.8,858.3 490.4,859.7Q474.7,861 459.8,870.1M600.6,929.3Q581.1,903.1 562,886.3Q543.6,870.1 525.8,862.8Q508.7,855.8 492.3,857.2Q476.6,858.5 461.7,867.6M602.5,926.8Q583,900.6 564,883.8Q545.6,867.5 527.8,860.3Q510.6,853.2 494.2,854.6Q478.5,856 463.5,865.1M604.5,924.3Q585,898.1 565.9,881.3Q547.5,865 529.7,857.8Q512.5,850.7 496.1,852.2Q480.3,853.5 465.4,862.6M606.4,921.8Q586.9,895.6 567.9,878.9Q549.4,862.6 531.6,855.3Q514.4,848.3 498,849.7Q482.2,851.1 467.2,860.2M608.4,919.4Q588.9,893.2 569.8,876.4Q551.4,860.2 533.5,852.9Q516.3,845.9 499.9,847.3Q484.1,848.7 469.1,857.9M610.3,917.1Q590.8,890.8 571.7,874.1Q553.3,857.8 535.4,850.5Q518.2,843.5 501.8,845Q485.9,846.4 470.9,855.5M612.2,914.7Q592.7,888.5 573.7,871.7Q555.2,855.4 537.4,848.2Q520.1,841.2 503.6,842.6Q487.8,844.1 472.7,853.3M614.1,912.4Q594.7,886.2 575.6,869.4Q557.1,853.1 539.3,845.9Q522,838.9 505.5,840.4Q489.6,841.8 474.6,851M616.1,910.2Q596.6,883.9 577.5,867.1Q559,850.9 541.2,843.6Q523.9,836.6 507.4,838.1Q491.5,839.6 476.4,848.8M618,907.9Q598.5,881.7 579.4,864.9Q561,848.6 543.1,841.4Q525.8,834.4 509.3,835.9Q493.3,837.4 478.2,846.7M619.9,905.7Q600.4,879.5 581.3,862.7Q562.9,846.5 545,839.2Q527.7,832.3 511.1,833.8Q495.2,835.3 480.1,844.6M621.8,903.6Q602.3,877.4 583.2,860.6Q564.8,844.3 546.8,837.1Q529.6,830.1 513,831.7Q497,833.2 481.9,842.5M623.7,901.5Q604.2,875.2 585.1,858.5Q566.7,842.2 548.7,835Q531.4,828.1 514.8,829.6Q498.9,831.1 483.7,840.5M625.6,899.4Q606.1,873.2 587,856.4Q568.5,840.1 550.6,833Q533.3,826 516.7,827.6Q500.7,829.1 485.5,838.5M627.5,897.4Q608,871.1 588.9,854.4Q570.4,838.1 552.5,830.9Q535.2,824 518.6,825.6Q502.6,827.1 487.4,836.5M629.4,895.4Q609.9,869.1 590.8,852.4Q572.3,836.1 554.4,829Q537,822.1 520.4,823.7Q504.4,825.2 489.2,834.6M631.2,893.4Q611.8,867.2 592.7,850.4Q574.2,834.2 556.2,827.1Q538.9,820.2 522.2,821.8Q506.2,823.4 491,832.8M633.1,891.5Q613.7,865.3 594.6,848.5Q576.1,832.3 558.1,825.2Q540.8,818.3 524.1,819.9Q508.1,821.5 492.8,831M635,889.6Q615.5,863.4 596.4,846.7Q577.9,830.5 560,823.3Q542.6,816.5 525.9,818.1Q509.9,819.7 494.6,829.2M636.8,887.8Q617.4,861.6 598.3,844.8Q579.8,828.6 561.8,821.5Q544.5,814.7 527.8,816.4Q511.7,818 496.4,827.5M638.7,885.9Q619.3,859.8 600.2,843.1Q581.7,826.9 563.7,819.8Q546.3,813 529.6,814.7Q513.5,816.3 498.2,825.8M640.5,884.2Q621.1,858 602,841.3Q583.5,825.2 565.5,818.1Q548.2,811.3 531.4,813Q515.3,814.7 500,824.2M642.4,882.5Q623,856.3 603.9,839.6Q585.4,823.5 567.4,816.4Q550,809.6 533.3,811.4Q517.2,813.1 501.8,822.6M644.2,880.8Q624.8,854.6 605.7,838Q587.2,821.8 569.2,814.8Q551.8,808 535.1,809.8Q519,811.5 503.6,821.1M646,879.1Q626.6,853 607.6,836.4Q589.1,820.2 571,813.2Q553.7,806.5 536.9,808.3Q520.8,810 505.4,819.6M647.9,877.5Q628.5,851.4 609.4,834.8Q590.9,818.7 572.9,811.7Q555.5,805 538.7,806.8Q522.6,808.5 507.2,818.2M649.7,876Q630.3,849.9 611.2,833.3Q592.7,817.2 574.7,810.2Q557.3,803.5 540.5,805.3Q524.4,807.1 509,816.8M651.5,874.5Q632.1,848.4 613.1,831.8Q594.6,815.7 576.5,808.8Q559.1,802.1 542.3,803.9Q526.2,805.7 510.7,815.5M653.3,873Q633.9,846.9 614.9,830.4Q596.4,814.3 578.3,807.4Q560.9,800.7 544.1,802.6Q528,804.4 512.5,814.2M655.1,871.6Q635.8,845.5 616.7,829Q598.2,813 580.2,806.1Q562.7,799.4 545.9,801.3Q529.7,803.1 514.3,812.9M656.9,870.2Q637.6,844.2 618.5,827.7Q600,811.7 582,804.8Q564.5,798.1 547.7,800.1Q531.5,801.9 516,811.7M658.7,868.9Q639.4,842.9 620.3,826.4Q601.8,810.4 583.8,803.5Q566.3,796.9 549.5,798.9Q533.3,800.7 517.8,810.6M660.5,867.6Q641.3,841.8 622.5,825.5Q604.2,809.6 586.3,802.6Q569,795.9 552.3,797.6Q536.2,799.2 520.8,808.7M662.3,866.3Q643.4,840.9 624.7,824.7Q606.7,808.9 589,801.8Q571.9,795 555.3,796.4Q539.4,797.7 524.1,806.7M664,865.1Q645.4,840.1 627,823.9Q609.1,808.2 591.7,801.1Q574.8,794.1 558.4,795.2Q542.6,796.3 527.5,804.8M665.8,863.9Q647.4,839.3 629.3,823.2Q611.6,807.7 594.4,800.4Q577.7,793.3 561.5,794.1Q545.8,794.9 530.8,803M667.5,862.8Q649.4,838.5 631.5,822.6Q614.1,807.1 597.1,799.8Q580.6,792.6 564.5,793.1Q549.1,793.6 534.2,801.2M669.3,861.7Q651.5,837.8 633.8,822Q616.6,806.7 599.8,799.2Q583.5,792 567.6,792.2Q552.3,792.4 537.6,799.5M671,860.7Q653.5,837.1 636.1,821.5Q619.1,806.3 602.5,798.7Q586.4,791.4 570.7,791.3Q555.6,791.2 541,797.9M672.8,859.7Q655.5,836.5 638.3,821Q621.6,805.9 605.2,798.3Q589.3,790.8 573.8,790.5Q558.9,790.1 544.4,796.4M674.5,858.8Q657.5,836 640.6,820.6Q624.1,805.6 608,797.9Q592.3,790.4 577,789.7Q562.2,789.1 547.8,794.9M676.2,857.9Q653.9,828.1 632,811.1Q610.7,794.6 590.1,790.4Q570.3,786.4 551.3,793.6M678,857Q656,827.7 634.4,810.8Q613.5,794.5 593.1,790Q573.6,785.7 554.8,792.3M679.7,856.2Q658.1,827.4 636.8,810.6Q616.2,794.4 596.2,789.6Q576.9,785 558.3,791.1M681.4,855.5Q660.2,827.2 639.2,810.5Q619,794.4 599.2,789.4Q580.2,784.5 561.9,790M683.1,854.8Q662.2,827 641.6,810.4Q621.7,794.4 602.2,789.1Q583.5,784.1 565.4,789M684.8,854.1Q664.3,826.8 644.1,810.4Q624.5,794.5 605.3,789Q586.8,783.7 569,788.1M686.4,853.5Q666.4,826.7 646.5,810.5Q627.2,794.7 608.4,788.9Q590.2,783.4 572.6,787.2M688.1,852.9Q668.4,826.7 648.9,810.6Q630,794.9 611.4,789Q593.5,783.2 576.2,786.5M689.8,852.4Q670.5,826.7 651.3,810.7Q632.7,795.2 614.5,789.1Q596.9,783.1 579.8,785.8M691.5,851.9Q672.5,826.8 653.8,811Q635.5,795.6 617.6,789.2Q600.3,783 583.5,785.3M693.1,851.5Q674.6,826.9 656.2,811.3Q638.3,796.1 620.7,789.5Q603.7,783.1 587.2,784.9M694.8,851.1Q676.6,827.1 658.6,811.6Q641.1,796.6 623.8,789.8Q607.1,783.2 590.9,784.5M696.4,850.8Q678.6,827.3 661,812Q643.8,797.1 626.9,790.2Q610.6,783.5 594.6,784.3M698,850.5Q680.7,827.5 663.4,812.5Q646.6,797.8 630.1,790.7Q614,783.8 598.3,784.1M699.7,850.3Q682.7,827.9 665.8,813Q649.4,798.5 633.2,791.2Q617.5,784.2 602.1,784.1M701.3,850.1Q684.7,828.2 668.3,813.6Q652.2,799.3 636.4,791.9Q620.9,784.7 605.8,784.2M702.9,849.9Q686.7,828.7 670.7,814.2Q655,800.1 639.5,792.6Q624.4,785.3 609.6,784.4M704.5,849.8Q681,818.9 657.7,802.5Q635.3,786.7 613.5,784.7M706.1,849.8Q683.2,819.7 660.5,803.4Q638.7,787.7 617.3,785.1M707.7,849.8Q685.4,820.6 663.3,804.4Q642,788.8 621.2,785.6M709.3,849.9Q687.6,821.5 666.1,805.5Q645.4,790 625,786.3M710.8,850Q689.8,822.5 669,806.6Q648.7,791.3 628.9,787.1M712.4,850.1Q692,823.5 671.8,807.8Q652.1,792.6 632.8,787.9M714,850.3Q694.2,824.5 674.6,809.1Q655.5,794.1 636.8,789M715.5,850.6Q696.4,825.7 677.4,810.4Q658.9,795.6 640.7,790.1M717.1,850.9Q698.6,826.9 680.2,811.9Q662.3,797.3 644.7,791.4M718.6,851.2Q700.8,828.1 683,813.3Q665.8,799 648.7,792.8M720.1,851.6Q703,829.4 685.9,814.9Q669.2,800.8 652.7,794.3M721.7,852.1Q705.1,830.7 688.7,816.6Q672.6,802.8 656.7,796M723.2,852.6Q707.3,832.1 691.5,818.3Q676.1,804.8 660.8,797.7M724.7,853.2Q709.5,833.6 694.3,820.1Q679.5,806.9 664.8,799.7M726.2,853.8Q711.7,835.1 697.2,822Q683,809.1 668.9,801.8M727.7,854.4Q700.2,819.1 673,804M729.1,855.1Q703.1,821.6 677.1,806.3M730.6,855.9Q705.9,824.1 681.3,808.8M732.1,856.7Q708.7,826.7 685.4,811.5M592.7,939.7Q613.1,912.2 631.2,893.4Q650.4,873.6 667.5,862.8Q685.3,851.7 701.3,850.1Q717.6,848.4 732.1,856.7M590.7,937Q611.1,909.5 629.3,890.8Q648.4,870.9 665.6,860.2Q683.4,849.1 699.4,847.6Q715.6,846 730.2,854.3M588.8,934.5Q609.2,907 627.3,888.2Q646.4,868.4 663.7,857.7Q681.4,846.6 697.4,845.1Q713.7,843.6 728.3,851.9M586.8,932Q607.2,904.4 625.3,885.7Q644.5,865.9 661.7,855.2Q679.5,844.1 695.5,842.7Q711.8,841.2 726.4,849.7M584.8,929.5Q605.2,902 623.4,883.2Q642.5,863.4 659.8,852.7Q677.6,841.7 693.6,840.3Q709.9,838.9 724.5,847.4M582.9,927.1Q603.3,899.5 621.4,880.8Q640.6,861 657.8,850.4Q675.7,839.4 691.7,838Q708,836.6 722.7,845.2M580.9,924.7Q601.3,897.1 619.5,878.4Q638.6,858.6 655.9,848Q673.7,837.1 689.8,835.8Q706.2,834.4 720.8,843.1M579,922.4Q599.4,894.8 617.5,876.1Q636.7,856.3 654,845.7Q671.8,834.8 687.9,833.6Q704.3,832.3 718.9,841M577,920.1Q597.4,892.5 615.6,873.8Q634.8,854 652,843.5Q669.9,832.6 686,831.4Q702.4,830.2 717.1,839M575.1,917.9Q595.5,890.3 613.7,871.6Q632.8,851.8 650.1,841.3Q668,830.5 684.1,829.3Q700.5,828.1 715.2,837M573.2,915.7Q593.5,888.1 611.7,869.4Q630.9,849.7 648.2,839.2Q666.1,828.3 682.2,827.2Q698.6,826.1 713.3,835M571.3,913.6Q591.6,886 609.8,867.3Q629,847.5 646.3,837.1Q664.2,826.3 680.3,825.2Q696.7,824.1 711.5,833.1M569.3,911.6Q589.7,883.9 607.9,865.2Q627.1,845.5 644.4,835.1Q662.3,824.3 678.4,823.3Q694.9,822.2 709.6,831.3M567.4,909.5Q587.8,881.9 606,863.2Q625.1,843.5 642.5,833.1Q660.4,822.3 676.5,821.4Q693,820.4 707.8,829.5M565.5,907.6Q585.8,879.9 604.1,861.2Q623.2,841.5 640.6,831.1Q658.5,820.4 674.6,819.5Q691.1,818.6 705.9,827.7M563.6,905.6Q583.9,878 602.2,859.3Q621.3,839.6 638.7,829.3Q656.6,818.6 672.8,817.7Q689.2,816.8 704.1,826M561.7,903.8Q582,876.1 600.3,857.4Q619.4,837.7 636.8,827.4Q654.7,816.8 670.9,815.9Q687.4,815.1 702.2,824.4M559.8,902Q580.1,874.3 598.4,855.6Q617.5,835.9 634.9,825.6Q652.8,815 669,814.2Q685.5,813.4 700.4,822.8M558,900.2Q578.2,872.5 596.5,853.8Q615.6,834.2 633,823.9Q650.9,813.3 667.1,812.6Q683.7,811.8 698.5,821.2M556.1,898.5Q576.3,870.8 594.6,852.1Q613.7,832.5 631.1,822.2Q649,811.7 665.3,811Q681.8,810.3 696.7,819.7M554.2,896.8Q574.5,869.1 592.7,850.4Q611.9,830.8 629.2,820.6Q647.2,810.1 663.4,809.4Q680,808.7 694.9,818.3M552.3,895.2Q572.6,867.5 590.8,848.8Q610,829.2 627.4,819Q645.3,808.5 661.6,807.9Q678.1,807.3 693,816.9M550.5,893.6Q570.7,865.9 589,847.2Q608.1,827.6 625.5,817.5Q643.4,807 659.7,806.4Q676.3,805.8 691.2,815.5M548.6,892.1Q568.9,864.4 587.1,845.7Q606.2,826.1 623.6,816Q641.6,805.5 657.9,805Q674.4,804.5 689.4,814.2M546.8,890.6Q567,862.9 585.2,844.2Q604.4,824.6 621.8,814.5Q639.7,804.1 656,803.6Q672.6,803.2 687.6,812.9M544.9,889.2Q565.1,861.5 583.4,842.8Q602.5,823.2 619.9,813.1Q637.9,802.8 654.2,802.3Q670.8,801.9 685.7,811.7M543.1,887.8Q563.1,860.3 581.3,841.7Q600.3,822.2 617.6,812.1Q635.4,801.7 651.6,801.1Q668.1,800.5 683.1,810M541.3,886.4Q561.1,859.2 579.1,840.7Q597.9,821.3 615.1,811.2Q632.8,800.7 648.9,799.9Q665.3,799.1 680.2,808.2M539.5,885.1Q559.1,858.1 576.9,839.7Q595.6,820.5 612.6,810.3Q630.2,799.8 646.3,798.7Q662.6,797.7 677.4,806.5M537.6,883.9Q557.1,857.1 574.8,838.8Q593.3,819.7 610.2,809.5Q627.6,798.9 643.6,797.7Q659.8,796.4 674.5,804.8M535.8,882.7Q555.1,856.2 572.6,838Q591,819 607.7,808.7Q625,798.1 640.9,796.7Q657,795.2 671.6,803.2M534,881.6Q553.1,855.3 570.5,837.2Q588.6,818.3 605.3,808Q622.4,797.3 638.2,795.7Q654.1,794 668.7,801.7M532.2,880.5Q551.1,854.4 568.3,836.4Q586.3,817.6 602.8,807.3Q619.8,796.6 635.5,794.8Q651.3,792.9 665.8,800.2M530.4,879.4Q549.1,853.6 566.2,835.7Q584,817.1 600.4,806.7Q617.2,796 632.7,793.9Q648.5,791.9 662.9,798.8M528.7,878.4Q547.1,852.9 564,835.1Q581.7,816.5 597.9,806.1Q614.6,795.4 630,793.2Q645.7,790.9 660,797.4M526.9,877.4Q545.2,852.1 561.9,834.5Q579.4,816.1 595.5,805.6Q612.1,794.8 627.3,792.4Q642.9,790 657.1,796.1M525.1,876.5Q543.2,851.5 559.8,833.9Q577.1,815.6 593,805.2Q609.5,794.4 624.6,791.8Q640,789.1 654.2,794.9M523.3,875.6Q541.2,850.9 557.6,833.4Q574.8,815.3 590.6,804.8Q606.9,793.9 621.9,791.1Q637.2,788.3 651.3,793.7M521.6,874.8Q539.3,850.3 555.5,833Q572.5,814.9 588.1,804.4Q604.3,793.6 619.2,790.6Q634.3,787.6 648.3,792.6M519.8,874Q537.3,849.8 553.4,832.6Q570.2,814.7 585.7,804.1Q601.7,793.3 616.4,790.1Q631.5,786.9 645.4,791.6M518.1,873.3Q541.3,841.1 562.1,821.3Q584,800.5 603.7,792.8Q624.1,784.8 642.4,790.6M516.4,872.6Q539.3,840.8 559.9,821.1Q581.5,800.4 601.1,792.5Q621.3,784.4 639.5,789.7M514.6,871.9Q537.2,840.5 557.6,820.9Q579,800.3 598.5,792.3Q618.4,784 636.5,788.9M512.9,871.3Q535.2,840.2 555.4,820.7Q576.6,800.3 595.8,792.1Q615.6,783.7 633.5,788.1M511.2,870.8Q533.3,840 553.2,820.6Q574.1,800.3 593.2,792Q612.8,783.4 630.6,787.4M509.5,870.3Q531.3,839.9 551,820.6Q571.7,800.4 590.5,791.9Q609.9,783.2 627.6,786.8M507.8,869.8Q529.3,839.8 548.8,820.6Q569.2,800.6 587.9,791.9Q607.1,783.1 624.6,786.2M506.1,869.4Q527.3,839.7 546.6,820.7Q566.8,800.8 585.3,792Q604.2,783 621.6,785.7M504.4,869Q525.3,839.7 544.4,820.8Q564.3,801 582.6,792.1Q601.4,783 618.6,785.3M502.7,868.6Q523.4,839.8 542.2,821Q561.9,801.3 580,792.3Q598.5,783 615.5,784.9M501,868.3Q521.4,839.8 540,821.2Q559.4,801.7 577.3,792.5Q595.7,783.1 612.5,784.6M499.4,868.1Q519.4,840 537.8,821.4Q557,802.1 574.7,792.8Q592.8,783.3 609.5,784.4M497.7,867.9Q517.5,840.1 535.6,821.7Q554.6,802.5 572,793.2Q589.9,783.6 606.5,784.2M496.1,867.7Q515.6,840.3 533.4,822.1Q552.1,803 569.4,793.6Q587.1,783.9 603.4,784.1M494.4,867.5Q513.6,840.6 531.3,822.5Q549.7,803.6 566.7,794Q584.2,784.2 600.4,784.1M492.8,867.5Q511.7,840.9 529.1,822.9Q547.2,804.2 564,794.6Q581.3,784.6 597.3,784.2M491.2,867.4Q509.8,841.2 526.9,823.4Q544.8,804.9 561.4,795.1Q578.4,785.1 594.2,784.3M489.5,867.4Q507.8,841.6 524.8,824Q542.4,805.6 558.7,795.8Q575.5,785.7 591.1,784.5M487.9,867.4Q505.9,842.1 522.6,824.6Q539.9,806.4 556.1,796.5Q572.6,786.3 588.1,784.8M486.3,867.5Q504,842.5 520.4,825.2Q537.5,807.2 553.4,797.2Q569.7,787 585,785.1M484.7,867.6Q502.1,843 518.3,825.9Q535.1,808.1 550.8,798Q566.9,787.7 581.9,785.5M483.1,867.8Q500.2,843.6 516.1,826.6Q532.7,809 548.1,798.9Q563.9,788.5 578.8,786M481.5,868Q498.3,844.2 514,827.4Q530.2,810 545.4,799.8Q561,789.4 575.6,786.6M479.9,868.2Q496.4,844.9 511.8,828.2Q527.8,811 542.8,800.8Q558.1,790.4 572.5,787.2M478.4,868.5Q494.6,845.5 509.7,829.1Q525.4,812.1 540.1,801.9Q555.2,791.4 569.4,787.9M476.8,868.8Q500.8,834.7 522.6,815Q545.4,794.3 566.3,788.7M475.3,869.1Q498.8,835.7 520.2,816.1Q542.6,795.5 563.1,789.6M473.7,869.5Q496.8,836.8 517.8,817.3Q539.8,796.9 560,790.6M472.2,869.9Q494.8,837.8 515.4,818.5Q537,798.3 556.8,791.6M470.6,870.4Q492.7,839 513,819.8Q534.2,799.8 553.6,792.7M469.1,870.9Q490.7,840.1 510.6,821.1Q531.3,801.3 550.4,793.9M467.6,871.4Q488.7,841.3 508.2,822.5Q528.5,802.9 547.2,795.2M466.1,872Q486.7,842.6 505.8,823.9Q525.7,804.5 544.1,796.5M464.6,872.6Q484.7,843.9 503.4,825.4Q522.8,806.2 540.8,798M463.1,873.3Q482.8,845.2 501,827Q520,808 537.6,799.5M461.6,873.9Q480.8,846.5 498.6,828.6Q517.1,809.9 534.4,801.1M460.1,874.7Q478.8,848 496.2,830.2Q514.3,811.8 531.2,802.8M458.6,875.4Q476.8,849.4 493.8,831.9Q511.4,813.7 527.9,804.5M457.2,876.2Q474.9,850.9 491.4,833.7Q508.6,815.8 524.7,806.4M455.7,877Q472.9,852.4 489,835.5Q505.7,817.9 521.4,808.3M454.3,877.9Q470.9,854 486.6,837.3Q502.8,820.1 518.1,810.4"/>
<path fill="none" stroke="#000" stroke-width="0.8" stroke-linejoin="round" d="M518.1,810.4L520.3,809L522.5,807.7L524.7,806.4L526.8,805.1L529,803.9L531.2,802.8L533.3,801.6L535.5,800.5L537.6,799.5L539.8,798.4L541.9,797.5L544.1,796.5L546.2,795.6L548.3,794.7L550.4,793.9L552.5,793.1L554.7,792.3L556.8,791.6L558.9,790.9L561,790.2L563.1,789.6L565.2,789L567.3,788.5L569.4,787.9L571.5,787.5L573.6,787L575.6,786.6L577.7,786.2L579.8,785.8L581.9,785.5L583.9,785.2L586,785L588.1,784.8L590.1,784.6L592.2,784.4L594.2,784.3L596.3,784.2L598.3,784.1L600.4,784.1L602.4,784.1L604.4,784.2L606.5,784.2L608.5,784.3L610.5,784.4L612.5,784.6L614.5,784.8L616.6,785L618.6,785.3L620.6,785.5L622.6,785.9L624.6,786.2L628.6,787L631.5,787.6L634.2,788.3L636.5,788.9L639.4,789.7L642.1,790.5L644.4,791.3L647.4,792.3L650,793.3L652.2,794.1L655.4,795.4L658.1,796.5L660.8,797.7L663.5,799L665.8,800.2L668.9,801.8L671.6,803.2L674.4,804.7L677.1,806.3L679.3,807.6L682.7,809.7L685,811.2L685.4,811.5"/>
<circle cx="449.8" cy="775.9" r="1.5"/><circle cx="450.9" cy="801.8" r="1.5"/><circle cx="452.1" cy="827.8" r="1.5"/><circle cx="453.2" cy="853.8" r="1.5"/><circle cx="454.3" cy="879.7" r="1.5"/><circle cx="455.5" cy="905.7" r="1.5"/><circle cx="456.6" cy="931.7" r="1.5"/><circle cx="592.7" cy="1051.9" r="1.5"/><circle cx="559.2" cy="1034" r="1.5"/><circle cx="525.7" cy="1016.2" r="1.5"/><circle cx="492.2" cy="998.4" r="1.5"/><circle cx="458.8" cy="980.5" r="1.5"/><circle cx="626.2" cy="1034" r="1.5"/><circle cx="659.7" cy="1016.2" r="1.5"/><circle cx="693.2" cy="998.4" r="1.5"/><circle cx="726.6" cy="980.5" r="1.5"/>
<text transform="translate(444.1,773.3) scale(0.8430,1)" text-anchor="end" font-size="12.0">60.0</text>
<text transform="translate(445.2,799.2) scale(0.8430,1)" text-anchor="end" font-size="12.0">53.3</text>
<text transform="translate(446.4,825.2) scale(0.8430,1)" text-anchor="end" font-size="12.0">46.7</text>
<text transform="translate(447.5,851.2) scale(0.8430,1)" text-anchor="end" font-size="12.0">40.0</text>
<text transform="translate(448.6,877.1) scale(0.8430,1)" text-anchor="end" font-size="12.0">33.3</text>
<text transform="translate(449.8,903.1) scale(0.8430,1)" text-anchor="end" font-size="12.0">26.7</text>
<text transform="translate(450.9,929.1) scale(0.8430,1)" text-anchor="end" font-size="12.0">20.0</text>
<text transform="translate(587.5,1064.2) scale(0.8430,1)" text-anchor="end" font-size="12.0">-1.00</text>
<text transform="translate(554,1046.3) scale(0.8430,1)" text-anchor="end" font-size="12.0">-0.50</text>
<text transform="translate(520.5,1028.5) scale(0.8430,1)" text-anchor="end" font-size="12.0">0.00</text>
<text transform="translate(487,1010.7) scale(0.8430,1)" text-anchor="end" font-size="12.0">0.50</text>
<text transform="translate(453.5,992.8) scale(0.8430,1)" text-anchor="end" font-size="12.0">1.00</text>
<text transform="translate(597.9,1064.2) scale(0.8430,1)" text-anchor="start" font-size="12.0">-1.00</text>
<text transform="translate(631.4,1046.3) scale(0.8430,1)" text-anchor="start" font-size="12.0">-0.50</text>
<text transform="translate(664.9,1028.5) scale(0.8430,1)" text-anchor="start" font-size="12.0">0.00</text>
<text transform="translate(698.4,1010.7) scale(0.8430,1)" text-anchor="start" font-size="12.0">0.50</text>
<text transform="translate(731.9,992.8) scale(0.8430,1)" text-anchor="start" font-size="12.0">1.00</text>
<text transform="translate(473.8,1052.5) scale(0.7712,1)" text-anchor="middle" font-size="17.7">Solid-liquid ratio</text>
<text transform="translate(711.6,1052.5) scale(0.7712,1)" text-anchor="middle" font-size="17.7">Ethanol concentration</text>
<text transform="translate(411,881.2) rotate(-90) scale(1.2966,1)" text-anchor="middle" font-size="13.65">Extraction yield</text>
<text x="402.8" y="756.3" font-size="16" font-weight="normal" style="fill:#e8000d">(f)</text>
</g>
</svg></body></html>
